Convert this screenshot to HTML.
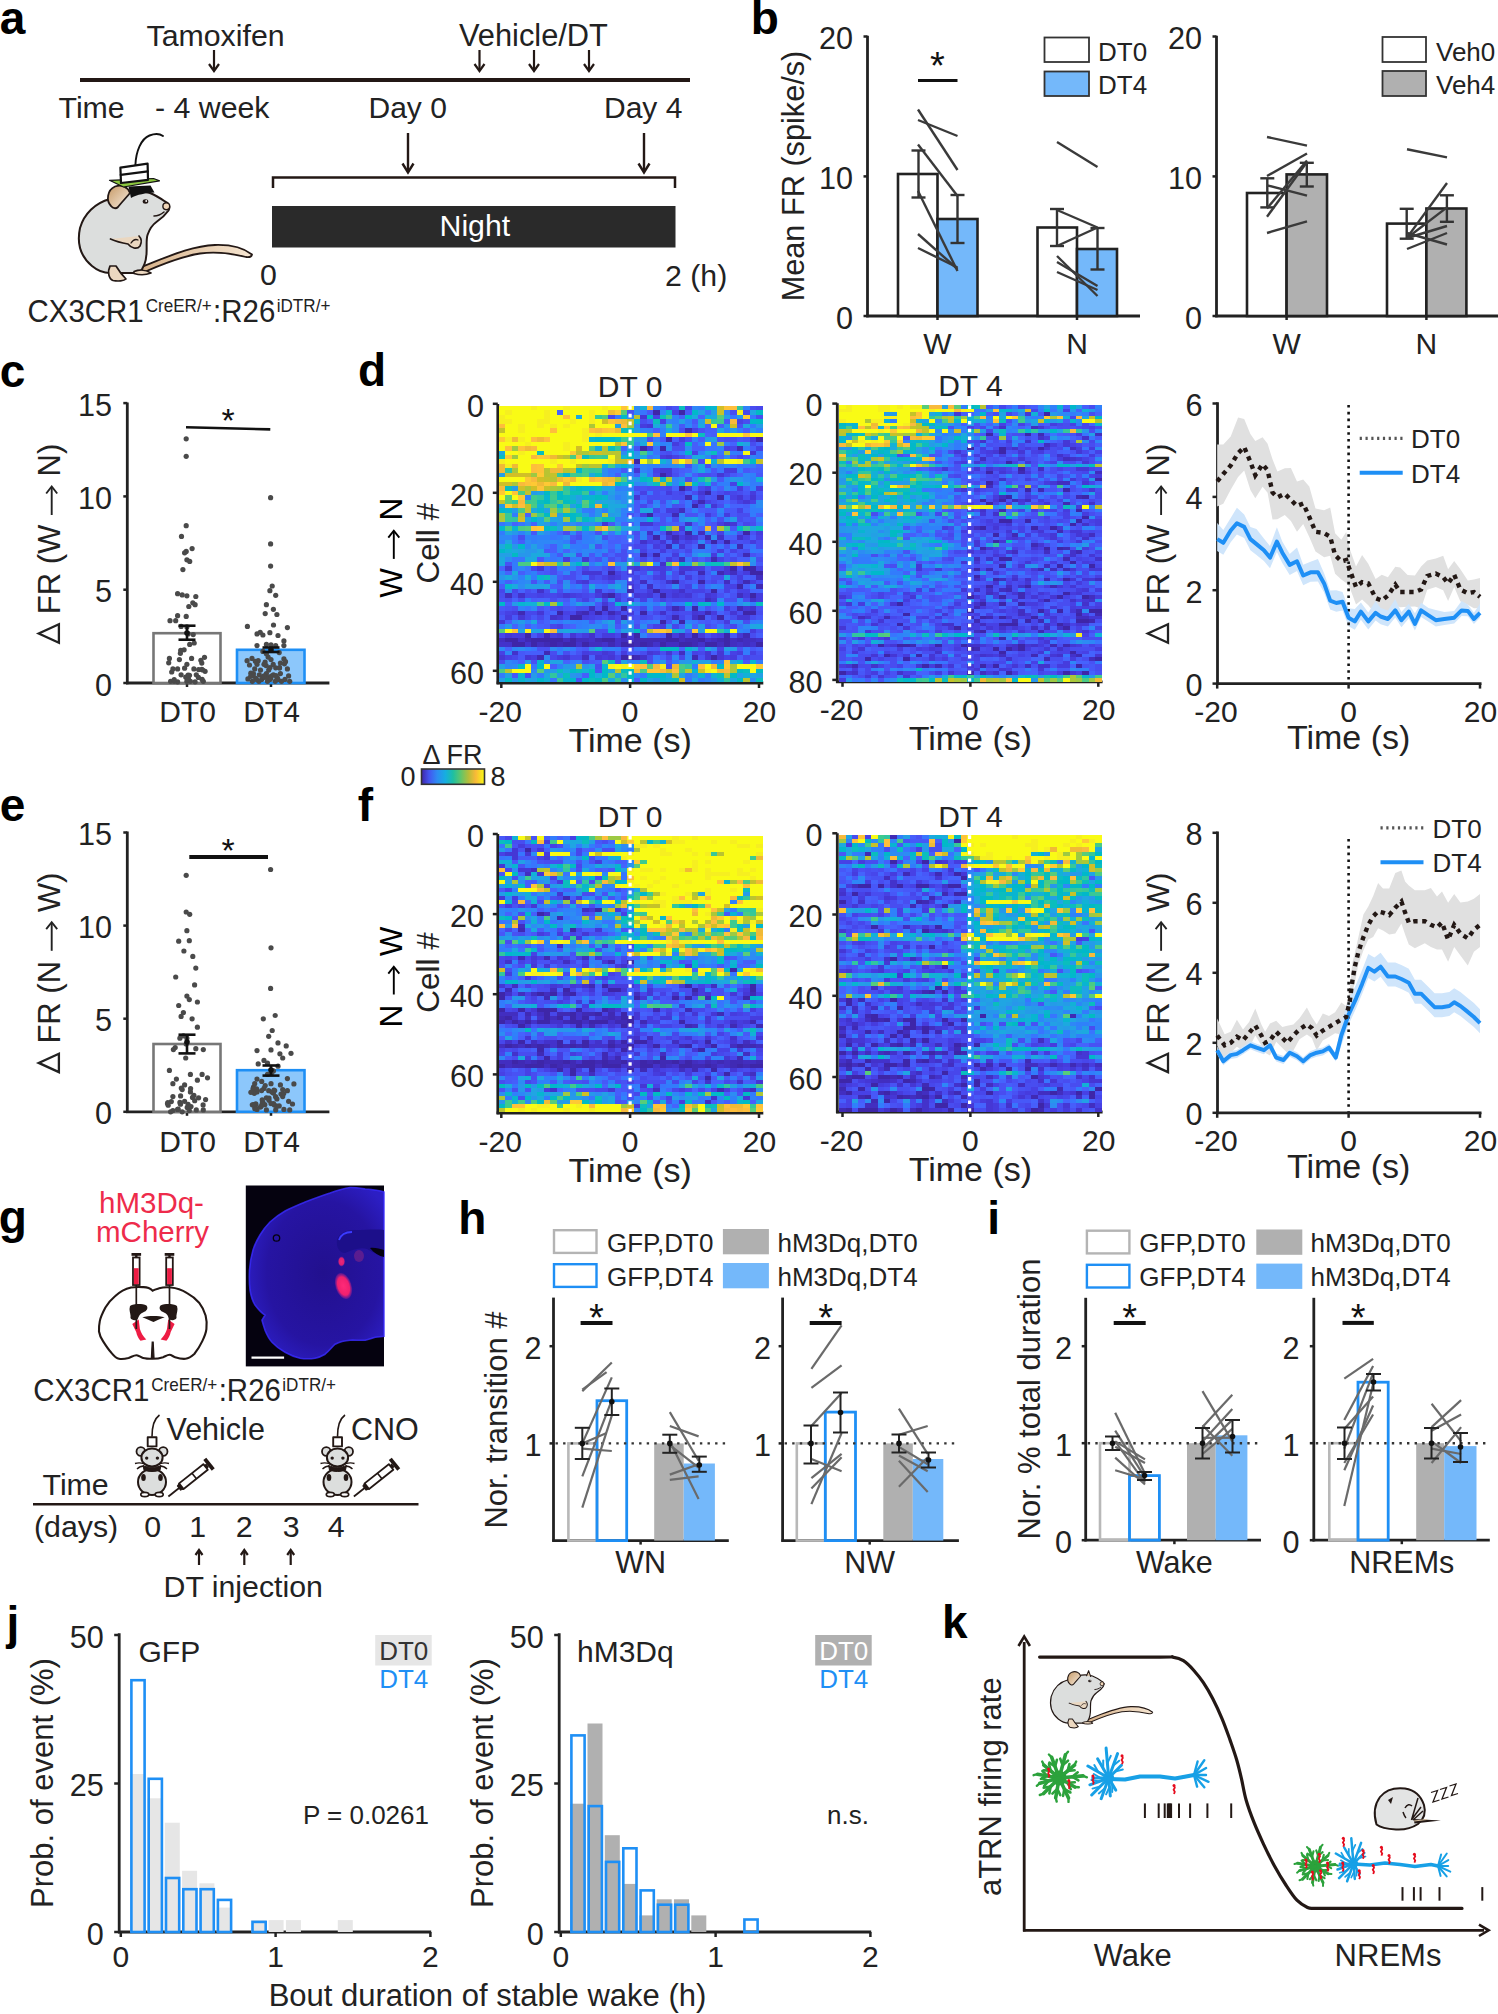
<!DOCTYPE html>
<html><head><meta charset="utf-8"><style>
html,body{margin:0;padding:0;background:#fff;}
svg{display:block;}
text{font-family:"Liberation Sans", sans-serif;}
</style></head><body>
<svg xmlns="http://www.w3.org/2000/svg" width="1498" height="2014" viewBox="0 0 1498 2014" font-family='"Liberation Sans", sans-serif' font-size="30" fill="#222">
<rect width="1498" height="2014" fill="#fff"/>
<text x="-0.2" y="34.3" font-weight="bold" fill="#000" font-size="46">a</text>
<text x="146.5" y="46" font-size="30.3">Tamoxifen</text>
<line x1="214" y1="50" x2="214" y2="69" stroke="#231815" stroke-width="2.2"/>
<path d="M209,64 L214,71 L219,64" fill="none" stroke="#231815" stroke-width="2.2" stroke-linejoin="miter"/>
<text x="459" y="46" font-size="30.8">Vehicle/DT</text>
<line x1="479.5" y1="50" x2="479.5" y2="69" stroke="#231815" stroke-width="2.2"/>
<path d="M474.5,64 L479.5,71 L484.5,64" fill="none" stroke="#231815" stroke-width="2.2" stroke-linejoin="miter"/>
<line x1="534" y1="50" x2="534" y2="69" stroke="#231815" stroke-width="2.2"/>
<path d="M529,64 L534,71 L539,64" fill="none" stroke="#231815" stroke-width="2.2" stroke-linejoin="miter"/>
<line x1="589" y1="50" x2="589" y2="69" stroke="#231815" stroke-width="2.2"/>
<path d="M584,64 L589,71 L594,64" fill="none" stroke="#231815" stroke-width="2.2" stroke-linejoin="miter"/>
<line x1="80" y1="80" x2="690" y2="80" stroke="#231815" stroke-width="4"/>
<text x="58.5" y="117.5" font-size="30.3">Time</text>
<text x="155" y="117.5" font-size="30.3">- 4 week</text>
<text x="368.5" y="117.5">Day 0</text>
<text x="604" y="117.5">Day 4</text>
<line x1="408" y1="133" x2="408" y2="170.5" stroke="#231815" stroke-width="2.4"/>
<path d="M402.5,163.5 L408,172.5 L413.5,163.5" fill="none" stroke="#231815" stroke-width="2.4" stroke-linejoin="miter"/>
<line x1="644" y1="133" x2="644" y2="170.5" stroke="#231815" stroke-width="2.4"/>
<path d="M638.5,163.5 L644,172.5 L649.5,163.5" fill="none" stroke="#231815" stroke-width="2.4" stroke-linejoin="miter"/>
<path d="M273,188 L273,177.5 L675,177.5 L675,188" fill="none" stroke="#231815" stroke-width="2.5"/>
<rect x="272" y="206" width="403.5" height="41.5" fill="#2a2a2a"/>
<text x="439.5" y="236" fill="#fff" font-size="30.3">Night</text>
<text x="268.5" y="285" text-anchor="middle" font-size="30.3">0</text>
<text x="665" y="286" font-size="30.3">2 (h)</text>
<text transform="translate(27.6,322) scale(0.95,1)" font-size="31">CX3CR1<tspan font-size="18" dx="2" dy="-10">CreER/+</tspan><tspan dx="1.5" dy="10">:R26</tspan><tspan font-size="18" dx="1.5" dy="-10">iDTR/+</tspan></text>
<text x="750.8" y="34.3" font-weight="bold" fill="#000" font-size="46">b</text>
<line x1="867.5" y1="35.8" x2="867.5" y2="317.2" stroke="#222" stroke-width="2.8"/>
<line x1="866.3" y1="316" x2="1140" y2="316" stroke="#222" stroke-width="2.8"/>
<line x1="863.5" y1="316" x2="867.5" y2="316" stroke="#222" stroke-width="2.5"/>
<text x="853" y="328.5" text-anchor="end" font-size="30.6">0</text>
<line x1="863.5" y1="176.4" x2="867.5" y2="176.4" stroke="#222" stroke-width="2.5"/>
<text x="853" y="188.9" text-anchor="end" font-size="30.6">10</text>
<line x1="863.5" y1="36.5" x2="867.5" y2="36.5" stroke="#222" stroke-width="2.5"/>
<text x="853" y="49" text-anchor="end" font-size="30.6">20</text>
<line x1="937.5" y1="316" x2="937.5" y2="320" stroke="#222" stroke-width="2.5"/>
<text x="937.5" y="354" text-anchor="middle">W</text>
<line x1="1077" y1="316" x2="1077" y2="320" stroke="#222" stroke-width="2.5"/>
<text x="1077" y="354" text-anchor="middle">N</text>
<text transform="translate(804,176) rotate(-90)" text-anchor="middle" font-size="30.7">Mean FR (spike/s)</text>
<rect x="898" y="174" width="39.5" height="142" fill="#fff" stroke="#222" stroke-width="2.6"/>
<rect x="937.5" y="219" width="40" height="97" fill="#74b8fa" stroke="#222" stroke-width="2.6"/>
<rect x="1037.5" y="227.5" width="39.5" height="88.5" fill="#fff" stroke="#222" stroke-width="2.6"/>
<rect x="1077" y="249" width="40" height="67" fill="#74b8fa" stroke="#222" stroke-width="2.6"/>
<line x1="918.5" y1="150.5" x2="918.5" y2="197.5" stroke="#333" stroke-width="2.4"/>
<line x1="911.5" y1="150.5" x2="925.5" y2="150.5" stroke="#333" stroke-width="2.4"/>
<line x1="911.5" y1="197.5" x2="925.5" y2="197.5" stroke="#333" stroke-width="2.4"/>
<line x1="957.5" y1="195" x2="957.5" y2="243" stroke="#333" stroke-width="2.4"/>
<line x1="950.5" y1="195" x2="964.5" y2="195" stroke="#333" stroke-width="2.4"/>
<line x1="950.5" y1="243" x2="964.5" y2="243" stroke="#333" stroke-width="2.4"/>
<line x1="1057" y1="209" x2="1057" y2="246" stroke="#333" stroke-width="2.4"/>
<line x1="1050" y1="209" x2="1064" y2="209" stroke="#333" stroke-width="2.4"/>
<line x1="1050" y1="246" x2="1064" y2="246" stroke="#333" stroke-width="2.4"/>
<line x1="1097.5" y1="228" x2="1097.5" y2="269.5" stroke="#333" stroke-width="2.4"/>
<line x1="1090.5" y1="228" x2="1104.5" y2="228" stroke="#333" stroke-width="2.4"/>
<line x1="1090.5" y1="269.5" x2="1104.5" y2="269.5" stroke="#333" stroke-width="2.4"/>
<line x1="918" y1="109.5" x2="957.5" y2="170" stroke="#3a3a3a" stroke-width="2.4"/>
<line x1="918" y1="120" x2="957.5" y2="136" stroke="#3a3a3a" stroke-width="2.4"/>
<line x1="918" y1="144.5" x2="957.5" y2="196" stroke="#3a3a3a" stroke-width="2.4"/>
<line x1="918" y1="191" x2="957.5" y2="271" stroke="#3a3a3a" stroke-width="2.4"/>
<line x1="918" y1="234" x2="957.5" y2="269" stroke="#3a3a3a" stroke-width="2.4"/>
<line x1="918" y1="248" x2="957.5" y2="267.5" stroke="#3a3a3a" stroke-width="2.4"/>
<line x1="1057" y1="142" x2="1097.5" y2="167" stroke="#3a3a3a" stroke-width="2.4"/>
<line x1="1057" y1="210" x2="1097.5" y2="227.5" stroke="#3a3a3a" stroke-width="2.4"/>
<line x1="1057" y1="246" x2="1097.5" y2="227.5" stroke="#3a3a3a" stroke-width="2.4"/>
<line x1="1057" y1="256" x2="1097.5" y2="296" stroke="#3a3a3a" stroke-width="2.4"/>
<line x1="1057" y1="272" x2="1097.5" y2="290" stroke="#3a3a3a" stroke-width="2.4"/>
<line x1="1057" y1="262" x2="1097.5" y2="286" stroke="#3a3a3a" stroke-width="2.4"/>
<line x1="918" y1="80.5" x2="957.5" y2="80.5" stroke="#111" stroke-width="3.2"/>
<text x="937.5" y="79" text-anchor="middle" fill="#111" font-size="38">*</text>
<rect x="1044.5" y="37.5" width="44.5" height="24.5" fill="#fff" stroke="#333" stroke-width="1.8"/>
<rect x="1044.5" y="71.5" width="44.5" height="24.5" fill="#74b8fa" stroke="#333" stroke-width="1.8"/>
<text x="1098" y="60.6" font-size="26">DT0</text>
<text x="1098" y="94.3" font-size="26">DT4</text>
<line x1="1216.5" y1="35.8" x2="1216.5" y2="317.2" stroke="#222" stroke-width="2.8"/>
<line x1="1215.3" y1="316" x2="1498" y2="316" stroke="#222" stroke-width="2.8"/>
<line x1="1212.5" y1="316" x2="1216.5" y2="316" stroke="#222" stroke-width="2.5"/>
<text x="1202" y="328.5" text-anchor="end" font-size="30.6">0</text>
<line x1="1212.5" y1="176.4" x2="1216.5" y2="176.4" stroke="#222" stroke-width="2.5"/>
<text x="1202" y="188.9" text-anchor="end" font-size="30.6">10</text>
<line x1="1212.5" y1="36.5" x2="1216.5" y2="36.5" stroke="#222" stroke-width="2.5"/>
<text x="1202" y="49" text-anchor="end" font-size="30.6">20</text>
<line x1="1286.6" y1="316" x2="1286.6" y2="320" stroke="#222" stroke-width="2.5"/>
<text x="1286.6" y="354" text-anchor="middle">W</text>
<line x1="1426.4" y1="316" x2="1426.4" y2="320" stroke="#222" stroke-width="2.5"/>
<text x="1426.4" y="354" text-anchor="middle">N</text>
<rect x="1247" y="193" width="39.6" height="123" fill="#fff" stroke="#222" stroke-width="2.6"/>
<rect x="1286.6" y="174.4" width="40.4" height="141.6" fill="#b0b0b0" stroke="#222" stroke-width="2.6"/>
<rect x="1387" y="223.6" width="39.4" height="92.4" fill="#fff" stroke="#222" stroke-width="2.6"/>
<rect x="1426.4" y="208.5" width="40" height="107.5" fill="#b0b0b0" stroke="#222" stroke-width="2.6"/>
<line x1="1267.3" y1="178.3" x2="1267.3" y2="207.4" stroke="#333" stroke-width="2.4"/>
<line x1="1260.3" y1="178.3" x2="1274.3" y2="178.3" stroke="#333" stroke-width="2.4"/>
<line x1="1260.3" y1="207.4" x2="1274.3" y2="207.4" stroke="#333" stroke-width="2.4"/>
<line x1="1306.8" y1="162.8" x2="1306.8" y2="186.5" stroke="#333" stroke-width="2.4"/>
<line x1="1299.8" y1="162.8" x2="1313.8" y2="162.8" stroke="#333" stroke-width="2.4"/>
<line x1="1299.8" y1="186.5" x2="1313.8" y2="186.5" stroke="#333" stroke-width="2.4"/>
<line x1="1406.7" y1="208.8" x2="1406.7" y2="238.7" stroke="#333" stroke-width="2.4"/>
<line x1="1399.7" y1="208.8" x2="1413.7" y2="208.8" stroke="#333" stroke-width="2.4"/>
<line x1="1399.7" y1="238.7" x2="1413.7" y2="238.7" stroke="#333" stroke-width="2.4"/>
<line x1="1446.9" y1="195.3" x2="1446.9" y2="221.8" stroke="#333" stroke-width="2.4"/>
<line x1="1439.9" y1="195.3" x2="1453.9" y2="195.3" stroke="#333" stroke-width="2.4"/>
<line x1="1439.9" y1="221.8" x2="1453.9" y2="221.8" stroke="#333" stroke-width="2.4"/>
<line x1="1267" y1="137" x2="1307" y2="145.6" stroke="#3a3a3a" stroke-width="2.4"/>
<line x1="1267" y1="176" x2="1307" y2="153.5" stroke="#3a3a3a" stroke-width="2.4"/>
<line x1="1267" y1="185.3" x2="1307" y2="195.7" stroke="#3a3a3a" stroke-width="2.4"/>
<line x1="1267" y1="208.5" x2="1307" y2="160.4" stroke="#3a3a3a" stroke-width="2.4"/>
<line x1="1267" y1="216.7" x2="1307" y2="162" stroke="#3a3a3a" stroke-width="2.4"/>
<line x1="1267" y1="233" x2="1307" y2="221.3" stroke="#3a3a3a" stroke-width="2.4"/>
<line x1="1407" y1="149.3" x2="1447" y2="157.4" stroke="#3a3a3a" stroke-width="2.4"/>
<line x1="1407" y1="237.6" x2="1447" y2="183" stroke="#3a3a3a" stroke-width="2.4"/>
<line x1="1407" y1="238" x2="1447" y2="207.4" stroke="#3a3a3a" stroke-width="2.4"/>
<line x1="1407" y1="238" x2="1447" y2="226" stroke="#3a3a3a" stroke-width="2.4"/>
<line x1="1407" y1="233" x2="1447" y2="244.5" stroke="#3a3a3a" stroke-width="2.4"/>
<line x1="1407" y1="249" x2="1447" y2="233" stroke="#3a3a3a" stroke-width="2.4"/>
<rect x="1382.5" y="37" width="43.5" height="25" fill="#fff" stroke="#333" stroke-width="1.8"/>
<rect x="1382.5" y="71" width="43.5" height="25" fill="#b0b0b0" stroke="#333" stroke-width="1.8"/>
<text x="1436" y="60.6" font-size="26">Veh0</text>
<text x="1436" y="94.3" font-size="26">Veh4</text>
<text x="-0.2" y="386.5" font-weight="bold" fill="#000" font-size="46">c</text>
<line x1="127.3" y1="402.5" x2="127.3" y2="684.2" stroke="#222" stroke-width="2.8"/>
<line x1="126.1" y1="683" x2="329.4" y2="683" stroke="#222" stroke-width="2.8"/>
<line x1="123.3" y1="683" x2="127.3" y2="683" stroke="#222" stroke-width="2.5"/>
<text x="112" y="695.5" text-anchor="end" font-size="30.6">0</text>
<line x1="123.3" y1="589.7" x2="127.3" y2="589.7" stroke="#222" stroke-width="2.5"/>
<text x="112" y="602.2" text-anchor="end" font-size="30.6">5</text>
<line x1="123.3" y1="496.4" x2="127.3" y2="496.4" stroke="#222" stroke-width="2.5"/>
<text x="112" y="508.9" text-anchor="end" font-size="30.6">10</text>
<line x1="123.3" y1="403.1" x2="127.3" y2="403.1" stroke="#222" stroke-width="2.5"/>
<text x="112" y="415.6" text-anchor="end" font-size="30.6">15</text>
<line x1="187" y1="683" x2="187" y2="687" stroke="#222" stroke-width="2.5"/>
<text x="187.5" y="721.5" text-anchor="middle">DT0</text>
<line x1="271" y1="683" x2="271" y2="687" stroke="#222" stroke-width="2.5"/>
<text x="271.5" y="721.5" text-anchor="middle">DT4</text>
<path d="M58.9,624.3 L38.7,633.5 L58.9,642.7 Z" fill="none" stroke="#222" stroke-width="2.3" stroke-linejoin="miter"/>
<text transform="translate(60,614.2) rotate(-90)" font-size="31">FR (W</text>
<text transform="translate(60,476.4) rotate(-90)" font-size="31">N)</text>
<line x1="51.7" y1="515" x2="51.7" y2="487.5" stroke="#222" stroke-width="1.9"/>
<path d="M46.2,493.5 L51.7,486.5 L57.2,493.5" fill="none" stroke="#222" stroke-width="1.9"/>
<rect x="153.5" y="633.2" width="67" height="49.8" fill="#fff" stroke="#777" stroke-width="2.6"/>
<rect x="237" y="649.8" width="67.5" height="33.2" fill="#8cc7fb" stroke="#1e8ff5" stroke-width="2.6"/>
<circle cx="186.2" cy="438.8" r="2.6" fill="#4a4a4a"/>
<circle cx="186.2" cy="456.3" r="2.6" fill="#4a4a4a"/>
<circle cx="186.2" cy="525.7" r="2.6" fill="#4a4a4a"/>
<circle cx="181.5" cy="536.4" r="2.6" fill="#4a4a4a"/>
<circle cx="192.1" cy="548.6" r="2.6" fill="#4a4a4a"/>
<circle cx="186.2" cy="551.4" r="2.6" fill="#4a4a4a"/>
<circle cx="184.6" cy="552.8" r="2.6" fill="#4a4a4a"/>
<circle cx="186.9" cy="559.8" r="2.6" fill="#4a4a4a"/>
<circle cx="189.7" cy="561.4" r="2.6" fill="#4a4a4a"/>
<circle cx="182.9" cy="569.6" r="2.6" fill="#4a4a4a"/>
<circle cx="177.6" cy="593.7" r="2.6" fill="#4a4a4a"/>
<circle cx="186.9" cy="595.8" r="2.6" fill="#4a4a4a"/>
<circle cx="195.8" cy="596.5" r="2.6" fill="#4a4a4a"/>
<circle cx="182.2" cy="594.9" r="2.6" fill="#4a4a4a"/>
<circle cx="192.8" cy="602.8" r="2.6" fill="#4a4a4a"/>
<circle cx="188.8" cy="606.5" r="2.6" fill="#4a4a4a"/>
<circle cx="195.1" cy="604.7" r="2.6" fill="#4a4a4a"/>
<circle cx="177.6" cy="615.7" r="2.6" fill="#4a4a4a"/>
<circle cx="186.2" cy="616.4" r="2.6" fill="#4a4a4a"/>
<circle cx="181.1" cy="626.4" r="2.6" fill="#4a4a4a"/>
<circle cx="186.9" cy="626.9" r="2.6" fill="#4a4a4a"/>
<circle cx="188.1" cy="633.9" r="2.6" fill="#4a4a4a"/>
<circle cx="193.2" cy="634.6" r="2.6" fill="#4a4a4a"/>
<circle cx="189.7" cy="644.4" r="2.6" fill="#4a4a4a"/>
<circle cx="180.4" cy="653.3" r="2.6" fill="#4a4a4a"/>
<circle cx="169.4" cy="658.4" r="2.6" fill="#4a4a4a"/>
<circle cx="179.4" cy="659.6" r="2.6" fill="#4a4a4a"/>
<circle cx="191.6" cy="658.4" r="2.6" fill="#4a4a4a"/>
<circle cx="200.9" cy="660.3" r="2.6" fill="#4a4a4a"/>
<circle cx="186.9" cy="664.3" r="2.6" fill="#4a4a4a"/>
<circle cx="172.9" cy="668.9" r="2.6" fill="#4a4a4a"/>
<circle cx="177.6" cy="668.9" r="2.6" fill="#4a4a4a"/>
<circle cx="184.6" cy="668.2" r="2.6" fill="#4a4a4a"/>
<circle cx="193.9" cy="668.9" r="2.6" fill="#4a4a4a"/>
<circle cx="198.6" cy="669.6" r="2.6" fill="#4a4a4a"/>
<circle cx="205.1" cy="671.3" r="2.6" fill="#4a4a4a"/>
<circle cx="171.7" cy="672" r="2.6" fill="#4a4a4a"/>
<circle cx="181.1" cy="674.8" r="2.6" fill="#4a4a4a"/>
<circle cx="188.1" cy="675.2" r="2.6" fill="#4a4a4a"/>
<circle cx="185.7" cy="677.1" r="2.6" fill="#4a4a4a"/>
<circle cx="196.3" cy="674.8" r="2.6" fill="#4a4a4a"/>
<circle cx="170.6" cy="681.3" r="2.6" fill="#4a4a4a"/>
<circle cx="186.9" cy="681.3" r="2.6" fill="#4a4a4a"/>
<circle cx="203.3" cy="681.3" r="2.6" fill="#4a4a4a"/>
<circle cx="177.6" cy="681.8" r="2.6" fill="#4a4a4a"/>
<circle cx="195.1" cy="681.8" r="2.6" fill="#4a4a4a"/>
<circle cx="202.1" cy="679.4" r="2.6" fill="#4a4a4a"/>
<circle cx="174.1" cy="681.3" r="2.6" fill="#4a4a4a"/>
<circle cx="190.4" cy="681.3" r="2.6" fill="#4a4a4a"/>
<circle cx="270.6" cy="497.7" r="2.6" fill="#4a4a4a"/>
<circle cx="270.6" cy="543.9" r="2.6" fill="#4a4a4a"/>
<circle cx="270.6" cy="566.1" r="2.6" fill="#4a4a4a"/>
<circle cx="272.2" cy="586" r="2.6" fill="#4a4a4a"/>
<circle cx="269.9" cy="590.7" r="2.6" fill="#4a4a4a"/>
<circle cx="275.7" cy="595.3" r="2.6" fill="#4a4a4a"/>
<circle cx="266.4" cy="604.7" r="2.6" fill="#4a4a4a"/>
<circle cx="273.4" cy="609.3" r="2.6" fill="#4a4a4a"/>
<circle cx="265.2" cy="613.6" r="2.6" fill="#4a4a4a"/>
<circle cx="276.9" cy="614.5" r="2.6" fill="#4a4a4a"/>
<circle cx="269.9" cy="632.7" r="2.6" fill="#4a4a4a"/>
<circle cx="257" cy="633.9" r="2.6" fill="#4a4a4a"/>
<circle cx="262.9" cy="635" r="2.6" fill="#4a4a4a"/>
<circle cx="278" cy="635.5" r="2.6" fill="#4a4a4a"/>
<circle cx="283.9" cy="640.9" r="2.6" fill="#4a4a4a"/>
<circle cx="266.4" cy="644.4" r="2.6" fill="#4a4a4a"/>
<circle cx="271" cy="644.9" r="2.6" fill="#4a4a4a"/>
<circle cx="257" cy="645.6" r="2.6" fill="#4a4a4a"/>
<circle cx="275.7" cy="645.6" r="2.6" fill="#4a4a4a"/>
<circle cx="283.9" cy="645.6" r="2.6" fill="#4a4a4a"/>
<circle cx="262.9" cy="651.4" r="2.6" fill="#4a4a4a"/>
<circle cx="279.2" cy="652.6" r="2.6" fill="#4a4a4a"/>
<circle cx="266.4" cy="653.7" r="2.6" fill="#4a4a4a"/>
<circle cx="258.2" cy="660.7" r="2.6" fill="#4a4a4a"/>
<circle cx="271" cy="659.6" r="2.6" fill="#4a4a4a"/>
<circle cx="283.9" cy="658.9" r="2.6" fill="#4a4a4a"/>
<circle cx="257" cy="664.3" r="2.6" fill="#4a4a4a"/>
<circle cx="264" cy="664.3" r="2.6" fill="#4a4a4a"/>
<circle cx="280.4" cy="663.1" r="2.6" fill="#4a4a4a"/>
<circle cx="254.7" cy="668.9" r="2.6" fill="#4a4a4a"/>
<circle cx="260.5" cy="670.1" r="2.6" fill="#4a4a4a"/>
<circle cx="268.7" cy="670.1" r="2.6" fill="#4a4a4a"/>
<circle cx="275.7" cy="667.8" r="2.6" fill="#4a4a4a"/>
<circle cx="287.4" cy="668.9" r="2.6" fill="#4a4a4a"/>
<circle cx="253.5" cy="673.6" r="2.6" fill="#4a4a4a"/>
<circle cx="259.3" cy="674.8" r="2.6" fill="#4a4a4a"/>
<circle cx="266.4" cy="673.6" r="2.6" fill="#4a4a4a"/>
<circle cx="273.4" cy="674.8" r="2.6" fill="#4a4a4a"/>
<circle cx="280.4" cy="673.6" r="2.6" fill="#4a4a4a"/>
<circle cx="288.6" cy="675.9" r="2.6" fill="#4a4a4a"/>
<circle cx="255.8" cy="678.3" r="2.6" fill="#4a4a4a"/>
<circle cx="261.7" cy="679.4" r="2.6" fill="#4a4a4a"/>
<circle cx="269.9" cy="679.4" r="2.6" fill="#4a4a4a"/>
<circle cx="278" cy="679.4" r="2.6" fill="#4a4a4a"/>
<circle cx="285" cy="679.4" r="2.6" fill="#4a4a4a"/>
<circle cx="252.3" cy="681.3" r="2.6" fill="#4a4a4a"/>
<circle cx="267.5" cy="681.3" r="2.6" fill="#4a4a4a"/>
<circle cx="289.7" cy="681.3" r="2.6" fill="#4a4a4a"/>
<circle cx="262.9" cy="677.1" r="2.6" fill="#4a4a4a"/>
<circle cx="281.5" cy="681.3" r="2.6" fill="#4a4a4a"/>
<circle cx="275.2" cy="681.3" r="2.6" fill="#4a4a4a"/>
<circle cx="258.9" cy="681.3" r="2.6" fill="#4a4a4a"/>
<circle cx="202.8" cy="670" r="2.6" fill="#4a4a4a"/>
<circle cx="174.2" cy="679.7" r="2.6" fill="#4a4a4a"/>
<circle cx="170" cy="620.7" r="2.6" fill="#4a4a4a"/>
<circle cx="187.5" cy="679.3" r="2.6" fill="#4a4a4a"/>
<circle cx="194.2" cy="643" r="2.6" fill="#4a4a4a"/>
<circle cx="180.7" cy="650.4" r="2.6" fill="#4a4a4a"/>
<circle cx="201.8" cy="669.4" r="2.6" fill="#4a4a4a"/>
<circle cx="186.7" cy="677.6" r="2.6" fill="#4a4a4a"/>
<circle cx="175.7" cy="620.7" r="2.6" fill="#4a4a4a"/>
<circle cx="188.5" cy="678.9" r="2.6" fill="#4a4a4a"/>
<circle cx="198.4" cy="677.4" r="2.6" fill="#4a4a4a"/>
<circle cx="204.5" cy="657.3" r="2.6" fill="#4a4a4a"/>
<circle cx="168.7" cy="662.8" r="2.6" fill="#4a4a4a"/>
<circle cx="189.5" cy="675.3" r="2.6" fill="#4a4a4a"/>
<circle cx="201.8" cy="663.1" r="2.6" fill="#4a4a4a"/>
<circle cx="184.1" cy="649.8" r="2.6" fill="#4a4a4a"/>
<circle cx="264.9" cy="677.3" r="2.6" fill="#4a4a4a"/>
<circle cx="279.5" cy="667.6" r="2.6" fill="#4a4a4a"/>
<circle cx="268.1" cy="657.1" r="2.6" fill="#4a4a4a"/>
<circle cx="287.4" cy="627.6" r="2.6" fill="#4a4a4a"/>
<circle cx="273.2" cy="664.4" r="2.6" fill="#4a4a4a"/>
<circle cx="266.8" cy="676.9" r="2.6" fill="#4a4a4a"/>
<circle cx="284.4" cy="663.8" r="2.6" fill="#4a4a4a"/>
<circle cx="265.1" cy="662" r="2.6" fill="#4a4a4a"/>
<circle cx="279.5" cy="668" r="2.6" fill="#4a4a4a"/>
<circle cx="247.9" cy="678.9" r="2.6" fill="#4a4a4a"/>
<circle cx="270" cy="667.6" r="2.6" fill="#4a4a4a"/>
<circle cx="271.3" cy="676" r="2.6" fill="#4a4a4a"/>
<circle cx="249.5" cy="665" r="2.6" fill="#4a4a4a"/>
<circle cx="277.2" cy="677.5" r="2.6" fill="#4a4a4a"/>
<circle cx="285.5" cy="661.7" r="2.6" fill="#4a4a4a"/>
<circle cx="260.2" cy="632.3" r="2.6" fill="#4a4a4a"/>
<circle cx="277.2" cy="678.5" r="2.6" fill="#4a4a4a"/>
<circle cx="250.8" cy="673.2" r="2.6" fill="#4a4a4a"/>
<circle cx="247.4" cy="626.4" r="2.6" fill="#4a4a4a"/>
<circle cx="255.4" cy="661.3" r="2.6" fill="#4a4a4a"/>
<circle cx="273.5" cy="625" r="2.6" fill="#4a4a4a"/>
<circle cx="264.1" cy="675.9" r="2.6" fill="#4a4a4a"/>
<circle cx="253.3" cy="675.8" r="2.6" fill="#4a4a4a"/>
<circle cx="256.5" cy="679.6" r="2.6" fill="#4a4a4a"/>
<circle cx="275.9" cy="675.6" r="2.6" fill="#4a4a4a"/>
<circle cx="250.7" cy="676.3" r="2.6" fill="#4a4a4a"/>
<circle cx="270.7" cy="678.2" r="2.6" fill="#4a4a4a"/>
<circle cx="266.1" cy="665.6" r="2.6" fill="#4a4a4a"/>
<circle cx="247.1" cy="660.7" r="2.6" fill="#4a4a4a"/>
<circle cx="252" cy="658.4" r="2.6" fill="#4a4a4a"/>
<line x1="187" y1="625.7" x2="187" y2="639.7" stroke="#111" stroke-width="2.6"/>
<line x1="178.5" y1="625.7" x2="195.5" y2="625.7" stroke="#111" stroke-width="2.6"/>
<line x1="178.5" y1="639.7" x2="195.5" y2="639.7" stroke="#111" stroke-width="2.6"/>
<line x1="271" y1="647.5" x2="271" y2="652" stroke="#111" stroke-width="2.6"/>
<line x1="262.5" y1="647.5" x2="279.5" y2="647.5" stroke="#111" stroke-width="2.6"/>
<line x1="262.5" y1="652" x2="279.5" y2="652" stroke="#111" stroke-width="2.6"/>
<circle cx="187" cy="633" r="2.8" fill="#111"/>
<circle cx="271" cy="649.8" r="2.8" fill="#111"/>
<line x1="186" y1="427.3" x2="270.3" y2="429.4" stroke="#111" stroke-width="2.6"/>
<text x="228" y="432.3" text-anchor="middle" fill="#111" font-size="34">*</text>
<text x="-0.2" y="820.7" font-weight="bold" fill="#000" font-size="46">e</text>
<line x1="127.3" y1="831.4" x2="127.3" y2="1113" stroke="#222" stroke-width="2.8"/>
<line x1="126.1" y1="1111.8" x2="329.4" y2="1111.8" stroke="#222" stroke-width="2.8"/>
<line x1="123.3" y1="1111.8" x2="127.3" y2="1111.8" stroke="#222" stroke-width="2.5"/>
<text x="112" y="1124.3" text-anchor="end" font-size="30.6">0</text>
<line x1="123.3" y1="1018.7" x2="127.3" y2="1018.7" stroke="#222" stroke-width="2.5"/>
<text x="112" y="1031.2" text-anchor="end" font-size="30.6">5</text>
<line x1="123.3" y1="925.6" x2="127.3" y2="925.6" stroke="#222" stroke-width="2.5"/>
<text x="112" y="938.1" text-anchor="end" font-size="30.6">10</text>
<line x1="123.3" y1="832.5" x2="127.3" y2="832.5" stroke="#222" stroke-width="2.5"/>
<text x="112" y="845" text-anchor="end" font-size="30.6">15</text>
<line x1="187" y1="1111.8" x2="187" y2="1115.8" stroke="#222" stroke-width="2.5"/>
<text x="187.5" y="1151.5" text-anchor="middle">DT0</text>
<line x1="271" y1="1111.8" x2="271" y2="1115.8" stroke="#222" stroke-width="2.5"/>
<text x="271.5" y="1151.5" text-anchor="middle">DT4</text>
<path d="M58.9,1053.7 L38.7,1062.9 L58.9,1072.1 Z" fill="none" stroke="#222" stroke-width="2.3" stroke-linejoin="miter"/>
<text transform="translate(60,1043.6) rotate(-90)" font-size="31">FR (N</text>
<text transform="translate(60,912.3) rotate(-90)" font-size="31">W)</text>
<line x1="51.7" y1="950.8" x2="51.7" y2="923.2" stroke="#222" stroke-width="1.9"/>
<path d="M46.2,929.2 L51.7,922.2 L57.2,929.2" fill="none" stroke="#222" stroke-width="1.9"/>
<rect x="153.5" y="1044" width="67" height="67.8" fill="#fff" stroke="#777" stroke-width="2.6"/>
<rect x="237" y="1070.2" width="67.5" height="41.6" fill="#8cc7fb" stroke="#1e8ff5" stroke-width="2.6"/>
<circle cx="186.2" cy="875.3" r="2.6" fill="#4a4a4a"/>
<circle cx="186.2" cy="912" r="2.6" fill="#4a4a4a"/>
<circle cx="189.7" cy="914.3" r="2.6" fill="#4a4a4a"/>
<circle cx="186.9" cy="930.7" r="2.6" fill="#4a4a4a"/>
<circle cx="178.7" cy="941.2" r="2.6" fill="#4a4a4a"/>
<circle cx="189.3" cy="940.7" r="2.6" fill="#4a4a4a"/>
<circle cx="183.9" cy="951" r="2.6" fill="#4a4a4a"/>
<circle cx="192.8" cy="956.4" r="2.6" fill="#4a4a4a"/>
<circle cx="195.8" cy="968.1" r="2.6" fill="#4a4a4a"/>
<circle cx="175.7" cy="977" r="2.6" fill="#4a4a4a"/>
<circle cx="194.6" cy="984.9" r="2.6" fill="#4a4a4a"/>
<circle cx="186.9" cy="996.1" r="2.6" fill="#4a4a4a"/>
<circle cx="189.3" cy="999.6" r="2.6" fill="#4a4a4a"/>
<circle cx="197.4" cy="1002" r="2.6" fill="#4a4a4a"/>
<circle cx="178.7" cy="1005.5" r="2.6" fill="#4a4a4a"/>
<circle cx="183.4" cy="1012.5" r="2.6" fill="#4a4a4a"/>
<circle cx="181.1" cy="1016.4" r="2.6" fill="#4a4a4a"/>
<circle cx="192.1" cy="1018.8" r="2.6" fill="#4a4a4a"/>
<circle cx="197.4" cy="1027.2" r="2.6" fill="#4a4a4a"/>
<circle cx="183.4" cy="1035.8" r="2.6" fill="#4a4a4a"/>
<circle cx="179.9" cy="1038.2" r="2.6" fill="#4a4a4a"/>
<circle cx="186.9" cy="1038.2" r="2.6" fill="#4a4a4a"/>
<circle cx="186.2" cy="1044" r="2.6" fill="#4a4a4a"/>
<circle cx="175.2" cy="1047.5" r="2.6" fill="#4a4a4a"/>
<circle cx="195.8" cy="1048.7" r="2.6" fill="#4a4a4a"/>
<circle cx="185.7" cy="1058" r="2.6" fill="#4a4a4a"/>
<circle cx="169.4" cy="1070.4" r="2.6" fill="#4a4a4a"/>
<circle cx="190.4" cy="1074.4" r="2.6" fill="#4a4a4a"/>
<circle cx="202.1" cy="1074.4" r="2.6" fill="#4a4a4a"/>
<circle cx="176.4" cy="1079.1" r="2.6" fill="#4a4a4a"/>
<circle cx="197.4" cy="1080.2" r="2.6" fill="#4a4a4a"/>
<circle cx="172.9" cy="1083.7" r="2.6" fill="#4a4a4a"/>
<circle cx="184.6" cy="1084.9" r="2.6" fill="#4a4a4a"/>
<circle cx="182.2" cy="1089.6" r="2.6" fill="#4a4a4a"/>
<circle cx="190.4" cy="1091.9" r="2.6" fill="#4a4a4a"/>
<circle cx="193.9" cy="1095.4" r="2.6" fill="#4a4a4a"/>
<circle cx="172.9" cy="1096.6" r="2.6" fill="#4a4a4a"/>
<circle cx="198.6" cy="1097.8" r="2.6" fill="#4a4a4a"/>
<circle cx="205.6" cy="1099.6" r="2.6" fill="#4a4a4a"/>
<circle cx="184.6" cy="1101.3" r="2.6" fill="#4a4a4a"/>
<circle cx="179.9" cy="1102.4" r="2.6" fill="#4a4a4a"/>
<circle cx="168.2" cy="1105.2" r="2.6" fill="#4a4a4a"/>
<circle cx="188.1" cy="1104.3" r="2.6" fill="#4a4a4a"/>
<circle cx="177.6" cy="1109.4" r="2.6" fill="#4a4a4a"/>
<circle cx="172.9" cy="1110.6" r="2.6" fill="#4a4a4a"/>
<circle cx="189.3" cy="1110.6" r="2.6" fill="#4a4a4a"/>
<circle cx="196.3" cy="1109.9" r="2.6" fill="#4a4a4a"/>
<circle cx="203.3" cy="1109.9" r="2.6" fill="#4a4a4a"/>
<circle cx="170.6" cy="1111.8" r="2.6" fill="#4a4a4a"/>
<circle cx="182.2" cy="1111.8" r="2.6" fill="#4a4a4a"/>
<circle cx="270.6" cy="869.5" r="2.6" fill="#4a4a4a"/>
<circle cx="271" cy="947.8" r="2.6" fill="#4a4a4a"/>
<circle cx="270.6" cy="988.4" r="2.6" fill="#4a4a4a"/>
<circle cx="275.2" cy="1015.5" r="2.6" fill="#4a4a4a"/>
<circle cx="263.3" cy="1018.8" r="2.6" fill="#4a4a4a"/>
<circle cx="272.2" cy="1030.5" r="2.6" fill="#4a4a4a"/>
<circle cx="268.7" cy="1036.3" r="2.6" fill="#4a4a4a"/>
<circle cx="278" cy="1042.9" r="2.6" fill="#4a4a4a"/>
<circle cx="286.2" cy="1045.9" r="2.6" fill="#4a4a4a"/>
<circle cx="257" cy="1050.6" r="2.6" fill="#4a4a4a"/>
<circle cx="271" cy="1049.9" r="2.6" fill="#4a4a4a"/>
<circle cx="279.9" cy="1053.8" r="2.6" fill="#4a4a4a"/>
<circle cx="282.7" cy="1058" r="2.6" fill="#4a4a4a"/>
<circle cx="264" cy="1060.4" r="2.6" fill="#4a4a4a"/>
<circle cx="258.2" cy="1063.9" r="2.6" fill="#4a4a4a"/>
<circle cx="267.5" cy="1063.2" r="2.6" fill="#4a4a4a"/>
<circle cx="278" cy="1066.2" r="2.6" fill="#4a4a4a"/>
<circle cx="273.4" cy="1070.9" r="2.6" fill="#4a4a4a"/>
<circle cx="267.5" cy="1074.4" r="2.6" fill="#4a4a4a"/>
<circle cx="287.4" cy="1078.6" r="2.6" fill="#4a4a4a"/>
<circle cx="257" cy="1079.1" r="2.6" fill="#4a4a4a"/>
<circle cx="261.7" cy="1081.4" r="2.6" fill="#4a4a4a"/>
<circle cx="271" cy="1083.7" r="2.6" fill="#4a4a4a"/>
<circle cx="280.4" cy="1084.9" r="2.6" fill="#4a4a4a"/>
<circle cx="253.5" cy="1087.2" r="2.6" fill="#4a4a4a"/>
<circle cx="264" cy="1088.4" r="2.6" fill="#4a4a4a"/>
<circle cx="287.4" cy="1090.7" r="2.6" fill="#4a4a4a"/>
<circle cx="257" cy="1091.9" r="2.6" fill="#4a4a4a"/>
<circle cx="273.4" cy="1093.1" r="2.6" fill="#4a4a4a"/>
<circle cx="282.7" cy="1096.6" r="2.6" fill="#4a4a4a"/>
<circle cx="266.4" cy="1097.8" r="2.6" fill="#4a4a4a"/>
<circle cx="288.6" cy="1101.3" r="2.6" fill="#4a4a4a"/>
<circle cx="252.3" cy="1104.8" r="2.6" fill="#4a4a4a"/>
<circle cx="260.5" cy="1107.1" r="2.6" fill="#4a4a4a"/>
<circle cx="271" cy="1103.6" r="2.6" fill="#4a4a4a"/>
<circle cx="279.2" cy="1105.9" r="2.6" fill="#4a4a4a"/>
<circle cx="257" cy="1109.4" r="2.6" fill="#4a4a4a"/>
<circle cx="266.4" cy="1109.9" r="2.6" fill="#4a4a4a"/>
<circle cx="275.7" cy="1109.9" r="2.6" fill="#4a4a4a"/>
<circle cx="283.9" cy="1109.4" r="2.6" fill="#4a4a4a"/>
<circle cx="289.7" cy="1109.9" r="2.6" fill="#4a4a4a"/>
<circle cx="262.9" cy="1102.4" r="2.6" fill="#4a4a4a"/>
<circle cx="276.9" cy="1098.9" r="2.6" fill="#4a4a4a"/>
<circle cx="268.7" cy="1090.7" r="2.6" fill="#4a4a4a"/>
<circle cx="282.7" cy="1089.6" r="2.6" fill="#4a4a4a"/>
<circle cx="254.7" cy="1083.7" r="2.6" fill="#4a4a4a"/>
<circle cx="180.5" cy="1104.2" r="2.6" fill="#4a4a4a"/>
<circle cx="181.3" cy="1088.1" r="2.6" fill="#4a4a4a"/>
<circle cx="187.2" cy="1107.4" r="2.6" fill="#4a4a4a"/>
<circle cx="203.1" cy="1104.9" r="2.6" fill="#4a4a4a"/>
<circle cx="194.7" cy="1100.7" r="2.6" fill="#4a4a4a"/>
<circle cx="192.5" cy="1097.4" r="2.6" fill="#4a4a4a"/>
<circle cx="173.4" cy="1049.6" r="2.6" fill="#4a4a4a"/>
<circle cx="167.8" cy="1102.7" r="2.6" fill="#4a4a4a"/>
<circle cx="180.6" cy="1095.9" r="2.6" fill="#4a4a4a"/>
<circle cx="171.3" cy="1101.6" r="2.6" fill="#4a4a4a"/>
<circle cx="190.6" cy="1088.5" r="2.6" fill="#4a4a4a"/>
<circle cx="203.3" cy="1049.6" r="2.6" fill="#4a4a4a"/>
<circle cx="191" cy="1106.6" r="2.6" fill="#4a4a4a"/>
<circle cx="178.2" cy="1109" r="2.6" fill="#4a4a4a"/>
<circle cx="207.5" cy="1077.8" r="2.6" fill="#4a4a4a"/>
<circle cx="167.5" cy="1103.5" r="2.6" fill="#4a4a4a"/>
<circle cx="254.9" cy="1108.7" r="2.6" fill="#4a4a4a"/>
<circle cx="281" cy="1094.1" r="2.6" fill="#4a4a4a"/>
<circle cx="291" cy="1053.3" r="2.6" fill="#4a4a4a"/>
<circle cx="276.8" cy="1106.2" r="2.6" fill="#4a4a4a"/>
<circle cx="274" cy="1090.1" r="2.6" fill="#4a4a4a"/>
<circle cx="255.8" cy="1104.8" r="2.6" fill="#4a4a4a"/>
<circle cx="261.6" cy="1090.6" r="2.6" fill="#4a4a4a"/>
<circle cx="269" cy="1098.1" r="2.6" fill="#4a4a4a"/>
<circle cx="269" cy="1100.3" r="2.6" fill="#4a4a4a"/>
<circle cx="292.5" cy="1104" r="2.6" fill="#4a4a4a"/>
<circle cx="253" cy="1088.9" r="2.6" fill="#4a4a4a"/>
<circle cx="283.7" cy="1093.5" r="2.6" fill="#4a4a4a"/>
<circle cx="265.2" cy="1085.5" r="2.6" fill="#4a4a4a"/>
<circle cx="254.3" cy="1093.3" r="2.6" fill="#4a4a4a"/>
<circle cx="293.9" cy="1083.9" r="2.6" fill="#4a4a4a"/>
<circle cx="250.9" cy="1092.3" r="2.6" fill="#4a4a4a"/>
<circle cx="275.6" cy="1096.7" r="2.6" fill="#4a4a4a"/>
<circle cx="272" cy="1092.1" r="2.6" fill="#4a4a4a"/>
<circle cx="262.2" cy="1099.9" r="2.6" fill="#4a4a4a"/>
<circle cx="271.3" cy="1073.3" r="2.6" fill="#4a4a4a"/>
<circle cx="274.7" cy="1090.6" r="2.6" fill="#4a4a4a"/>
<circle cx="255" cy="1107.5" r="2.6" fill="#4a4a4a"/>
<circle cx="255.8" cy="1103.8" r="2.6" fill="#4a4a4a"/>
<circle cx="274.4" cy="1105.1" r="2.6" fill="#4a4a4a"/>
<circle cx="256.6" cy="1088.9" r="2.6" fill="#4a4a4a"/>
<circle cx="273.5" cy="1103.5" r="2.6" fill="#4a4a4a"/>
<circle cx="264.8" cy="1104.7" r="2.6" fill="#4a4a4a"/>
<circle cx="262.2" cy="1103.6" r="2.6" fill="#4a4a4a"/>
<circle cx="261.3" cy="1106.1" r="2.6" fill="#4a4a4a"/>
<circle cx="253.6" cy="1104.6" r="2.6" fill="#4a4a4a"/>
<line x1="187" y1="1034.7" x2="187" y2="1053.4" stroke="#111" stroke-width="2.6"/>
<line x1="178.5" y1="1034.7" x2="195.5" y2="1034.7" stroke="#111" stroke-width="2.6"/>
<line x1="178.5" y1="1053.4" x2="195.5" y2="1053.4" stroke="#111" stroke-width="2.6"/>
<line x1="271" y1="1065.5" x2="271" y2="1075.6" stroke="#111" stroke-width="2.6"/>
<line x1="262.5" y1="1065.5" x2="279.5" y2="1065.5" stroke="#111" stroke-width="2.6"/>
<line x1="262.5" y1="1075.6" x2="279.5" y2="1075.6" stroke="#111" stroke-width="2.6"/>
<circle cx="187" cy="1042" r="2.8" fill="#111"/>
<circle cx="271" cy="1070" r="2.8" fill="#111"/>
<line x1="189.3" y1="857.1" x2="268" y2="857.1" stroke="#111" stroke-width="4"/>
<text x="228" y="862.1" text-anchor="middle" fill="#111" font-size="34">*</text>
<line x1="1217.5" y1="402.3" x2="1217.5" y2="684.8" stroke="#222" stroke-width="2.8"/>
<line x1="1216.3" y1="683.6" x2="1481.5" y2="683.6" stroke="#222" stroke-width="2.8"/>
<line x1="1212.5" y1="683.6" x2="1217.5" y2="683.6" stroke="#222" stroke-width="2.5"/>
<text x="1202.5" y="696.1" text-anchor="end" font-size="30.6">0</text>
<line x1="1212.5" y1="590.2" x2="1217.5" y2="590.2" stroke="#222" stroke-width="2.5"/>
<text x="1202.5" y="602.7" text-anchor="end" font-size="30.6">2</text>
<line x1="1212.5" y1="496.9" x2="1217.5" y2="496.9" stroke="#222" stroke-width="2.5"/>
<text x="1202.5" y="509.4" text-anchor="end" font-size="30.6">4</text>
<line x1="1212.5" y1="403.5" x2="1217.5" y2="403.5" stroke="#222" stroke-width="2.5"/>
<text x="1202.5" y="416" text-anchor="end" font-size="30.6">6</text>
<line x1="1217.2" y1="683.6" x2="1217.2" y2="688.6" stroke="#222" stroke-width="2.5"/>
<line x1="1348.6" y1="683.6" x2="1348.6" y2="688.6" stroke="#222" stroke-width="2.5"/>
<line x1="1480" y1="683.6" x2="1480" y2="688.6" stroke="#222" stroke-width="2.5"/>
<text x="1216" y="722.1" text-anchor="middle">-20</text>
<text x="1348.6" y="722.1" text-anchor="middle">0</text>
<text x="1480.5" y="722.1" text-anchor="middle">20</text>
<text x="1348.6" y="749.1" text-anchor="middle" font-size="34">Time (s)</text>
<path d="M1168,624.3 L1147.8,633.5 L1168,642.7 Z" fill="none" stroke="#222" stroke-width="2.3" stroke-linejoin="miter"/>
<text transform="translate(1169.1,614.2) rotate(-90)" font-size="31">FR (W</text>
<text transform="translate(1169.1,476.4) rotate(-90)" font-size="31">N)</text>
<line x1="1161.1" y1="515" x2="1161.1" y2="487.5" stroke="#222" stroke-width="1.9"/>
<path d="M1155.6,493.5 L1161.1,486.5 L1166.6,493.5" fill="none" stroke="#222" stroke-width="1.9"/>
<path d="M1217.2,444.4 L1223.3,444.5 L1230.7,436.4 L1238.1,417.6 L1244.2,418.9 L1250.4,434.1 L1255.3,440.9 L1262.6,437.3 L1267.6,443.8 L1272.5,459.3 L1277.4,471.5 L1284.8,468.3 L1290.9,467.9 L1297,481.5 L1303.2,479.4 L1309.3,486.4 L1315.5,508.5 L1324.1,510.3 L1330.2,507.4 L1335.1,533.2 L1341.3,539.8 L1346.2,531.9 L1349.8,548.9 L1356,566.6 L1362.1,555.1 L1368.3,563.7 L1375.6,579 L1381.8,574.8 L1387.9,577.3 L1395.3,566.8 L1400.2,567.5 L1407.6,575 L1414.9,575.5 L1421.1,566.5 L1427.2,560.4 L1435.8,558.5 L1443.2,555.7 L1448.1,569.2 L1454.2,561 L1460.4,569.2 L1467.8,580.4 L1473.9,579.6 L1480,577.9 L1480,607.9 L1473.9,608.3 L1467.8,604.8 L1460.4,601.5 L1454.2,587.1 L1448.1,601 L1443.2,590.2 L1435.8,586.9 L1427.2,589.8 L1421.1,608.6 L1414.9,606.4 L1407.6,606.8 L1400.2,607.2 L1395.3,605.1 L1387.9,611.5 L1381.8,616.8 L1375.6,614.6 L1368.3,605.3 L1362.1,599.4 L1356,604.6 L1349.8,587.8 L1346.2,583.1 L1341.3,579.6 L1335.1,573.8 L1330.2,555.7 L1324.1,557.3 L1315.5,551.5 L1309.3,537.1 L1303.2,523.9 L1297,531.7 L1290.9,520.9 L1284.8,515.1 L1277.4,519.2 L1272.5,519.5 L1267.6,492.7 L1262.6,486.8 L1255.3,498.2 L1250.4,490 L1244.2,470.6 L1238.1,477 L1230.7,489.7 L1223.3,503.7 L1217.2,506.4 Z" fill="#e0e0e0"/>
<path d="M1217.2,523.1 L1223.3,530 L1230.7,517.9 L1236.9,507.7 L1244.2,514.6 L1250.4,527 L1256.5,529.1 L1263.9,538.4 L1270,546 L1276.9,527.2 L1282.3,541.4 L1289.7,553.9 L1297,547.4 L1303.2,564.8 L1310.5,561.8 L1317.9,559 L1324.1,573.2 L1330.2,590.6 L1336.3,590.2 L1342.5,592.1 L1348.6,608.3 L1354.8,609.1 L1360.9,602.4 L1368.3,612.5 L1375.6,601.1 L1380.6,607.9 L1387.9,610.5 L1395.3,599.1 L1401.4,612.1 L1408.8,603.7 L1414.9,613.2 L1421.1,602.8 L1428.5,607.9 L1435.8,610 L1444.4,612 L1454.2,611.1 L1461.6,600.9 L1467.8,604.5 L1473.9,612.8 L1480,603.8 L1480,617.8 L1473.9,624.1 L1467.8,616.2 L1461.6,615.9 L1454.2,623.4 L1444.4,624.9 L1435.8,626.4 L1428.5,621.7 L1421.1,616.9 L1414.9,630.6 L1408.8,618.5 L1401.4,627.3 L1395.3,617.6 L1387.9,626.4 L1380.6,624.2 L1375.6,620.6 L1368.3,629.4 L1360.9,619.8 L1354.8,629.8 L1348.6,626.2 L1342.5,610.4 L1336.3,611.8 L1330.2,609.5 L1324.1,592.5 L1317.9,581.6 L1310.5,581.8 L1303.2,585.2 L1297,571.1 L1289.7,575 L1282.3,562.9 L1276.9,552 L1270,568.2 L1263.9,560.9 L1256.5,555 L1250.4,550.3 L1244.2,538.1 L1236.9,534.6 L1230.7,542.2 L1223.3,554.7 L1217.2,551.1 Z" fill="#cfe5fb"/>
<line x1="1348.6" y1="405" x2="1348.6" y2="682.6" stroke="#111" stroke-width="2.6" stroke-dasharray="2.6 4.2"/>
<path d="M1217.2,539.1 L1223.3,542.8 L1230.7,530.5 L1236.9,523.2 L1244.2,526.9 L1250.4,539.1 L1256.5,544.1 L1263.9,550.2 L1270,557.6 L1276.9,541.6 L1282.3,552.7 L1289.7,564.9 L1297,561.3 L1303.2,575.5 L1310.5,572.3 L1317.9,572.3 L1324.1,583.4 L1330.2,600.6 L1336.3,603 L1342.5,601.8 L1348.6,617.7 L1354.8,621.4 L1360.9,611.6 L1368.3,621.4 L1375.6,612.8 L1380.6,616.5 L1387.9,619 L1395.3,610.4 L1401.4,620.2 L1408.8,611.6 L1414.9,623.9 L1421.1,610.4 L1428.5,615.3 L1435.8,620.2 L1444.4,619 L1454.2,617.7 L1461.6,610.4 L1467.8,610.9 L1473.9,619 L1480,612.8" fill="none" stroke="#1e8ff5" stroke-width="4" stroke-linejoin="round"/>
<path d="M1217.2,481.4 L1223.3,474 L1230.7,465.5 L1238.1,453.2 L1244.2,447 L1250.4,461.8 L1255.3,475.3 L1262.6,464.2 L1267.6,470.4 L1272.5,492.5 L1277.4,497.4 L1284.8,493.7 L1290.9,499.8 L1297,506 L1303.2,503.5 L1309.3,517 L1315.5,531.8 L1324.1,533 L1330.2,536.7 L1335.1,555.1 L1341.3,561.3 L1346.2,560 L1349.8,569.8 L1356,587 L1362.1,582.1 L1368.3,583.4 L1375.6,598.1 L1381.8,600.6 L1387.9,595.6 L1395.3,584.6 L1400.2,592 L1407.6,592 L1414.9,592 L1421.1,589.5 L1427.2,576 L1435.8,573.5 L1443.2,577.2 L1448.1,583.4 L1454.2,574.8 L1460.4,589.5 L1467.8,593.2 L1473.9,592 L1480,596.9" fill="none" stroke="#231815" stroke-width="4.4" stroke-dasharray="4.4 4.6"/>
<line x1="1359.7" y1="438.4" x2="1402.7" y2="438.4" stroke="#555" stroke-width="3.4" stroke-dasharray="2.2 3.6"/>
<line x1="1359.7" y1="472.8" x2="1402.7" y2="472.8" stroke="#1e8ff5" stroke-width="4"/>
<text x="1411" y="448.4" font-size="26">DT0</text>
<text x="1411" y="482.8" font-size="26">DT4</text>
<line x1="1217.5" y1="831.6" x2="1217.5" y2="1114" stroke="#222" stroke-width="2.8"/>
<line x1="1216.3" y1="1112.8" x2="1481.5" y2="1112.8" stroke="#222" stroke-width="2.8"/>
<line x1="1212.5" y1="1112.8" x2="1217.5" y2="1112.8" stroke="#222" stroke-width="2.5"/>
<text x="1202.5" y="1125.3" text-anchor="end" font-size="30.6">0</text>
<line x1="1212.5" y1="1042.8" x2="1217.5" y2="1042.8" stroke="#222" stroke-width="2.5"/>
<text x="1202.5" y="1055.3" text-anchor="end" font-size="30.6">2</text>
<line x1="1212.5" y1="972.8" x2="1217.5" y2="972.8" stroke="#222" stroke-width="2.5"/>
<text x="1202.5" y="985.3" text-anchor="end" font-size="30.6">4</text>
<line x1="1212.5" y1="902.8" x2="1217.5" y2="902.8" stroke="#222" stroke-width="2.5"/>
<text x="1202.5" y="915.3" text-anchor="end" font-size="30.6">6</text>
<line x1="1212.5" y1="832.8" x2="1217.5" y2="832.8" stroke="#222" stroke-width="2.5"/>
<text x="1202.5" y="845.3" text-anchor="end" font-size="30.6">8</text>
<line x1="1217.2" y1="1112.8" x2="1217.2" y2="1117.8" stroke="#222" stroke-width="2.5"/>
<line x1="1348.6" y1="1112.8" x2="1348.6" y2="1117.8" stroke="#222" stroke-width="2.5"/>
<line x1="1480" y1="1112.8" x2="1480" y2="1117.8" stroke="#222" stroke-width="2.5"/>
<text x="1216" y="1151.3" text-anchor="middle">-20</text>
<text x="1348.6" y="1151.3" text-anchor="middle">0</text>
<text x="1480.5" y="1151.3" text-anchor="middle">20</text>
<text x="1348.6" y="1178.3" text-anchor="middle" font-size="34">Time (s)</text>
<path d="M1168,1053.7 L1147.8,1062.9 L1168,1072.1 Z" fill="none" stroke="#222" stroke-width="2.3" stroke-linejoin="miter"/>
<text transform="translate(1169.1,1043.6) rotate(-90)" font-size="31">FR (N</text>
<text transform="translate(1169.1,912.3) rotate(-90)" font-size="31">W)</text>
<line x1="1161.1" y1="950.8" x2="1161.1" y2="923.2" stroke="#222" stroke-width="1.9"/>
<path d="M1155.6,929.2 L1161.1,922.2 L1166.6,929.2" fill="none" stroke="#222" stroke-width="1.9"/>
<path d="M1217.2,1018.5 L1224.6,1034.3 L1230.7,1031.8 L1236.9,1019.7 L1243,1029.4 L1249.1,1022 L1255.3,1008.6 L1261.4,1024.5 L1265.1,1031.8 L1270,1023.4 L1276.2,1020.8 L1282.3,1026.9 L1287.2,1025.8 L1293.4,1024.5 L1299.5,1018.3 L1306.9,1007.4 L1311.8,1017.1 L1316.7,1024.5 L1322.8,1013.6 L1329,1015.9 L1335.1,1012.2 L1341.3,1002.5 L1346.2,1006 L1349.8,989.5 L1352.3,962.9 L1354.8,953.3 L1358.4,937.1 L1363.4,914.5 L1368.3,906.4 L1373.2,895.9 L1378.1,883.1 L1383,888.5 L1389.2,888.6 L1395.3,872.9 L1401.4,870.6 L1405.1,881.6 L1408.8,885.5 L1414.9,890.2 L1424.8,890.2 L1430.9,887.9 L1437,896.4 L1442,891.5 L1448.1,902.7 L1454.2,893.9 L1460.4,902.5 L1467.8,901.4 L1473.9,898.8 L1480,893.9 L1480,946.9 L1473.9,951.8 L1467.8,965.4 L1460.4,955.5 L1454.2,946.9 L1448.1,961.7 L1442,949.5 L1437,949.4 L1430.9,946.9 L1424.8,943.2 L1414.9,948.2 L1408.8,944.5 L1405.1,934.6 L1401.4,923.6 L1395.3,933.4 L1389.2,934.4 L1383,930.5 L1378.1,928.2 L1373.2,937 L1368.3,939.5 L1363.4,950.6 L1358.4,964.2 L1354.8,983.1 L1352.3,992.3 L1349.8,1011.4 L1346.2,1027 L1341.3,1034.5 L1335.1,1033.2 L1329,1036.9 L1322.8,1040.6 L1316.7,1050.5 L1311.8,1038.1 L1306.9,1034.4 L1299.5,1039.3 L1293.4,1050.5 L1287.2,1052.8 L1282.3,1047.9 L1276.2,1041.8 L1270,1055.4 L1265.1,1052.8 L1261.4,1045.5 L1255.3,1035.6 L1249.1,1048 L1243,1050.4 L1236.9,1046.7 L1230.7,1052.8 L1224.6,1060.3 L1217.2,1045.5 Z" fill="#e0e0e0"/>
<path d="M1217.2,1046.2 L1223.3,1057.3 L1230.7,1051.1 L1236.9,1049.9 L1243,1046.2 L1250.4,1041.3 L1256.5,1043.7 L1263.9,1046.2 L1270,1041.3 L1276.2,1053.6 L1283.5,1056 L1289.7,1048.7 L1297,1052.3 L1303.2,1057.3 L1310.5,1051.1 L1316.7,1048.7 L1322.8,1047.4 L1329,1043.7 L1335.8,1053.6 L1341.3,1021.5 L1348.6,1000.6 L1356,984.6 L1362.1,969.9 L1368.3,953.9 L1374.4,957.6 L1380.6,952.7 L1387.9,962.5 L1395.3,962.5 L1401.4,965 L1408.8,968.7 L1414.9,979.7 L1421.1,979.7 L1428.5,987.1 L1434.6,993.2 L1442,993.2 L1449.3,992 L1454.2,988.3 L1460.4,992 L1466.5,996.9 L1473.9,1003 L1480,1009.2 L1480,1033.2 L1473.9,1027 L1466.5,1020.9 L1460.4,1016 L1454.2,1012.3 L1449.3,1016 L1442,1017.2 L1434.6,1017.2 L1428.5,1011.1 L1421.1,1003.7 L1414.9,1003.7 L1408.8,992.7 L1401.4,989 L1395.3,986.5 L1387.9,986.5 L1380.6,976.7 L1374.4,981.6 L1368.3,977.9 L1362.1,993.9 L1356,1008.6 L1348.6,1024.6 L1341.3,1045.5 L1335.8,1061.6 L1329,1051.7 L1322.8,1055.4 L1316.7,1056.7 L1310.5,1059.1 L1303.2,1065.3 L1297,1060.3 L1289.7,1056.7 L1283.5,1064 L1276.2,1061.6 L1270,1049.3 L1263.9,1054.2 L1256.5,1051.7 L1250.4,1049.3 L1243,1054.2 L1236.9,1057.9 L1230.7,1059.1 L1223.3,1065.3 L1217.2,1054.2 Z" fill="#cfe5fb"/>
<line x1="1348.6" y1="839" x2="1348.6" y2="1111.8" stroke="#111" stroke-width="2.6" stroke-dasharray="2.6 4.2"/>
<path d="M1217.2,1050.2 L1223.3,1061.3 L1230.7,1055.1 L1236.9,1053.9 L1243,1050.2 L1250.4,1045.3 L1256.5,1047.7 L1263.9,1050.2 L1270,1045.3 L1276.2,1057.6 L1283.5,1060 L1289.7,1052.7 L1297,1056.3 L1303.2,1061.3 L1310.5,1055.1 L1316.7,1052.7 L1322.8,1051.4 L1329,1047.7 L1335.8,1057.6 L1341.3,1035.5 L1348.6,1014.6 L1356,998.6 L1362.1,983.9 L1368.3,967.9 L1374.4,971.6 L1380.6,966.7 L1387.9,976.5 L1395.3,976.5 L1401.4,979 L1408.8,982.7 L1414.9,993.7 L1421.1,993.7 L1428.5,1001.1 L1434.6,1007.2 L1442,1007.2 L1449.3,1006 L1454.2,1002.3 L1460.4,1006 L1466.5,1010.9 L1473.9,1017 L1480,1023.2" fill="none" stroke="#1e8ff5" stroke-width="4" stroke-linejoin="round"/>
<path d="M1217.2,1035.5 L1224.6,1045.3 L1230.7,1042.8 L1236.9,1036.7 L1243,1040.4 L1249.1,1033 L1255.3,1025.6 L1261.4,1035.5 L1265.1,1042.8 L1270,1040.4 L1276.2,1031.8 L1282.3,1037.9 L1287.2,1042.8 L1293.4,1035.5 L1299.5,1029.3 L1306.9,1024.4 L1311.8,1028.1 L1316.7,1035.5 L1322.8,1030.6 L1329,1026.9 L1335.1,1023.2 L1341.3,1019.5 L1346.2,1017 L1349.8,1001.1 L1352.3,981.4 L1354.8,966.7 L1358.4,951.9 L1363.4,937.2 L1368.3,924.9 L1373.2,916.3 L1378.1,911.4 L1383,912.6 L1389.2,915.1 L1395.3,907.7 L1401.4,901.6 L1405.1,912.6 L1408.8,922.5 L1414.9,921.2 L1424.8,921.2 L1430.9,924.9 L1437,927.4 L1442,922.5 L1448.1,939.7 L1454.2,924.9 L1460.4,933.5 L1467.8,938.4 L1473.9,929.8 L1480,924.9" fill="none" stroke="#231815" stroke-width="4.4" stroke-dasharray="4.4 4.6"/>
<line x1="1380.5" y1="827.9" x2="1423.5" y2="827.9" stroke="#555" stroke-width="3.4" stroke-dasharray="2.2 3.6"/>
<line x1="1380.5" y1="862.3" x2="1423.5" y2="862.3" stroke="#1e8ff5" stroke-width="4"/>
<text x="1432.5" y="837.9" font-size="26">DT0</text>
<text x="1432.5" y="872.3" font-size="26">DT4</text>
<defs><linearGradient id="parg" x1="0" x2="1" y1="0" y2="0"><stop offset="0" stop-color="#3e26a8"/><stop offset="0.12" stop-color="#4455f0"/><stop offset="0.25" stop-color="#2d8cf2"/><stop offset="0.38" stop-color="#16aee0"/><stop offset="0.5" stop-color="#1ebfa2"/><stop offset="0.62" stop-color="#5fc66c"/><stop offset="0.75" stop-color="#b8bd38"/><stop offset="0.86" stop-color="#f9b938"/><stop offset="1" stop-color="#f9fb14"/></linearGradient></defs>
<rect x="421.5" y="769" width="63" height="15.3" fill="url(#parg)" stroke="#333" stroke-width="1.6"/>
<text x="452.5" y="764" text-anchor="middle" font-size="27">Δ FR</text>
<text x="408" y="785.5" text-anchor="middle" font-size="27">0</text>
<text x="498" y="785.5" text-anchor="middle" font-size="27">8</text>
<!--HEATAXES-->
<text x="358" y="386.3" font-weight="bold" fill="#000" font-size="46">d</text>
<text x="357.8" y="820.8" font-weight="bold" fill="#000" font-size="46">f</text>
<line x1="497.8" y1="404" x2="497.8" y2="684.2" stroke="#222" stroke-width="2.8"/>
<line x1="496.6" y1="683" x2="763.3" y2="683" stroke="#222" stroke-width="2.8"/>
<line x1="492.8" y1="403.8" x2="497.8" y2="403.8" stroke="#222" stroke-width="2.5"/>
<text x="484" y="416.5" text-anchor="end" font-size="30.6">0</text>
<line x1="492.8" y1="492.8" x2="497.8" y2="492.8" stroke="#222" stroke-width="2.5"/>
<text x="484" y="505.5" text-anchor="end" font-size="30.6">20</text>
<line x1="492.8" y1="581.8" x2="497.8" y2="581.8" stroke="#222" stroke-width="2.5"/>
<text x="484" y="594.5" text-anchor="end" font-size="30.6">40</text>
<line x1="492.8" y1="670.8" x2="497.8" y2="670.8" stroke="#222" stroke-width="2.5"/>
<text x="484" y="683.5" text-anchor="end" font-size="30.6">60</text>
<line x1="501.3" y1="683" x2="501.3" y2="688" stroke="#222" stroke-width="2.5"/>
<line x1="630.1" y1="683" x2="630.1" y2="688" stroke="#222" stroke-width="2.5"/>
<line x1="759" y1="683" x2="759" y2="688" stroke="#222" stroke-width="2.5"/>
<text x="500.3" y="721.5" text-anchor="middle">-20</text>
<text x="630.1" y="721.5" text-anchor="middle">0</text>
<text x="759.5" y="721.5" text-anchor="middle">20</text>
<text x="630.1" y="751.5" text-anchor="middle" font-size="34">Time (s)</text>
<text x="630.1" y="396.8" text-anchor="middle">DT 0</text>
<line x1="837.3" y1="403.3" x2="837.3" y2="683" stroke="#222" stroke-width="2.8"/>
<line x1="836.1" y1="681.8" x2="1102.6" y2="681.8" stroke="#222" stroke-width="2.8"/>
<line x1="832.3" y1="403.6" x2="837.3" y2="403.6" stroke="#222" stroke-width="2.5"/>
<text x="822.5" y="416.3" text-anchor="end" font-size="30.6">0</text>
<line x1="832.3" y1="472.7" x2="837.3" y2="472.7" stroke="#222" stroke-width="2.5"/>
<text x="822.5" y="485.4" text-anchor="end" font-size="30.6">20</text>
<line x1="832.3" y1="541.8" x2="837.3" y2="541.8" stroke="#222" stroke-width="2.5"/>
<text x="822.5" y="554.5" text-anchor="end" font-size="30.6">40</text>
<line x1="832.3" y1="610.8" x2="837.3" y2="610.8" stroke="#222" stroke-width="2.5"/>
<text x="822.5" y="623.5" text-anchor="end" font-size="30.6">60</text>
<line x1="832.3" y1="679.9" x2="837.3" y2="679.9" stroke="#222" stroke-width="2.5"/>
<text x="822.5" y="692.6" text-anchor="end" font-size="30.6">80</text>
<line x1="842.5" y1="681.8" x2="842.5" y2="686.8" stroke="#222" stroke-width="2.5"/>
<line x1="970.4" y1="681.8" x2="970.4" y2="686.8" stroke="#222" stroke-width="2.5"/>
<line x1="1098.3" y1="681.8" x2="1098.3" y2="686.8" stroke="#222" stroke-width="2.5"/>
<text x="841.5" y="720.3" text-anchor="middle">-20</text>
<text x="970.4" y="720.3" text-anchor="middle">0</text>
<text x="1098.8" y="720.3" text-anchor="middle">20</text>
<text x="970.4" y="750.3" text-anchor="middle" font-size="34">Time (s)</text>
<text x="970.4" y="396" text-anchor="middle">DT 4</text>
<line x1="497.8" y1="834" x2="497.8" y2="1114.2" stroke="#222" stroke-width="2.8"/>
<line x1="496.6" y1="1113" x2="763.3" y2="1113" stroke="#222" stroke-width="2.8"/>
<line x1="492.8" y1="834" x2="497.8" y2="834" stroke="#222" stroke-width="2.5"/>
<text x="484" y="846.7" text-anchor="end" font-size="30.6">0</text>
<line x1="492.8" y1="914.1" x2="497.8" y2="914.1" stroke="#222" stroke-width="2.5"/>
<text x="484" y="926.8" text-anchor="end" font-size="30.6">20</text>
<line x1="492.8" y1="994.2" x2="497.8" y2="994.2" stroke="#222" stroke-width="2.5"/>
<text x="484" y="1006.9" text-anchor="end" font-size="30.6">40</text>
<line x1="492.8" y1="1074.4" x2="497.8" y2="1074.4" stroke="#222" stroke-width="2.5"/>
<text x="484" y="1087.1" text-anchor="end" font-size="30.6">60</text>
<line x1="501.3" y1="1113" x2="501.3" y2="1118" stroke="#222" stroke-width="2.5"/>
<line x1="630.1" y1="1113" x2="630.1" y2="1118" stroke="#222" stroke-width="2.5"/>
<line x1="759" y1="1113" x2="759" y2="1118" stroke="#222" stroke-width="2.5"/>
<text x="500.3" y="1151.5" text-anchor="middle">-20</text>
<text x="630.1" y="1151.5" text-anchor="middle">0</text>
<text x="759.5" y="1151.5" text-anchor="middle">20</text>
<text x="630.1" y="1181.5" text-anchor="middle" font-size="34">Time (s)</text>
<text x="630.1" y="826.8" text-anchor="middle">DT 0</text>
<line x1="837.3" y1="833.3" x2="837.3" y2="1113.2" stroke="#222" stroke-width="2.8"/>
<line x1="836.1" y1="1112" x2="1102.6" y2="1112" stroke="#222" stroke-width="2.8"/>
<line x1="832.3" y1="833.3" x2="837.3" y2="833.3" stroke="#222" stroke-width="2.5"/>
<text x="822.5" y="846" text-anchor="end" font-size="30.6">0</text>
<line x1="832.3" y1="914.5" x2="837.3" y2="914.5" stroke="#222" stroke-width="2.5"/>
<text x="822.5" y="927.2" text-anchor="end" font-size="30.6">20</text>
<line x1="832.3" y1="995.8" x2="837.3" y2="995.8" stroke="#222" stroke-width="2.5"/>
<text x="822.5" y="1008.5" text-anchor="end" font-size="30.6">40</text>
<line x1="832.3" y1="1077" x2="837.3" y2="1077" stroke="#222" stroke-width="2.5"/>
<text x="822.5" y="1089.7" text-anchor="end" font-size="30.6">60</text>
<line x1="842.5" y1="1112" x2="842.5" y2="1117" stroke="#222" stroke-width="2.5"/>
<line x1="970.4" y1="1112" x2="970.4" y2="1117" stroke="#222" stroke-width="2.5"/>
<line x1="1098.3" y1="1112" x2="1098.3" y2="1117" stroke="#222" stroke-width="2.5"/>
<text x="841.5" y="1150.5" text-anchor="middle">-20</text>
<text x="970.4" y="1150.5" text-anchor="middle">0</text>
<text x="1098.8" y="1150.5" text-anchor="middle">20</text>
<text x="970.4" y="1180.5" text-anchor="middle" font-size="34">Time (s)</text>
<text x="970.4" y="826.8" text-anchor="middle">DT 4</text>
<text transform="translate(439.2,543.2) rotate(-90)" text-anchor="middle" font-size="31.5">Cell #</text>
<text transform="translate(439.2,972.4) rotate(-90)" text-anchor="middle" font-size="31.5">Cell #</text>
<text transform="translate(402,597.8) rotate(-90)" fill="#000" font-size="31.5">W</text>
<text transform="translate(402,520.4) rotate(-90)" fill="#000" font-size="31.5">N</text>
<line x1="393.8" y1="558.9" x2="393.8" y2="531.7" stroke="#000" stroke-width="1.9"/>
<path d="M388.3,537.7 L393.8,530.7 L399.3,537.7" fill="none" stroke="#000" stroke-width="1.9"/>
<text transform="translate(402,1027.6) rotate(-90)" fill="#000" font-size="31.5">N</text>
<text transform="translate(402,956.3) rotate(-90)" fill="#000" font-size="31.5">W</text>
<line x1="393.8" y1="994.5" x2="393.8" y2="967.7" stroke="#000" stroke-width="1.9"/>
<path d="M388.3,973.7 L393.8,966.7 L399.3,973.7" fill="none" stroke="#000" stroke-width="1.9"/>
<text x="-1.3" y="1233.4" font-weight="bold" fill="#000" font-size="46">g</text>
<text x="99" y="1212.6" fill="#ee2b4b" font-size="29.5">hM3Dq-</text>
<text x="96" y="1242" fill="#ee2b4b" font-size="29.5">mCherry</text>
<text transform="translate(33.2,1401) scale(0.95,1)" font-size="31">CX3CR1<tspan font-size="18" dx="2" dy="-10">CreER/+</tspan><tspan dx="1.5" dy="10">:R26</tspan><tspan font-size="18" dx="1.5" dy="-10">iDTR/+</tspan></text>
<text x="166.5" y="1440.2" font-size="30.5">Vehicle</text>
<text x="351" y="1440.2" font-size="30.5">CNO</text>
<text x="42.5" y="1495.4" font-size="30.3">Time</text>
<line x1="33" y1="1504.3" x2="418.5" y2="1504.3" stroke="#231815" stroke-width="2.6"/>
<text x="34" y="1536.6" font-size="30.3">(days)</text>
<text x="152.7" y="1536.6" text-anchor="middle" font-size="30.3">0</text>
<text x="197.8" y="1536.6" text-anchor="middle" font-size="30.3">1</text>
<text x="244.2" y="1536.6" text-anchor="middle" font-size="30.3">2</text>
<text x="291.2" y="1536.6" text-anchor="middle" font-size="30.3">3</text>
<text x="336.3" y="1536.6" text-anchor="middle" font-size="30.3">4</text>
<line x1="199" y1="1565" x2="199" y2="1552" stroke="#231815" stroke-width="2.2"/>
<path d="M195.5,1555 L199,1550 L202.5,1555" fill="none" stroke="#231815" stroke-width="2.2"/>
<line x1="244.3" y1="1565" x2="244.3" y2="1552" stroke="#231815" stroke-width="2.2"/>
<path d="M240.8,1555 L244.3,1550 L247.8,1555" fill="none" stroke="#231815" stroke-width="2.2"/>
<line x1="290.7" y1="1565" x2="290.7" y2="1552" stroke="#231815" stroke-width="2.2"/>
<path d="M287.2,1555 L290.7,1550 L294.2,1555" fill="none" stroke="#231815" stroke-width="2.2"/>
<text x="163.5" y="1596.8" font-size="30.3">DT injection</text>
<text x="458.2" y="1233.6" font-weight="bold" fill="#000" font-size="46">h</text>
<text x="987.2" y="1233.6" font-weight="bold" fill="#000" font-size="46">i</text>
<rect x="554" y="1230.2" width="42.5" height="22.7" fill="none" stroke="#b4b4b4" stroke-width="2.4"/>
<rect x="554" y="1264.2" width="42.5" height="22.7" fill="none" stroke="#1e8ff5" stroke-width="2.4"/>
<rect x="722.9" y="1229" width="46" height="25.3" fill="#b0b0b0"/>
<rect x="722.9" y="1263" width="46" height="25.3" fill="#74b8fa"/>
<text x="607" y="1251.8" font-size="26">GFP,DT0</text>
<text x="607" y="1285.5" font-size="26">GFP,DT4</text>
<text x="777.5" y="1251.8" font-size="26">hM3Dq,DT0</text>
<text x="777.5" y="1285.5" font-size="26">hM3Dq,DT4</text>
<rect x="1086.9" y="1230.7" width="42.5" height="22.7" fill="none" stroke="#b4b4b4" stroke-width="2.4"/>
<rect x="1086.9" y="1264.8" width="42.5" height="22.7" fill="none" stroke="#1e8ff5" stroke-width="2.4"/>
<rect x="1256.3" y="1229.5" width="46" height="25.3" fill="#b0b0b0"/>
<rect x="1256.3" y="1263.6" width="46" height="25.3" fill="#74b8fa"/>
<text x="1139.3" y="1251.8" font-size="26">GFP,DT0</text>
<text x="1139.3" y="1285.5" font-size="26">GFP,DT4</text>
<text x="1310.5" y="1251.8" font-size="26">hM3Dq,DT0</text>
<text x="1310.5" y="1285.5" font-size="26">hM3Dq,DT4</text>
<line x1="553.5" y1="1297.6" x2="553.5" y2="1541.8" stroke="#222" stroke-width="2.8"/>
<line x1="552.3" y1="1540.6" x2="728.8" y2="1540.6" stroke="#222" stroke-width="2.8"/>
<line x1="549.5" y1="1443.4" x2="553.5" y2="1443.4" stroke="#222" stroke-width="2.5"/>
<text x="541.5" y="1455.9" text-anchor="end" font-size="30.6">1</text>
<line x1="549.5" y1="1346.2" x2="553.5" y2="1346.2" stroke="#222" stroke-width="2.5"/>
<text x="541.5" y="1358.7" text-anchor="end" font-size="30.6">2</text>
<line x1="640.6" y1="1540.6" x2="640.6" y2="1544.6" stroke="#222" stroke-width="2.5"/>
<text x="640.6" y="1573" text-anchor="middle" font-size="30.5">WN</text>
<rect x="568.4" y="1443.4" width="28.6" height="97.2" fill="none" stroke="#b8b8b8" stroke-width="2.6"/>
<rect x="654.2" y="1443.4" width="29.5" height="97.2" fill="#b0b0b0"/>
<rect x="683.7" y="1463.5" width="31.2" height="77.1" fill="#74b8fa"/>
<rect x="597" y="1400.7" width="29.7" height="139.9" fill="none" stroke="#1e8ff5" stroke-width="2.8"/>
<line x1="555.5" y1="1443.4" x2="728.8" y2="1443.4" stroke="#333" stroke-width="2.4" stroke-dasharray="2.4 5.2"/>
<line x1="582.3" y1="1391.3" x2="611.8" y2="1362.5" stroke="#6a6a6a" stroke-width="2.2"/>
<line x1="582.3" y1="1389.6" x2="606.6" y2="1372.2" stroke="#6a6a6a" stroke-width="2.2"/>
<line x1="582.3" y1="1443.4" x2="611.8" y2="1377.4" stroke="#6a6a6a" stroke-width="2.2"/>
<line x1="582.3" y1="1476.4" x2="612.5" y2="1398.3" stroke="#6a6a6a" stroke-width="2.2"/>
<line x1="582.3" y1="1507.6" x2="611.8" y2="1415.6" stroke="#6a6a6a" stroke-width="2.2"/>
<line x1="582.3" y1="1448.6" x2="611.8" y2="1451" stroke="#6a6a6a" stroke-width="2.2"/>
<line x1="582.3" y1="1443.4" x2="606.6" y2="1433" stroke="#6a6a6a" stroke-width="2.2"/>
<line x1="669.8" y1="1412.1" x2="698.6" y2="1460.7" stroke="#6a6a6a" stroke-width="2.2"/>
<line x1="669.8" y1="1426" x2="698.6" y2="1436.4" stroke="#6a6a6a" stroke-width="2.2"/>
<line x1="669.8" y1="1441.6" x2="698.6" y2="1498.9" stroke="#6a6a6a" stroke-width="2.2"/>
<line x1="669.8" y1="1474.6" x2="698.6" y2="1464.2" stroke="#6a6a6a" stroke-width="2.2"/>
<line x1="669.8" y1="1479.8" x2="698.6" y2="1476.4" stroke="#6a6a6a" stroke-width="2.2"/>
<line x1="669.8" y1="1445.1" x2="698.6" y2="1467.7" stroke="#6a6a6a" stroke-width="2.2"/>
<line x1="582.3" y1="1427.8" x2="582.3" y2="1459" stroke="#222" stroke-width="2"/>
<line x1="574.8" y1="1427.8" x2="589.8" y2="1427.8" stroke="#222" stroke-width="2"/>
<line x1="574.8" y1="1459" x2="589.8" y2="1459" stroke="#222" stroke-width="2"/>
<circle cx="582.3" cy="1443.4" r="2.8" fill="#111"/>
<line x1="611.8" y1="1388.5" x2="611.8" y2="1415" stroke="#222" stroke-width="2"/>
<line x1="604.3" y1="1388.5" x2="619.3" y2="1388.5" stroke="#222" stroke-width="2"/>
<line x1="604.3" y1="1415" x2="619.3" y2="1415" stroke="#222" stroke-width="2"/>
<circle cx="611.8" cy="1401.7" r="2.8" fill="#111"/>
<line x1="669.8" y1="1434.7" x2="669.8" y2="1452.8" stroke="#222" stroke-width="2"/>
<line x1="662.3" y1="1434.7" x2="677.3" y2="1434.7" stroke="#222" stroke-width="2"/>
<line x1="662.3" y1="1452.8" x2="677.3" y2="1452.8" stroke="#222" stroke-width="2"/>
<circle cx="669.8" cy="1443.4" r="2.8" fill="#111"/>
<line x1="699.3" y1="1456.6" x2="699.3" y2="1471.8" stroke="#222" stroke-width="2"/>
<line x1="691.8" y1="1456.6" x2="706.8" y2="1456.6" stroke="#222" stroke-width="2"/>
<line x1="691.8" y1="1471.8" x2="706.8" y2="1471.8" stroke="#222" stroke-width="2"/>
<circle cx="699.3" cy="1465" r="2.8" fill="#111"/>
<line x1="580.6" y1="1323" x2="612.5" y2="1323" stroke="#111" stroke-width="4"/>
<text x="596.5" y="1331" text-anchor="middle" fill="#111" font-size="38">*</text>
<line x1="782.6" y1="1297.6" x2="782.6" y2="1541.8" stroke="#222" stroke-width="2.8"/>
<line x1="781.4" y1="1540.6" x2="958.9" y2="1540.6" stroke="#222" stroke-width="2.8"/>
<line x1="778.6" y1="1443.4" x2="782.6" y2="1443.4" stroke="#222" stroke-width="2.5"/>
<text x="771" y="1455.9" text-anchor="end" font-size="30.6">1</text>
<line x1="778.6" y1="1346.2" x2="782.6" y2="1346.2" stroke="#222" stroke-width="2.5"/>
<text x="771" y="1358.7" text-anchor="end" font-size="30.6">2</text>
<line x1="869.7" y1="1540.6" x2="869.7" y2="1544.6" stroke="#222" stroke-width="2.5"/>
<text x="869.7" y="1573" text-anchor="middle" font-size="30.5">NW</text>
<rect x="796.8" y="1443.4" width="28.5" height="97.2" fill="none" stroke="#b8b8b8" stroke-width="2.6"/>
<rect x="883.3" y="1443.4" width="29.5" height="97.2" fill="#b0b0b0"/>
<rect x="912.8" y="1459" width="30.5" height="81.6" fill="#74b8fa"/>
<rect x="825.3" y="1412.1" width="30.2" height="128.5" fill="none" stroke="#1e8ff5" stroke-width="2.8"/>
<line x1="784.6" y1="1443.4" x2="958.9" y2="1443.4" stroke="#333" stroke-width="2.4" stroke-dasharray="2.4 5.2"/>
<line x1="811.4" y1="1368.8" x2="841.6" y2="1325.4" stroke="#6a6a6a" stroke-width="2.2"/>
<line x1="811.4" y1="1387.8" x2="841.6" y2="1365.3" stroke="#6a6a6a" stroke-width="2.2"/>
<line x1="811.4" y1="1426" x2="841.6" y2="1393.1" stroke="#6a6a6a" stroke-width="2.2"/>
<line x1="811.4" y1="1504.1" x2="841.6" y2="1433" stroke="#6a6a6a" stroke-width="2.2"/>
<line x1="811.4" y1="1478.1" x2="841.6" y2="1453.8" stroke="#6a6a6a" stroke-width="2.2"/>
<line x1="811.4" y1="1459" x2="841.6" y2="1471.2" stroke="#6a6a6a" stroke-width="2.2"/>
<line x1="811.4" y1="1488.5" x2="841.6" y2="1457.3" stroke="#6a6a6a" stroke-width="2.2"/>
<line x1="898.9" y1="1408.7" x2="927.7" y2="1453.8" stroke="#6a6a6a" stroke-width="2.2"/>
<line x1="898.9" y1="1434.7" x2="927.7" y2="1426" stroke="#6a6a6a" stroke-width="2.2"/>
<line x1="898.9" y1="1455.5" x2="927.7" y2="1471.2" stroke="#6a6a6a" stroke-width="2.2"/>
<line x1="898.9" y1="1486.8" x2="927.7" y2="1457.3" stroke="#6a6a6a" stroke-width="2.2"/>
<line x1="898.9" y1="1460.7" x2="927.7" y2="1492" stroke="#6a6a6a" stroke-width="2.2"/>
<line x1="898.9" y1="1446.9" x2="927.7" y2="1464.2" stroke="#6a6a6a" stroke-width="2.2"/>
<line x1="811" y1="1425.5" x2="811" y2="1463.5" stroke="#222" stroke-width="2"/>
<line x1="803.5" y1="1425.5" x2="818.5" y2="1425.5" stroke="#222" stroke-width="2"/>
<line x1="803.5" y1="1463.5" x2="818.5" y2="1463.5" stroke="#222" stroke-width="2"/>
<circle cx="811" cy="1443.4" r="2.8" fill="#111"/>
<line x1="840.5" y1="1392.5" x2="840.5" y2="1432.5" stroke="#222" stroke-width="2"/>
<line x1="833" y1="1392.5" x2="848" y2="1392.5" stroke="#222" stroke-width="2"/>
<line x1="833" y1="1432.5" x2="848" y2="1432.5" stroke="#222" stroke-width="2"/>
<circle cx="840.5" cy="1412.5" r="2.8" fill="#111"/>
<line x1="899" y1="1434.5" x2="899" y2="1452.5" stroke="#222" stroke-width="2"/>
<line x1="891.5" y1="1434.5" x2="906.5" y2="1434.5" stroke="#222" stroke-width="2"/>
<line x1="891.5" y1="1452.5" x2="906.5" y2="1452.5" stroke="#222" stroke-width="2"/>
<circle cx="899" cy="1443.4" r="2.8" fill="#111"/>
<line x1="928.5" y1="1452.5" x2="928.5" y2="1467.5" stroke="#222" stroke-width="2"/>
<line x1="921" y1="1452.5" x2="936" y2="1452.5" stroke="#222" stroke-width="2"/>
<line x1="921" y1="1467.5" x2="936" y2="1467.5" stroke="#222" stroke-width="2"/>
<circle cx="928.5" cy="1460" r="2.8" fill="#111"/>
<line x1="809.7" y1="1323" x2="841.6" y2="1323" stroke="#111" stroke-width="4"/>
<text x="825.7" y="1331" text-anchor="middle" fill="#111" font-size="38">*</text>
<text transform="translate(507,1420) rotate(-90)" text-anchor="middle" font-size="31">Nor. transition #</text>
<line x1="1085.7" y1="1297.8" x2="1085.7" y2="1541.4" stroke="#222" stroke-width="2.8"/>
<line x1="1084.5" y1="1540.2" x2="1261" y2="1540.2" stroke="#222" stroke-width="2.8"/>
<line x1="1081.7" y1="1540.2" x2="1085.7" y2="1540.2" stroke="#222" stroke-width="2.5"/>
<text x="1072" y="1552.7" text-anchor="end" font-size="30.6">0</text>
<line x1="1081.7" y1="1443.2" x2="1085.7" y2="1443.2" stroke="#222" stroke-width="2.5"/>
<text x="1072" y="1455.7" text-anchor="end" font-size="30.6">1</text>
<line x1="1081.7" y1="1346.2" x2="1085.7" y2="1346.2" stroke="#222" stroke-width="2.5"/>
<text x="1072" y="1358.7" text-anchor="end" font-size="30.6">2</text>
<line x1="1174.4" y1="1540.2" x2="1174.4" y2="1544.2" stroke="#222" stroke-width="2.5"/>
<text x="1174.4" y="1573" text-anchor="middle" font-size="30.5">Wake</text>
<rect x="1100" y="1443.2" width="29.5" height="97" fill="none" stroke="#b8b8b8" stroke-width="2.6"/>
<rect x="1187" y="1443.2" width="28.7" height="97" fill="#b0b0b0"/>
<rect x="1215.7" y="1435.3" width="31.7" height="104.9" fill="#74b8fa"/>
<rect x="1129.5" y="1475.6" width="29.9" height="64.6" fill="none" stroke="#1e8ff5" stroke-width="2.8"/>
<line x1="1087.7" y1="1443.2" x2="1261" y2="1443.2" stroke="#333" stroke-width="2.4" stroke-dasharray="2.4 5.2"/>
<line x1="1115.2" y1="1412.7" x2="1145" y2="1473.8" stroke="#6a6a6a" stroke-width="2.2"/>
<line x1="1115.2" y1="1430.7" x2="1145" y2="1477.4" stroke="#6a6a6a" stroke-width="2.2"/>
<line x1="1115.2" y1="1441.4" x2="1145" y2="1482.7" stroke="#6a6a6a" stroke-width="2.2"/>
<line x1="1115.2" y1="1446.8" x2="1145" y2="1463" stroke="#6a6a6a" stroke-width="2.2"/>
<line x1="1115.2" y1="1457.6" x2="1145" y2="1484.5" stroke="#6a6a6a" stroke-width="2.2"/>
<line x1="1115.2" y1="1470.2" x2="1145" y2="1479.2" stroke="#6a6a6a" stroke-width="2.2"/>
<line x1="1115.2" y1="1441.4" x2="1145" y2="1459.4" stroke="#6a6a6a" stroke-width="2.2"/>
<line x1="1202.5" y1="1391.1" x2="1232.3" y2="1441.4" stroke="#6a6a6a" stroke-width="2.2"/>
<line x1="1202.5" y1="1427.1" x2="1232.3" y2="1394.7" stroke="#6a6a6a" stroke-width="2.2"/>
<line x1="1202.5" y1="1441.4" x2="1232.3" y2="1409.1" stroke="#6a6a6a" stroke-width="2.2"/>
<line x1="1202.5" y1="1448.6" x2="1232.3" y2="1419.9" stroke="#6a6a6a" stroke-width="2.2"/>
<line x1="1202.5" y1="1454" x2="1232.3" y2="1428.9" stroke="#6a6a6a" stroke-width="2.2"/>
<line x1="1202.5" y1="1425.3" x2="1232.3" y2="1455.8" stroke="#6a6a6a" stroke-width="2.2"/>
<line x1="1202.5" y1="1437.8" x2="1232.3" y2="1437.8" stroke="#6a6a6a" stroke-width="2.2"/>
<line x1="1112.5" y1="1436.5" x2="1112.5" y2="1450" stroke="#222" stroke-width="2"/>
<line x1="1105" y1="1436.5" x2="1120" y2="1436.5" stroke="#222" stroke-width="2"/>
<line x1="1105" y1="1450" x2="1120" y2="1450" stroke="#222" stroke-width="2"/>
<circle cx="1112.5" cy="1443.2" r="2.8" fill="#111"/>
<line x1="1144.5" y1="1472" x2="1144.5" y2="1480" stroke="#222" stroke-width="2"/>
<line x1="1137" y1="1472" x2="1152" y2="1472" stroke="#222" stroke-width="2"/>
<line x1="1137" y1="1480" x2="1152" y2="1480" stroke="#222" stroke-width="2"/>
<circle cx="1144.5" cy="1475.5" r="2.8" fill="#111"/>
<line x1="1202.5" y1="1428" x2="1202.5" y2="1458.5" stroke="#222" stroke-width="2"/>
<line x1="1195" y1="1428" x2="1210" y2="1428" stroke="#222" stroke-width="2"/>
<line x1="1195" y1="1458.5" x2="1210" y2="1458.5" stroke="#222" stroke-width="2"/>
<circle cx="1202.5" cy="1443.2" r="2.8" fill="#111"/>
<line x1="1232.5" y1="1420" x2="1232.5" y2="1452.5" stroke="#222" stroke-width="2"/>
<line x1="1225" y1="1420" x2="1240" y2="1420" stroke="#222" stroke-width="2"/>
<line x1="1225" y1="1452.5" x2="1240" y2="1452.5" stroke="#222" stroke-width="2"/>
<circle cx="1232.5" cy="1436.5" r="2.8" fill="#111"/>
<line x1="1113.7" y1="1322.9" x2="1145.7" y2="1322.9" stroke="#111" stroke-width="4"/>
<text x="1129.7" y="1330.9" text-anchor="middle" fill="#111" font-size="38">*</text>
<line x1="1313.8" y1="1297.8" x2="1313.8" y2="1541.4" stroke="#222" stroke-width="2.8"/>
<line x1="1312.6" y1="1540.2" x2="1489.8" y2="1540.2" stroke="#222" stroke-width="2.8"/>
<line x1="1309.8" y1="1540.2" x2="1313.8" y2="1540.2" stroke="#222" stroke-width="2.5"/>
<text x="1299.5" y="1552.7" text-anchor="end" font-size="30.6">0</text>
<line x1="1309.8" y1="1443.2" x2="1313.8" y2="1443.2" stroke="#222" stroke-width="2.5"/>
<text x="1299.5" y="1455.7" text-anchor="end" font-size="30.6">1</text>
<line x1="1309.8" y1="1346.2" x2="1313.8" y2="1346.2" stroke="#222" stroke-width="2.5"/>
<text x="1299.5" y="1358.7" text-anchor="end" font-size="30.6">2</text>
<line x1="1401.8" y1="1540.2" x2="1401.8" y2="1544.2" stroke="#222" stroke-width="2.5"/>
<text x="1401.8" y="1573" text-anchor="middle" font-size="30.5">NREMs</text>
<rect x="1329.3" y="1443.2" width="28.7" height="97" fill="none" stroke="#b8b8b8" stroke-width="2.6"/>
<rect x="1416.2" y="1443.2" width="28" height="97" fill="#b0b0b0"/>
<rect x="1444.2" y="1446.1" width="32.3" height="94.1" fill="#74b8fa"/>
<rect x="1358" y="1382.2" width="30.2" height="158" fill="none" stroke="#1e8ff5" stroke-width="2.8"/>
<line x1="1315.8" y1="1443.2" x2="1489.8" y2="1443.2" stroke="#333" stroke-width="2.4" stroke-dasharray="2.4 5.2"/>
<line x1="1344.3" y1="1378.6" x2="1373.1" y2="1358.8" stroke="#6a6a6a" stroke-width="2.2"/>
<line x1="1344.3" y1="1419.9" x2="1373.1" y2="1366" stroke="#6a6a6a" stroke-width="2.2"/>
<line x1="1344.3" y1="1448.6" x2="1373.1" y2="1373.2" stroke="#6a6a6a" stroke-width="2.2"/>
<line x1="1344.3" y1="1470.2" x2="1373.1" y2="1405.5" stroke="#6a6a6a" stroke-width="2.2"/>
<line x1="1344.3" y1="1506.1" x2="1373.1" y2="1384" stroke="#6a6a6a" stroke-width="2.2"/>
<line x1="1344.3" y1="1463" x2="1373.1" y2="1414.5" stroke="#6a6a6a" stroke-width="2.2"/>
<line x1="1344.3" y1="1428.9" x2="1373.1" y2="1396.5" stroke="#6a6a6a" stroke-width="2.2"/>
<line x1="1431.6" y1="1403.7" x2="1461.1" y2="1441.4" stroke="#6a6a6a" stroke-width="2.2"/>
<line x1="1431.6" y1="1427.1" x2="1461.1" y2="1400.1" stroke="#6a6a6a" stroke-width="2.2"/>
<line x1="1431.6" y1="1430.7" x2="1461.1" y2="1414.5" stroke="#6a6a6a" stroke-width="2.2"/>
<line x1="1431.6" y1="1441.4" x2="1461.1" y2="1463" stroke="#6a6a6a" stroke-width="2.2"/>
<line x1="1431.6" y1="1463" x2="1461.1" y2="1427.1" stroke="#6a6a6a" stroke-width="2.2"/>
<line x1="1431.6" y1="1448.6" x2="1461.1" y2="1454" stroke="#6a6a6a" stroke-width="2.2"/>
<line x1="1344.5" y1="1427.5" x2="1344.5" y2="1459" stroke="#222" stroke-width="2"/>
<line x1="1337" y1="1427.5" x2="1352" y2="1427.5" stroke="#222" stroke-width="2"/>
<line x1="1337" y1="1459" x2="1352" y2="1459" stroke="#222" stroke-width="2"/>
<circle cx="1344.5" cy="1443.2" r="2.8" fill="#111"/>
<line x1="1373.5" y1="1374" x2="1373.5" y2="1390.5" stroke="#222" stroke-width="2"/>
<line x1="1366" y1="1374" x2="1381" y2="1374" stroke="#222" stroke-width="2"/>
<line x1="1366" y1="1390.5" x2="1381" y2="1390.5" stroke="#222" stroke-width="2"/>
<circle cx="1373.5" cy="1382" r="2.8" fill="#111"/>
<line x1="1431.5" y1="1428" x2="1431.5" y2="1458.5" stroke="#222" stroke-width="2"/>
<line x1="1424" y1="1428" x2="1439" y2="1428" stroke="#222" stroke-width="2"/>
<line x1="1424" y1="1458.5" x2="1439" y2="1458.5" stroke="#222" stroke-width="2"/>
<circle cx="1431.5" cy="1443.2" r="2.8" fill="#111"/>
<line x1="1460.5" y1="1433" x2="1460.5" y2="1462" stroke="#222" stroke-width="2"/>
<line x1="1453" y1="1433" x2="1468" y2="1433" stroke="#222" stroke-width="2"/>
<line x1="1453" y1="1462" x2="1468" y2="1462" stroke="#222" stroke-width="2"/>
<circle cx="1460.5" cy="1447" r="2.8" fill="#111"/>
<line x1="1342.5" y1="1322.9" x2="1373.8" y2="1322.9" stroke="#111" stroke-width="4"/>
<text x="1358.2" y="1330.9" text-anchor="middle" fill="#111" font-size="38">*</text>
<text transform="translate(1040,1399) rotate(-90)" text-anchor="middle" font-size="31">Nor. % total duration</text>
<text x="6.4" y="1638.8" font-weight="bold" fill="#000" font-size="46">j</text>
<line x1="119.2" y1="1633.3" x2="119.2" y2="1933.2" stroke="#222" stroke-width="2.8"/>
<line x1="118" y1="1932" x2="431.2" y2="1932" stroke="#222" stroke-width="2.8"/>
<line x1="114.2" y1="1932" x2="119.2" y2="1932" stroke="#222" stroke-width="2.5"/>
<text x="103.7" y="1944.5" text-anchor="end" font-size="30.6">0</text>
<line x1="114.2" y1="1783.5" x2="119.2" y2="1783.5" stroke="#222" stroke-width="2.5"/>
<text x="103.7" y="1796" text-anchor="end" font-size="30.6">25</text>
<line x1="114.2" y1="1635" x2="119.2" y2="1635" stroke="#222" stroke-width="2.5"/>
<text x="103.7" y="1647.5" text-anchor="end" font-size="30.6">50</text>
<line x1="120.8" y1="1932" x2="120.8" y2="1937" stroke="#222" stroke-width="2.5"/>
<text x="120.8" y="1966.5" text-anchor="middle">0</text>
<line x1="275.6" y1="1932" x2="275.6" y2="1937" stroke="#222" stroke-width="2.5"/>
<text x="275.6" y="1966.5" text-anchor="middle">1</text>
<line x1="430.4" y1="1932" x2="430.4" y2="1937" stroke="#222" stroke-width="2.5"/>
<text x="430.4" y="1966.5" text-anchor="middle">2</text>
<rect x="130.2" y="1774" width="15" height="158" fill="#e6e6e6"/>
<rect x="147.5" y="1798.3" width="15" height="133.7" fill="#e6e6e6"/>
<rect x="164.8" y="1822.7" width="15" height="109.3" fill="#e6e6e6"/>
<rect x="182.1" y="1870.8" width="15" height="61.2" fill="#e6e6e6"/>
<rect x="199.4" y="1883.3" width="15" height="48.7" fill="#e6e6e6"/>
<rect x="216.7" y="1907.6" width="15" height="24.4" fill="#e6e6e6"/>
<rect x="251.3" y="1920.1" width="15" height="11.9" fill="#e6e6e6"/>
<rect x="268.6" y="1920.1" width="15" height="11.9" fill="#e6e6e6"/>
<rect x="285.9" y="1920.1" width="15" height="11.9" fill="#e6e6e6"/>
<rect x="337.8" y="1920.1" width="15" height="11.9" fill="#e6e6e6"/>
<rect x="131.4" y="1680.2" width="13.2" height="251.8" fill="none" stroke="#1e8ff5" stroke-width="2.6"/>
<rect x="148.7" y="1778.8" width="13.2" height="153.2" fill="none" stroke="#1e8ff5" stroke-width="2.6"/>
<rect x="166" y="1878" width="13.2" height="54" fill="none" stroke="#1e8ff5" stroke-width="2.6"/>
<rect x="183.3" y="1889.2" width="13.2" height="42.8" fill="none" stroke="#1e8ff5" stroke-width="2.6"/>
<rect x="200.6" y="1889.2" width="13.2" height="42.8" fill="none" stroke="#1e8ff5" stroke-width="2.6"/>
<rect x="217.9" y="1899.9" width="13.2" height="32.1" fill="none" stroke="#1e8ff5" stroke-width="2.6"/>
<rect x="252.5" y="1921.9" width="13.2" height="10.1" fill="none" stroke="#1e8ff5" stroke-width="2.6"/>
<text x="138.5" y="1661.8">GFP</text>
<rect x="375.2" y="1635" width="56.5" height="30.5" fill="#e6e6e6"/>
<text x="403.7" y="1659.6" text-anchor="middle" fill="#333" font-size="26">DT0</text>
<text x="403.7" y="1687.9" text-anchor="middle" fill="#1e8ff5" font-size="26">DT4</text>
<text x="429" y="1824.3" text-anchor="end" font-size="26">P = 0.0261</text>
<line x1="559.2" y1="1633.3" x2="559.2" y2="1933.2" stroke="#222" stroke-width="2.8"/>
<line x1="558" y1="1932" x2="871.2" y2="1932" stroke="#222" stroke-width="2.8"/>
<line x1="554.2" y1="1932" x2="559.2" y2="1932" stroke="#222" stroke-width="2.5"/>
<text x="543.7" y="1944.5" text-anchor="end" font-size="30.6">0</text>
<line x1="554.2" y1="1783.5" x2="559.2" y2="1783.5" stroke="#222" stroke-width="2.5"/>
<text x="543.7" y="1796" text-anchor="end" font-size="30.6">25</text>
<line x1="554.2" y1="1635" x2="559.2" y2="1635" stroke="#222" stroke-width="2.5"/>
<text x="543.7" y="1647.5" text-anchor="end" font-size="30.6">50</text>
<line x1="560.8" y1="1932" x2="560.8" y2="1937" stroke="#222" stroke-width="2.5"/>
<text x="560.8" y="1966.5" text-anchor="middle">0</text>
<line x1="715.6" y1="1932" x2="715.6" y2="1937" stroke="#222" stroke-width="2.5"/>
<text x="715.6" y="1966.5" text-anchor="middle">1</text>
<line x1="870.4" y1="1932" x2="870.4" y2="1937" stroke="#222" stroke-width="2.5"/>
<text x="870.4" y="1966.5" text-anchor="middle">2</text>
<rect x="570.2" y="1803.7" width="15" height="128.3" fill="#b0b0b0"/>
<rect x="587.5" y="1723.5" width="15" height="208.5" fill="#b0b0b0"/>
<rect x="604.8" y="1835.2" width="15" height="96.8" fill="#b0b0b0"/>
<rect x="622.1" y="1883.9" width="15" height="48.1" fill="#b0b0b0"/>
<rect x="639.4" y="1915.4" width="15" height="16.6" fill="#b0b0b0"/>
<rect x="656.7" y="1899.3" width="15" height="32.7" fill="#b0b0b0"/>
<rect x="674" y="1899.3" width="15" height="32.7" fill="#b0b0b0"/>
<rect x="691.3" y="1915.4" width="15" height="16.6" fill="#b0b0b0"/>
<rect x="571.4" y="1735.4" width="13.2" height="196.6" fill="none" stroke="#1e8ff5" stroke-width="2.6"/>
<rect x="588.7" y="1806.1" width="13.2" height="125.9" fill="none" stroke="#1e8ff5" stroke-width="2.6"/>
<rect x="606" y="1861.9" width="13.2" height="70.1" fill="none" stroke="#1e8ff5" stroke-width="2.6"/>
<rect x="623.3" y="1848.3" width="13.2" height="83.7" fill="none" stroke="#1e8ff5" stroke-width="2.6"/>
<rect x="640.6" y="1890.4" width="13.2" height="41.6" fill="none" stroke="#1e8ff5" stroke-width="2.6"/>
<rect x="657.9" y="1904.7" width="13.2" height="27.3" fill="none" stroke="#1e8ff5" stroke-width="2.6"/>
<rect x="675.2" y="1904.7" width="13.2" height="27.3" fill="none" stroke="#1e8ff5" stroke-width="2.6"/>
<rect x="744.4" y="1919.5" width="13.2" height="12.5" fill="none" stroke="#1e8ff5" stroke-width="2.6"/>
<text x="577" y="1661.8">hM3Dq</text>
<rect x="815.2" y="1635" width="56.5" height="30.5" fill="#b0b0b0"/>
<text x="843.7" y="1659.6" text-anchor="middle" fill="#fff" font-size="26">DT0</text>
<text x="843.7" y="1687.9" text-anchor="middle" fill="#1e8ff5" font-size="26">DT4</text>
<text x="869" y="1824.3" text-anchor="end" font-size="26">n.s.</text>
<text transform="translate(53,1783) rotate(-90)" text-anchor="middle" font-size="31">Prob. of event (%)</text>
<text transform="translate(493,1783) rotate(-90)" text-anchor="middle" font-size="31">Prob. of event (%)</text>
<text x="487.5" y="2006.3" text-anchor="middle" font-size="31">Bout duration of stable wake (h)</text>
<text x="942" y="1637.8" font-weight="bold" fill="#000" font-size="46">k</text>
<line x1="1024.2" y1="1642" x2="1024.2" y2="1931.6" stroke="#231815" stroke-width="2.8"/>
<line x1="1023" y1="1930.3" x2="1484" y2="1930.3" stroke="#231815" stroke-width="2.8"/>
<path d="M1018.5,1646 L1024.2,1636.5 L1029.9,1646" fill="none" stroke="#231815" stroke-width="2.6"/>
<path d="M1479,1924.6 L1488.6,1930.3 L1479,1936" fill="none" stroke="#231815" stroke-width="2.6"/>
<path d="M1039.6,1657.1 L1160,1657.1 C1182.2,1657.1 1168.8,1656.5 1172.7,1657.1 C1176.6,1657.7 1179.8,1658.4 1183.4,1660.7 C1187.0,1663.0 1190.8,1667.0 1194.1,1670.7 C1197.4,1674.4 1200.3,1678.0 1203.4,1682.7 C1206.5,1687.4 1209.7,1692.7 1212.8,1698.7 C1215.9,1704.7 1219.2,1711.9 1222.1,1718.8 C1225.0,1725.7 1227.6,1733.2 1230.1,1740.1 C1232.5,1747.0 1234.9,1753.7 1236.8,1760.2 C1238.7,1766.7 1240.0,1772.3 1241.5,1778.9 C1243.0,1785.5 1244.0,1792.7 1246.1,1800 C1248.2,1807.3 1251.2,1815.4 1254.1,1822.7 C1257.0,1830.0 1260.2,1837.0 1263.5,1844.1 C1266.8,1851.2 1270.4,1858.5 1274.2,1865.4 C1278.0,1872.3 1282.4,1879.7 1286.2,1885.5 C1290.0,1891.3 1293.4,1896.5 1296.9,1900.2 C1300.5,1903.9 1304.6,1906.1 1307.5,1907.5 C1310.4,1908.9 1311.1,1908.2 1314.2,1908.4 C1317.3,1908.6 1301.4,1908.4 1326,1908.4 L1462,1908.4" fill="none" stroke="#231815" stroke-width="3.2" stroke-linecap="round"/>
<text transform="translate(1001,1786.7) rotate(-90)" text-anchor="middle" font-size="31">aTRN firing rate</text>
<text x="1132.7" y="1966.2" text-anchor="middle" font-size="31">Wake</text>
<text x="1388" y="1966.2" text-anchor="middle" font-size="31">NREMs</text>
<line x1="1144.9" y1="1803.4" x2="1144.9" y2="1818" stroke="#231815" stroke-width="2"/>
<line x1="1158.7" y1="1803.4" x2="1158.7" y2="1818" stroke="#231815" stroke-width="2"/>
<line x1="1164.7" y1="1803.4" x2="1164.7" y2="1818" stroke="#231815" stroke-width="2"/>
<line x1="1167.8" y1="1803.4" x2="1167.8" y2="1818" stroke="#231815" stroke-width="2"/>
<line x1="1169" y1="1803.4" x2="1169" y2="1818" stroke="#231815" stroke-width="2"/>
<line x1="1170" y1="1803.4" x2="1170" y2="1818" stroke="#231815" stroke-width="2"/>
<line x1="1171.1" y1="1803.4" x2="1171.1" y2="1818" stroke="#231815" stroke-width="2"/>
<line x1="1179" y1="1803.4" x2="1179" y2="1818" stroke="#231815" stroke-width="2"/>
<line x1="1190.1" y1="1803.4" x2="1190.1" y2="1818" stroke="#231815" stroke-width="2"/>
<line x1="1207.4" y1="1803.4" x2="1207.4" y2="1818" stroke="#231815" stroke-width="2"/>
<line x1="1231.2" y1="1803.4" x2="1231.2" y2="1818" stroke="#231815" stroke-width="2"/>
<line x1="1402.5" y1="1887.1" x2="1402.5" y2="1900.7" stroke="#231815" stroke-width="2"/>
<line x1="1413.9" y1="1887.1" x2="1413.9" y2="1900.7" stroke="#231815" stroke-width="2"/>
<line x1="1420.6" y1="1887.1" x2="1420.6" y2="1900.7" stroke="#231815" stroke-width="2"/>
<line x1="1439.5" y1="1887.1" x2="1439.5" y2="1900.7" stroke="#231815" stroke-width="2"/>
<line x1="1482.3" y1="1887.1" x2="1482.3" y2="1900.7" stroke="#231815" stroke-width="2"/>
<!--HEAT-->
<g transform="translate(498.90,406.00) scale(6.4293,4.4548)" shape-rendering="crispEdges">
<path fill="#3e26a8" d="M24 1h1v1h-1zM28 1h1v1h-1zM26 7h1v1h-1zM40 7h1v1h-1zM22 9h1v1h-1zM25 9h1v1h-1zM21 12h1v1h-1zM25 15h1v1h-1zM28 18h1v1h-1zM32 19h1v1h-1zM34 20h1v1h-1zM30 22h1v1h-1zM23 24h1v1h-1zM29 28h1v1h-1zM38 28h1v1h-1zM24 29h1v1h-1zM33 30h1v1h-1zM35 30h1v1h-1zM31 31h1v1h-1zM22 33h1v1h-1zM24 33h1v1h-1zM36 36h1v1h-1zM38 36h2v1h-2zM17 37h1v1h-1zM39 37h2v1h-2zM27 39h1v1h-1zM31 39h1v1h-1zM37 40h1v1h-1zM24 41h1v1h-1zM33 41h1v1h-1zM17 42h1v1h-1zM25 42h1v1h-1zM39 42h1v1h-1zM16 45h1v1h-1zM19 45h1v1h-1zM30 45h1v1h-1zM9 46h1v1h-1zM15 46h1v1h-1zM22 46h1v1h-1zM38 46h2v1h-2zM11 47h2v1h-2zM19 47h1v1h-1zM31 47h1v1h-1zM34 47h1v1h-1zM25 48h1v1h-1zM28 48h1v1h-1zM4 51h1v1h-1zM19 51h1v1h-1zM21 51h1v1h-1zM26 51h1v1h-1zM30 51h1v1h-1zM35 51h1v1h-1zM1 52h2v1h-2zM5 52h5v1h-5zM11 52h1v1h-1zM16 52h2v1h-2zM26 52h2v1h-2zM31 52h1v1h-1zM35 52h1v1h-1zM2 53h2v1h-2zM5 53h1v1h-1zM8 53h1v1h-1zM10 53h2v1h-2zM13 53h1v1h-1zM19 53h2v1h-2zM22 53h1v1h-1zM25 53h1v1h-1zM28 53h2v1h-2zM32 53h2v1h-2zM35 53h1v1h-1zM40 53h1v1h-1zM19 56h2v1h-2zM33 56h1v1h-1z"/>
<path fill="#402ab4" d="M29 5h1v1h-1zM37 9h1v1h-1zM29 20h1v1h-1zM31 21h1v1h-1zM27 24h1v1h-1zM26 28h1v1h-1zM27 29h1v1h-1zM32 29h1v1h-1zM26 31h1v1h-1zM37 31h1v1h-1zM38 33h1v1h-1zM33 34h1v1h-1zM31 37h1v1h-1zM34 37h1v1h-1zM38 39h1v1h-1zM40 40h1v1h-1zM20 41h1v1h-1zM27 45h1v1h-1zM37 45h1v1h-1zM3 46h1v1h-1zM13 46h1v1h-1zM17 46h1v1h-1zM32 46h1v1h-1zM27 47h1v1h-1zM7 51h1v1h-1zM38 51h1v1h-1zM4 52h1v1h-1zM15 52h1v1h-1zM21 52h5v1h-5zM29 52h2v1h-2zM34 52h1v1h-1zM37 52h1v1h-1zM7 53h1v1h-1zM9 53h1v1h-1zM17 53h1v1h-1zM21 53h1v1h-1zM23 53h1v1h-1zM30 53h1v1h-1zM7 55h1v1h-1zM6 56h1v1h-1zM21 56h1v1h-1zM30 56h1v1h-1z"/>
<path fill="#422ec0" d="M28 23h1v1h-1zM31 28h1v1h-1zM28 34h1v1h-1zM36 37h1v1h-1zM40 38h1v1h-1zM22 39h1v1h-1zM35 39h1v1h-1zM23 40h1v1h-1zM1 42h1v1h-1zM16 42h1v1h-1zM37 42h1v1h-1zM32 43h1v1h-1zM14 45h1v1h-1zM12 46h1v1h-1zM28 51h1v1h-1zM0 52h1v1h-1zM10 52h1v1h-1zM12 52h2v1h-2zM19 52h1v1h-1zM28 52h1v1h-1zM33 52h1v1h-1zM36 52h1v1h-1zM38 52h2v1h-2zM6 53h1v1h-1zM14 53h2v1h-2zM26 53h2v1h-2zM34 53h1v1h-1zM36 53h1v1h-1zM38 53h1v1h-1zM28 55h1v1h-1zM13 56h1v1h-1z"/>
<path fill="#4332cb" d="M29 26h1v1h-1zM35 26h1v1h-1zM23 28h1v1h-1zM29 29h1v1h-1zM34 29h1v1h-1zM37 29h1v1h-1zM22 30h1v1h-1zM27 30h1v1h-1zM25 35h1v1h-1zM28 37h1v1h-1zM26 39h1v1h-1zM6 41h1v1h-1zM28 41h1v1h-1zM3 42h1v1h-1zM39 43h1v1h-1zM39 45h1v1h-1zM25 46h1v1h-1zM8 47h1v1h-1zM30 47h1v1h-1zM14 51h1v1h-1zM3 52h1v1h-1zM14 52h1v1h-1zM18 52h1v1h-1zM20 52h1v1h-1zM32 52h1v1h-1zM40 52h1v1h-1zM0 53h2v1h-2zM4 53h1v1h-1zM12 53h1v1h-1zM16 53h1v1h-1zM18 53h1v1h-1zM24 53h1v1h-1zM31 53h1v1h-1zM37 53h1v1h-1zM39 53h1v1h-1zM2 55h1v1h-1zM22 56h1v1h-1z"/>
<path fill="#4537d5" d="M22 2h1v1h-1zM23 4h1v1h-1zM39 10h1v1h-1zM26 11h1v1h-1zM21 14h1v1h-1zM25 14h2v1h-2zM26 15h1v1h-1zM34 15h1v1h-1zM31 19h1v1h-1zM21 20h1v1h-1zM37 20h1v1h-1zM39 20h1v1h-1zM38 21h1v1h-1zM33 22h1v1h-1zM16 26h1v1h-1zM22 26h2v1h-2zM36 26h1v1h-1zM26 29h1v1h-1zM30 29h1v1h-1zM25 30h1v1h-1zM28 31h1v1h-1zM13 34h1v1h-1zM1 36h1v1h-1zM6 36h1v1h-1zM21 36h1v1h-1zM28 36h2v1h-2zM35 36h1v1h-1zM13 37h3v1h-3zM35 37h1v1h-1zM17 38h1v1h-1zM13 39h1v1h-1zM20 40h1v1h-1zM15 41h1v1h-1zM10 42h1v1h-1zM21 42h1v1h-1zM23 42h1v1h-1zM27 42h1v1h-1zM29 42h1v1h-1zM32 42h1v1h-1zM33 43h1v1h-1zM16 44h1v1h-1zM28 45h1v1h-1zM38 45h1v1h-1zM6 46h1v1h-1zM18 46h1v1h-1zM30 46h1v1h-1zM36 46h1v1h-1zM3 47h1v1h-1zM9 47h1v1h-1zM37 47h2v1h-2zM0 48h1v1h-1zM1 51h1v1h-1zM9 51h1v1h-1zM11 51h1v1h-1zM20 51h1v1h-1zM37 51h1v1h-1zM16 55h1v1h-1zM23 55h1v1h-1zM26 55h1v1h-1zM32 55h1v1h-1zM34 55h1v1h-1zM0 56h1v1h-1zM4 56h1v1h-1zM10 56h1v1h-1zM15 56h1v1h-1zM17 56h1v1h-1zM32 56h1v1h-1zM34 56h1v1h-1z"/>
<path fill="#463cde" d="M22 4h1v1h-1zM28 7h1v1h-1zM39 7h1v1h-1zM27 8h1v1h-1zM23 9h1v1h-1zM25 11h1v1h-1zM35 14h2v1h-2zM29 18h1v1h-1zM32 18h1v1h-1zM37 18h1v1h-1zM40 18h1v1h-1zM26 19h1v1h-1zM39 19h1v1h-1zM26 23h2v1h-2zM22 24h1v1h-1zM32 24h1v1h-1zM35 24h1v1h-1zM34 26h1v1h-1zM28 27h1v1h-1zM40 28h1v1h-1zM28 29h1v1h-1zM39 30h1v1h-1zM24 31h1v1h-1zM25 32h1v1h-1zM34 32h1v1h-1zM27 33h1v1h-1zM33 33h1v1h-1zM10 34h1v1h-1zM26 34h1v1h-1zM20 36h1v1h-1zM24 36h2v1h-2zM30 36h2v1h-2zM20 37h1v1h-1zM25 37h1v1h-1zM38 37h1v1h-1zM18 38h1v1h-1zM25 38h1v1h-1zM29 38h1v1h-1zM37 38h1v1h-1zM12 39h1v1h-1zM39 39h1v1h-1zM23 41h1v1h-1zM27 41h1v1h-1zM11 42h1v1h-1zM15 42h1v1h-1zM22 42h1v1h-1zM28 42h1v1h-1zM33 42h1v1h-1zM38 42h1v1h-1zM40 42h1v1h-1zM18 43h1v1h-1zM20 43h1v1h-1zM40 43h1v1h-1zM35 45h1v1h-1zM2 46h1v1h-1zM14 46h1v1h-1zM20 46h1v1h-1zM31 46h1v1h-1zM33 46h1v1h-1zM1 47h1v1h-1zM13 47h1v1h-1zM17 47h1v1h-1zM35 48h1v1h-1zM25 49h1v1h-1zM39 50h1v1h-1zM2 51h2v1h-2zM8 51h1v1h-1zM13 51h1v1h-1zM16 51h2v1h-2zM27 51h1v1h-1zM31 51h1v1h-1zM34 51h1v1h-1zM13 55h1v1h-1zM17 55h1v1h-1zM19 55h1v1h-1zM24 55h1v1h-1zM37 55h1v1h-1zM5 56h1v1h-1zM9 56h1v1h-1zM16 56h1v1h-1zM36 56h1v1h-1z"/>
<path fill="#4741e5" d="M27 1h1v1h-1zM24 2h1v1h-1zM25 3h1v1h-1zM37 3h1v1h-1zM30 5h1v1h-1zM35 9h1v1h-1zM40 9h1v1h-1zM30 10h1v1h-1zM27 11h1v1h-1zM24 14h1v1h-1zM36 17h1v1h-1zM22 19h1v1h-1zM35 19h1v1h-1zM31 20h1v1h-1zM36 20h1v1h-1zM30 21h1v1h-1zM32 21h1v1h-1zM37 21h1v1h-1zM39 21h1v1h-1zM37 23h1v1h-1zM27 28h1v1h-1zM34 28h1v1h-1zM38 29h1v1h-1zM40 29h1v1h-1zM23 30h1v1h-1zM29 30h1v1h-1zM22 32h1v1h-1zM36 32h1v1h-1zM34 34h1v1h-1zM17 36h1v1h-1zM23 36h1v1h-1zM40 36h1v1h-1zM18 37h1v1h-1zM14 38h1v1h-1zM16 38h1v1h-1zM24 38h1v1h-1zM20 39h1v1h-1zM37 39h1v1h-1zM29 40h1v1h-1zM35 40h2v1h-2zM25 41h2v1h-2zM30 41h2v1h-2zM35 41h1v1h-1zM37 41h2v1h-2zM6 42h1v1h-1zM9 42h1v1h-1zM12 42h1v1h-1zM18 42h1v1h-1zM26 42h1v1h-1zM13 43h1v1h-1zM22 43h1v1h-1zM25 43h1v1h-1zM26 45h1v1h-1zM1 46h1v1h-1zM10 46h1v1h-1zM16 46h1v1h-1zM14 47h1v1h-1zM9 49h1v1h-1zM24 49h1v1h-1zM6 51h1v1h-1zM29 51h1v1h-1zM33 51h1v1h-1zM34 54h1v1h-1zM0 55h1v1h-1zM14 55h2v1h-2zM30 55h1v1h-1zM36 55h1v1h-1zM39 55h1v1h-1zM1 56h1v1h-1zM35 56h1v1h-1z"/>
<path fill="#4747eb" d="M26 0h1v1h-1zM29 0h1v1h-1zM40 0h1v1h-1zM38 1h1v1h-1zM17 2h1v1h-1zM36 9h1v1h-1zM37 11h1v1h-1zM24 15h1v1h-1zM35 15h1v1h-1zM26 18h1v1h-1zM31 18h1v1h-1zM28 19h1v1h-1zM36 19h1v1h-1zM23 21h1v1h-1zM22 22h1v1h-1zM24 23h1v1h-1zM38 26h1v1h-1zM23 29h1v1h-1zM24 30h1v1h-1zM21 31h2v1h-2zM25 31h1v1h-1zM29 32h1v1h-1zM22 34h1v1h-1zM24 34h1v1h-1zM36 34h1v1h-1zM5 36h1v1h-1zM13 36h1v1h-1zM22 36h1v1h-1zM26 36h1v1h-1zM33 36h2v1h-2zM37 37h1v1h-1zM21 38h1v1h-1zM31 38h1v1h-1zM17 39h1v1h-1zM33 39h1v1h-1zM21 40h1v1h-1zM0 41h1v1h-1zM2 41h1v1h-1zM29 41h1v1h-1zM4 42h2v1h-2zM7 42h2v1h-2zM13 42h1v1h-1zM16 43h1v1h-1zM27 43h3v1h-3zM9 45h1v1h-1zM22 45h1v1h-1zM4 46h2v1h-2zM11 46h1v1h-1zM24 46h1v1h-1zM27 46h1v1h-1zM4 47h1v1h-1zM6 47h1v1h-1zM10 47h1v1h-1zM15 47h1v1h-1zM18 47h1v1h-1zM22 47h1v1h-1zM26 47h1v1h-1zM28 47h1v1h-1zM33 47h1v1h-1zM8 49h1v1h-1zM27 49h1v1h-1zM36 49h1v1h-1zM0 51h1v1h-1zM12 51h1v1h-1zM18 51h1v1h-1zM31 55h1v1h-1zM2 56h1v1h-1zM8 56h1v1h-1zM11 56h2v1h-2zM18 56h1v1h-1zM23 56h1v1h-1zM26 56h1v1h-1zM28 56h1v1h-1zM38 56h1v1h-1z"/>
<path fill="#484df0" d="M39 0h1v1h-1zM36 1h1v1h-1zM40 2h1v1h-1zM22 3h1v1h-1zM38 3h1v1h-1zM28 5h1v1h-1zM29 7h1v1h-1zM35 7h2v1h-2zM28 8h1v1h-1zM39 8h1v1h-1zM27 9h2v1h-2zM26 10h1v1h-1zM28 11h1v1h-1zM31 12h1v1h-1zM32 13h1v1h-1zM27 15h1v1h-1zM31 15h2v1h-2zM29 16h1v1h-1zM21 18h1v1h-1zM23 18h3v1h-3zM24 19h1v1h-1zM27 19h1v1h-1zM30 19h1v1h-1zM34 19h1v1h-1zM37 19h1v1h-1zM23 20h2v1h-2zM27 20h2v1h-2zM38 20h1v1h-1zM25 21h1v1h-1zM33 21h1v1h-1zM27 22h1v1h-1zM31 22h1v1h-1zM34 22h1v1h-1zM37 24h2v1h-2zM27 25h1v1h-1zM34 25h1v1h-1zM37 25h1v1h-1zM24 26h1v1h-1zM39 26h1v1h-1zM10 28h1v1h-1zM21 28h1v1h-1zM28 28h1v1h-1zM3 29h1v1h-1zM12 29h1v1h-1zM16 29h1v1h-1zM28 30h1v1h-1zM30 30h1v1h-1zM32 30h1v1h-1zM34 30h1v1h-1zM36 30h1v1h-1zM38 30h1v1h-1zM40 30h1v1h-1zM40 31h1v1h-1zM19 32h1v1h-1zM27 32h1v1h-1zM38 32h1v1h-1zM12 33h1v1h-1zM18 33h2v1h-2zM23 33h1v1h-1zM37 33h1v1h-1zM17 34h1v1h-1zM19 34h1v1h-1zM27 34h1v1h-1zM30 34h1v1h-1zM32 34h1v1h-1zM40 34h1v1h-1zM8 36h1v1h-1zM8 37h1v1h-1zM11 37h1v1h-1zM19 37h1v1h-1zM22 37h1v1h-1zM27 37h1v1h-1zM10 38h2v1h-2zM15 38h1v1h-1zM19 38h2v1h-2zM27 38h1v1h-1zM33 38h2v1h-2zM9 39h1v1h-1zM21 39h1v1h-1zM25 39h1v1h-1zM28 39h1v1h-1zM40 39h1v1h-1zM28 40h1v1h-1zM31 40h1v1h-1zM4 41h1v1h-1zM7 41h1v1h-1zM9 41h1v1h-1zM21 41h2v1h-2zM32 41h1v1h-1zM0 42h1v1h-1zM2 42h1v1h-1zM14 42h1v1h-1zM24 42h1v1h-1zM30 42h1v1h-1zM1 43h1v1h-1zM3 43h1v1h-1zM8 43h1v1h-1zM26 43h1v1h-1zM30 43h2v1h-2zM35 43h2v1h-2zM38 43h1v1h-1zM17 44h1v1h-1zM2 45h1v1h-1zM8 45h1v1h-1zM12 45h2v1h-2zM17 45h1v1h-1zM0 46h1v1h-1zM19 46h1v1h-1zM28 46h2v1h-2zM37 46h1v1h-1zM40 46h1v1h-1zM16 47h1v1h-1zM20 47h1v1h-1zM23 47h1v1h-1zM36 47h1v1h-1zM39 47h1v1h-1zM18 48h1v1h-1zM38 48h1v1h-1zM21 49h1v1h-1zM32 49h1v1h-1zM15 50h2v1h-2zM15 51h1v1h-1zM39 51h1v1h-1zM8 55h1v1h-1zM10 55h1v1h-1zM22 55h1v1h-1zM25 55h1v1h-1zM39 56h2v1h-2zM0 57h1v1h-1zM13 57h1v1h-1zM18 57h1v1h-1zM23 57h1v1h-1zM15 58h1v1h-1zM26 58h1v1h-1zM4 60h1v1h-1z"/>
<path fill="#4852f4" d="M27 0h1v1h-1zM20 1h1v1h-1zM37 4h1v1h-1zM31 5h1v1h-1zM23 7h1v1h-1zM34 7h1v1h-1zM38 7h1v1h-1zM21 9h1v1h-1zM25 10h1v1h-1zM33 11h1v1h-1zM29 13h1v1h-1zM27 14h1v1h-1zM33 15h1v1h-1zM22 18h1v1h-1zM25 20h2v1h-2zM33 20h1v1h-1zM40 20h1v1h-1zM36 21h1v1h-1zM28 22h1v1h-1zM20 24h1v1h-1zM25 24h2v1h-2zM29 24h2v1h-2zM33 24h1v1h-1zM25 25h1v1h-1zM39 25h1v1h-1zM25 26h1v1h-1zM33 26h1v1h-1zM15 28h1v1h-1zM25 28h1v1h-1zM37 28h1v1h-1zM39 28h1v1h-1zM21 29h1v1h-1zM31 29h1v1h-1zM11 30h1v1h-1zM21 30h1v1h-1zM37 30h1v1h-1zM15 31h1v1h-1zM20 31h1v1h-1zM29 31h1v1h-1zM35 31h1v1h-1zM37 32h1v1h-1zM16 33h1v1h-1zM35 33h1v1h-1zM39 33h1v1h-1zM15 34h1v1h-1zM35 34h1v1h-1zM1 35h1v1h-1zM16 36h1v1h-1zM37 36h1v1h-1zM24 37h1v1h-1zM36 38h1v1h-1zM5 39h1v1h-1zM16 39h1v1h-1zM32 39h1v1h-1zM25 40h1v1h-1zM13 41h1v1h-1zM19 42h1v1h-1zM34 42h1v1h-1zM36 42h1v1h-1zM0 43h1v1h-1zM12 43h1v1h-1zM24 43h1v1h-1zM1 45h1v1h-1zM6 45h1v1h-1zM10 45h1v1h-1zM15 45h1v1h-1zM32 45h1v1h-1zM36 45h1v1h-1zM40 45h1v1h-1zM26 46h1v1h-1zM35 46h1v1h-1zM21 47h1v1h-1zM25 47h1v1h-1zM26 48h1v1h-1zM23 49h1v1h-1zM35 49h1v1h-1zM40 50h1v1h-1zM32 51h1v1h-1zM6 54h2v1h-2zM19 54h2v1h-2zM37 54h1v1h-1zM12 55h1v1h-1zM40 55h1v1h-1zM31 56h1v1h-1zM5 57h1v1h-1zM15 59h1v1h-1zM12 61h1v1h-1z"/>
<path fill="#4758f8" d="M23 1h1v1h-1zM29 1h1v1h-1zM30 3h1v1h-1zM35 3h1v1h-1zM28 4h1v1h-1zM25 7h1v1h-1zM37 7h1v1h-1zM36 11h1v1h-1zM38 11h1v1h-1zM19 14h1v1h-1zM33 14h1v1h-1zM38 14h1v1h-1zM36 15h1v1h-1zM40 15h1v1h-1zM34 16h1v1h-1zM33 17h1v1h-1zM25 19h1v1h-1zM33 19h1v1h-1zM38 19h1v1h-1zM40 19h1v1h-1zM32 20h1v1h-1zM21 21h1v1h-1zM34 21h1v1h-1zM21 22h1v1h-1zM21 23h1v1h-1zM32 23h2v1h-2zM35 23h2v1h-2zM24 24h1v1h-1zM36 24h1v1h-1zM38 25h1v1h-1zM17 26h1v1h-1zM32 26h1v1h-1zM24 27h1v1h-1zM33 27h1v1h-1zM36 27h1v1h-1zM5 28h1v1h-1zM12 28h1v1h-1zM20 28h1v1h-1zM11 29h1v1h-1zM19 31h1v1h-1zM7 32h1v1h-1zM17 32h1v1h-1zM23 32h2v1h-2zM26 32h1v1h-1zM28 32h1v1h-1zM9 33h1v1h-1zM14 33h1v1h-1zM29 33h1v1h-1zM6 34h1v1h-1zM40 35h1v1h-1zM7 37h1v1h-1zM16 37h1v1h-1zM21 37h1v1h-1zM29 37h1v1h-1zM32 37h1v1h-1zM9 38h1v1h-1zM23 38h1v1h-1zM30 38h1v1h-1zM39 38h1v1h-1zM7 39h1v1h-1zM11 39h1v1h-1zM14 39h2v1h-2zM24 39h1v1h-1zM29 39h1v1h-1zM9 40h1v1h-1zM13 40h1v1h-1zM5 41h1v1h-1zM17 41h1v1h-1zM36 41h1v1h-1zM31 42h1v1h-1zM10 43h1v1h-1zM19 43h1v1h-1zM15 44h1v1h-1zM0 45h1v1h-1zM11 45h1v1h-1zM18 45h1v1h-1zM21 45h1v1h-1zM24 45h1v1h-1zM7 46h1v1h-1zM23 46h1v1h-1zM0 47h1v1h-1zM2 47h1v1h-1zM5 47h1v1h-1zM29 47h1v1h-1zM40 47h1v1h-1zM6 48h1v1h-1zM14 48h1v1h-1zM21 48h1v1h-1zM32 48h1v1h-1zM34 48h1v1h-1zM18 49h1v1h-1zM33 49h1v1h-1zM5 51h1v1h-1zM25 51h1v1h-1zM36 51h1v1h-1zM13 54h1v1h-1zM23 54h2v1h-2zM31 54h1v1h-1zM39 54h1v1h-1zM3 55h1v1h-1zM20 55h2v1h-2zM27 55h1v1h-1zM3 56h1v1h-1zM14 57h1v1h-1zM26 57h1v1h-1zM38 57h1v1h-1zM2 60h1v1h-1z"/>
<path fill="#465efb" d="M28 2h1v1h-1zM23 3h1v1h-1zM32 4h1v1h-1zM34 4h1v1h-1zM24 5h1v1h-1zM32 5h2v1h-2zM38 5h1v1h-1zM33 6h1v1h-1zM27 7h1v1h-1zM31 7h1v1h-1zM30 8h1v1h-1zM30 9h2v1h-2zM39 9h1v1h-1zM28 14h1v1h-1zM40 14h1v1h-1zM18 15h1v1h-1zM21 15h1v1h-1zM30 15h1v1h-1zM34 18h1v1h-1zM38 18h1v1h-1zM21 19h1v1h-1zM22 20h1v1h-1zM28 21h1v1h-1zM25 22h1v1h-1zM38 22h1v1h-1zM25 23h1v1h-1zM31 23h1v1h-1zM40 24h1v1h-1zM32 25h1v1h-1zM20 26h1v1h-1zM26 26h2v1h-2zM37 26h1v1h-1zM22 27h1v1h-1zM33 28h1v1h-1zM18 29h1v1h-1zM36 29h1v1h-1zM39 29h1v1h-1zM3 30h1v1h-1zM17 30h2v1h-2zM8 31h1v1h-1zM33 31h1v1h-1zM8 32h1v1h-1zM33 32h1v1h-1zM20 33h1v1h-1zM40 33h1v1h-1zM14 34h1v1h-1zM18 34h1v1h-1zM21 34h1v1h-1zM23 34h1v1h-1zM25 34h1v1h-1zM31 34h1v1h-1zM37 34h2v1h-2zM7 36h1v1h-1zM12 36h1v1h-1zM14 36h2v1h-2zM18 36h1v1h-1zM27 36h1v1h-1zM32 36h1v1h-1zM3 37h1v1h-1zM6 37h1v1h-1zM12 37h1v1h-1zM30 37h1v1h-1zM22 38h1v1h-1zM32 38h1v1h-1zM38 38h1v1h-1zM1 39h1v1h-1zM30 39h1v1h-1zM34 39h1v1h-1zM36 39h1v1h-1zM0 40h1v1h-1zM8 40h1v1h-1zM24 40h1v1h-1zM26 40h1v1h-1zM38 40h1v1h-1zM34 41h1v1h-1zM5 43h1v1h-1zM9 43h1v1h-1zM14 43h1v1h-1zM1 44h1v1h-1zM26 44h1v1h-1zM7 45h1v1h-1zM20 45h1v1h-1zM25 45h1v1h-1zM21 46h1v1h-1zM7 47h1v1h-1zM24 47h1v1h-1zM32 47h1v1h-1zM35 47h1v1h-1zM1 48h1v1h-1zM31 48h1v1h-1zM4 49h1v1h-1zM7 49h1v1h-1zM10 49h1v1h-1zM22 50h1v1h-1zM29 50h1v1h-1zM10 51h1v1h-1zM23 51h2v1h-2zM40 51h1v1h-1zM12 54h1v1h-1zM4 55h3v1h-3zM18 55h1v1h-1zM33 55h1v1h-1zM25 56h1v1h-1zM37 56h1v1h-1zM15 57h1v1h-1zM8 58h1v1h-1zM13 60h1v1h-1zM21 61h1v1h-1z"/>
<path fill="#4563fd" d="M25 0h1v1h-1zM9 1h1v1h-1zM31 2h1v1h-1zM30 4h1v1h-1zM32 6h1v1h-1zM36 8h1v1h-1zM40 8h1v1h-1zM19 9h1v1h-1zM27 10h1v1h-1zM29 11h1v1h-1zM34 11h1v1h-1zM21 13h1v1h-1zM40 13h1v1h-1zM29 14h1v1h-1zM39 14h1v1h-1zM28 15h1v1h-1zM37 15h1v1h-1zM27 18h1v1h-1zM29 19h1v1h-1zM35 21h1v1h-1zM23 22h1v1h-1zM36 22h2v1h-2zM29 23h1v1h-1zM38 23h1v1h-1zM4 24h1v1h-1zM21 24h1v1h-1zM2 26h1v1h-1zM5 26h1v1h-1zM19 26h1v1h-1zM28 26h1v1h-1zM30 26h1v1h-1zM23 27h1v1h-1zM31 27h1v1h-1zM9 28h1v1h-1zM17 29h1v1h-1zM19 29h1v1h-1zM25 29h1v1h-1zM35 29h1v1h-1zM19 30h2v1h-2zM26 30h1v1h-1zM17 31h1v1h-1zM23 31h1v1h-1zM30 31h1v1h-1zM38 31h1v1h-1zM10 32h1v1h-1zM35 32h1v1h-1zM17 33h1v1h-1zM21 33h1v1h-1zM25 33h2v1h-2zM36 33h1v1h-1zM0 36h1v1h-1zM1 37h1v1h-1zM9 37h1v1h-1zM12 38h1v1h-1zM26 38h1v1h-1zM28 38h1v1h-1zM23 39h1v1h-1zM22 40h1v1h-1zM3 41h1v1h-1zM11 41h2v1h-2zM16 41h1v1h-1zM39 41h2v1h-2zM20 42h1v1h-1zM35 42h1v1h-1zM2 43h1v1h-1zM6 43h2v1h-2zM21 43h1v1h-1zM10 44h1v1h-1zM33 45h1v1h-1zM8 46h1v1h-1zM34 46h1v1h-1zM7 48h1v1h-1zM33 48h1v1h-1zM2 49h1v1h-1zM6 49h1v1h-1zM11 49h1v1h-1zM28 49h1v1h-1zM30 49h1v1h-1zM1 54h1v1h-1zM28 54h1v1h-1zM40 54h1v1h-1zM11 55h1v1h-1zM14 56h1v1h-1zM3 57h1v1h-1zM10 57h1v1h-1z"/>
<path fill="#3875fe" d="M22 1h1v1h-1zM32 1h1v1h-1zM36 2h1v1h-1zM39 2h1v1h-1zM33 8h1v1h-1zM24 9h1v1h-1zM32 9h2v1h-2zM24 10h1v1h-1zM34 10h1v1h-1zM37 10h1v1h-1zM40 10h1v1h-1zM23 11h1v1h-1zM40 11h1v1h-1zM37 13h1v1h-1zM17 14h2v1h-2zM34 14h1v1h-1zM23 15h1v1h-1zM30 18h1v1h-1zM33 18h1v1h-1zM36 18h1v1h-1zM23 19h1v1h-1zM35 20h1v1h-1zM22 21h1v1h-1zM29 21h1v1h-1zM29 22h1v1h-1zM14 23h1v1h-1zM31 24h1v1h-1zM26 25h1v1h-1zM0 26h1v1h-1zM3 26h1v1h-1zM40 26h1v1h-1zM30 27h1v1h-1zM14 28h1v1h-1zM17 28h1v1h-1zM2 29h1v1h-1zM8 29h1v1h-1zM2 30h1v1h-1zM12 30h1v1h-1zM7 31h1v1h-1zM13 31h1v1h-1zM16 31h1v1h-1zM34 31h1v1h-1zM39 31h1v1h-1zM18 32h1v1h-1zM20 32h1v1h-1zM32 32h1v1h-1zM40 32h1v1h-1zM8 33h1v1h-1zM28 33h1v1h-1zM2 34h2v1h-2zM8 34h1v1h-1zM29 34h1v1h-1zM4 36h1v1h-1zM10 36h1v1h-1zM4 37h1v1h-1zM13 38h1v1h-1zM2 39h1v1h-1zM11 40h1v1h-1zM16 40h1v1h-1zM32 40h1v1h-1zM10 41h1v1h-1zM23 43h1v1h-1zM27 44h1v1h-1zM30 44h1v1h-1zM35 44h2v1h-2zM4 45h1v1h-1zM29 45h1v1h-1zM31 45h1v1h-1zM9 48h1v1h-1zM22 48h1v1h-1zM30 48h1v1h-1zM5 49h1v1h-1zM16 49h1v1h-1zM37 49h1v1h-1zM18 50h1v1h-1zM5 54h1v1h-1zM21 54h1v1h-1zM24 56h1v1h-1zM5 58h1v1h-1zM8 61h1v1h-1zM29 61h1v1h-1z"/>
<path fill="#327cfc" d="M18 2h1v1h-1zM39 4h1v1h-1zM23 5h1v1h-1zM37 5h1v1h-1zM24 7h1v1h-1zM31 8h1v1h-1zM35 8h1v1h-1zM38 9h1v1h-1zM28 10h1v1h-1zM36 10h1v1h-1zM34 13h1v1h-1zM38 13h2v1h-2zM23 14h1v1h-1zM17 15h1v1h-1zM39 16h1v1h-1zM34 17h1v1h-1zM39 17h2v1h-2zM18 18h1v1h-1zM16 19h1v1h-1zM30 20h1v1h-1zM26 21h1v1h-1zM26 22h1v1h-1zM13 23h1v1h-1zM39 23h2v1h-2zM2 24h1v1h-1zM14 24h1v1h-1zM19 24h1v1h-1zM34 24h1v1h-1zM39 24h1v1h-1zM19 25h1v1h-1zM24 25h1v1h-1zM33 25h1v1h-1zM12 26h1v1h-1zM15 26h1v1h-1zM0 28h1v1h-1zM8 28h1v1h-1zM19 28h1v1h-1zM24 28h1v1h-1zM5 29h1v1h-1zM9 29h1v1h-1zM13 29h1v1h-1zM10 30h1v1h-1zM16 30h1v1h-1zM11 31h2v1h-2zM27 31h1v1h-1zM36 31h1v1h-1zM12 32h1v1h-1zM15 32h1v1h-1zM30 32h2v1h-2zM39 32h1v1h-1zM11 34h1v1h-1zM16 34h1v1h-1zM2 35h1v1h-1zM14 35h1v1h-1zM16 35h1v1h-1zM2 36h1v1h-1zM9 36h1v1h-1zM5 38h1v1h-1zM0 39h1v1h-1zM15 40h1v1h-1zM30 40h1v1h-1zM4 43h1v1h-1zM24 44h1v1h-1zM28 44h1v1h-1zM33 44h1v1h-1zM34 45h1v1h-1zM12 48h1v1h-1zM15 48h1v1h-1zM39 48h1v1h-1zM0 49h1v1h-1zM12 49h1v1h-1zM19 49h1v1h-1zM34 49h1v1h-1zM38 50h1v1h-1zM9 54h1v1h-1zM11 54h1v1h-1zM16 54h1v1h-1zM18 54h1v1h-1zM38 54h1v1h-1zM9 55h1v1h-1zM35 55h1v1h-1zM38 55h1v1h-1zM2 57h1v1h-1zM7 57h1v1h-1zM11 57h1v1h-1zM27 57h1v1h-1zM33 57h1v1h-1zM40 57h1v1h-1zM30 58h1v1h-1zM0 60h1v1h-1zM6 60h1v1h-1zM22 60h1v1h-1zM29 60h1v1h-1zM32 60h1v1h-1zM31 61h1v1h-1z"/>
<path fill="#2f81fa" d="M24 0h1v1h-1zM31 0h1v1h-1zM38 0h1v1h-1zM35 1h1v1h-1zM27 2h1v1h-1zM27 3h1v1h-1zM29 3h1v1h-1zM22 5h1v1h-1zM25 5h1v1h-1zM35 5h1v1h-1zM40 5h1v1h-1zM25 6h1v1h-1zM30 7h1v1h-1zM21 8h1v1h-1zM25 8h1v1h-1zM34 9h1v1h-1zM31 10h1v1h-1zM23 13h2v1h-2zM20 14h1v1h-1zM32 14h1v1h-1zM37 14h1v1h-1zM20 15h1v1h-1zM39 15h1v1h-1zM31 17h1v1h-1zM35 17h1v1h-1zM19 18h2v1h-2zM39 18h1v1h-1zM14 19h1v1h-1zM4 20h1v1h-1zM18 20h1v1h-1zM24 21h1v1h-1zM35 22h1v1h-1zM39 22h1v1h-1zM16 23h1v1h-1zM19 23h2v1h-2zM30 23h1v1h-1zM18 25h1v1h-1zM21 25h1v1h-1zM35 25h1v1h-1zM8 26h1v1h-1zM21 26h1v1h-1zM3 28h1v1h-1zM13 28h1v1h-1zM30 28h1v1h-1zM32 28h1v1h-1zM36 28h1v1h-1zM4 29h1v1h-1zM6 29h2v1h-2zM14 29h1v1h-1zM0 30h1v1h-1zM5 30h1v1h-1zM13 30h2v1h-2zM18 31h1v1h-1zM32 31h1v1h-1zM15 33h1v1h-1zM7 34h1v1h-1zM9 34h1v1h-1zM12 34h1v1h-1zM5 37h1v1h-1zM33 37h1v1h-1zM3 38h1v1h-1zM6 39h1v1h-1zM12 40h1v1h-1zM34 40h1v1h-1zM39 40h1v1h-1zM11 43h1v1h-1zM11 44h1v1h-1zM22 44h1v1h-1zM39 44h1v1h-1zM3 45h1v1h-1zM23 45h1v1h-1zM4 48h1v1h-1zM8 48h1v1h-1zM11 48h1v1h-1zM13 48h1v1h-1zM20 48h1v1h-1zM23 48h1v1h-1zM29 48h1v1h-1zM40 48h1v1h-1zM13 49h1v1h-1zM22 51h1v1h-1zM4 54h1v1h-1zM17 54h1v1h-1zM22 54h1v1h-1zM29 55h1v1h-1zM12 57h1v1h-1zM24 57h1v1h-1zM34 57h1v1h-1zM9 58h1v1h-1z"/>
<path fill="#2e87f7" d="M30 0h1v1h-1zM25 1h1v1h-1zM20 2h1v1h-1zM26 3h1v1h-1zM29 4h1v1h-1zM26 8h1v1h-1zM24 11h1v1h-1zM32 11h1v1h-1zM39 11h1v1h-1zM22 13h1v1h-1zM25 13h2v1h-2zM36 13h1v1h-1zM22 14h1v1h-1zM38 15h1v1h-1zM27 16h1v1h-1zM30 16h1v1h-1zM35 16h1v1h-1zM38 16h1v1h-1zM21 17h1v1h-1zM27 17h1v1h-1zM20 22h1v1h-1zM34 23h1v1h-1zM28 24h1v1h-1zM22 25h1v1h-1zM31 25h1v1h-1zM40 25h1v1h-1zM10 26h1v1h-1zM31 26h1v1h-1zM22 28h1v1h-1zM35 28h1v1h-1zM0 29h2v1h-2zM22 29h1v1h-1zM6 30h2v1h-2zM9 30h1v1h-1zM4 31h1v1h-1zM6 31h1v1h-1zM9 31h1v1h-1zM9 32h1v1h-1zM11 32h1v1h-1zM13 32h2v1h-2zM16 32h1v1h-1zM13 33h1v1h-1zM20 34h1v1h-1zM24 35h1v1h-1zM3 36h1v1h-1zM11 36h1v1h-1zM0 37h1v1h-1zM10 37h1v1h-1zM26 37h1v1h-1zM3 39h1v1h-1zM18 39h2v1h-2zM19 40h1v1h-1zM33 40h1v1h-1zM14 41h1v1h-1zM18 41h1v1h-1zM34 43h1v1h-1zM37 43h1v1h-1zM23 44h1v1h-1zM5 45h1v1h-1zM10 48h1v1h-1zM24 48h1v1h-1zM27 48h1v1h-1zM3 49h1v1h-1zM37 50h1v1h-1zM0 54h1v1h-1zM2 54h1v1h-1zM1 55h1v1h-1zM27 56h1v1h-1zM29 56h1v1h-1zM1 57h1v1h-1zM20 57h2v1h-2zM1 58h1v1h-1zM5 59h1v1h-1zM21 60h1v1h-1zM32 61h1v1h-1z"/>
<path fill="#2d8cf3" d="M21 0h1v1h-1zM21 1h1v1h-1zM21 4h1v1h-1zM25 4h1v1h-1zM27 4h1v1h-1zM27 5h1v1h-1zM26 9h1v1h-1zM29 9h1v1h-1zM19 10h1v1h-1zM21 10h1v1h-1zM35 11h1v1h-1zM27 13h1v1h-1zM30 13h1v1h-1zM33 13h1v1h-1zM35 13h1v1h-1zM16 14h1v1h-1zM30 14h1v1h-1zM16 15h1v1h-1zM29 15h1v1h-1zM22 17h1v1h-1zM35 18h1v1h-1zM18 19h2v1h-2zM19 20h1v1h-1zM19 21h1v1h-1zM40 21h1v1h-1zM24 22h1v1h-1zM40 22h1v1h-1zM28 25h1v1h-1zM1 26h1v1h-1zM4 26h1v1h-1zM11 26h1v1h-1zM13 26h2v1h-2zM18 26h1v1h-1zM7 28h1v1h-1zM11 28h1v1h-1zM10 29h1v1h-1zM20 29h1v1h-1zM33 29h1v1h-1zM4 30h1v1h-1zM8 30h1v1h-1zM15 30h1v1h-1zM31 30h1v1h-1zM21 32h1v1h-1zM30 33h1v1h-1zM34 33h1v1h-1zM1 34h1v1h-1zM39 35h1v1h-1zM19 36h1v1h-1zM23 37h1v1h-1zM8 38h1v1h-1zM4 39h1v1h-1zM8 39h1v1h-1zM10 39h1v1h-1zM3 40h1v1h-1zM27 40h1v1h-1zM1 41h1v1h-1zM8 41h1v1h-1zM19 41h1v1h-1zM15 43h1v1h-1zM17 43h1v1h-1zM13 44h2v1h-2zM37 44h1v1h-1zM2 48h1v1h-1zM36 48h2v1h-2zM14 49h2v1h-2zM22 49h1v1h-1zM26 49h1v1h-1zM38 49h1v1h-1zM3 54h1v1h-1zM8 54h1v1h-1zM10 54h1v1h-1zM14 54h1v1h-1zM33 54h1v1h-1zM7 56h1v1h-1zM2 58h1v1h-1zM12 60h1v1h-1zM30 60h1v1h-1zM19 61h1v1h-1zM39 61h1v1h-1z"/>
<path fill="#2797eb" d="M35 4h1v1h-1zM39 5h1v1h-1zM21 7h1v1h-1zM20 9h1v1h-1zM21 11h1v1h-1zM26 12h1v1h-1zM28 16h1v1h-1zM37 16h1v1h-1zM38 17h1v1h-1zM17 20h1v1h-1zM32 22h1v1h-1zM15 23h1v1h-1zM15 24h1v1h-1zM20 25h1v1h-1zM2 28h1v1h-1zM15 29h1v1h-1zM2 31h1v1h-1zM4 32h2v1h-2zM3 33h2v1h-2zM39 34h1v1h-1zM15 35h1v1h-1zM0 38h1v1h-1zM2 38h1v1h-1zM10 40h1v1h-1zM17 40h1v1h-1zM19 44h1v1h-1zM21 44h1v1h-1zM16 48h1v1h-1zM1 49h1v1h-1zM20 49h1v1h-1zM13 50h1v1h-1zM25 57h1v1h-1zM28 57h1v1h-1zM11 58h1v1h-1zM13 58h1v1h-1zM7 59h1v1h-1zM11 60h1v1h-1zM2 61h1v1h-1zM24 61h1v1h-1zM33 61h1v1h-1z"/>
<path fill="#259be8" d="M37 2h1v1h-1zM40 4h1v1h-1zM21 5h1v1h-1zM36 5h1v1h-1zM32 7h1v1h-1zM24 8h1v1h-1zM28 13h1v1h-1zM21 16h1v1h-1zM33 16h1v1h-1zM36 16h1v1h-1zM2 18h1v1h-1zM5 19h1v1h-1zM18 21h1v1h-1zM0 22h1v1h-1zM2 23h1v1h-1zM18 23h1v1h-1zM9 24h1v1h-1zM17 24h1v1h-1zM36 25h1v1h-1zM7 26h1v1h-1zM9 26h1v1h-1zM4 28h1v1h-1zM18 35h2v1h-2zM2 44h1v1h-1zM3 48h1v1h-1zM19 48h1v1h-1zM17 49h1v1h-1zM31 49h1v1h-1zM12 50h1v1h-1zM28 50h1v1h-1zM36 54h1v1h-1zM4 57h1v1h-1zM29 57h1v1h-1zM10 58h1v1h-1zM8 59h1v1h-1zM5 60h1v1h-1z"/>
<path fill="#23a0e5" d="M31 1h1v1h-1zM33 1h1v1h-1zM35 2h1v1h-1zM28 3h1v1h-1zM31 3h1v1h-1zM18 4h1v1h-1zM22 7h1v1h-1zM33 7h1v1h-1zM38 8h1v1h-1zM23 10h1v1h-1zM0 15h1v1h-1zM20 16h1v1h-1zM17 19h1v1h-1zM12 20h1v1h-1zM20 20h1v1h-1zM27 21h1v1h-1zM11 22h1v1h-1zM7 23h1v1h-1zM13 24h1v1h-1zM18 24h1v1h-1zM4 25h1v1h-1zM9 25h1v1h-1zM29 25h1v1h-1zM21 27h1v1h-1zM6 28h1v1h-1zM5 31h1v1h-1zM14 31h1v1h-1zM3 32h1v1h-1zM0 33h2v1h-2zM10 33h2v1h-2zM32 33h1v1h-1zM4 40h3v1h-3zM12 44h1v1h-1zM38 44h1v1h-1zM9 50h1v1h-1zM19 50h2v1h-2zM31 50h1v1h-1zM35 54h1v1h-1zM31 57h2v1h-2zM0 58h1v1h-1zM1 60h1v1h-1zM9 60h1v1h-1zM37 60h1v1h-1zM40 60h1v1h-1zM0 61h1v1h-1zM5 61h1v1h-1z"/>
<path fill="#20a5e3" d="M39 1h1v1h-1zM38 4h1v1h-1zM34 5h1v1h-1zM18 13h1v1h-1zM16 18h2v1h-2zM6 19h1v1h-1zM15 19h1v1h-1zM12 21h1v1h-1zM15 21h1v1h-1zM17 21h1v1h-1zM12 23h1v1h-1zM23 23h1v1h-1zM8 25h1v1h-1zM6 26h1v1h-1zM9 27h1v1h-1zM19 27h1v1h-1zM1 28h1v1h-1zM1 30h1v1h-1zM6 32h1v1h-1zM7 33h1v1h-1zM31 33h1v1h-1zM7 40h1v1h-1zM25 44h1v1h-1zM17 48h1v1h-1zM29 49h1v1h-1zM39 49h1v1h-1zM3 50h1v1h-1zM5 50h2v1h-2zM11 50h1v1h-1zM30 54h1v1h-1zM8 57h2v1h-2zM19 57h1v1h-1zM14 58h1v1h-1zM26 60h1v1h-1zM28 60h1v1h-1zM39 60h1v1h-1zM23 61h1v1h-1zM30 61h1v1h-1zM36 61h1v1h-1z"/>
<path fill="#1ca9df" d="M12 2h1v1h-1zM30 2h1v1h-1zM33 2h1v1h-1zM24 4h1v1h-1zM31 4h1v1h-1zM26 5h1v1h-1zM22 8h1v1h-1zM0 10h1v1h-1zM32 10h1v1h-1zM22 11h1v1h-1zM30 11h2v1h-2zM20 13h1v1h-1zM31 13h1v1h-1zM31 14h1v1h-1zM14 15h1v1h-1zM19 15h1v1h-1zM22 15h1v1h-1zM23 17h1v1h-1zM20 19h1v1h-1zM16 21h1v1h-1zM20 21h1v1h-1zM17 22h3v1h-3zM5 23h1v1h-1zM17 23h1v1h-1zM22 23h1v1h-1zM6 25h1v1h-1zM30 25h1v1h-1zM20 27h1v1h-1zM29 27h1v1h-1zM39 27h1v1h-1zM16 28h1v1h-1zM18 28h1v1h-1zM0 31h1v1h-1zM10 31h1v1h-1zM2 32h1v1h-1zM5 33h2v1h-2zM0 34h1v1h-1zM4 34h2v1h-2zM0 35h1v1h-1zM11 35h1v1h-1zM21 35h1v1h-1zM29 35h1v1h-1zM2 37h1v1h-1zM1 38h1v1h-1zM4 38h1v1h-1zM35 38h1v1h-1zM2 40h1v1h-1zM14 40h1v1h-1zM18 40h1v1h-1zM5 48h1v1h-1zM40 49h1v1h-1zM10 50h1v1h-1zM32 54h1v1h-1zM36 57h1v1h-1zM10 59h1v1h-1zM17 59h1v1h-1zM7 60h1v1h-1zM15 60h1v1h-1zM18 60h1v1h-1zM4 61h1v1h-1zM17 61h1v1h-1z"/>
<path fill="#12b1d6" d="M22 0h1v1h-1zM32 2h1v1h-1zM37 8h1v1h-1zM15 9h1v1h-1zM19 11h1v1h-1zM25 12h1v1h-1zM33 12h1v1h-1zM16 13h1v1h-1zM40 16h1v1h-1zM19 17h1v1h-1zM11 18h1v1h-1zM11 20h1v1h-1zM6 22h1v1h-1zM14 25h1v1h-1zM1 32h1v1h-1zM4 44h2v1h-2zM27 50h1v1h-1zM35 50h1v1h-1zM15 54h1v1h-1zM30 57h1v1h-1zM13 59h1v1h-1zM33 60h1v1h-1zM38 60h1v1h-1zM7 61h1v1h-1zM26 61h1v1h-1zM34 61h1v1h-1z"/>
<path fill="#08b5d0" d="M33 0h1v1h-1zM26 1h1v1h-1zM21 3h1v1h-1zM14 7h1v1h-1zM19 13h1v1h-1zM10 15h1v1h-1zM25 16h1v1h-1zM28 17h1v1h-1zM32 17h1v1h-1zM13 18h2v1h-2zM7 20h1v1h-1zM13 20h2v1h-2zM16 20h1v1h-1zM9 22h1v1h-1zM14 22h1v1h-1zM1 23h1v1h-1zM6 23h1v1h-1zM23 25h1v1h-1zM2 27h1v1h-1zM32 35h1v1h-1zM6 38h1v1h-1zM1 40h1v1h-1zM3 44h1v1h-1zM9 44h1v1h-1zM18 44h1v1h-1zM20 44h1v1h-1zM32 44h1v1h-1zM17 50h1v1h-1zM29 54h1v1h-1zM6 57h1v1h-1zM37 57h1v1h-1zM39 57h1v1h-1zM16 58h1v1h-1zM30 59h1v1h-1zM3 60h1v1h-1zM31 60h1v1h-1zM3 61h1v1h-1zM10 61h1v1h-1zM20 61h1v1h-1zM25 61h1v1h-1z"/>
<path fill="#01b8ca" d="M32 0h1v1h-1zM30 1h1v1h-1zM23 2h1v1h-1zM29 2h1v1h-1zM39 3h1v1h-1zM15 7h1v1h-1zM17 7h1v1h-1zM20 10h1v1h-1zM29 10h1v1h-1zM12 14h1v1h-1zM30 17h1v1h-1zM37 17h1v1h-1zM12 22h1v1h-1zM0 23h1v1h-1zM10 24h2v1h-2zM5 25h1v1h-1zM11 25h1v1h-1zM0 27h1v1h-1zM7 27h1v1h-1zM13 27h1v1h-1zM25 27h1v1h-1zM37 27h1v1h-1zM3 31h1v1h-1zM0 32h1v1h-1zM12 35h1v1h-1zM28 35h1v1h-1zM0 44h1v1h-1zM7 44h1v1h-1zM29 44h1v1h-1zM34 44h1v1h-1zM27 54h1v1h-1zM3 58h1v1h-1zM6 58h1v1h-1zM34 58h1v1h-1zM11 59h1v1h-1zM14 60h1v1h-1zM16 60h1v1h-1zM24 60h2v1h-2zM6 61h1v1h-1zM11 61h1v1h-1zM13 61h1v1h-1zM22 61h1v1h-1z"/>
<path fill="#02bac3" d="M40 1h1v1h-1zM19 2h1v1h-1zM40 3h1v1h-1zM16 7h1v1h-1zM29 8h1v1h-1zM20 11h1v1h-1zM39 12h1v1h-1zM22 16h1v1h-1zM18 17h1v1h-1zM20 17h1v1h-1zM12 18h1v1h-1zM7 19h1v1h-1zM9 19h1v1h-1zM9 20h1v1h-1zM15 20h1v1h-1zM7 21h1v1h-1zM10 21h1v1h-1zM16 22h1v1h-1zM7 24h1v1h-1zM13 25h1v1h-1zM2 33h1v1h-1zM31 44h1v1h-1zM21 50h1v1h-1zM25 54h2v1h-2zM14 59h1v1h-1zM16 59h1v1h-1zM20 59h1v1h-1zM37 59h1v1h-1zM40 59h1v1h-1zM20 60h1v1h-1zM23 60h1v1h-1zM36 60h1v1h-1zM1 61h1v1h-1zM15 61h1v1h-1zM37 61h1v1h-1z"/>
<path fill="#0bbdbd" d="M28 0h1v1h-1zM25 2h1v1h-1zM24 3h1v1h-1zM19 5h2v1h-2zM31 6h1v1h-1zM18 7h1v1h-1zM17 9h1v1h-1zM6 10h1v1h-1zM33 10h1v1h-1zM0 11h1v1h-1zM13 11h1v1h-1zM15 15h1v1h-1zM23 16h1v1h-1zM31 16h1v1h-1zM24 17h1v1h-1zM26 17h1v1h-1zM1 18h1v1h-1zM15 18h1v1h-1zM11 19h2v1h-2zM10 20h1v1h-1zM6 21h1v1h-1zM11 21h1v1h-1zM14 21h1v1h-1zM12 24h1v1h-1zM16 25h2v1h-2zM8 27h1v1h-1zM40 27h1v1h-1zM1 31h1v1h-1zM33 35h2v1h-2zM7 38h1v1h-1zM40 44h1v1h-1zM17 57h1v1h-1zM22 57h1v1h-1zM9 59h1v1h-1zM12 59h1v1h-1zM19 59h1v1h-1zM38 59h1v1h-1zM10 60h1v1h-1zM34 60h1v1h-1zM14 61h1v1h-1zM27 61h1v1h-1zM40 61h1v1h-1z"/>
<path fill="#31c69f" d="M37 0h1v1h-1zM33 3h1v1h-1zM20 7h1v1h-1zM18 9h1v1h-1zM1 14h1v1h-1zM14 14h1v1h-1zM10 18h1v1h-1zM6 20h1v1h-1zM2 21h1v1h-1zM8 21h1v1h-1zM2 25h1v1h-1zM15 25h1v1h-1zM9 35h1v1h-1zM34 50h1v1h-1zM29 58h1v1h-1zM8 60h1v1h-1zM19 60h1v1h-1zM35 61h1v1h-1z"/>
<path fill="#37c897" d="M15 2h1v1h-1zM26 4h1v1h-1zM20 8h1v1h-1zM14 11h1v1h-1zM16 11h1v1h-1zM15 14h1v1h-1zM9 15h1v1h-1zM12 15h1v1h-1zM8 19h1v1h-1zM10 19h1v1h-1zM13 19h1v1h-1zM4 21h1v1h-1zM9 23h1v1h-1zM1 24h1v1h-1zM1 25h1v1h-1zM18 27h1v1h-1zM35 27h1v1h-1zM38 27h1v1h-1zM13 35h1v1h-1zM31 35h1v1h-1zM9 61h1v1h-1zM18 61h1v1h-1z"/>
<path fill="#3fca8e" d="M26 2h1v1h-1zM34 3h1v1h-1zM19 7h1v1h-1zM15 11h1v1h-1zM38 12h1v1h-1zM17 13h1v1h-1zM13 14h1v1h-1zM11 15h1v1h-1zM32 16h1v1h-1zM5 20h1v1h-1zM8 20h1v1h-1zM5 21h1v1h-1zM11 23h1v1h-1zM6 24h1v1h-1zM12 25h1v1h-1zM14 27h1v1h-1zM35 35h1v1h-1zM28 59h1v1h-1z"/>
<path fill="#4acb84" d="M23 6h1v1h-1zM22 10h1v1h-1zM11 11h1v1h-1zM13 15h1v1h-1zM19 16h1v1h-1zM3 19h1v1h-1zM5 22h1v1h-1zM7 22h1v1h-1zM10 22h1v1h-1zM13 22h1v1h-1zM3 23h1v1h-1zM1 27h1v1h-1zM3 27h1v1h-1zM12 27h1v1h-1zM26 27h1v1h-1zM3 35h2v1h-2zM26 35h1v1h-1zM6 44h1v1h-1zM28 58h1v1h-1zM0 59h1v1h-1zM22 59h1v1h-1zM16 61h1v1h-1z"/>
<path fill="#57cc7a" d="M19 1h1v1h-1zM16 2h1v1h-1zM34 2h1v1h-1zM14 9h1v1h-1zM30 12h1v1h-1zM1 20h1v1h-1zM1 21h1v1h-1zM9 21h1v1h-1zM13 21h1v1h-1zM8 22h1v1h-1zM7 25h1v1h-1zM4 27h1v1h-1zM17 27h1v1h-1zM20 35h1v1h-1zM0 50h1v1h-1zM14 50h1v1h-1zM16 57h1v1h-1zM23 58h1v1h-1zM6 59h1v1h-1zM17 60h1v1h-1z"/>
<path fill="#9dc943" d="M20 4h1v1h-1zM34 8h1v1h-1zM2 9h1v1h-1zM2 11h1v1h-1zM23 12h1v1h-1zM13 13h1v1h-1zM5 15h1v1h-1zM9 18h1v1h-1zM8 23h1v1h-1zM5 24h1v1h-1zM10 25h1v1h-1zM11 27h1v1h-1zM10 35h1v1h-1zM30 35h1v1h-1z"/>
<path fill="#abc739" d="M14 4h1v1h-1zM13 10h1v1h-1zM35 10h1v1h-1zM2 14h1v1h-1zM18 16h1v1h-1zM26 16h1v1h-1zM2 17h1v1h-1zM4 18h1v1h-1zM8 18h1v1h-1zM10 23h1v1h-1zM0 24h1v1h-1zM0 25h1v1h-1zM10 27h1v1h-1zM22 35h1v1h-1zM8 44h1v1h-1zM12 58h1v1h-1zM36 58h1v1h-1zM36 59h1v1h-1zM27 60h1v1h-1z"/>
<path fill="#b9c431" d="M21 2h1v1h-1zM16 9h1v1h-1zM12 10h1v1h-1zM16 10h3v1h-3zM10 11h1v1h-1zM18 11h1v1h-1zM34 12h1v1h-1zM14 13h2v1h-2zM7 14h1v1h-1zM10 14h1v1h-1zM7 15h1v1h-1zM8 16h1v1h-1zM3 24h1v1h-1zM16 24h1v1h-1zM34 27h1v1h-1zM1 59h1v1h-1zM18 59h1v1h-1zM29 59h1v1h-1zM35 60h1v1h-1zM38 61h1v1h-1z"/>
<path fill="#c5c22a" d="M34 1h1v1h-1zM20 3h1v1h-1zM0 5h1v1h-1zM18 8h1v1h-1zM18 12h2v1h-2zM40 12h1v1h-1zM12 13h1v1h-1zM8 15h1v1h-1zM7 16h1v1h-1zM24 16h1v1h-1zM25 17h1v1h-1zM29 17h1v1h-1zM7 18h1v1h-1zM4 19h1v1h-1zM0 21h1v1h-1zM4 22h1v1h-1zM4 23h1v1h-1zM15 27h1v1h-1zM8 35h1v1h-1zM36 35h1v1h-1zM38 35h1v1h-1zM23 50h1v1h-1z"/>
<path fill="#d1bf27" d="M34 0h1v1h-1zM16 3h1v1h-1zM32 3h1v1h-1zM36 4h1v1h-1zM12 9h1v1h-1zM14 10h2v1h-2zM9 11h1v1h-1zM11 14h1v1h-1zM1 15h4v1h-4zM6 16h1v1h-1zM0 17h2v1h-2zM3 18h1v1h-1zM5 18h1v1h-1zM2 22h1v1h-1zM8 24h1v1h-1zM3 25h1v1h-1zM27 27h1v1h-1zM7 35h1v1h-1zM26 59h1v1h-1zM31 59h1v1h-1zM28 61h1v1h-1z"/>
<path fill="#f0ba36" d="M17 1h1v1h-1zM19 3h1v1h-1zM18 5h1v1h-1zM2 7h1v1h-1zM6 7h1v1h-1zM4 9h1v1h-1zM8 11h1v1h-1zM20 12h1v1h-1zM27 12h1v1h-1zM29 12h1v1h-1zM0 13h1v1h-1zM2 13h1v1h-1zM0 14h1v1h-1zM8 14h2v1h-2zM9 16h1v1h-1zM11 16h1v1h-1zM17 16h1v1h-1zM6 17h1v1h-1zM10 17h1v1h-1zM16 17h1v1h-1zM15 22h1v1h-1zM32 27h1v1h-1zM6 35h1v1h-1zM26 50h1v1h-1zM27 58h1v1h-1zM33 58h1v1h-1zM21 59h1v1h-1zM34 59h1v1h-1z"/>
<path fill="#f8ba3d" d="M23 0h1v1h-1zM18 3h1v1h-1zM36 3h1v1h-1zM15 5h1v1h-1zM5 9h1v1h-1zM5 11h1v1h-1zM5 16h1v1h-1zM14 16h1v1h-1zM16 16h1v1h-1zM3 17h1v1h-1zM8 17h1v1h-1zM0 18h1v1h-1zM3 21h1v1h-1zM8 50h1v1h-1zM24 58h1v1h-1zM25 59h1v1h-1zM35 59h1v1h-1z"/>
<path fill="#febe3c" d="M36 0h1v1h-1zM10 2h1v1h-1zM0 4h1v1h-1zM19 4h1v1h-1zM8 5h1v1h-1zM14 5h1v1h-1zM24 6h1v1h-1zM29 6h1v1h-1zM5 7h1v1h-1zM1 9h1v1h-1zM12 11h1v1h-1zM5 13h1v1h-1zM5 14h1v1h-1zM3 22h1v1h-1zM24 50h1v1h-1zM22 58h1v1h-1zM31 58h1v1h-1zM27 59h1v1h-1z"/>
<path fill="#fec338" d="M19 0h1v1h-1zM35 0h1v1h-1zM17 3h1v1h-1zM16 5h1v1h-1zM38 6h1v1h-1zM7 7h1v1h-1zM19 8h1v1h-1zM3 9h1v1h-1zM7 11h1v1h-1zM6 13h1v1h-1zM6 14h1v1h-1zM15 16h1v1h-1zM4 17h1v1h-1zM17 17h1v1h-1zM6 18h1v1h-1zM2 19h1v1h-1zM5 27h1v1h-1zM16 27h1v1h-1zM17 35h1v1h-1zM27 35h1v1h-1zM37 35h1v1h-1zM2 50h1v1h-1zM35 57h1v1h-1zM23 59h2v1h-2z"/>
<path fill="#fec934" d="M18 1h1v1h-1zM38 2h1v1h-1zM17 5h1v1h-1zM0 7h1v1h-1zM23 8h1v1h-1zM11 10h1v1h-1zM1 11h1v1h-1zM6 11h1v1h-1zM9 13h1v1h-1zM6 15h1v1h-1zM4 16h1v1h-1zM10 16h1v1h-1zM5 17h1v1h-1zM7 17h1v1h-1zM0 19h1v1h-1zM3 20h1v1h-1zM1 22h1v1h-1zM6 27h1v1h-1zM25 50h1v1h-1zM30 50h1v1h-1zM21 58h1v1h-1zM35 58h1v1h-1zM40 58h1v1h-1z"/>
<path fill="#f6ef20" d="M5 0h1v1h-1zM10 0h1v1h-1zM16 0h1v1h-1zM20 0h1v1h-1zM1 1h1v1h-1zM7 1h1v1h-1zM14 1h1v1h-1zM37 1h1v1h-1zM0 2h1v1h-1zM7 2h1v1h-1zM14 2h1v1h-1zM0 3h2v1h-2zM6 3h2v1h-2zM11 3h1v1h-1zM14 3h1v1h-1zM3 4h1v1h-1zM6 4h1v1h-1zM8 4h1v1h-1zM10 4h1v1h-1zM3 5h1v1h-1zM13 5h1v1h-1zM13 6h1v1h-1zM15 6h1v1h-1zM1 7h1v1h-1zM3 7h1v1h-1zM13 7h1v1h-1zM4 8h1v1h-1zM10 8h1v1h-1zM10 9h1v1h-1zM3 10h1v1h-1zM0 12h1v1h-1zM8 12h1v1h-1zM11 12h1v1h-1zM17 12h1v1h-1zM37 12h1v1h-1zM1 13h1v1h-1zM12 16h1v1h-1zM4 50h1v1h-1zM17 58h1v1h-1zM19 58h1v1h-1zM25 58h1v1h-1zM32 59h1v1h-1z"/>
<path fill="#f9fb15" d="M0 0h5v1h-5zM6 0h4v1h-4zM11 0h5v1h-5zM17 0h2v1h-2zM0 1h1v1h-1zM2 1h5v1h-5zM8 1h1v1h-1zM10 1h4v1h-4zM15 1h2v1h-2zM1 2h6v1h-6zM8 2h2v1h-2zM11 2h1v1h-1zM13 2h1v1h-1zM2 3h4v1h-4zM8 3h3v1h-3zM12 3h2v1h-2zM15 3h1v1h-1zM1 4h2v1h-2zM4 4h2v1h-2zM7 4h1v1h-1zM9 4h1v1h-1zM11 4h3v1h-3zM15 4h3v1h-3zM33 4h1v1h-1zM1 5h2v1h-2zM4 5h4v1h-4zM9 5h4v1h-4zM0 6h13v1h-13zM14 6h1v1h-1zM16 6h7v1h-7zM26 6h3v1h-3zM30 6h1v1h-1zM34 6h4v1h-4zM39 6h2v1h-2zM4 7h1v1h-1zM8 7h5v1h-5zM0 8h4v1h-4zM5 8h5v1h-5zM11 8h7v1h-7zM32 8h1v1h-1zM0 9h1v1h-1zM6 9h4v1h-4zM11 9h1v1h-1zM13 9h1v1h-1zM1 10h2v1h-2zM4 10h2v1h-2zM7 10h4v1h-4zM38 10h1v1h-1zM3 11h2v1h-2zM17 11h1v1h-1zM1 12h7v1h-7zM9 12h2v1h-2zM12 12h5v1h-5zM22 12h1v1h-1zM24 12h1v1h-1zM28 12h1v1h-1zM32 12h1v1h-1zM35 12h2v1h-2zM3 13h2v1h-2zM7 13h2v1h-2zM10 13h2v1h-2zM3 14h2v1h-2zM0 16h4v1h-4zM13 16h1v1h-1zM9 17h1v1h-1zM11 17h5v1h-5zM1 19h1v1h-1zM0 20h1v1h-1zM2 20h1v1h-1zM5 35h1v1h-1zM23 35h1v1h-1zM1 50h1v1h-1zM7 50h1v1h-1zM32 50h2v1h-2zM36 50h1v1h-1zM4 58h1v1h-1zM7 58h1v1h-1zM18 58h1v1h-1zM20 58h1v1h-1zM32 58h1v1h-1zM37 58h3v1h-3zM2 59h3v1h-3zM33 59h1v1h-1zM39 59h1v1h-1z"/>
</g>
<g transform="translate(839.20,405.30) scale(6.4000,3.4538)" shape-rendering="crispEdges">
<path fill="#3e26a8" d="M32 2h1v1h-1zM23 8h1v1h-1zM29 8h1v1h-1zM20 12h1v1h-1zM25 12h1v1h-1zM31 12h1v1h-1zM25 13h1v1h-1zM26 16h1v1h-1zM28 18h1v1h-1zM23 19h1v1h-1zM40 21h1v1h-1zM23 22h1v1h-1zM29 24h1v1h-1zM35 24h1v1h-1zM26 26h1v1h-1zM38 26h1v1h-1zM22 27h1v1h-1zM25 27h1v1h-1zM23 28h1v1h-1zM37 30h1v1h-1zM38 32h1v1h-1zM25 33h2v1h-2zM29 33h1v1h-1zM37 33h1v1h-1zM36 34h1v1h-1zM22 35h1v1h-1zM30 35h1v1h-1zM33 35h1v1h-1zM24 37h1v1h-1zM24 39h1v1h-1zM22 41h1v1h-1zM32 41h1v1h-1zM34 41h1v1h-1zM25 44h2v1h-2zM36 45h1v1h-1zM25 46h1v1h-1zM34 46h1v1h-1zM39 46h1v1h-1zM21 47h1v1h-1zM21 49h1v1h-1zM24 50h1v1h-1zM35 50h1v1h-1zM23 52h1v1h-1zM29 52h1v1h-1zM35 54h1v1h-1zM20 55h1v1h-1zM25 55h1v1h-1zM34 55h1v1h-1zM38 55h1v1h-1zM32 56h1v1h-1zM9 57h1v1h-1zM22 57h1v1h-1zM25 57h1v1h-1zM28 57h1v1h-1zM20 59h1v1h-1zM31 59h1v1h-1zM34 59h1v1h-1zM39 59h2v1h-2zM10 60h1v1h-1zM37 60h1v1h-1zM22 61h1v1h-1zM25 61h1v1h-1zM30 61h1v1h-1zM29 62h1v1h-1zM37 62h2v1h-2zM9 63h1v1h-1zM25 63h3v1h-3zM34 63h1v1h-1zM18 64h1v1h-1zM35 64h1v1h-1zM22 65h1v1h-1zM25 67h1v1h-1zM6 69h1v1h-1zM9 69h2v1h-2zM15 69h1v1h-1zM19 69h1v1h-1zM28 69h1v1h-1zM20 70h1v1h-1zM24 70h1v1h-1zM26 70h1v1h-1zM28 70h1v1h-1zM25 71h1v1h-1zM36 71h1v1h-1zM7 72h1v1h-1zM12 72h1v1h-1zM4 73h1v1h-1zM10 73h1v1h-1zM40 73h1v1h-1zM13 75h1v1h-1zM22 75h1v1h-1zM24 75h1v1h-1zM37 75h1v1h-1zM0 77h1v1h-1zM26 77h1v1h-1zM35 77h1v1h-1zM38 77h1v1h-1z"/>
<path fill="#402ab4" d="M31 8h1v1h-1zM28 19h1v1h-1zM31 24h1v1h-1zM37 26h1v1h-1zM27 27h1v1h-1zM35 28h1v1h-1zM25 30h1v1h-1zM34 36h1v1h-1zM27 37h1v1h-1zM30 40h1v1h-1zM35 41h1v1h-1zM37 42h1v1h-1zM35 44h1v1h-1zM23 47h1v1h-1zM31 47h1v1h-1zM35 47h1v1h-1zM32 50h1v1h-1zM33 52h1v1h-1zM26 53h1v1h-1zM28 54h1v1h-1zM28 55h1v1h-1zM21 58h1v1h-1zM37 59h1v1h-1zM40 60h1v1h-1zM7 61h1v1h-1zM20 61h1v1h-1zM23 61h1v1h-1zM21 62h1v1h-1zM27 62h1v1h-1zM31 62h1v1h-1zM39 62h1v1h-1zM31 65h1v1h-1zM11 69h1v1h-1zM33 69h1v1h-1zM35 69h1v1h-1zM21 70h1v1h-1zM30 72h1v1h-1zM37 72h1v1h-1zM32 73h1v1h-1zM2 75h1v1h-1zM15 75h1v1h-1zM20 77h1v1h-1z"/>
<path fill="#422ec0" d="M30 6h1v1h-1zM40 8h1v1h-1zM32 11h1v1h-1zM36 12h1v1h-1zM22 15h1v1h-1zM35 15h1v1h-1zM31 18h1v1h-1zM40 19h1v1h-1zM34 22h2v1h-2zM23 23h1v1h-1zM25 26h1v1h-1zM29 27h1v1h-1zM21 35h1v1h-1zM39 37h1v1h-1zM27 42h1v1h-1zM32 42h1v1h-1zM21 44h1v1h-1zM32 46h1v1h-1zM33 47h1v1h-1zM21 50h1v1h-1zM25 50h1v1h-1zM40 50h1v1h-1zM26 52h1v1h-1zM21 53h1v1h-1zM25 53h1v1h-1zM23 54h1v1h-1zM39 55h1v1h-1zM28 59h1v1h-1zM28 60h1v1h-1zM3 61h1v1h-1zM37 61h2v1h-2zM22 63h1v1h-1zM30 64h1v1h-1zM32 64h1v1h-1zM21 65h1v1h-1zM25 72h1v1h-1zM39 73h1v1h-1zM29 75h1v1h-1zM22 77h1v1h-1z"/>
<path fill="#4332cb" d="M25 6h1v1h-1zM31 9h1v1h-1zM38 9h1v1h-1zM22 10h1v1h-1zM29 10h1v1h-1zM27 12h1v1h-1zM34 14h1v1h-1zM36 15h1v1h-1zM25 21h1v1h-1zM39 28h1v1h-1zM22 30h1v1h-1zM24 31h1v1h-1zM38 34h1v1h-1zM38 38h1v1h-1zM36 42h1v1h-1zM36 43h1v1h-1zM23 44h1v1h-1zM40 44h1v1h-1zM27 50h1v1h-1zM29 50h1v1h-1zM28 52h1v1h-1zM23 53h1v1h-1zM36 56h1v1h-1zM39 56h1v1h-1zM21 57h1v1h-1zM38 57h1v1h-1zM16 63h2v1h-2zM32 63h1v1h-1zM35 63h1v1h-1zM25 64h1v1h-1zM34 64h1v1h-1zM20 67h1v1h-1zM20 69h2v1h-2zM27 69h1v1h-1zM30 69h1v1h-1zM27 70h1v1h-1zM34 70h1v1h-1zM15 71h1v1h-1zM22 72h1v1h-1zM34 72h1v1h-1zM36 72h1v1h-1zM26 73h1v1h-1zM5 75h1v1h-1zM31 75h2v1h-2zM2 77h1v1h-1zM9 77h1v1h-1zM24 77h1v1h-1z"/>
<path fill="#4537d5" d="M18 2h1v1h-1zM29 2h1v1h-1zM31 6h1v1h-1zM35 10h1v1h-1zM35 11h1v1h-1zM32 12h1v1h-1zM18 13h1v1h-1zM24 13h1v1h-1zM28 13h1v1h-1zM37 13h1v1h-1zM28 15h1v1h-1zM37 15h1v1h-1zM21 16h1v1h-1zM29 16h1v1h-1zM38 16h1v1h-1zM16 18h1v1h-1zM21 18h1v1h-1zM23 18h1v1h-1zM37 18h2v1h-2zM25 19h1v1h-1zM36 21h1v1h-1zM33 22h1v1h-1zM38 22h1v1h-1zM19 24h1v1h-1zM39 24h1v1h-1zM24 27h1v1h-1zM28 27h1v1h-1zM32 28h1v1h-1zM22 31h1v1h-1zM26 34h1v1h-1zM24 35h1v1h-1zM34 35h1v1h-1zM26 36h1v1h-1zM31 36h1v1h-1zM36 36h2v1h-2zM33 37h1v1h-1zM37 37h1v1h-1zM27 38h1v1h-1zM33 38h1v1h-1zM21 39h1v1h-1zM25 39h1v1h-1zM37 39h1v1h-1zM21 40h1v1h-1zM31 40h1v1h-1zM23 41h1v1h-1zM30 41h1v1h-1zM20 42h1v1h-1zM26 42h1v1h-1zM24 43h1v1h-1zM39 43h1v1h-1zM19 45h1v1h-1zM21 45h1v1h-1zM29 45h1v1h-1zM12 46h1v1h-1zM28 46h1v1h-1zM12 47h1v1h-1zM15 47h1v1h-1zM30 47h1v1h-1zM36 47h1v1h-1zM39 47h2v1h-2zM24 48h1v1h-1zM27 49h1v1h-1zM36 50h1v1h-1zM38 50h2v1h-2zM24 51h1v1h-1zM29 51h1v1h-1zM34 52h1v1h-1zM36 52h1v1h-1zM19 53h1v1h-1zM38 53h1v1h-1zM24 54h1v1h-1zM27 54h1v1h-1zM31 54h1v1h-1zM37 54h1v1h-1zM0 55h1v1h-1zM11 55h1v1h-1zM21 55h1v1h-1zM30 55h1v1h-1zM33 55h1v1h-1zM22 56h1v1h-1zM27 56h1v1h-1zM31 56h1v1h-1zM38 56h1v1h-1zM1 57h1v1h-1zM8 57h1v1h-1zM33 58h1v1h-1zM36 59h1v1h-1zM16 60h1v1h-1zM29 60h1v1h-1zM32 60h1v1h-1zM4 61h1v1h-1zM15 61h1v1h-1zM26 61h1v1h-1zM33 61h1v1h-1zM39 61h2v1h-2zM6 62h1v1h-1zM5 63h1v1h-1zM20 63h1v1h-1zM37 63h2v1h-2zM0 64h1v1h-1zM10 64h1v1h-1zM17 64h1v1h-1zM23 64h1v1h-1zM27 64h1v1h-1zM4 65h1v1h-1zM28 65h1v1h-1zM38 65h1v1h-1zM3 67h1v1h-1zM7 67h1v1h-1zM31 67h1v1h-1zM32 68h1v1h-1zM8 69h1v1h-1zM22 69h1v1h-1zM26 69h1v1h-1zM29 69h1v1h-1zM36 69h1v1h-1zM3 70h1v1h-1zM14 70h1v1h-1zM32 70h1v1h-1zM2 71h1v1h-1zM31 71h1v1h-1zM5 72h1v1h-1zM8 72h1v1h-1zM14 72h1v1h-1zM23 72h1v1h-1zM33 72h1v1h-1zM40 72h1v1h-1zM14 73h1v1h-1zM1 75h1v1h-1zM12 75h1v1h-1zM17 75h1v1h-1zM20 75h1v1h-1zM27 75h1v1h-1zM21 76h1v1h-1zM25 76h1v1h-1zM31 76h1v1h-1zM1 77h1v1h-1zM17 77h1v1h-1zM36 77h1v1h-1zM4 78h1v1h-1zM6 78h1v1h-1zM10 78h1v1h-1z"/>
<path fill="#463cde" d="M33 5h1v1h-1zM37 8h1v1h-1zM32 9h1v1h-1zM26 10h1v1h-1zM33 11h1v1h-1zM22 12h1v1h-1zM26 12h1v1h-1zM29 12h1v1h-1zM37 12h1v1h-1zM39 12h1v1h-1zM23 13h1v1h-1zM31 13h1v1h-1zM19 14h1v1h-1zM21 14h1v1h-1zM39 14h1v1h-1zM34 15h1v1h-1zM19 16h1v1h-1zM25 18h1v1h-1zM29 19h1v1h-1zM40 20h1v1h-1zM29 21h1v1h-1zM32 22h1v1h-1zM21 24h1v1h-1zM26 24h2v1h-2zM24 26h1v1h-1zM29 26h1v1h-1zM31 27h1v1h-1zM26 28h1v1h-1zM28 28h1v1h-1zM37 29h1v1h-1zM20 30h1v1h-1zM30 30h1v1h-1zM35 30h1v1h-1zM38 31h1v1h-1zM23 33h1v1h-1zM40 33h1v1h-1zM24 34h1v1h-1zM40 34h1v1h-1zM16 35h1v1h-1zM20 35h1v1h-1zM19 36h1v1h-1zM29 37h1v1h-1zM38 37h1v1h-1zM26 38h1v1h-1zM34 39h1v1h-1zM38 41h1v1h-1zM22 42h1v1h-1zM33 45h1v1h-1zM38 45h1v1h-1zM37 51h1v1h-1zM32 52h1v1h-1zM12 53h1v1h-1zM37 53h1v1h-1zM40 53h1v1h-1zM10 54h1v1h-1zM20 54h1v1h-1zM36 54h1v1h-1zM24 55h1v1h-1zM40 55h1v1h-1zM10 56h1v1h-1zM3 57h1v1h-1zM18 57h1v1h-1zM29 57h2v1h-2zM17 58h1v1h-1zM22 58h1v1h-1zM36 58h1v1h-1zM38 58h1v1h-1zM40 58h1v1h-1zM5 59h1v1h-1zM25 59h1v1h-1zM32 59h1v1h-1zM21 60h1v1h-1zM38 60h1v1h-1zM13 61h1v1h-1zM29 61h1v1h-1zM33 62h1v1h-1zM21 63h1v1h-1zM20 64h2v1h-2zM15 65h1v1h-1zM25 65h1v1h-1zM33 67h1v1h-1zM4 69h1v1h-1zM7 69h1v1h-1zM31 69h1v1h-1zM37 69h1v1h-1zM9 70h1v1h-1zM12 70h1v1h-1zM15 70h1v1h-1zM18 70h1v1h-1zM29 70h1v1h-1zM40 70h1v1h-1zM10 72h1v1h-1zM21 72h1v1h-1zM24 72h1v1h-1zM16 73h1v1h-1zM36 73h1v1h-1zM35 74h1v1h-1zM0 75h1v1h-1zM14 75h1v1h-1zM34 75h2v1h-2zM2 76h1v1h-1zM26 76h1v1h-1zM5 77h1v1h-1zM15 77h1v1h-1zM23 77h1v1h-1zM27 77h1v1h-1zM34 77h1v1h-1zM0 79h1v1h-1z"/>
<path fill="#4741e5" d="M35 1h1v1h-1zM25 5h1v1h-1zM28 5h1v1h-1zM36 5h1v1h-1zM20 6h1v1h-1zM39 6h1v1h-1zM36 11h1v1h-1zM22 13h1v1h-1zM30 13h1v1h-1zM40 13h1v1h-1zM23 14h1v1h-1zM25 14h1v1h-1zM35 14h1v1h-1zM38 15h1v1h-1zM18 16h1v1h-1zM27 16h1v1h-1zM33 16h1v1h-1zM24 18h1v1h-1zM34 18h1v1h-1zM20 19h1v1h-1zM26 19h1v1h-1zM34 20h1v1h-1zM39 20h1v1h-1zM38 21h1v1h-1zM24 22h1v1h-1zM18 24h1v1h-1zM29 25h1v1h-1zM34 27h1v1h-1zM20 28h1v1h-1zM24 28h1v1h-1zM28 30h1v1h-1zM33 30h1v1h-1zM35 31h1v1h-1zM20 32h1v1h-1zM32 32h1v1h-1zM35 32h1v1h-1zM39 33h1v1h-1zM23 34h1v1h-1zM25 34h1v1h-1zM28 35h1v1h-1zM28 36h1v1h-1zM30 36h1v1h-1zM26 37h1v1h-1zM31 37h2v1h-2zM28 38h1v1h-1zM24 41h1v1h-1zM27 41h1v1h-1zM31 41h1v1h-1zM24 42h1v1h-1zM40 42h1v1h-1zM25 43h1v1h-1zM35 43h1v1h-1zM30 44h1v1h-1zM37 44h1v1h-1zM24 45h1v1h-1zM39 45h1v1h-1zM37 49h1v1h-1zM40 49h1v1h-1zM22 50h1v1h-1zM26 51h1v1h-1zM14 53h1v1h-1zM6 54h1v1h-1zM29 54h1v1h-1zM32 54h1v1h-1zM6 55h1v1h-1zM35 55h1v1h-1zM37 56h1v1h-1zM36 57h1v1h-1zM40 57h1v1h-1zM27 58h1v1h-1zM37 58h1v1h-1zM39 58h1v1h-1zM15 59h1v1h-1zM27 59h1v1h-1zM23 60h1v1h-1zM12 61h1v1h-1zM28 61h1v1h-1zM32 61h1v1h-1zM15 63h1v1h-1zM23 63h2v1h-2zM33 63h1v1h-1zM36 63h1v1h-1zM24 64h1v1h-1zM26 64h1v1h-1zM28 64h1v1h-1zM37 64h1v1h-1zM40 64h1v1h-1zM37 65h1v1h-1zM38 66h1v1h-1zM0 67h1v1h-1zM6 67h1v1h-1zM21 67h1v1h-1zM27 67h1v1h-1zM31 68h1v1h-1zM2 69h1v1h-1zM14 69h1v1h-1zM18 69h1v1h-1zM23 69h1v1h-1zM39 69h1v1h-1zM0 70h1v1h-1zM13 70h1v1h-1zM35 70h1v1h-1zM7 71h1v1h-1zM34 71h2v1h-2zM38 71h1v1h-1zM18 72h1v1h-1zM28 72h1v1h-1zM6 73h1v1h-1zM19 73h1v1h-1zM21 73h1v1h-1zM30 74h1v1h-1zM6 75h1v1h-1zM9 75h1v1h-1zM23 75h1v1h-1zM20 76h1v1h-1zM7 77h1v1h-1zM10 77h2v1h-2zM37 77h1v1h-1z"/>
<path fill="#4747eb" d="M25 0h1v1h-1zM28 0h1v1h-1zM30 1h1v1h-1zM26 2h1v1h-1zM36 3h1v1h-1zM34 5h1v1h-1zM38 5h1v1h-1zM22 6h1v1h-1zM38 6h1v1h-1zM23 7h1v1h-1zM24 9h1v1h-1zM21 10h1v1h-1zM39 10h1v1h-1zM26 11h1v1h-1zM28 11h1v1h-1zM37 11h1v1h-1zM24 12h1v1h-1zM28 12h1v1h-1zM30 12h1v1h-1zM34 12h1v1h-1zM38 13h1v1h-1zM28 14h1v1h-1zM26 15h1v1h-1zM22 16h1v1h-1zM24 16h1v1h-1zM26 18h1v1h-1zM29 18h1v1h-1zM39 18h1v1h-1zM31 19h1v1h-1zM38 19h1v1h-1zM18 20h1v1h-1zM24 20h1v1h-1zM31 20h1v1h-1zM34 21h1v1h-1zM21 22h1v1h-1zM39 22h1v1h-1zM28 23h1v1h-1zM22 24h1v1h-1zM40 25h1v1h-1zM30 26h1v1h-1zM33 26h1v1h-1zM35 26h1v1h-1zM40 26h1v1h-1zM39 27h1v1h-1zM31 28h1v1h-1zM21 30h1v1h-1zM32 30h1v1h-1zM15 31h1v1h-1zM40 32h1v1h-1zM22 33h1v1h-1zM32 33h1v1h-1zM34 33h1v1h-1zM39 34h1v1h-1zM17 35h1v1h-1zM23 35h1v1h-1zM26 35h1v1h-1zM31 35h2v1h-2zM23 36h2v1h-2zM39 36h1v1h-1zM17 37h1v1h-1zM20 37h1v1h-1zM36 37h1v1h-1zM32 38h1v1h-1zM36 38h1v1h-1zM18 42h1v1h-1zM21 42h1v1h-1zM30 42h1v1h-1zM17 44h1v1h-1zM38 44h1v1h-1zM40 46h1v1h-1zM20 47h1v1h-1zM22 47h1v1h-1zM26 47h1v1h-1zM28 47h1v1h-1zM30 48h1v1h-1zM38 48h1v1h-1zM22 49h1v1h-1zM26 50h1v1h-1zM34 50h1v1h-1zM28 51h1v1h-1zM35 51h1v1h-1zM22 52h1v1h-1zM35 52h1v1h-1zM29 53h1v1h-1zM11 54h1v1h-1zM26 54h1v1h-1zM1 55h1v1h-1zM10 55h1v1h-1zM22 55h1v1h-1zM29 55h1v1h-1zM31 55h1v1h-1zM0 57h1v1h-1zM20 57h1v1h-1zM24 57h1v1h-1zM31 57h1v1h-1zM23 58h1v1h-1zM30 58h1v1h-1zM24 59h1v1h-1zM26 59h1v1h-1zM2 60h1v1h-1zM4 60h1v1h-1zM20 60h1v1h-1zM26 60h2v1h-2zM8 61h1v1h-1zM24 61h1v1h-1zM35 61h1v1h-1zM14 62h1v1h-1zM30 62h1v1h-1zM35 62h1v1h-1zM30 63h1v1h-1zM15 64h1v1h-1zM24 65h1v1h-1zM29 65h1v1h-1zM32 65h2v1h-2zM2 67h1v1h-1zM18 67h1v1h-1zM32 67h1v1h-1zM28 68h1v1h-1zM2 70h1v1h-1zM19 70h1v1h-1zM23 70h1v1h-1zM31 70h1v1h-1zM20 71h1v1h-1zM22 71h2v1h-2zM28 71h1v1h-1zM30 71h1v1h-1zM33 71h1v1h-1zM37 71h1v1h-1zM16 72h1v1h-1zM15 73h1v1h-1zM20 73h1v1h-1zM21 74h1v1h-1zM24 74h2v1h-2zM3 75h2v1h-2zM21 75h1v1h-1zM26 75h1v1h-1zM4 76h1v1h-1zM4 77h1v1h-1zM31 77h1v1h-1z"/>
<path fill="#484df0" d="M39 0h1v1h-1zM24 2h1v1h-1zM39 2h1v1h-1zM26 4h1v1h-1zM35 5h1v1h-1zM24 6h1v1h-1zM32 6h1v1h-1zM34 6h2v1h-2zM37 6h1v1h-1zM40 6h1v1h-1zM39 7h1v1h-1zM27 8h2v1h-2zM23 9h1v1h-1zM29 9h1v1h-1zM20 10h1v1h-1zM24 10h1v1h-1zM21 11h1v1h-1zM23 11h1v1h-1zM34 11h1v1h-1zM39 11h1v1h-1zM33 12h1v1h-1zM17 13h1v1h-1zM19 13h1v1h-1zM27 13h1v1h-1zM33 13h1v1h-1zM9 14h1v1h-1zM18 14h1v1h-1zM30 14h1v1h-1zM33 14h1v1h-1zM19 15h1v1h-1zM24 15h1v1h-1zM27 15h1v1h-1zM29 15h1v1h-1zM39 15h1v1h-1zM25 16h1v1h-1zM30 16h1v1h-1zM32 16h1v1h-1zM35 16h2v1h-2zM39 16h1v1h-1zM15 18h1v1h-1zM20 18h1v1h-1zM33 18h1v1h-1zM35 18h2v1h-2zM40 18h1v1h-1zM21 19h2v1h-2zM27 19h1v1h-1zM33 19h1v1h-1zM36 19h2v1h-2zM17 20h1v1h-1zM23 20h1v1h-1zM37 20h1v1h-1zM22 21h3v1h-3zM30 21h1v1h-1zM37 21h1v1h-1zM20 22h1v1h-1zM26 22h1v1h-1zM30 23h1v1h-1zM36 23h1v1h-1zM23 24h2v1h-2zM36 24h1v1h-1zM38 24h1v1h-1zM40 24h1v1h-1zM21 25h1v1h-1zM24 25h1v1h-1zM35 25h1v1h-1zM21 27h1v1h-1zM23 27h1v1h-1zM32 27h1v1h-1zM19 28h1v1h-1zM21 28h1v1h-1zM30 28h1v1h-1zM36 28h1v1h-1zM24 30h1v1h-1zM5 31h1v1h-1zM12 31h1v1h-1zM34 31h1v1h-1zM39 31h1v1h-1zM18 32h1v1h-1zM21 32h1v1h-1zM24 32h2v1h-2zM29 32h3v1h-3zM36 32h1v1h-1zM17 33h1v1h-1zM19 33h1v1h-1zM24 33h1v1h-1zM27 33h2v1h-2zM31 33h1v1h-1zM35 33h1v1h-1zM38 33h1v1h-1zM22 34h1v1h-1zM28 34h1v1h-1zM32 34h1v1h-1zM37 34h1v1h-1zM25 35h1v1h-1zM27 35h1v1h-1zM37 35h1v1h-1zM20 36h3v1h-3zM35 36h1v1h-1zM38 36h1v1h-1zM40 36h1v1h-1zM19 37h1v1h-1zM22 37h1v1h-1zM16 38h2v1h-2zM19 38h1v1h-1zM21 38h1v1h-1zM23 38h1v1h-1zM34 38h1v1h-1zM19 39h1v1h-1zM23 39h1v1h-1zM30 39h1v1h-1zM36 39h1v1h-1zM40 39h1v1h-1zM19 40h1v1h-1zM32 40h1v1h-1zM20 41h1v1h-1zM25 41h1v1h-1zM28 41h1v1h-1zM36 41h1v1h-1zM39 41h1v1h-1zM19 42h1v1h-1zM29 42h1v1h-1zM31 42h1v1h-1zM34 42h1v1h-1zM5 43h1v1h-1zM27 43h1v1h-1zM32 43h2v1h-2zM37 43h1v1h-1zM40 43h1v1h-1zM16 44h1v1h-1zM29 44h1v1h-1zM31 44h1v1h-1zM39 44h1v1h-1zM25 45h1v1h-1zM28 45h1v1h-1zM30 45h1v1h-1zM35 45h1v1h-1zM40 45h1v1h-1zM8 46h1v1h-1zM21 46h1v1h-1zM23 46h1v1h-1zM37 46h1v1h-1zM18 47h1v1h-1zM27 47h1v1h-1zM29 47h1v1h-1zM37 47h2v1h-2zM19 48h1v1h-1zM25 48h1v1h-1zM36 48h1v1h-1zM12 49h1v1h-1zM19 49h1v1h-1zM30 49h1v1h-1zM32 49h1v1h-1zM35 49h1v1h-1zM38 49h1v1h-1zM28 50h1v1h-1zM30 50h1v1h-1zM1 51h1v1h-1zM19 51h1v1h-1zM23 51h1v1h-1zM27 51h1v1h-1zM38 51h1v1h-1zM18 52h1v1h-1zM21 52h1v1h-1zM24 52h1v1h-1zM27 52h1v1h-1zM30 52h2v1h-2zM38 52h2v1h-2zM8 53h1v1h-1zM22 53h1v1h-1zM27 53h1v1h-1zM30 53h1v1h-1zM34 53h3v1h-3zM0 54h2v1h-2zM7 54h2v1h-2zM18 54h1v1h-1zM22 54h1v1h-1zM38 54h2v1h-2zM5 55h1v1h-1zM14 55h1v1h-1zM26 55h2v1h-2zM32 55h1v1h-1zM36 55h1v1h-1zM14 56h1v1h-1zM18 56h2v1h-2zM21 56h1v1h-1zM33 56h1v1h-1zM35 56h1v1h-1zM10 57h1v1h-1zM23 57h1v1h-1zM34 57h2v1h-2zM18 58h1v1h-1zM20 58h1v1h-1zM24 58h1v1h-1zM26 58h1v1h-1zM31 58h1v1h-1zM34 58h1v1h-1zM9 59h1v1h-1zM17 59h1v1h-1zM30 59h1v1h-1zM5 60h1v1h-1zM7 60h1v1h-1zM30 60h1v1h-1zM33 60h2v1h-2zM36 60h1v1h-1zM2 61h1v1h-1zM6 61h1v1h-1zM9 61h1v1h-1zM21 61h1v1h-1zM27 61h1v1h-1zM36 61h1v1h-1zM0 62h2v1h-2zM3 62h1v1h-1zM10 62h1v1h-1zM12 62h1v1h-1zM26 62h1v1h-1zM40 62h1v1h-1zM0 63h1v1h-1zM3 63h1v1h-1zM6 63h2v1h-2zM12 63h1v1h-1zM19 63h1v1h-1zM8 64h1v1h-1zM16 64h1v1h-1zM22 64h1v1h-1zM29 64h1v1h-1zM31 64h1v1h-1zM5 65h2v1h-2zM9 65h1v1h-1zM12 65h2v1h-2zM18 65h1v1h-1zM26 65h1v1h-1zM30 65h1v1h-1zM35 65h1v1h-1zM39 65h1v1h-1zM21 66h1v1h-1zM5 67h1v1h-1zM24 67h1v1h-1zM29 67h2v1h-2zM38 67h3v1h-3zM0 69h1v1h-1zM3 69h1v1h-1zM5 69h1v1h-1zM16 69h2v1h-2zM24 69h1v1h-1zM32 69h1v1h-1zM34 69h1v1h-1zM40 69h1v1h-1zM11 70h1v1h-1zM17 70h1v1h-1zM22 70h1v1h-1zM25 70h1v1h-1zM30 70h1v1h-1zM36 70h4v1h-4zM0 71h1v1h-1zM8 71h2v1h-2zM11 71h1v1h-1zM13 71h2v1h-2zM19 71h1v1h-1zM21 71h1v1h-1zM24 71h1v1h-1zM29 71h1v1h-1zM0 72h1v1h-1zM3 72h2v1h-2zM9 72h1v1h-1zM20 72h1v1h-1zM27 72h1v1h-1zM29 72h1v1h-1zM0 73h1v1h-1zM2 73h2v1h-2zM5 73h1v1h-1zM7 73h2v1h-2zM11 73h1v1h-1zM13 73h1v1h-1zM25 73h1v1h-1zM27 73h1v1h-1zM33 73h2v1h-2zM38 73h1v1h-1zM8 74h1v1h-1zM22 74h1v1h-1zM27 74h1v1h-1zM8 75h1v1h-1zM16 75h1v1h-1zM19 75h1v1h-1zM28 75h1v1h-1zM40 75h1v1h-1zM40 76h1v1h-1zM14 77h1v1h-1zM18 77h2v1h-2zM32 77h2v1h-2zM3 78h1v1h-1zM7 78h1v1h-1z"/>
<path fill="#4852f4" d="M21 5h1v1h-1zM17 6h1v1h-1zM21 6h1v1h-1zM36 6h1v1h-1zM36 8h1v1h-1zM10 9h1v1h-1zM26 9h1v1h-1zM36 10h1v1h-1zM24 11h2v1h-2zM26 13h1v1h-1zM32 13h1v1h-1zM36 13h1v1h-1zM14 14h1v1h-1zM23 15h1v1h-1zM30 15h1v1h-1zM15 16h1v1h-1zM23 16h1v1h-1zM18 17h1v1h-1zM30 17h1v1h-1zM14 18h1v1h-1zM18 18h1v1h-1zM24 19h1v1h-1zM29 20h1v1h-1zM35 20h1v1h-1zM26 21h2v1h-2zM32 21h1v1h-1zM31 22h1v1h-1zM32 24h2v1h-2zM18 26h1v1h-1zM20 27h1v1h-1zM26 27h1v1h-1zM36 27h1v1h-1zM40 27h1v1h-1zM38 28h1v1h-1zM34 29h1v1h-1zM17 30h1v1h-1zM27 30h1v1h-1zM18 31h1v1h-1zM30 31h1v1h-1zM22 32h1v1h-1zM14 33h1v1h-1zM33 33h1v1h-1zM20 34h1v1h-1zM10 35h1v1h-1zM17 36h1v1h-1zM25 36h1v1h-1zM15 37h1v1h-1zM40 37h1v1h-1zM10 38h1v1h-1zM25 38h1v1h-1zM29 38h1v1h-1zM28 39h1v1h-1zM27 40h2v1h-2zM39 40h1v1h-1zM10 42h1v1h-1zM23 42h1v1h-1zM38 42h1v1h-1zM20 43h2v1h-2zM23 43h1v1h-1zM11 44h1v1h-1zM24 44h1v1h-1zM28 44h1v1h-1zM34 44h1v1h-1zM36 44h1v1h-1zM12 45h1v1h-1zM14 45h1v1h-1zM37 45h1v1h-1zM0 46h1v1h-1zM7 46h1v1h-1zM22 46h1v1h-1zM27 46h1v1h-1zM13 47h2v1h-2zM34 47h1v1h-1zM12 48h1v1h-1zM29 48h1v1h-1zM32 48h1v1h-1zM16 49h1v1h-1zM18 49h1v1h-1zM33 49h1v1h-1zM0 50h1v1h-1zM9 51h1v1h-1zM15 52h1v1h-1zM37 52h1v1h-1zM1 53h1v1h-1zM24 53h1v1h-1zM5 54h1v1h-1zM12 54h1v1h-1zM19 54h1v1h-1zM30 54h1v1h-1zM34 54h1v1h-1zM7 55h1v1h-1zM15 55h1v1h-1zM12 56h1v1h-1zM15 56h1v1h-1zM25 56h1v1h-1zM29 56h1v1h-1zM11 58h2v1h-2zM16 58h1v1h-1zM19 58h1v1h-1zM14 59h1v1h-1zM3 60h1v1h-1zM14 60h1v1h-1zM19 60h1v1h-1zM17 61h1v1h-1zM31 61h1v1h-1zM34 61h1v1h-1zM5 62h1v1h-1zM8 62h2v1h-2zM15 62h1v1h-1zM22 62h1v1h-1zM24 62h2v1h-2zM34 62h1v1h-1zM11 63h1v1h-1zM28 63h1v1h-1zM2 64h1v1h-1zM6 64h1v1h-1zM19 64h1v1h-1zM36 64h1v1h-1zM0 65h3v1h-3zM8 65h1v1h-1zM20 65h1v1h-1zM22 66h1v1h-1zM10 67h1v1h-1zM15 67h1v1h-1zM17 67h1v1h-1zM19 67h1v1h-1zM7 68h2v1h-2zM16 68h1v1h-1zM18 68h1v1h-1zM21 68h1v1h-1zM13 69h1v1h-1zM25 69h1v1h-1zM38 69h1v1h-1zM7 70h1v1h-1zM16 70h1v1h-1zM33 70h1v1h-1zM3 71h1v1h-1zM5 71h1v1h-1zM18 71h1v1h-1zM15 72h1v1h-1zM26 72h1v1h-1zM32 72h1v1h-1zM12 73h1v1h-1zM18 73h1v1h-1zM28 73h2v1h-2zM3 74h1v1h-1zM17 74h2v1h-2zM23 74h1v1h-1zM34 74h1v1h-1zM39 74h1v1h-1zM7 75h1v1h-1zM30 75h1v1h-1zM33 75h1v1h-1zM38 75h1v1h-1zM7 76h1v1h-1zM17 76h1v1h-1zM23 76h1v1h-1zM8 77h1v1h-1zM40 77h1v1h-1zM8 78h1v1h-1zM12 78h1v1h-1zM6 79h1v1h-1z"/>
<path fill="#4758f8" d="M23 0h1v1h-1zM29 0h1v1h-1zM31 2h1v1h-1zM35 4h1v1h-1zM31 5h1v1h-1zM33 6h1v1h-1zM22 8h1v1h-1zM26 8h1v1h-1zM30 8h1v1h-1zM32 8h1v1h-1zM35 8h1v1h-1zM30 9h1v1h-1zM37 9h1v1h-1zM40 9h1v1h-1zM34 10h1v1h-1zM29 11h3v1h-3zM38 11h1v1h-1zM10 14h1v1h-1zM15 14h1v1h-1zM22 14h1v1h-1zM40 14h1v1h-1zM21 15h1v1h-1zM25 15h1v1h-1zM33 15h1v1h-1zM17 18h1v1h-1zM22 18h1v1h-1zM30 19h1v1h-1zM32 19h1v1h-1zM27 20h1v1h-1zM19 21h2v1h-2zM24 23h1v1h-1zM33 23h1v1h-1zM37 24h1v1h-1zM20 26h1v1h-1zM23 26h1v1h-1zM28 26h1v1h-1zM36 26h1v1h-1zM18 27h1v1h-1zM33 27h1v1h-1zM38 27h1v1h-1zM18 28h1v1h-1zM33 28h2v1h-2zM40 28h1v1h-1zM16 30h1v1h-1zM18 30h1v1h-1zM23 30h1v1h-1zM31 30h1v1h-1zM38 30h1v1h-1zM23 31h1v1h-1zM40 31h1v1h-1zM23 32h1v1h-1zM28 32h1v1h-1zM37 32h1v1h-1zM21 33h1v1h-1zM18 34h1v1h-1zM21 34h1v1h-1zM33 34h1v1h-1zM19 35h1v1h-1zM29 35h1v1h-1zM36 35h1v1h-1zM12 36h1v1h-1zM15 36h1v1h-1zM32 36h1v1h-1zM16 37h1v1h-1zM20 38h1v1h-1zM30 38h1v1h-1zM39 38h1v1h-1zM35 39h1v1h-1zM33 41h1v1h-1zM17 42h1v1h-1zM25 42h1v1h-1zM33 42h1v1h-1zM39 42h1v1h-1zM18 43h2v1h-2zM22 43h1v1h-1zM30 43h1v1h-1zM38 43h1v1h-1zM22 44h1v1h-1zM27 44h1v1h-1zM16 45h2v1h-2zM32 45h1v1h-1zM34 45h1v1h-1zM24 46h1v1h-1zM33 46h1v1h-1zM0 47h1v1h-1zM24 47h1v1h-1zM13 48h1v1h-1zM20 48h1v1h-1zM31 48h1v1h-1zM26 49h1v1h-1zM36 49h1v1h-1zM39 49h1v1h-1zM33 50h1v1h-1zM7 51h1v1h-1zM21 51h2v1h-2zM36 51h1v1h-1zM5 52h1v1h-1zM13 52h1v1h-1zM16 52h1v1h-1zM20 52h1v1h-1zM25 52h1v1h-1zM2 53h2v1h-2zM9 53h1v1h-1zM20 53h1v1h-1zM32 53h1v1h-1zM17 54h1v1h-1zM21 54h1v1h-1zM33 54h1v1h-1zM40 54h1v1h-1zM4 55h1v1h-1zM13 55h1v1h-1zM16 55h1v1h-1zM19 55h1v1h-1zM0 56h1v1h-1zM28 56h1v1h-1zM30 56h1v1h-1zM19 57h1v1h-1zM6 58h5v1h-5zM13 58h2v1h-2zM29 58h1v1h-1zM10 59h2v1h-2zM1 60h1v1h-1zM17 60h1v1h-1zM35 60h1v1h-1zM39 60h1v1h-1zM5 61h1v1h-1zM16 61h1v1h-1zM7 62h1v1h-1zM19 62h1v1h-1zM23 62h1v1h-1zM1 63h2v1h-2zM8 63h1v1h-1zM29 63h1v1h-1zM1 64h1v1h-1zM7 64h1v1h-1zM11 64h1v1h-1zM16 65h1v1h-1zM40 65h1v1h-1zM4 67h1v1h-1zM34 67h1v1h-1zM1 68h1v1h-1zM4 68h1v1h-1zM34 68h2v1h-2zM5 70h2v1h-2zM8 70h1v1h-1zM10 70h1v1h-1zM4 71h1v1h-1zM27 71h1v1h-1zM40 71h1v1h-1zM6 72h1v1h-1zM1 73h1v1h-1zM17 73h1v1h-1zM37 73h1v1h-1zM19 74h1v1h-1zM28 74h1v1h-1zM33 74h1v1h-1zM39 75h1v1h-1zM0 76h1v1h-1zM18 76h1v1h-1zM24 76h1v1h-1zM34 76h2v1h-2zM39 76h1v1h-1zM3 77h1v1h-1zM21 77h1v1h-1zM2 78h1v1h-1z"/>
<path fill="#465efb" d="M26 0h1v1h-1zM30 0h1v1h-1zM38 0h1v1h-1zM19 2h1v1h-1zM23 2h1v1h-1zM27 2h1v1h-1zM19 5h1v1h-1zM26 5h1v1h-1zM29 5h1v1h-1zM32 5h1v1h-1zM28 6h1v1h-1zM21 8h1v1h-1zM34 8h1v1h-1zM25 10h1v1h-1zM40 11h1v1h-1zM21 12h1v1h-1zM15 13h1v1h-1zM21 13h1v1h-1zM34 13h1v1h-1zM39 13h1v1h-1zM20 14h1v1h-1zM26 14h1v1h-1zM29 14h1v1h-1zM31 15h1v1h-1zM40 16h1v1h-1zM12 18h1v1h-1zM27 18h1v1h-1zM30 18h1v1h-1zM18 19h2v1h-2zM34 19h1v1h-1zM19 20h1v1h-1zM22 20h1v1h-1zM28 20h1v1h-1zM28 21h1v1h-1zM19 22h1v1h-1zM22 22h1v1h-1zM29 22h1v1h-1zM37 22h1v1h-1zM20 24h1v1h-1zM28 24h1v1h-1zM34 24h1v1h-1zM19 25h1v1h-1zM28 25h1v1h-1zM37 25h1v1h-1zM32 26h1v1h-1zM30 27h1v1h-1zM37 27h1v1h-1zM22 28h1v1h-1zM34 30h1v1h-1zM39 30h1v1h-1zM29 31h1v1h-1zM16 32h1v1h-1zM33 32h2v1h-2zM18 33h1v1h-1zM30 34h1v1h-1zM35 34h1v1h-1zM12 35h1v1h-1zM40 35h1v1h-1zM29 36h1v1h-1zM33 36h1v1h-1zM10 37h2v1h-2zM21 37h1v1h-1zM25 37h1v1h-1zM31 38h1v1h-1zM37 38h1v1h-1zM17 39h1v1h-1zM22 40h1v1h-1zM25 40h1v1h-1zM33 40h1v1h-1zM40 40h1v1h-1zM29 41h1v1h-1zM28 42h1v1h-1zM7 43h1v1h-1zM9 43h1v1h-1zM11 43h1v1h-1zM17 43h1v1h-1zM31 43h1v1h-1zM13 45h1v1h-1zM22 45h1v1h-1zM31 45h1v1h-1zM35 46h1v1h-1zM17 47h1v1h-1zM25 47h1v1h-1zM10 48h1v1h-1zM21 48h1v1h-1zM23 48h1v1h-1zM40 48h1v1h-1zM23 49h1v1h-1zM1 50h1v1h-1zM19 50h1v1h-1zM15 51h1v1h-1zM4 53h1v1h-1zM15 53h1v1h-1zM31 53h1v1h-1zM33 53h1v1h-1zM39 53h1v1h-1zM4 54h1v1h-1zM13 54h1v1h-1zM16 54h1v1h-1zM17 55h1v1h-1zM37 55h1v1h-1zM11 56h1v1h-1zM34 56h1v1h-1zM5 57h1v1h-1zM7 57h1v1h-1zM11 57h1v1h-1zM15 57h1v1h-1zM26 57h1v1h-1zM32 57h2v1h-2zM39 57h1v1h-1zM1 58h2v1h-2zM4 58h1v1h-1zM35 58h1v1h-1zM0 59h1v1h-1zM4 59h1v1h-1zM6 59h1v1h-1zM22 59h1v1h-1zM35 59h1v1h-1zM6 60h1v1h-1zM8 60h2v1h-2zM12 60h2v1h-2zM25 60h1v1h-1zM14 61h1v1h-1zM18 61h1v1h-1zM20 62h1v1h-1zM28 62h1v1h-1zM4 63h1v1h-1zM10 63h1v1h-1zM14 63h1v1h-1zM31 63h1v1h-1zM39 63h1v1h-1zM9 64h1v1h-1zM33 64h1v1h-1zM17 65h1v1h-1zM19 65h1v1h-1zM23 65h1v1h-1zM27 65h1v1h-1zM36 65h1v1h-1zM39 66h1v1h-1zM1 67h1v1h-1zM12 67h1v1h-1zM16 67h1v1h-1zM23 67h1v1h-1zM28 67h1v1h-1zM35 67h3v1h-3zM9 68h1v1h-1zM26 68h1v1h-1zM1 69h1v1h-1zM1 71h1v1h-1zM10 71h1v1h-1zM26 71h1v1h-1zM19 72h1v1h-1zM23 73h1v1h-1zM32 74h1v1h-1zM11 75h1v1h-1zM25 75h1v1h-1zM1 76h1v1h-1zM3 76h1v1h-1zM19 76h1v1h-1zM27 76h2v1h-2zM28 77h1v1h-1zM5 78h1v1h-1zM11 78h1v1h-1zM4 79h1v1h-1z"/>
<path fill="#4563fd" d="M35 0h1v1h-1zM37 1h1v1h-1zM20 2h1v1h-1zM40 2h1v1h-1zM23 5h1v1h-1zM39 5h1v1h-1zM24 8h1v1h-1zM28 9h1v1h-1zM36 9h1v1h-1zM23 10h1v1h-1zM30 10h1v1h-1zM33 10h1v1h-1zM23 12h1v1h-1zM29 13h1v1h-1zM35 13h1v1h-1zM24 14h1v1h-1zM31 14h1v1h-1zM36 14h1v1h-1zM38 14h1v1h-1zM17 15h2v1h-2zM17 16h1v1h-1zM20 16h1v1h-1zM28 16h1v1h-1zM31 16h1v1h-1zM37 16h1v1h-1zM13 18h1v1h-1zM32 18h1v1h-1zM15 19h1v1h-1zM25 20h1v1h-1zM33 20h1v1h-1zM21 21h1v1h-1zM27 22h2v1h-2zM30 22h1v1h-1zM40 22h1v1h-1zM30 24h1v1h-1zM22 25h1v1h-1zM31 25h1v1h-1zM36 25h1v1h-1zM19 26h1v1h-1zM21 26h1v1h-1zM34 26h1v1h-1zM39 26h1v1h-1zM19 27h1v1h-1zM25 28h1v1h-1zM29 28h1v1h-1zM19 30h1v1h-1zM26 30h1v1h-1zM19 31h1v1h-1zM20 33h1v1h-1zM30 33h1v1h-1zM27 34h1v1h-1zM29 34h1v1h-1zM31 34h1v1h-1zM13 37h1v1h-1zM23 37h1v1h-1zM30 37h1v1h-1zM35 37h1v1h-1zM24 38h1v1h-1zM35 38h1v1h-1zM40 38h1v1h-1zM18 39h1v1h-1zM20 39h1v1h-1zM22 39h1v1h-1zM31 39h1v1h-1zM33 39h1v1h-1zM26 40h1v1h-1zM29 40h1v1h-1zM35 40h1v1h-1zM28 43h2v1h-2zM9 44h2v1h-2zM33 44h1v1h-1zM15 45h1v1h-1zM27 45h1v1h-1zM19 46h2v1h-2zM31 46h1v1h-1zM9 47h1v1h-1zM16 47h1v1h-1zM19 47h1v1h-1zM27 48h1v1h-1zM33 48h1v1h-1zM4 49h1v1h-1zM20 49h1v1h-1zM24 49h1v1h-1zM28 49h2v1h-2zM13 50h1v1h-1zM18 50h1v1h-1zM20 50h1v1h-1zM31 50h1v1h-1zM37 50h1v1h-1zM20 51h1v1h-1zM40 51h1v1h-1zM3 52h1v1h-1zM19 52h1v1h-1zM40 52h1v1h-1zM0 53h1v1h-1zM10 53h1v1h-1zM14 54h1v1h-1zM25 54h1v1h-1zM8 55h2v1h-2zM8 56h1v1h-1zM12 57h1v1h-1zM14 57h1v1h-1zM17 57h1v1h-1zM27 57h1v1h-1zM25 58h1v1h-1zM28 58h1v1h-1zM32 58h1v1h-1zM1 59h1v1h-1zM8 59h1v1h-1zM13 59h1v1h-1zM16 59h1v1h-1zM21 59h1v1h-1zM23 59h1v1h-1zM29 59h1v1h-1zM11 60h1v1h-1zM22 60h1v1h-1zM24 60h1v1h-1zM10 61h1v1h-1zM19 61h1v1h-1zM13 62h1v1h-1zM17 62h2v1h-2zM36 62h1v1h-1zM18 63h1v1h-1zM40 63h1v1h-1zM12 64h1v1h-1zM38 64h1v1h-1zM11 65h1v1h-1zM14 65h1v1h-1zM11 67h1v1h-1zM20 68h1v1h-1zM23 68h1v1h-1zM25 68h1v1h-1zM29 68h2v1h-2zM12 69h1v1h-1zM1 70h1v1h-1zM4 70h1v1h-1zM12 71h1v1h-1zM17 71h1v1h-1zM39 71h1v1h-1zM13 72h1v1h-1zM31 72h1v1h-1zM38 72h2v1h-2zM9 73h1v1h-1zM22 73h1v1h-1zM24 73h1v1h-1zM30 73h2v1h-2zM35 73h1v1h-1zM10 74h1v1h-1zM13 74h1v1h-1zM37 74h2v1h-2zM10 75h1v1h-1zM18 75h1v1h-1zM36 75h1v1h-1zM30 76h1v1h-1zM32 76h1v1h-1zM6 77h1v1h-1zM12 77h2v1h-2zM16 77h1v1h-1zM25 77h1v1h-1zM29 77h2v1h-2zM39 77h1v1h-1zM0 78h1v1h-1z"/>
<path fill="#3875fe" d="M21 1h2v1h-2zM33 1h1v1h-1zM40 1h1v1h-1zM16 2h1v1h-1zM29 6h1v1h-1zM33 8h1v1h-1zM38 8h1v1h-1zM15 9h1v1h-1zM39 9h1v1h-1zM35 12h1v1h-1zM38 12h1v1h-1zM37 14h1v1h-1zM14 16h1v1h-1zM16 16h1v1h-1zM17 17h1v1h-1zM23 17h1v1h-1zM11 18h1v1h-1zM19 18h1v1h-1zM17 19h1v1h-1zM35 19h1v1h-1zM21 20h1v1h-1zM32 20h1v1h-1zM36 20h1v1h-1zM31 21h1v1h-1zM18 22h1v1h-1zM37 23h1v1h-1zM13 24h1v1h-1zM15 24h1v1h-1zM25 24h1v1h-1zM17 25h1v1h-1zM23 25h1v1h-1zM3 26h1v1h-1zM15 26h1v1h-1zM31 26h1v1h-1zM16 28h1v1h-1zM37 28h1v1h-1zM36 30h1v1h-1zM13 31h1v1h-1zM33 31h1v1h-1zM5 32h1v1h-1zM16 33h1v1h-1zM11 35h1v1h-1zM16 36h1v1h-1zM18 36h1v1h-1zM0 37h1v1h-1zM12 37h1v1h-1zM7 38h1v1h-1zM15 38h1v1h-1zM27 39h1v1h-1zM29 39h1v1h-1zM15 40h1v1h-1zM34 40h1v1h-1zM2 41h1v1h-1zM21 41h1v1h-1zM35 42h1v1h-1zM6 43h1v1h-1zM26 43h1v1h-1zM2 44h1v1h-1zM15 44h1v1h-1zM18 44h1v1h-1zM2 45h1v1h-1zM8 45h1v1h-1zM18 45h1v1h-1zM20 45h1v1h-1zM38 46h1v1h-1zM11 47h1v1h-1zM14 48h1v1h-1zM26 48h1v1h-1zM28 48h1v1h-1zM35 48h1v1h-1zM39 48h1v1h-1zM11 49h1v1h-1zM25 49h1v1h-1zM34 49h1v1h-1zM5 50h1v1h-1zM9 50h1v1h-1zM17 50h1v1h-1zM16 51h1v1h-1zM30 51h1v1h-1zM10 52h1v1h-1zM17 52h1v1h-1zM17 53h2v1h-2zM2 54h2v1h-2zM13 56h1v1h-1zM16 56h1v1h-1zM13 57h1v1h-1zM3 58h1v1h-1zM15 58h1v1h-1zM19 59h1v1h-1zM33 59h1v1h-1zM15 60h1v1h-1zM14 64h1v1h-1zM8 66h1v1h-1zM13 67h1v1h-1zM19 68h1v1h-1zM33 68h1v1h-1zM40 68h1v1h-1zM35 72h1v1h-1zM7 74h1v1h-1zM15 74h2v1h-2zM15 76h1v1h-1zM1 78h1v1h-1zM2 79h1v1h-1z"/>
<path fill="#327cfc" d="M19 0h1v1h-1zM24 0h1v1h-1zM27 0h1v1h-1zM31 1h1v1h-1zM36 2h1v1h-1zM30 3h1v1h-1zM8 4h1v1h-1zM22 5h1v1h-1zM27 6h1v1h-1zM19 7h1v1h-1zM16 8h1v1h-1zM27 10h1v1h-1zM32 10h1v1h-1zM18 11h1v1h-1zM15 12h1v1h-1zM18 12h1v1h-1zM16 13h1v1h-1zM20 15h1v1h-1zM32 15h1v1h-1zM1 19h1v1h-1zM14 19h1v1h-1zM14 20h1v1h-1zM20 20h1v1h-1zM38 20h1v1h-1zM33 21h1v1h-1zM16 22h1v1h-1zM36 22h1v1h-1zM35 23h1v1h-1zM14 24h1v1h-1zM26 25h1v1h-1zM32 25h2v1h-2zM38 25h1v1h-1zM16 26h1v1h-1zM13 28h1v1h-1zM40 30h1v1h-1zM6 31h1v1h-1zM21 31h1v1h-1zM26 31h1v1h-1zM32 31h1v1h-1zM37 31h1v1h-1zM8 32h1v1h-1zM6 33h1v1h-1zM0 34h1v1h-1zM2 34h1v1h-1zM27 36h1v1h-1zM1 37h1v1h-1zM28 37h1v1h-1zM1 38h1v1h-1zM38 39h1v1h-1zM20 40h1v1h-1zM16 42h1v1h-1zM0 43h1v1h-1zM12 43h1v1h-1zM3 44h2v1h-2zM3 45h2v1h-2zM10 46h1v1h-1zM14 46h1v1h-1zM8 48h2v1h-2zM17 49h1v1h-1zM31 49h1v1h-1zM6 50h2v1h-2zM11 50h1v1h-1zM2 51h1v1h-1zM14 51h1v1h-1zM18 51h1v1h-1zM25 51h1v1h-1zM6 53h1v1h-1zM13 53h1v1h-1zM16 53h1v1h-1zM28 53h1v1h-1zM9 54h1v1h-1zM2 56h1v1h-1zM4 56h1v1h-1zM7 56h1v1h-1zM23 56h1v1h-1zM2 57h1v1h-1zM37 57h1v1h-1zM2 59h1v1h-1zM12 59h1v1h-1zM31 60h1v1h-1zM16 62h1v1h-1zM1 66h1v1h-1zM30 66h1v1h-1zM9 67h1v1h-1zM14 67h1v1h-1zM11 68h1v1h-1zM22 68h1v1h-1zM16 71h1v1h-1zM0 74h1v1h-1zM12 74h1v1h-1zM26 74h1v1h-1zM29 74h1v1h-1zM40 74h1v1h-1zM9 76h1v1h-1zM13 76h1v1h-1zM16 76h1v1h-1zM22 76h1v1h-1zM29 76h1v1h-1zM13 78h1v1h-1zM3 79h1v1h-1z"/>
<path fill="#2f81fa" d="M33 0h1v1h-1zM40 0h1v1h-1zM21 2h1v1h-1zM38 2h1v1h-1zM23 3h1v1h-1zM31 3h1v1h-1zM27 4h1v1h-1zM18 5h1v1h-1zM37 5h1v1h-1zM19 6h1v1h-1zM26 7h1v1h-1zM18 8h1v1h-1zM34 9h1v1h-1zM15 10h1v1h-1zM18 10h1v1h-1zM28 10h1v1h-1zM15 15h1v1h-1zM1 16h1v1h-1zM30 20h1v1h-1zM18 21h1v1h-1zM35 21h1v1h-1zM25 22h1v1h-1zM16 24h2v1h-2zM15 25h2v1h-2zM18 25h1v1h-1zM20 25h1v1h-1zM30 25h1v1h-1zM14 27h1v1h-1zM17 28h1v1h-1zM27 28h1v1h-1zM39 29h1v1h-1zM28 31h1v1h-1zM36 31h1v1h-1zM19 32h1v1h-1zM4 33h1v1h-1zM5 34h1v1h-1zM13 34h1v1h-1zM13 35h3v1h-3zM38 35h2v1h-2zM11 36h1v1h-1zM14 37h1v1h-1zM18 37h1v1h-1zM34 37h1v1h-1zM39 39h1v1h-1zM14 40h1v1h-1zM18 40h1v1h-1zM37 40h1v1h-1zM18 41h1v1h-1zM7 42h1v1h-1zM9 42h1v1h-1zM3 43h2v1h-2zM8 44h1v1h-1zM12 44h1v1h-1zM14 44h1v1h-1zM19 44h1v1h-1zM0 45h1v1h-1zM5 45h1v1h-1zM10 45h1v1h-1zM23 45h1v1h-1zM16 46h1v1h-1zM8 47h1v1h-1zM10 47h1v1h-1zM16 48h1v1h-1zM18 48h1v1h-1zM37 48h1v1h-1zM8 50h1v1h-1zM12 50h1v1h-1zM0 51h1v1h-1zM8 51h1v1h-1zM10 51h1v1h-1zM17 51h1v1h-1zM5 53h1v1h-1zM7 53h1v1h-1zM23 55h1v1h-1zM3 56h1v1h-1zM9 56h1v1h-1zM17 56h1v1h-1zM16 57h1v1h-1zM5 58h1v1h-1zM3 59h1v1h-1zM18 59h1v1h-1zM4 62h1v1h-1zM32 62h1v1h-1zM5 64h1v1h-1zM13 64h1v1h-1zM9 66h1v1h-1zM14 66h1v1h-1zM22 67h1v1h-1zM3 68h1v1h-1zM36 68h1v1h-1zM6 71h1v1h-1zM11 72h1v1h-1zM9 74h1v1h-1zM5 76h1v1h-1zM33 76h1v1h-1zM37 76h2v1h-2zM9 78h1v1h-1zM15 78h1v1h-1zM25 78h1v1h-1zM7 79h1v1h-1z"/>
<path fill="#2e87f7" d="M31 0h1v1h-1zM35 2h1v1h-1zM37 2h1v1h-1zM29 3h1v1h-1zM23 4h1v1h-1zM24 5h1v1h-1zM18 6h1v1h-1zM23 6h1v1h-1zM26 6h1v1h-1zM15 7h1v1h-1zM27 7h1v1h-1zM40 7h1v1h-1zM17 8h1v1h-1zM20 8h1v1h-1zM35 9h1v1h-1zM10 10h1v1h-1zM40 10h1v1h-1zM19 11h1v1h-1zM22 11h1v1h-1zM27 11h1v1h-1zM20 13h1v1h-1zM16 14h1v1h-1zM27 14h1v1h-1zM40 15h1v1h-1zM33 17h1v1h-1zM26 20h1v1h-1zM7 21h1v1h-1zM25 23h1v1h-1zM2 24h1v1h-1zM27 26h1v1h-1zM17 27h1v1h-1zM35 27h1v1h-1zM14 28h1v1h-1zM17 31h1v1h-1zM15 32h1v1h-1zM27 32h1v1h-1zM10 34h1v1h-1zM12 34h1v1h-1zM15 34h2v1h-2zM34 34h1v1h-1zM18 35h1v1h-1zM35 35h1v1h-1zM6 38h1v1h-1zM18 38h1v1h-1zM22 38h1v1h-1zM3 39h1v1h-1zM16 39h1v1h-1zM32 39h1v1h-1zM36 40h1v1h-1zM19 41h1v1h-1zM8 42h1v1h-1zM10 43h1v1h-1zM16 43h1v1h-1zM7 44h1v1h-1zM20 44h1v1h-1zM32 44h1v1h-1zM26 45h1v1h-1zM1 46h1v1h-1zM13 46h1v1h-1zM18 46h1v1h-1zM26 46h1v1h-1zM36 46h1v1h-1zM15 48h1v1h-1zM3 49h1v1h-1zM6 49h1v1h-1zM9 49h1v1h-1zM23 50h1v1h-1zM13 51h1v1h-1zM32 51h1v1h-1zM2 52h1v1h-1zM11 52h2v1h-2zM14 52h1v1h-1zM11 53h1v1h-1zM15 54h1v1h-1zM2 55h1v1h-1zM12 55h1v1h-1zM24 56h1v1h-1zM0 58h1v1h-1zM0 60h1v1h-1zM18 60h1v1h-1zM1 61h1v1h-1zM11 61h1v1h-1zM2 62h1v1h-1zM3 64h2v1h-2zM39 64h1v1h-1zM3 65h1v1h-1zM34 65h1v1h-1zM10 66h1v1h-1zM12 66h1v1h-1zM25 66h2v1h-2zM26 67h1v1h-1zM13 68h1v1h-1zM24 68h1v1h-1zM27 68h1v1h-1zM39 68h1v1h-1zM32 71h1v1h-1zM1 72h2v1h-2zM4 74h1v1h-1zM6 74h1v1h-1zM20 74h1v1h-1zM36 74h1v1h-1zM8 76h1v1h-1zM11 76h1v1h-1zM14 76h1v1h-1zM24 78h1v1h-1zM5 79h1v1h-1z"/>
<path fill="#2d8cf3" d="M17 2h1v1h-1zM28 2h1v1h-1zM34 2h1v1h-1zM15 4h1v1h-1zM37 4h1v1h-1zM27 5h1v1h-1zM17 7h1v1h-1zM16 9h1v1h-1zM21 9h1v1h-1zM38 10h1v1h-1zM17 11h1v1h-1zM20 11h1v1h-1zM13 12h1v1h-1zM16 12h2v1h-2zM19 12h1v1h-1zM40 12h1v1h-1zM13 13h1v1h-1zM32 14h1v1h-1zM16 15h1v1h-1zM34 16h1v1h-1zM16 17h1v1h-1zM21 17h1v1h-1zM10 19h1v1h-1zM16 19h1v1h-1zM39 19h1v1h-1zM16 21h2v1h-2zM21 23h1v1h-1zM27 25h1v1h-1zM22 26h1v1h-1zM24 29h1v1h-1zM33 29h1v1h-1zM15 30h1v1h-1zM29 30h1v1h-1zM39 32h1v1h-1zM15 33h1v1h-1zM36 33h1v1h-1zM14 34h1v1h-1zM19 34h1v1h-1zM6 36h1v1h-1zM13 36h1v1h-1zM1 39h1v1h-1zM13 40h1v1h-1zM17 41h1v1h-1zM40 41h1v1h-1zM3 42h1v1h-1zM11 42h1v1h-1zM34 43h1v1h-1zM5 44h2v1h-2zM7 45h1v1h-1zM17 46h1v1h-1zM29 46h1v1h-1zM32 47h1v1h-1zM5 49h1v1h-1zM7 49h2v1h-2zM14 49h2v1h-2zM34 51h1v1h-1zM39 51h1v1h-1zM6 52h1v1h-1zM9 52h1v1h-1zM3 55h1v1h-1zM18 55h1v1h-1zM20 56h1v1h-1zM26 56h1v1h-1zM40 56h1v1h-1zM4 57h1v1h-1zM6 57h1v1h-1zM7 59h1v1h-1zM38 59h1v1h-1zM0 61h1v1h-1zM11 62h1v1h-1zM13 63h1v1h-1zM7 65h1v1h-1zM10 65h1v1h-1zM23 66h1v1h-1zM34 66h1v1h-1zM8 67h1v1h-1zM0 68h1v1h-1zM10 68h1v1h-1zM15 68h1v1h-1zM38 68h1v1h-1zM17 72h1v1h-1zM2 74h1v1h-1zM11 74h1v1h-1zM14 74h1v1h-1zM6 76h1v1h-1zM10 76h1v1h-1zM36 76h1v1h-1zM27 78h1v1h-1zM8 79h1v1h-1z"/>
<path fill="#2797eb" d="M27 1h1v1h-1zM33 4h1v1h-1zM38 7h1v1h-1zM17 9h1v1h-1zM1 12h1v1h-1zM17 14h1v1h-1zM12 16h2v1h-2zM24 17h1v1h-1zM0 18h1v1h-1zM6 19h1v1h-1zM8 19h1v1h-1zM11 19h1v1h-1zM0 21h1v1h-1zM39 21h1v1h-1zM8 22h1v1h-1zM2 23h1v1h-1zM31 23h2v1h-2zM4 26h1v1h-1zM11 26h1v1h-1zM17 26h1v1h-1zM0 27h1v1h-1zM16 27h1v1h-1zM15 28h1v1h-1zM9 30h1v1h-1zM12 30h1v1h-1zM1 31h1v1h-1zM14 31h1v1h-1zM3 32h1v1h-1zM11 32h1v1h-1zM17 32h1v1h-1zM7 33h1v1h-1zM13 33h1v1h-1zM0 35h1v1h-1zM2 35h1v1h-1zM0 36h1v1h-1zM8 38h1v1h-1zM0 39h1v1h-1zM2 39h1v1h-1zM0 40h1v1h-1zM5 40h1v1h-1zM26 41h1v1h-1zM1 42h1v1h-1zM4 42h1v1h-1zM1 43h1v1h-1zM8 43h1v1h-1zM1 44h1v1h-1zM9 45h1v1h-1zM30 46h1v1h-1zM3 47h1v1h-1zM13 49h1v1h-1zM2 50h1v1h-1zM33 51h1v1h-1zM1 52h1v1h-1zM28 66h1v1h-1zM12 68h1v1h-1zM17 68h1v1h-1zM37 68h1v1h-1zM31 78h1v1h-1zM1 79h1v1h-1zM30 79h1v1h-1z"/>
<path fill="#259be8" d="M34 1h1v1h-1zM36 1h1v1h-1zM39 1h1v1h-1zM7 2h2v1h-2zM33 2h1v1h-1zM29 4h1v1h-1zM17 5h1v1h-1zM20 5h1v1h-1zM30 5h1v1h-1zM14 6h1v1h-1zM31 7h2v1h-2zM15 8h1v1h-1zM1 9h1v1h-1zM33 9h1v1h-1zM16 10h1v1h-1zM14 11h1v1h-1zM0 12h1v1h-1zM3 13h1v1h-1zM2 14h1v1h-1zM6 14h1v1h-1zM5 16h1v1h-1zM10 16h1v1h-1zM32 17h1v1h-1zM38 17h1v1h-1zM2 18h1v1h-1zM9 18h2v1h-2zM0 19h1v1h-1zM0 22h1v1h-1zM6 22h1v1h-1zM9 22h2v1h-2zM1 23h1v1h-1zM14 25h1v1h-1zM1 26h1v1h-1zM9 26h1v1h-1zM15 27h1v1h-1zM7 28h1v1h-1zM12 28h1v1h-1zM13 30h1v1h-1zM14 32h1v1h-1zM8 33h1v1h-1zM8 34h1v1h-1zM17 34h1v1h-1zM1 35h1v1h-1zM7 35h1v1h-1zM1 36h1v1h-1zM7 36h1v1h-1zM14 36h1v1h-1zM12 38h1v1h-1zM14 38h1v1h-1zM11 39h1v1h-1zM4 40h1v1h-1zM38 40h1v1h-1zM1 41h1v1h-1zM6 41h1v1h-1zM9 41h1v1h-1zM37 41h1v1h-1zM6 42h1v1h-1zM13 43h1v1h-1zM11 45h1v1h-1zM1 47h1v1h-1zM7 48h1v1h-1zM17 48h1v1h-1zM22 48h1v1h-1zM34 48h1v1h-1zM0 49h1v1h-1zM3 50h2v1h-2zM16 50h1v1h-1zM4 51h1v1h-1zM0 66h1v1h-1zM36 66h1v1h-1zM6 68h1v1h-1zM21 78h1v1h-1zM23 78h1v1h-1zM26 78h1v1h-1zM39 78h1v1h-1z"/>
<path fill="#23a0e5" d="M16 0h1v1h-1zM37 0h1v1h-1zM23 1h1v1h-1zM13 4h1v1h-1zM22 7h1v1h-1zM24 7h1v1h-1zM39 8h1v1h-1zM27 9h1v1h-1zM14 10h1v1h-1zM12 12h1v1h-1zM12 13h1v1h-1zM7 16h1v1h-1zM20 17h1v1h-1zM29 17h1v1h-1zM36 17h1v1h-1zM2 19h1v1h-1zM13 19h1v1h-1zM15 22h1v1h-1zM40 23h1v1h-1zM11 24h1v1h-1zM39 25h1v1h-1zM3 27h1v1h-1zM13 27h1v1h-1zM9 28h1v1h-1zM36 29h1v1h-1zM7 30h1v1h-1zM0 32h1v1h-1zM7 32h1v1h-1zM13 32h1v1h-1zM5 33h1v1h-1zM12 33h1v1h-1zM6 34h1v1h-1zM11 34h1v1h-1zM2 36h1v1h-1zM5 37h1v1h-1zM7 37h1v1h-1zM17 40h1v1h-1zM23 40h1v1h-1zM7 41h2v1h-2zM5 42h1v1h-1zM13 42h2v1h-2zM1 45h1v1h-1zM9 46h1v1h-1zM15 46h1v1h-1zM7 47h1v1h-1zM2 49h1v1h-1zM14 50h1v1h-1zM5 51h1v1h-1zM12 51h1v1h-1zM5 56h1v1h-1zM20 66h1v1h-1zM2 68h1v1h-1zM14 68h1v1h-1zM14 78h1v1h-1z"/>
<path fill="#20a5e3" d="M32 0h1v1h-1zM14 2h1v1h-1zM25 2h1v1h-1zM38 3h1v1h-1zM30 4h1v1h-1zM15 5h2v1h-2zM34 7h1v1h-1zM14 8h1v1h-1zM8 15h1v1h-1zM11 15h1v1h-1zM9 16h1v1h-1zM25 17h1v1h-1zM1 18h1v1h-1zM8 18h1v1h-1zM9 19h1v1h-1zM7 20h1v1h-1zM16 20h1v1h-1zM14 22h1v1h-1zM17 22h1v1h-1zM0 24h1v1h-1zM6 26h1v1h-1zM12 26h1v1h-1zM6 27h1v1h-1zM12 27h1v1h-1zM11 29h1v1h-1zM15 29h1v1h-1zM25 29h1v1h-1zM20 31h1v1h-1zM5 35h2v1h-2zM9 35h1v1h-1zM5 36h1v1h-1zM5 38h1v1h-1zM11 38h1v1h-1zM4 39h1v1h-1zM10 39h1v1h-1zM13 39h1v1h-1zM10 40h1v1h-1zM12 40h1v1h-1zM4 41h1v1h-1zM13 41h1v1h-1zM0 42h1v1h-1zM12 42h1v1h-1zM15 42h1v1h-1zM14 43h1v1h-1zM0 44h1v1h-1zM13 44h1v1h-1zM2 46h1v1h-1zM6 46h1v1h-1zM4 47h1v1h-1zM11 48h1v1h-1zM15 50h1v1h-1zM3 51h1v1h-1zM6 51h1v1h-1zM4 52h1v1h-1zM17 66h1v1h-1zM29 66h1v1h-1zM31 66h1v1h-1zM5 74h1v1h-1z"/>
<path fill="#1ca9df" d="M28 1h1v1h-1zM25 3h1v1h-1zM21 4h1v1h-1zM34 4h1v1h-1zM19 8h1v1h-1zM5 9h1v1h-1zM20 9h1v1h-1zM15 11h1v1h-1zM8 12h1v1h-1zM14 13h1v1h-1zM15 17h1v1h-1zM19 17h1v1h-1zM0 20h1v1h-1zM10 21h1v1h-1zM6 23h1v1h-1zM1 24h1v1h-1zM34 25h1v1h-1zM7 26h1v1h-1zM14 26h1v1h-1zM4 27h1v1h-1zM9 27h1v1h-1zM0 28h1v1h-1zM6 28h1v1h-1zM10 28h2v1h-2zM27 29h2v1h-2zM2 30h1v1h-1zM8 31h1v1h-1zM9 32h1v1h-1zM9 33h1v1h-1zM3 35h2v1h-2zM8 35h1v1h-1zM4 36h1v1h-1zM10 36h1v1h-1zM2 37h3v1h-3zM6 37h1v1h-1zM9 37h1v1h-1zM13 38h1v1h-1zM5 39h1v1h-1zM8 39h1v1h-1zM12 39h1v1h-1zM12 41h1v1h-1zM2 42h1v1h-1zM15 43h1v1h-1zM6 45h1v1h-1zM11 46h1v1h-1zM2 47h1v1h-1zM5 47h2v1h-2zM0 48h1v1h-1zM2 48h1v1h-1zM10 50h1v1h-1zM11 51h1v1h-1zM31 51h1v1h-1zM7 52h2v1h-2zM1 56h1v1h-1zM6 56h1v1h-1zM33 66h1v1h-1zM1 74h1v1h-1zM31 74h1v1h-1zM16 78h1v1h-1zM34 78h1v1h-1z"/>
<path fill="#12b1d6" d="M38 1h1v1h-1zM15 2h1v1h-1zM30 2h1v1h-1zM20 3h1v1h-1zM35 3h1v1h-1zM7 4h1v1h-1zM12 4h1v1h-1zM20 4h1v1h-1zM22 4h1v1h-1zM1 5h1v1h-1zM6 6h1v1h-1zM12 8h1v1h-1zM19 9h1v1h-1zM13 10h1v1h-1zM8 11h1v1h-1zM4 12h1v1h-1zM5 13h1v1h-1zM1 14h1v1h-1zM4 14h1v1h-1zM13 14h1v1h-1zM4 15h1v1h-1zM3 16h1v1h-1zM8 16h1v1h-1zM26 17h1v1h-1zM31 17h1v1h-1zM4 18h1v1h-1zM5 19h1v1h-1zM5 20h1v1h-1zM13 20h1v1h-1zM13 22h1v1h-1zM20 23h1v1h-1zM39 23h1v1h-1zM7 24h1v1h-1zM1 25h1v1h-1zM10 27h1v1h-1zM1 28h2v1h-2zM5 28h1v1h-1zM13 29h1v1h-1zM11 30h1v1h-1zM6 32h1v1h-1zM0 33h1v1h-1zM10 33h2v1h-2zM7 34h1v1h-1zM9 39h1v1h-1zM5 41h1v1h-1zM10 41h1v1h-1zM3 46h2v1h-2zM4 48h1v1h-1zM11 66h1v1h-1zM35 66h1v1h-1zM40 66h1v1h-1zM5 68h1v1h-1zM28 78h1v1h-1z"/>
<path fill="#08b5d0" d="M34 0h1v1h-1zM25 1h2v1h-2zM18 4h1v1h-1zM32 4h1v1h-1zM36 4h1v1h-1zM2 5h1v1h-1zM40 5h1v1h-1zM2 6h1v1h-1zM20 7h1v1h-1zM29 7h1v1h-1zM1 8h1v1h-1zM25 8h1v1h-1zM0 9h1v1h-1zM11 10h2v1h-2zM17 10h1v1h-1zM19 10h1v1h-1zM2 13h1v1h-1zM7 13h1v1h-1zM10 13h2v1h-2zM12 15h1v1h-1zM22 17h1v1h-1zM37 17h1v1h-1zM1 22h1v1h-1zM4 22h1v1h-1zM7 23h1v1h-1zM13 23h2v1h-2zM17 23h1v1h-1zM5 24h1v1h-1zM12 24h1v1h-1zM5 25h1v1h-1zM25 25h1v1h-1zM4 28h1v1h-1zM8 28h1v1h-1zM0 30h1v1h-1zM4 30h1v1h-1zM10 30h1v1h-1zM3 31h1v1h-1zM10 32h1v1h-1zM1 33h2v1h-2zM3 36h1v1h-1zM4 38h1v1h-1zM1 40h1v1h-1zM6 40h3v1h-3zM16 40h1v1h-1zM3 41h1v1h-1zM11 41h1v1h-1zM14 41h1v1h-1zM5 46h1v1h-1zM18 78h2v1h-2zM38 78h1v1h-1zM20 79h1v1h-1z"/>
<path fill="#01b8ca" d="M36 0h1v1h-1zM32 1h1v1h-1zM22 2h1v1h-1zM33 7h1v1h-1zM2 8h1v1h-1zM0 10h1v1h-1zM11 11h1v1h-1zM16 11h1v1h-1zM2 12h1v1h-1zM14 12h1v1h-1zM5 14h1v1h-1zM8 14h1v1h-1zM10 15h1v1h-1zM9 17h1v1h-1zM35 17h1v1h-1zM6 18h1v1h-1zM12 19h1v1h-1zM1 20h1v1h-1zM10 20h1v1h-1zM3 22h1v1h-1zM3 23h1v1h-1zM11 23h1v1h-1zM26 23h1v1h-1zM38 23h1v1h-1zM3 24h1v1h-1zM8 24h1v1h-1zM3 25h1v1h-1zM10 25h1v1h-1zM0 26h1v1h-1zM2 26h1v1h-1zM13 26h1v1h-1zM7 27h1v1h-1zM11 27h1v1h-1zM6 30h1v1h-1zM8 30h1v1h-1zM4 32h1v1h-1zM26 32h1v1h-1zM6 39h1v1h-1zM15 39h1v1h-1zM2 40h1v1h-1zM5 48h2v1h-2zM0 52h1v1h-1zM4 66h1v1h-1zM18 66h2v1h-2zM22 78h1v1h-1zM29 78h1v1h-1zM10 79h2v1h-2zM27 79h1v1h-1z"/>
<path fill="#02bac3" d="M20 0h1v1h-1zM40 3h1v1h-1zM0 5h1v1h-1zM13 5h2v1h-2zM18 9h1v1h-1zM31 10h1v1h-1zM7 12h1v1h-1zM11 12h1v1h-1zM6 13h1v1h-1zM7 14h1v1h-1zM9 15h1v1h-1zM11 16h1v1h-1zM34 17h1v1h-1zM39 17h1v1h-1zM3 18h1v1h-1zM7 19h1v1h-1zM2 20h1v1h-1zM9 20h1v1h-1zM11 20h1v1h-1zM5 21h1v1h-1zM8 21h2v1h-2zM12 22h1v1h-1zM15 23h1v1h-1zM6 25h1v1h-1zM5 26h1v1h-1zM8 26h1v1h-1zM5 29h1v1h-1zM9 29h1v1h-1zM0 31h1v1h-1zM1 32h1v1h-1zM1 34h1v1h-1zM9 34h1v1h-1zM8 36h2v1h-2zM8 37h1v1h-1zM7 39h1v1h-1zM14 39h1v1h-1zM16 41h1v1h-1zM2 43h1v1h-1zM1 49h1v1h-1zM10 49h1v1h-1zM5 66h1v1h-1zM16 66h1v1h-1zM32 66h1v1h-1zM12 76h1v1h-1zM33 78h1v1h-1zM14 79h1v1h-1z"/>
<path fill="#0bbdbd" d="M21 0h1v1h-1zM25 4h1v1h-1zM0 6h1v1h-1zM15 6h2v1h-2zM25 7h1v1h-1zM3 8h1v1h-1zM13 11h1v1h-1zM6 12h1v1h-1zM1 13h1v1h-1zM3 14h1v1h-1zM3 15h1v1h-1zM0 16h1v1h-1zM1 17h1v1h-1zM27 17h1v1h-1zM5 18h1v1h-1zM15 20h1v1h-1zM2 21h1v1h-1zM6 21h1v1h-1zM7 22h1v1h-1zM5 23h1v1h-1zM12 23h1v1h-1zM6 24h1v1h-1zM9 24h2v1h-2zM11 25h3v1h-3zM10 26h1v1h-1zM8 27h1v1h-1zM29 29h1v1h-1zM35 29h1v1h-1zM1 30h1v1h-1zM3 30h1v1h-1zM5 30h1v1h-1zM14 30h1v1h-1zM2 32h1v1h-1zM12 32h1v1h-1zM3 34h2v1h-2zM0 38h1v1h-1zM2 38h2v1h-2zM26 39h1v1h-1zM3 40h1v1h-1zM11 40h1v1h-1zM13 66h1v1h-1zM24 66h1v1h-1zM27 66h1v1h-1zM30 78h1v1h-1zM32 78h1v1h-1zM9 79h1v1h-1zM16 79h1v1h-1z"/>
<path fill="#31c69f" d="M14 3h1v1h-1zM18 3h1v1h-1zM30 7h1v1h-1zM37 7h1v1h-1zM7 8h1v1h-1zM8 10h1v1h-1zM6 16h1v1h-1zM8 17h1v1h-1zM14 17h1v1h-1zM3 19h1v1h-1zM6 20h1v1h-1zM14 21h1v1h-1zM18 23h1v1h-1zM3 33h1v1h-1zM9 40h1v1h-1zM24 40h1v1h-1zM2 66h2v1h-2z"/>
<path fill="#37c897" d="M28 3h1v1h-1zM28 7h1v1h-1zM35 7h1v1h-1zM4 9h1v1h-1zM22 9h1v1h-1zM3 12h1v1h-1zM9 12h1v1h-1zM1 15h1v1h-1zM7 15h1v1h-1zM0 17h1v1h-1zM5 17h1v1h-1zM4 19h1v1h-1zM12 20h1v1h-1zM3 21h1v1h-1zM2 22h1v1h-1zM11 22h1v1h-1zM0 23h1v1h-1zM2 25h1v1h-1zM10 31h2v1h-2zM16 31h1v1h-1zM3 48h1v1h-1zM15 66h1v1h-1zM20 78h1v1h-1zM12 79h1v1h-1z"/>
<path fill="#3fca8e" d="M28 4h1v1h-1zM8 6h1v1h-1zM13 8h1v1h-1zM12 11h1v1h-1zM0 13h1v1h-1zM12 14h1v1h-1zM7 18h1v1h-1zM12 21h2v1h-2zM5 22h1v1h-1zM34 23h1v1h-1zM4 24h1v1h-1zM9 25h1v1h-1zM1 27h1v1h-1zM4 31h1v1h-1zM7 31h1v1h-1zM25 31h1v1h-1zM31 31h1v1h-1zM15 41h1v1h-1zM17 78h1v1h-1zM35 78h1v1h-1zM40 78h1v1h-1zM13 79h1v1h-1zM21 79h1v1h-1z"/>
<path fill="#4acb84" d="M21 3h1v1h-1zM16 4h1v1h-1zM1 6h1v1h-1zM6 8h1v1h-1zM7 9h2v1h-2zM5 12h1v1h-1zM2 17h1v1h-1zM6 17h1v1h-1zM8 20h1v1h-1zM5 27h1v1h-1zM3 28h1v1h-1zM9 38h1v1h-1zM6 66h1v1h-1zM38 79h1v1h-1z"/>
<path fill="#57cc7a" d="M13 0h1v1h-1zM18 0h1v1h-1zM15 3h1v1h-1zM2 9h1v1h-1zM10 12h1v1h-1zM8 13h1v1h-1zM2 15h1v1h-1zM10 17h1v1h-1zM1 21h1v1h-1zM4 21h1v1h-1zM15 21h1v1h-1zM27 23h1v1h-1zM0 25h1v1h-1zM4 25h1v1h-1zM1 29h1v1h-1zM17 29h1v1h-1zM27 31h1v1h-1zM0 41h1v1h-1zM1 48h1v1h-1zM7 66h1v1h-1zM37 78h1v1h-1zM32 79h1v1h-1zM34 79h1v1h-1z"/>
<path fill="#9dc943" d="M19 3h1v1h-1zM5 8h1v1h-1zM10 8h1v1h-1zM25 9h1v1h-1zM9 13h1v1h-1zM0 15h1v1h-1zM2 16h1v1h-1zM13 17h1v1h-1zM28 17h1v1h-1zM2 27h1v1h-1zM19 79h1v1h-1zM25 79h1v1h-1zM33 79h1v1h-1zM37 79h1v1h-1zM39 79h1v1h-1z"/>
<path fill="#abc739" d="M16 3h1v1h-1zM33 3h1v1h-1zM4 4h1v1h-1zM1 7h1v1h-1zM21 7h1v1h-1zM37 10h1v1h-1zM5 15h1v1h-1zM4 16h1v1h-1zM3 17h1v1h-1zM4 20h1v1h-1zM19 23h1v1h-1zM3 29h1v1h-1zM19 29h1v1h-1zM31 29h1v1h-1zM36 78h1v1h-1zM18 79h1v1h-1zM23 79h1v1h-1zM36 79h1v1h-1z"/>
<path fill="#b9c431" d="M22 0h1v1h-1zM17 4h1v1h-1zM40 4h1v1h-1zM12 5h1v1h-1zM4 6h1v1h-1zM12 6h2v1h-2zM0 8h1v1h-1zM9 8h1v1h-1zM11 8h1v1h-1zM4 17h1v1h-1zM7 17h1v1h-1zM40 17h1v1h-1zM11 21h1v1h-1zM29 23h1v1h-1zM7 25h1v1h-1zM12 29h1v1h-1zM15 79h1v1h-1zM24 79h1v1h-1z"/>
<path fill="#c5c22a" d="M11 2h1v1h-1zM39 3h1v1h-1zM31 4h1v1h-1zM11 6h1v1h-1zM0 7h1v1h-1zM13 7h1v1h-1zM8 8h1v1h-1zM1 11h1v1h-1zM10 23h1v1h-1zM16 29h1v1h-1zM40 29h1v1h-1zM17 79h1v1h-1zM31 79h1v1h-1z"/>
<path fill="#d1bf27" d="M29 1h1v1h-1zM17 3h1v1h-1zM11 4h1v1h-1zM18 7h1v1h-1zM4 8h1v1h-1zM2 10h1v1h-1zM9 11h1v1h-1zM6 15h1v1h-1zM3 20h1v1h-1zM8 25h1v1h-1z"/>
<path fill="#f0ba36" d="M5 5h1v1h-1zM12 7h1v1h-1zM12 9h1v1h-1zM4 11h1v1h-1zM7 11h1v1h-1zM12 17h1v1h-1zM0 29h1v1h-1zM22 79h1v1h-1zM40 79h1v1h-1z"/>
<path fill="#f8ba3d" d="M14 0h2v1h-2zM17 0h1v1h-1zM18 1h1v1h-1zM22 3h1v1h-1zM37 3h1v1h-1zM11 5h1v1h-1zM5 6h1v1h-1zM7 6h1v1h-1zM10 6h1v1h-1zM36 7h1v1h-1zM11 9h1v1h-1zM0 11h1v1h-1zM14 15h1v1h-1zM9 23h1v1h-1zM4 29h1v1h-1zM6 29h1v1h-1zM8 29h1v1h-1z"/>
<path fill="#febe3c" d="M11 3h1v1h-1zM24 4h1v1h-1zM3 6h1v1h-1zM9 6h1v1h-1zM11 14h1v1h-1zM26 29h1v1h-1zM9 31h1v1h-1z"/>
<path fill="#fec338" d="M24 1h1v1h-1zM12 2h1v1h-1zM34 3h1v1h-1zM5 11h1v1h-1zM10 11h1v1h-1zM18 29h1v1h-1zM2 31h1v1h-1zM26 79h1v1h-1z"/>
<path fill="#fec934" d="M12 3h1v1h-1zM27 3h1v1h-1zM32 3h1v1h-1zM8 7h1v1h-1zM13 9h2v1h-2zM7 10h1v1h-1zM9 10h1v1h-1zM6 11h1v1h-1zM4 13h1v1h-1zM0 14h1v1h-1zM13 15h1v1h-1zM22 23h1v1h-1zM10 29h1v1h-1zM14 29h1v1h-1zM30 29h1v1h-1z"/>
<path fill="#f6ef20" d="M1 0h1v1h-1zM6 0h2v1h-2zM9 0h1v1h-1zM11 0h2v1h-2zM0 1h2v1h-2zM6 1h2v1h-2zM14 1h1v1h-1zM19 1h1v1h-1zM7 3h2v1h-2zM0 4h1v1h-1zM5 4h2v1h-2zM10 5h1v1h-1zM6 7h1v1h-1zM1 10h1v1h-1zM3 10h1v1h-1zM5 10h1v1h-1zM20 29h1v1h-1zM22 29h2v1h-2zM37 66h1v1h-1z"/>
<path fill="#f9fb15" d="M0 0h1v1h-1zM2 0h4v1h-4zM8 0h1v1h-1zM10 0h1v1h-1zM2 1h4v1h-4zM8 1h6v1h-6zM15 1h3v1h-3zM20 1h1v1h-1zM0 2h7v1h-7zM9 2h2v1h-2zM13 2h1v1h-1zM0 3h7v1h-7zM9 3h2v1h-2zM13 3h1v1h-1zM24 3h1v1h-1zM26 3h1v1h-1zM1 4h3v1h-3zM9 4h2v1h-2zM14 4h1v1h-1zM19 4h1v1h-1zM38 4h2v1h-2zM3 5h2v1h-2zM6 5h4v1h-4zM2 7h4v1h-4zM7 7h1v1h-1zM9 7h3v1h-3zM14 7h1v1h-1zM16 7h1v1h-1zM3 9h1v1h-1zM6 9h1v1h-1zM9 9h1v1h-1zM4 10h1v1h-1zM6 10h1v1h-1zM2 11h2v1h-2zM11 17h1v1h-1zM4 23h1v1h-1zM8 23h1v1h-1zM16 23h1v1h-1zM2 29h1v1h-1zM7 29h1v1h-1zM21 29h1v1h-1zM32 29h1v1h-1zM38 29h1v1h-1zM28 79h2v1h-2zM35 79h1v1h-1z"/>
</g>
<g transform="translate(498.90,836.00) scale(6.4293,4.0058)" shape-rendering="crispEdges">
<path fill="#3e26a8" d="M4 3h1v1h-1zM15 18h1v1h-1zM6 19h1v1h-1zM11 23h1v1h-1zM20 31h1v1h-1zM36 33h1v1h-1zM16 37h1v1h-1zM29 37h1v1h-1zM39 37h1v1h-1zM10 38h1v1h-1zM17 38h2v1h-2zM30 38h1v1h-1zM39 38h1v1h-1zM0 39h1v1h-1zM6 39h1v1h-1zM8 39h1v1h-1zM11 39h1v1h-1zM0 40h1v1h-1zM21 40h1v1h-1zM27 40h1v1h-1zM29 40h1v1h-1zM38 40h1v1h-1zM0 43h1v1h-1zM3 43h1v1h-1zM6 43h3v1h-3zM12 43h1v1h-1zM16 43h1v1h-1zM7 44h1v1h-1zM11 44h1v1h-1zM15 44h1v1h-1zM19 44h1v1h-1zM1 45h1v1h-1zM7 45h1v1h-1zM9 45h1v1h-1zM11 45h1v1h-1zM13 45h1v1h-1zM19 45h2v1h-2zM0 46h1v1h-1zM2 46h1v1h-1zM4 46h1v1h-1zM6 46h2v1h-2zM11 46h2v1h-2zM14 46h3v1h-3zM20 46h1v1h-1zM28 46h1v1h-1zM3 47h1v1h-1zM12 47h1v1h-1zM19 47h1v1h-1zM3 51h1v1h-1zM9 51h1v1h-1zM13 51h1v1h-1zM19 51h1v1h-1zM21 51h2v1h-2zM32 51h1v1h-1zM1 52h1v1h-1zM4 52h1v1h-1zM6 52h1v1h-1zM9 52h1v1h-1zM11 52h1v1h-1zM13 52h1v1h-1zM17 52h1v1h-1zM20 52h1v1h-1zM24 52h1v1h-1zM29 52h1v1h-1zM33 52h1v1h-1zM37 52h1v1h-1zM6 53h1v1h-1zM19 53h1v1h-1zM31 53h1v1h-1zM7 55h1v1h-1zM25 55h1v1h-1zM2 56h1v1h-1zM6 56h1v1h-1zM10 56h1v1h-1zM13 56h2v1h-2zM16 56h1v1h-1zM19 56h1v1h-1zM22 56h1v1h-1zM24 56h1v1h-1zM27 56h1v1h-1zM29 56h1v1h-1zM0 57h1v1h-1zM4 57h3v1h-3zM8 57h1v1h-1zM12 57h3v1h-3zM16 57h3v1h-3zM22 57h2v1h-2zM28 57h2v1h-2zM32 57h1v1h-1zM37 57h1v1h-1zM39 57h2v1h-2zM9 58h1v1h-1zM11 58h1v1h-1zM14 58h1v1h-1zM20 58h1v1h-1zM33 58h1v1h-1zM11 59h1v1h-1zM35 59h1v1h-1zM32 60h1v1h-1z"/>
<path fill="#402ab4" d="M10 15h1v1h-1zM9 20h1v1h-1zM3 23h1v1h-1zM3 30h1v1h-1zM7 30h1v1h-1zM17 31h1v1h-1zM14 37h1v1h-1zM1 38h1v1h-1zM10 39h1v1h-1zM39 39h1v1h-1zM7 40h1v1h-1zM32 40h1v1h-1zM24 43h1v1h-1zM29 43h1v1h-1zM4 44h1v1h-1zM9 44h2v1h-2zM13 44h2v1h-2zM17 44h1v1h-1zM34 44h1v1h-1zM0 45h1v1h-1zM17 45h1v1h-1zM10 46h1v1h-1zM18 46h2v1h-2zM22 46h1v1h-1zM39 46h1v1h-1zM14 47h1v1h-1zM29 47h1v1h-1zM36 47h1v1h-1zM40 47h1v1h-1zM17 51h1v1h-1zM2 52h1v1h-1zM5 52h1v1h-1zM7 52h1v1h-1zM10 52h1v1h-1zM12 52h1v1h-1zM28 52h1v1h-1zM38 52h2v1h-2zM6 54h1v1h-1zM16 54h1v1h-1zM16 55h1v1h-1zM18 55h1v1h-1zM37 55h1v1h-1zM3 56h1v1h-1zM5 56h1v1h-1zM7 56h3v1h-3zM11 56h1v1h-1zM15 56h1v1h-1zM17 56h2v1h-2zM23 56h1v1h-1zM25 56h2v1h-2zM32 56h1v1h-1zM34 56h1v1h-1zM36 56h2v1h-2zM40 56h1v1h-1zM2 57h2v1h-2zM9 57h1v1h-1zM11 57h1v1h-1zM25 57h1v1h-1zM30 57h2v1h-2zM33 57h1v1h-1zM36 57h1v1h-1zM38 57h1v1h-1zM22 58h1v1h-1zM30 58h1v1h-1zM34 63h1v1h-1z"/>
<path fill="#422ec0" d="M5 8h1v1h-1zM4 9h1v1h-1zM13 18h1v1h-1zM3 22h1v1h-1zM9 27h1v1h-1zM13 30h1v1h-1zM10 31h1v1h-1zM2 37h1v1h-1zM33 37h1v1h-1zM8 38h1v1h-1zM3 39h1v1h-1zM5 39h1v1h-1zM7 39h1v1h-1zM21 39h1v1h-1zM30 39h1v1h-1zM17 43h1v1h-1zM0 44h3v1h-3zM6 44h1v1h-1zM4 45h1v1h-1zM8 45h1v1h-1zM16 45h1v1h-1zM18 45h1v1h-1zM3 46h1v1h-1zM13 46h1v1h-1zM30 47h1v1h-1zM23 50h1v1h-1zM5 51h1v1h-1zM11 51h1v1h-1zM27 51h1v1h-1zM38 51h1v1h-1zM0 52h1v1h-1zM3 52h1v1h-1zM18 52h2v1h-2zM36 52h1v1h-1zM40 52h1v1h-1zM25 54h1v1h-1zM38 54h1v1h-1zM0 56h2v1h-2zM4 56h1v1h-1zM21 56h1v1h-1zM28 56h1v1h-1zM30 56h1v1h-1zM33 56h1v1h-1zM35 56h1v1h-1zM38 56h2v1h-2zM1 57h1v1h-1zM7 57h1v1h-1zM10 57h1v1h-1zM15 57h1v1h-1zM20 57h2v1h-2zM26 57h1v1h-1zM35 57h1v1h-1zM28 58h1v1h-1zM14 59h1v1h-1zM39 59h1v1h-1zM24 63h1v1h-1zM39 63h1v1h-1zM32 66h1v1h-1z"/>
<path fill="#4332cb" d="M7 19h1v1h-1zM1 31h1v1h-1zM19 32h1v1h-1zM13 37h1v1h-1zM1 39h1v1h-1zM12 44h1v1h-1zM2 45h1v1h-1zM6 45h1v1h-1zM12 45h1v1h-1zM15 45h1v1h-1zM1 46h1v1h-1zM5 46h1v1h-1zM8 46h2v1h-2zM17 46h1v1h-1zM36 46h1v1h-1zM21 50h1v1h-1zM36 50h1v1h-1zM1 51h1v1h-1zM7 51h2v1h-2zM15 51h1v1h-1zM8 52h1v1h-1zM14 52h3v1h-3zM2 54h1v1h-1zM12 56h1v1h-1zM20 56h1v1h-1zM31 56h1v1h-1zM19 57h1v1h-1zM24 57h1v1h-1zM27 57h1v1h-1zM34 57h1v1h-1zM32 61h1v1h-1zM37 61h1v1h-1zM8 63h1v1h-1zM33 65h1v1h-1z"/>
<path fill="#4537d5" d="M2 3h1v1h-1zM6 3h1v1h-1zM1 4h2v1h-2zM4 4h1v1h-1zM2 5h1v1h-1zM7 5h1v1h-1zM0 7h1v1h-1zM3 8h2v1h-2zM6 9h1v1h-1zM9 14h1v1h-1zM0 15h1v1h-1zM5 17h1v1h-1zM14 18h1v1h-1zM18 18h1v1h-1zM15 23h1v1h-1zM13 24h1v1h-1zM12 25h1v1h-1zM16 27h1v1h-1zM5 30h1v1h-1zM9 30h1v1h-1zM15 30h1v1h-1zM16 31h1v1h-1zM5 32h1v1h-1zM7 32h1v1h-1zM4 35h1v1h-1zM0 37h1v1h-1zM8 37h1v1h-1zM11 37h1v1h-1zM20 37h1v1h-1zM28 37h1v1h-1zM14 38h1v1h-1zM19 38h1v1h-1zM23 38h1v1h-1zM16 39h1v1h-1zM23 39h1v1h-1zM27 39h1v1h-1zM32 39h1v1h-1zM36 39h1v1h-1zM38 39h1v1h-1zM22 40h1v1h-1zM12 41h1v1h-1zM14 41h1v1h-1zM5 43h1v1h-1zM18 43h1v1h-1zM21 44h1v1h-1zM30 44h1v1h-1zM33 44h1v1h-1zM21 45h1v1h-1zM25 45h2v1h-2zM32 45h1v1h-1zM32 46h1v1h-1zM38 46h1v1h-1zM4 47h1v1h-1zM9 47h1v1h-1zM17 47h1v1h-1zM20 47h1v1h-1zM34 47h1v1h-1zM4 50h1v1h-1zM20 50h1v1h-1zM29 50h1v1h-1zM32 50h1v1h-1zM40 50h1v1h-1zM18 51h1v1h-1zM23 51h1v1h-1zM30 51h1v1h-1zM36 51h1v1h-1zM23 52h1v1h-1zM32 52h1v1h-1zM17 53h1v1h-1zM20 53h1v1h-1zM30 53h1v1h-1zM37 53h1v1h-1zM18 54h1v1h-1zM21 54h1v1h-1zM17 55h1v1h-1zM35 55h1v1h-1zM8 58h1v1h-1zM18 58h1v1h-1zM24 58h1v1h-1zM36 58h1v1h-1zM25 59h1v1h-1zM38 59h1v1h-1zM40 61h1v1h-1zM22 62h1v1h-1zM17 63h1v1h-1zM38 63h1v1h-1zM38 65h1v1h-1zM21 67h1v1h-1z"/>
<path fill="#463cde" d="M7 1h1v1h-1zM3 2h1v1h-1zM7 4h1v1h-1zM15 6h1v1h-1zM9 11h1v1h-1zM2 15h1v1h-1zM12 15h1v1h-1zM1 17h1v1h-1zM6 24h1v1h-1zM9 24h1v1h-1zM5 31h1v1h-1zM13 32h1v1h-1zM18 32h1v1h-1zM29 32h1v1h-1zM1 34h1v1h-1zM16 35h1v1h-1zM9 37h1v1h-1zM12 37h1v1h-1zM17 37h3v1h-3zM31 38h1v1h-1zM38 38h1v1h-1zM17 39h1v1h-1zM31 39h1v1h-1zM10 40h1v1h-1zM9 41h1v1h-1zM13 42h1v1h-1zM28 42h1v1h-1zM39 43h1v1h-1zM5 44h1v1h-1zM26 44h1v1h-1zM28 44h1v1h-1zM36 44h1v1h-1zM23 45h1v1h-1zM39 45h2v1h-2zM23 46h2v1h-2zM37 46h1v1h-1zM13 47h1v1h-1zM15 47h1v1h-1zM22 47h1v1h-1zM37 47h1v1h-1zM21 49h1v1h-1zM6 51h1v1h-1zM14 51h1v1h-1zM39 51h1v1h-1zM9 54h1v1h-1zM11 54h1v1h-1zM33 54h1v1h-1zM4 55h1v1h-1zM9 55h1v1h-1zM12 58h1v1h-1zM17 58h1v1h-1zM29 58h1v1h-1zM24 59h1v1h-1zM29 59h1v1h-1zM7 63h1v1h-1zM28 63h1v1h-1zM35 63h1v1h-1zM28 66h1v1h-1z"/>
<path fill="#4741e5" d="M11 0h1v1h-1zM8 2h1v1h-1zM0 4h1v1h-1zM6 5h1v1h-1zM8 10h1v1h-1zM7 12h1v1h-1zM1 13h1v1h-1zM3 17h1v1h-1zM19 19h1v1h-1zM11 24h1v1h-1zM10 25h1v1h-1zM5 29h1v1h-1zM1 30h1v1h-1zM6 30h1v1h-1zM10 30h1v1h-1zM12 30h1v1h-1zM3 31h1v1h-1zM8 31h1v1h-1zM13 31h1v1h-1zM19 31h1v1h-1zM25 32h1v1h-1zM17 34h1v1h-1zM4 37h1v1h-1zM31 37h1v1h-1zM11 38h1v1h-1zM4 39h1v1h-1zM14 39h1v1h-1zM25 39h1v1h-1zM40 39h1v1h-1zM5 40h1v1h-1zM24 40h1v1h-1zM2 43h1v1h-1zM4 43h1v1h-1zM26 43h1v1h-1zM16 44h1v1h-1zM37 44h1v1h-1zM28 45h1v1h-1zM35 46h1v1h-1zM8 47h1v1h-1zM11 47h1v1h-1zM18 47h1v1h-1zM25 47h2v1h-2zM21 48h1v1h-1zM34 49h1v1h-1zM26 50h1v1h-1zM28 50h1v1h-1zM2 51h1v1h-1zM21 52h1v1h-1zM26 52h2v1h-2zM0 53h1v1h-1zM23 53h1v1h-1zM34 53h2v1h-2zM40 53h1v1h-1zM19 54h1v1h-1zM14 55h1v1h-1zM32 55h1v1h-1zM4 58h1v1h-1zM7 58h1v1h-1zM10 58h1v1h-1zM25 58h1v1h-1zM27 58h1v1h-1zM39 58h1v1h-1zM0 59h1v1h-1zM4 59h1v1h-1zM10 59h1v1h-1zM32 59h1v1h-1zM39 60h1v1h-1zM20 61h1v1h-1zM30 61h1v1h-1zM24 62h1v1h-1zM33 63h1v1h-1zM26 65h1v1h-1z"/>
<path fill="#4747eb" d="M1 0h1v1h-1zM12 3h1v1h-1zM12 4h1v1h-1zM12 7h1v1h-1zM1 8h1v1h-1zM9 15h1v1h-1zM2 16h1v1h-1zM11 16h1v1h-1zM1 23h1v1h-1zM12 23h1v1h-1zM7 24h1v1h-1zM20 27h1v1h-1zM0 30h1v1h-1zM4 30h1v1h-1zM19 30h1v1h-1zM0 31h1v1h-1zM9 31h1v1h-1zM11 31h1v1h-1zM15 35h1v1h-1zM7 37h1v1h-1zM21 37h1v1h-1zM23 37h1v1h-1zM38 37h1v1h-1zM13 38h1v1h-1zM16 38h1v1h-1zM37 38h1v1h-1zM9 39h1v1h-1zM18 39h2v1h-2zM22 39h1v1h-1zM18 40h1v1h-1zM37 40h1v1h-1zM5 41h1v1h-1zM10 41h1v1h-1zM1 43h1v1h-1zM13 43h1v1h-1zM30 43h2v1h-2zM8 44h1v1h-1zM18 44h1v1h-1zM24 44h1v1h-1zM38 44h1v1h-1zM10 45h1v1h-1zM2 47h1v1h-1zM6 47h2v1h-2zM32 47h1v1h-1zM38 47h1v1h-1zM22 49h1v1h-1zM27 49h1v1h-1zM40 49h1v1h-1zM13 50h1v1h-1zM17 50h1v1h-1zM0 51h1v1h-1zM20 51h1v1h-1zM28 51h2v1h-2zM31 51h1v1h-1zM35 51h1v1h-1zM31 52h1v1h-1zM2 53h1v1h-1zM26 53h1v1h-1zM0 54h1v1h-1zM12 54h1v1h-1zM17 54h1v1h-1zM34 54h1v1h-1zM40 54h1v1h-1zM6 55h1v1h-1zM36 55h1v1h-1zM0 58h1v1h-1zM15 58h1v1h-1zM26 58h1v1h-1zM31 58h1v1h-1zM37 58h1v1h-1zM12 59h2v1h-2zM34 59h1v1h-1zM22 60h1v1h-1zM4 61h1v1h-1zM27 61h1v1h-1zM35 61h1v1h-1zM15 63h2v1h-2zM23 63h1v1h-1zM27 63h1v1h-1zM29 63h1v1h-1zM31 63h1v1h-1zM21 64h1v1h-1z"/>
<path fill="#484df0" d="M2 1h2v1h-2zM16 1h1v1h-1zM4 2h1v1h-1zM6 2h1v1h-1zM9 2h1v1h-1zM5 3h1v1h-1zM16 3h2v1h-2zM14 5h1v1h-1zM7 6h3v1h-3zM12 8h1v1h-1zM2 10h1v1h-1zM15 10h1v1h-1zM14 11h1v1h-1zM18 13h1v1h-1zM13 14h2v1h-2zM8 15h1v1h-1zM6 16h1v1h-1zM14 17h1v1h-1zM3 19h1v1h-1zM13 19h1v1h-1zM9 23h1v1h-1zM3 24h1v1h-1zM12 24h1v1h-1zM14 24h3v1h-3zM1 26h1v1h-1zM15 28h1v1h-1zM2 30h1v1h-1zM16 30h2v1h-2zM4 31h1v1h-1zM0 32h1v1h-1zM3 32h1v1h-1zM9 32h2v1h-2zM20 32h1v1h-1zM1 33h1v1h-1zM10 34h1v1h-1zM18 34h1v1h-1zM9 35h1v1h-1zM17 35h1v1h-1zM19 35h1v1h-1zM1 37h1v1h-1zM6 37h1v1h-1zM10 37h1v1h-1zM32 37h1v1h-1zM6 38h2v1h-2zM21 38h1v1h-1zM24 38h2v1h-2zM28 38h2v1h-2zM34 38h1v1h-1zM2 39h1v1h-1zM12 39h1v1h-1zM29 39h1v1h-1zM34 39h1v1h-1zM4 40h1v1h-1zM28 40h1v1h-1zM30 40h1v1h-1zM4 41h1v1h-1zM7 41h2v1h-2zM32 42h1v1h-1zM14 43h1v1h-1zM21 43h1v1h-1zM25 43h1v1h-1zM3 44h1v1h-1zM40 44h1v1h-1zM3 45h1v1h-1zM14 45h1v1h-1zM24 45h1v1h-1zM29 45h2v1h-2zM35 45h4v1h-4zM29 46h1v1h-1zM33 46h2v1h-2zM1 47h1v1h-1zM16 47h1v1h-1zM24 47h1v1h-1zM27 47h2v1h-2zM33 47h1v1h-1zM35 47h1v1h-1zM20 48h1v1h-1zM19 49h1v1h-1zM7 50h2v1h-2zM16 50h1v1h-1zM25 50h1v1h-1zM27 50h1v1h-1zM33 50h1v1h-1zM12 51h1v1h-1zM16 51h1v1h-1zM24 51h1v1h-1zM34 51h1v1h-1zM37 51h1v1h-1zM22 52h1v1h-1zM25 52h1v1h-1zM1 53h1v1h-1zM14 53h1v1h-1zM18 53h1v1h-1zM3 54h3v1h-3zM15 54h1v1h-1zM23 54h1v1h-1zM35 54h1v1h-1zM2 55h1v1h-1zM8 55h1v1h-1zM23 55h1v1h-1zM29 55h1v1h-1zM6 58h1v1h-1zM19 58h1v1h-1zM23 58h1v1h-1zM38 58h1v1h-1zM40 58h1v1h-1zM1 59h1v1h-1zM5 59h1v1h-1zM15 59h1v1h-1zM18 59h1v1h-1zM23 59h1v1h-1zM27 59h1v1h-1zM5 60h1v1h-1zM26 60h1v1h-1zM31 60h1v1h-1zM0 61h1v1h-1zM13 61h1v1h-1zM18 61h1v1h-1zM22 61h4v1h-4zM2 63h1v1h-1zM12 63h3v1h-3zM22 63h1v1h-1zM37 63h1v1h-1zM3 65h1v1h-1zM23 65h1v1h-1zM26 66h1v1h-1z"/>
<path fill="#4852f4" d="M5 0h1v1h-1zM2 2h1v1h-1zM5 2h1v1h-1zM3 3h1v1h-1zM6 6h1v1h-1zM12 6h1v1h-1zM14 6h1v1h-1zM3 7h1v1h-1zM16 14h1v1h-1zM15 15h1v1h-1zM17 15h1v1h-1zM0 17h1v1h-1zM2 17h1v1h-1zM4 17h1v1h-1zM9 17h1v1h-1zM14 19h1v1h-1zM3 21h1v1h-1zM19 23h1v1h-1zM2 24h1v1h-1zM18 28h1v1h-1zM11 29h1v1h-1zM23 30h1v1h-1zM35 30h1v1h-1zM6 31h2v1h-2zM28 31h1v1h-1zM5 35h1v1h-1zM18 35h1v1h-1zM14 36h1v1h-1zM16 36h1v1h-1zM5 37h1v1h-1zM35 37h1v1h-1zM26 38h1v1h-1zM33 38h1v1h-1zM40 38h1v1h-1zM13 39h1v1h-1zM33 39h1v1h-1zM1 40h1v1h-1zM26 40h1v1h-1zM36 40h1v1h-1zM6 41h1v1h-1zM36 41h1v1h-1zM39 41h1v1h-1zM6 42h1v1h-1zM9 43h1v1h-1zM11 43h1v1h-1zM23 43h1v1h-1zM27 43h1v1h-1zM37 43h1v1h-1zM40 43h1v1h-1zM32 44h1v1h-1zM27 46h1v1h-1zM30 46h1v1h-1zM5 47h1v1h-1zM10 47h1v1h-1zM39 47h1v1h-1zM17 48h1v1h-1zM6 49h1v1h-1zM24 49h1v1h-1zM35 49h1v1h-1zM10 50h3v1h-3zM19 50h1v1h-1zM24 50h1v1h-1zM30 50h1v1h-1zM35 50h1v1h-1zM4 51h1v1h-1zM9 53h2v1h-2zM16 53h1v1h-1zM24 53h1v1h-1zM7 54h1v1h-1zM13 55h1v1h-1zM15 55h1v1h-1zM20 55h1v1h-1zM40 55h1v1h-1zM1 58h1v1h-1zM3 58h1v1h-1zM21 58h1v1h-1zM34 58h1v1h-1zM2 59h2v1h-2zM8 59h1v1h-1zM16 59h1v1h-1zM19 59h1v1h-1zM21 59h1v1h-1zM36 59h1v1h-1zM17 60h1v1h-1zM23 60h2v1h-2zM29 60h1v1h-1zM37 60h1v1h-1zM5 61h1v1h-1zM11 61h2v1h-2zM19 61h1v1h-1zM21 61h1v1h-1zM36 61h1v1h-1zM0 63h1v1h-1zM4 63h1v1h-1zM20 63h1v1h-1zM20 64h1v1h-1zM37 64h1v1h-1zM20 65h1v1h-1zM18 66h1v1h-1z"/>
<path fill="#4758f8" d="M0 0h1v1h-1zM15 1h1v1h-1zM3 5h3v1h-3zM2 6h1v1h-1zM17 8h1v1h-1zM0 9h1v1h-1zM5 11h1v1h-1zM0 13h1v1h-1zM19 15h1v1h-1zM19 18h1v1h-1zM35 19h1v1h-1zM2 20h1v1h-1zM20 23h1v1h-1zM0 24h1v1h-1zM5 24h1v1h-1zM10 24h1v1h-1zM4 27h1v1h-1zM14 27h1v1h-1zM6 28h1v1h-1zM9 28h1v1h-1zM8 30h1v1h-1zM11 30h1v1h-1zM36 30h1v1h-1zM29 31h1v1h-1zM11 32h2v1h-2zM34 32h1v1h-1zM12 35h1v1h-1zM14 35h1v1h-1zM18 36h2v1h-2zM30 37h1v1h-1zM40 37h1v1h-1zM37 39h1v1h-1zM17 40h1v1h-1zM25 40h1v1h-1zM3 41h1v1h-1zM25 41h3v1h-3zM19 43h2v1h-2zM22 43h1v1h-1zM32 43h1v1h-1zM20 44h1v1h-1zM29 44h1v1h-1zM35 44h1v1h-1zM39 44h1v1h-1zM22 45h1v1h-1zM33 45h1v1h-1zM21 46h1v1h-1zM31 46h1v1h-1zM40 46h1v1h-1zM19 48h1v1h-1zM37 48h1v1h-1zM4 49h1v1h-1zM20 49h1v1h-1zM32 49h1v1h-1zM38 49h1v1h-1zM6 50h1v1h-1zM22 50h1v1h-1zM31 50h1v1h-1zM37 50h1v1h-1zM25 51h1v1h-1zM3 53h2v1h-2zM7 53h1v1h-1zM27 53h1v1h-1zM20 54h1v1h-1zM24 54h1v1h-1zM26 54h1v1h-1zM29 54h1v1h-1zM36 54h1v1h-1zM1 55h1v1h-1zM19 55h1v1h-1zM32 58h1v1h-1zM20 59h1v1h-1zM22 59h1v1h-1zM30 59h2v1h-2zM1 60h2v1h-2zM18 60h1v1h-1zM33 60h1v1h-1zM35 60h1v1h-1zM1 61h1v1h-1zM8 61h1v1h-1zM10 61h1v1h-1zM16 61h1v1h-1zM39 61h1v1h-1zM19 62h1v1h-1zM19 63h1v1h-1zM23 64h1v1h-1zM18 65h1v1h-1zM19 66h1v1h-1zM24 66h1v1h-1zM33 66h1v1h-1z"/>
<path fill="#465efb" d="M7 0h1v1h-1zM7 3h1v1h-1zM14 3h1v1h-1zM18 6h2v1h-2zM15 8h1v1h-1zM4 11h1v1h-1zM8 11h1v1h-1zM12 11h1v1h-1zM4 12h1v1h-1zM19 13h1v1h-1zM11 15h1v1h-1zM6 18h1v1h-1zM8 18h1v1h-1zM5 19h1v1h-1zM6 23h1v1h-1zM13 23h2v1h-2zM6 27h1v1h-1zM18 27h1v1h-1zM20 28h1v1h-1zM18 30h1v1h-1zM38 31h2v1h-2zM2 32h1v1h-1zM3 35h1v1h-1zM20 36h1v1h-1zM15 37h1v1h-1zM27 37h1v1h-1zM37 37h1v1h-1zM0 38h1v1h-1zM2 38h1v1h-1zM12 38h1v1h-1zM15 39h1v1h-1zM26 39h1v1h-1zM35 39h1v1h-1zM6 40h1v1h-1zM9 40h1v1h-1zM12 40h1v1h-1zM14 40h1v1h-1zM21 41h1v1h-1zM1 42h1v1h-1zM15 43h1v1h-1zM33 43h1v1h-1zM35 43h1v1h-1zM23 44h1v1h-1zM25 44h1v1h-1zM26 46h1v1h-1zM14 49h1v1h-1zM23 49h1v1h-1zM0 50h1v1h-1zM3 50h1v1h-1zM9 50h1v1h-1zM26 51h1v1h-1zM33 51h1v1h-1zM35 52h1v1h-1zM21 53h1v1h-1zM10 54h1v1h-1zM13 54h1v1h-1zM27 54h1v1h-1zM30 54h1v1h-1zM28 55h1v1h-1zM13 58h1v1h-1zM16 58h1v1h-1zM35 58h1v1h-1zM6 59h2v1h-2zM26 59h1v1h-1zM28 59h1v1h-1zM11 60h1v1h-1zM2 61h1v1h-1zM31 61h1v1h-1zM38 61h1v1h-1zM18 63h1v1h-1zM32 63h1v1h-1zM36 63h1v1h-1zM18 64h1v1h-1zM35 64h1v1h-1zM25 65h1v1h-1zM35 66h1v1h-1zM39 66h1v1h-1z"/>
<path fill="#4563fd" d="M9 0h1v1h-1zM17 1h1v1h-1zM15 2h1v1h-1zM13 3h1v1h-1zM9 5h1v1h-1zM19 7h1v1h-1zM16 8h1v1h-1zM3 9h1v1h-1zM8 13h1v1h-1zM10 13h2v1h-2zM19 14h1v1h-1zM6 15h1v1h-1zM4 16h1v1h-1zM10 17h1v1h-1zM12 17h1v1h-1zM1 19h1v1h-1zM14 20h1v1h-1zM0 23h1v1h-1zM2 23h1v1h-1zM4 23h1v1h-1zM4 24h1v1h-1zM17 24h1v1h-1zM1 27h1v1h-1zM3 27h1v1h-1zM20 30h2v1h-2zM12 31h1v1h-1zM18 31h1v1h-1zM6 32h1v1h-1zM8 32h1v1h-1zM17 32h1v1h-1zM37 32h2v1h-2zM30 33h1v1h-1zM1 35h1v1h-1zM6 35h1v1h-1zM3 37h1v1h-1zM26 37h1v1h-1zM5 38h1v1h-1zM9 38h1v1h-1zM15 38h1v1h-1zM20 38h1v1h-1zM27 38h1v1h-1zM20 39h1v1h-1zM24 39h1v1h-1zM11 40h1v1h-1zM15 40h1v1h-1zM35 40h1v1h-1zM11 41h1v1h-1zM21 42h1v1h-1zM10 43h1v1h-1zM28 43h1v1h-1zM22 44h1v1h-1zM27 44h1v1h-1zM31 44h1v1h-1zM5 45h1v1h-1zM25 46h1v1h-1zM0 47h1v1h-1zM21 47h1v1h-1zM18 48h1v1h-1zM34 48h1v1h-1zM1 49h1v1h-1zM3 49h1v1h-1zM9 49h1v1h-1zM34 50h1v1h-1zM38 50h1v1h-1zM10 51h1v1h-1zM40 51h1v1h-1zM30 52h1v1h-1zM34 52h1v1h-1zM5 53h1v1h-1zM13 53h1v1h-1zM15 53h1v1h-1zM22 53h1v1h-1zM29 53h1v1h-1zM38 53h1v1h-1zM8 54h1v1h-1zM39 54h1v1h-1zM10 55h1v1h-1zM22 55h1v1h-1zM2 58h1v1h-1zM17 59h1v1h-1zM37 59h1v1h-1zM21 60h1v1h-1zM25 60h1v1h-1zM28 60h1v1h-1zM33 61h2v1h-2zM16 62h1v1h-1zM9 63h1v1h-1zM26 63h1v1h-1zM30 63h1v1h-1zM27 67h1v1h-1z"/>
<path fill="#3875fe" d="M10 0h1v1h-1zM4 1h1v1h-1zM0 2h1v1h-1zM1 3h1v1h-1zM3 4h1v1h-1zM11 4h1v1h-1zM0 5h1v1h-1zM15 5h2v1h-2zM5 6h1v1h-1zM17 6h1v1h-1zM5 7h1v1h-1zM10 9h1v1h-1zM19 9h1v1h-1zM19 10h1v1h-1zM17 13h1v1h-1zM5 14h1v1h-1zM18 15h1v1h-1zM7 18h1v1h-1zM9 18h1v1h-1zM6 20h1v1h-1zM10 20h1v1h-1zM0 21h1v1h-1zM4 21h1v1h-1zM8 21h1v1h-1zM11 21h2v1h-2zM16 21h2v1h-2zM8 23h1v1h-1zM16 23h1v1h-1zM15 25h1v1h-1zM25 25h1v1h-1zM2 27h1v1h-1zM5 27h1v1h-1zM3 28h1v1h-1zM7 28h1v1h-1zM16 29h2v1h-2zM14 30h1v1h-1zM30 30h1v1h-1zM35 31h1v1h-1zM37 31h1v1h-1zM15 32h1v1h-1zM31 32h1v1h-1zM33 32h1v1h-1zM36 34h1v1h-1zM2 35h1v1h-1zM10 35h1v1h-1zM13 35h1v1h-1zM12 36h1v1h-1zM36 37h1v1h-1zM17 41h2v1h-2zM23 41h1v1h-1zM34 41h1v1h-1zM37 41h1v1h-1zM40 41h1v1h-1zM7 42h1v1h-1zM12 42h1v1h-1zM34 42h1v1h-1zM37 42h1v1h-1zM36 43h1v1h-1zM23 47h1v1h-1zM1 48h1v1h-1zM5 48h1v1h-1zM27 48h1v1h-1zM36 48h1v1h-1zM10 49h2v1h-2zM28 49h1v1h-1zM5 50h1v1h-1zM32 53h1v1h-1zM14 54h1v1h-1zM22 54h1v1h-1zM21 55h1v1h-1zM38 55h1v1h-1zM33 59h1v1h-1zM16 60h1v1h-1zM19 60h1v1h-1zM15 61h1v1h-1zM2 62h1v1h-1zM25 62h1v1h-1zM19 64h1v1h-1zM28 64h1v1h-1zM14 65h1v1h-1zM31 65h1v1h-1zM40 65h1v1h-1zM30 66h1v1h-1zM34 66h1v1h-1z"/>
<path fill="#327cfc" d="M8 0h1v1h-1zM7 2h1v1h-1zM14 2h1v1h-1zM17 2h1v1h-1zM10 3h1v1h-1zM20 3h1v1h-1zM13 4h1v1h-1zM1 5h1v1h-1zM11 6h1v1h-1zM13 6h1v1h-1zM4 7h1v1h-1zM7 7h1v1h-1zM11 8h1v1h-1zM14 8h1v1h-1zM9 13h1v1h-1zM3 15h1v1h-1zM13 17h1v1h-1zM15 17h1v1h-1zM2 18h1v1h-1zM12 18h1v1h-1zM36 18h1v1h-1zM12 19h1v1h-1zM37 19h1v1h-1zM1 21h1v1h-1zM6 21h1v1h-1zM17 22h1v1h-1zM35 23h1v1h-1zM8 24h1v1h-1zM8 25h1v1h-1zM11 27h1v1h-1zM19 27h1v1h-1zM0 28h1v1h-1zM8 28h1v1h-1zM19 28h1v1h-1zM19 29h1v1h-1zM26 30h1v1h-1zM37 30h1v1h-1zM15 31h1v1h-1zM23 31h1v1h-1zM23 32h1v1h-1zM35 32h1v1h-1zM2 33h1v1h-1zM7 35h1v1h-1zM21 35h1v1h-1zM24 37h2v1h-2zM28 39h1v1h-1zM20 40h1v1h-1zM0 41h1v1h-1zM2 41h1v1h-1zM13 41h1v1h-1zM15 41h1v1h-1zM28 41h1v1h-1zM38 41h1v1h-1zM0 42h1v1h-1zM31 45h1v1h-1zM31 47h1v1h-1zM0 48h1v1h-1zM12 48h1v1h-1zM15 48h1v1h-1zM23 48h1v1h-1zM25 48h1v1h-1zM15 49h1v1h-1zM29 49h1v1h-1zM2 50h1v1h-1zM12 53h1v1h-1zM32 54h1v1h-1zM5 55h1v1h-1zM30 55h2v1h-2zM5 58h1v1h-1zM40 59h1v1h-1zM7 60h1v1h-1zM13 60h1v1h-1zM27 60h1v1h-1zM36 60h1v1h-1zM17 61h1v1h-1zM20 62h2v1h-2zM26 62h2v1h-2zM33 62h1v1h-1zM10 63h1v1h-1zM25 63h1v1h-1zM39 64h1v1h-1zM1 65h1v1h-1zM7 65h1v1h-1zM21 65h2v1h-2zM32 65h1v1h-1zM27 66h1v1h-1zM31 66h1v1h-1zM36 66h1v1h-1z"/>
<path fill="#2f81fa" d="M12 2h1v1h-1zM8 5h1v1h-1zM10 5h1v1h-1zM16 6h1v1h-1zM13 7h1v1h-1zM8 8h1v1h-1zM12 10h1v1h-1zM16 12h1v1h-1zM2 13h1v1h-1zM16 13h1v1h-1zM20 13h1v1h-1zM7 14h1v1h-1zM10 14h1v1h-1zM13 15h1v1h-1zM36 16h1v1h-1zM6 17h1v1h-1zM8 17h1v1h-1zM17 17h1v1h-1zM1 18h1v1h-1zM10 18h1v1h-1zM7 22h1v1h-1zM17 23h1v1h-1zM18 24h1v1h-1zM13 25h1v1h-1zM7 26h1v1h-1zM0 27h1v1h-1zM7 27h2v1h-2zM23 27h1v1h-1zM1 28h1v1h-1zM22 28h1v1h-1zM27 29h1v1h-1zM25 30h1v1h-1zM29 30h1v1h-1zM2 31h1v1h-1zM14 31h1v1h-1zM32 32h1v1h-1zM39 32h1v1h-1zM2 34h1v1h-1zM0 35h1v1h-1zM35 38h1v1h-1zM20 41h1v1h-1zM29 41h1v1h-1zM31 41h1v1h-1zM29 42h1v1h-1zM27 45h1v1h-1zM22 48h1v1h-1zM26 48h1v1h-1zM2 49h1v1h-1zM12 49h1v1h-1zM30 49h1v1h-1zM14 50h1v1h-1zM28 53h1v1h-1zM33 53h1v1h-1zM36 53h1v1h-1zM39 53h1v1h-1zM1 54h1v1h-1zM31 54h1v1h-1zM33 55h2v1h-2zM9 59h1v1h-1zM8 60h1v1h-1zM15 60h1v1h-1zM38 60h1v1h-1zM6 61h2v1h-2zM26 61h1v1h-1zM28 61h1v1h-1zM37 62h1v1h-1zM1 63h1v1h-1zM21 63h1v1h-1zM2 64h1v1h-1zM19 65h1v1h-1zM36 65h1v1h-1zM39 65h1v1h-1zM21 66h1v1h-1zM26 67h1v1h-1z"/>
<path fill="#2e87f7" d="M10 2h1v1h-1zM16 2h1v1h-1zM11 3h1v1h-1zM19 3h1v1h-1zM12 5h1v1h-1zM4 6h1v1h-1zM10 6h1v1h-1zM20 6h1v1h-1zM6 7h1v1h-1zM14 7h1v1h-1zM16 9h1v1h-1zM10 10h1v1h-1zM17 12h1v1h-1zM15 13h1v1h-1zM8 14h1v1h-1zM18 14h1v1h-1zM1 15h1v1h-1zM7 15h1v1h-1zM0 18h1v1h-1zM4 18h2v1h-2zM11 18h1v1h-1zM0 19h1v1h-1zM2 19h1v1h-1zM10 19h1v1h-1zM11 20h1v1h-1zM9 21h1v1h-1zM9 22h1v1h-1zM12 22h1v1h-1zM15 22h1v1h-1zM7 23h1v1h-1zM21 24h1v1h-1zM29 24h1v1h-1zM24 25h1v1h-1zM11 28h1v1h-1zM40 30h1v1h-1zM24 31h1v1h-1zM33 31h1v1h-1zM1 32h1v1h-1zM24 32h1v1h-1zM0 36h1v1h-1zM8 36h1v1h-1zM4 38h1v1h-1zM13 40h1v1h-1zM30 41h1v1h-1zM35 41h1v1h-1zM36 42h1v1h-1zM34 43h1v1h-1zM34 45h1v1h-1zM2 48h1v1h-1zM16 48h1v1h-1zM32 48h2v1h-2zM26 49h1v1h-1zM33 49h1v1h-1zM36 49h1v1h-1zM15 50h1v1h-1zM18 50h1v1h-1zM39 50h1v1h-1zM11 53h1v1h-1zM25 53h1v1h-1zM28 54h1v1h-1zM0 55h1v1h-1zM24 55h1v1h-1zM26 55h1v1h-1zM0 60h1v1h-1zM10 60h1v1h-1zM20 60h1v1h-1zM14 61h1v1h-1zM31 62h1v1h-1zM11 63h1v1h-1zM3 64h1v1h-1zM25 64h1v1h-1zM27 64h1v1h-1zM30 64h1v1h-1zM24 65h1v1h-1zM34 65h1v1h-1zM4 66h1v1h-1zM21 68h1v1h-1z"/>
<path fill="#2d8cf3" d="M19 2h1v1h-1zM9 3h1v1h-1zM15 3h1v1h-1zM5 4h1v1h-1zM2 8h1v1h-1zM3 11h1v1h-1zM6 11h1v1h-1zM11 14h1v1h-1zM15 14h1v1h-1zM14 15h1v1h-1zM7 17h1v1h-1zM16 17h1v1h-1zM20 18h1v1h-1zM11 19h1v1h-1zM4 20h1v1h-1zM8 20h1v1h-1zM12 20h1v1h-1zM10 21h1v1h-1zM5 22h1v1h-1zM1 24h1v1h-1zM2 25h1v1h-1zM6 25h1v1h-1zM10 27h1v1h-1zM12 27h1v1h-1zM17 27h1v1h-1zM16 28h1v1h-1zM6 29h1v1h-1zM10 29h1v1h-1zM37 29h1v1h-1zM39 29h1v1h-1zM31 30h1v1h-1zM33 30h1v1h-1zM38 30h2v1h-2zM21 31h1v1h-1zM27 31h1v1h-1zM31 31h1v1h-1zM14 32h1v1h-1zM16 32h1v1h-1zM21 32h2v1h-2zM10 33h1v1h-1zM12 33h1v1h-1zM8 35h1v1h-1zM20 35h1v1h-1zM22 37h1v1h-1zM34 37h1v1h-1zM3 38h1v1h-1zM22 38h1v1h-1zM32 38h1v1h-1zM16 40h1v1h-1zM23 40h1v1h-1zM1 41h1v1h-1zM32 41h1v1h-1zM8 42h1v1h-1zM27 42h1v1h-1zM38 43h1v1h-1zM3 48h1v1h-1zM40 48h1v1h-1zM0 49h1v1h-1zM5 49h1v1h-1zM13 49h1v1h-1zM16 49h1v1h-1zM8 53h1v1h-1zM37 54h1v1h-1zM27 55h1v1h-1zM3 61h1v1h-1zM9 61h1v1h-1zM29 61h1v1h-1zM40 63h1v1h-1zM0 64h1v1h-1zM15 64h1v1h-1zM17 64h1v1h-1zM36 64h1v1h-1zM13 65h1v1h-1zM28 65h1v1h-1zM26 68h1v1h-1z"/>
<path fill="#2797eb" d="M20 2h1v1h-1zM8 3h1v1h-1zM16 7h1v1h-1zM20 7h1v1h-1zM9 8h1v1h-1zM11 12h1v1h-1zM6 14h1v1h-1zM3 18h1v1h-1zM8 19h1v1h-1zM16 19h1v1h-1zM18 19h1v1h-1zM15 21h1v1h-1zM4 25h1v1h-1zM9 25h1v1h-1zM16 25h1v1h-1zM11 26h1v1h-1zM31 27h1v1h-1zM39 28h1v1h-1zM8 29h1v1h-1zM32 30h1v1h-1zM32 31h1v1h-1zM27 32h1v1h-1zM4 33h1v1h-1zM26 35h1v1h-1zM35 35h1v1h-1zM38 35h1v1h-1zM10 36h1v1h-1zM2 40h2v1h-2zM16 41h1v1h-1zM22 41h1v1h-1zM24 41h1v1h-1zM35 42h1v1h-1zM9 48h2v1h-2zM31 48h1v1h-1zM18 49h1v1h-1zM31 49h1v1h-1zM40 60h1v1h-1zM3 62h1v1h-1zM5 62h1v1h-1zM14 62h1v1h-1zM3 63h1v1h-1zM4 64h1v1h-1zM11 64h1v1h-1zM14 64h1v1h-1zM5 65h1v1h-1zM16 65h1v1h-1zM29 65h1v1h-1zM0 66h1v1h-1zM20 66h1v1h-1z"/>
<path fill="#259be8" d="M0 3h1v1h-1zM7 11h1v1h-1zM0 12h1v1h-1zM2 12h1v1h-1zM8 12h1v1h-1zM0 14h1v1h-1zM12 14h1v1h-1zM38 14h1v1h-1zM9 16h1v1h-1zM29 17h1v1h-1zM15 19h1v1h-1zM17 20h1v1h-1zM1 22h1v1h-1zM6 22h1v1h-1zM13 22h1v1h-1zM21 23h1v1h-1zM23 24h1v1h-1zM0 25h1v1h-1zM7 25h1v1h-1zM14 25h1v1h-1zM23 25h1v1h-1zM13 27h1v1h-1zM40 27h1v1h-1zM17 28h1v1h-1zM9 29h1v1h-1zM31 29h1v1h-1zM24 30h1v1h-1zM24 35h1v1h-1zM36 35h1v1h-1zM3 36h1v1h-1zM8 40h1v1h-1zM30 42h1v1h-1zM7 48h1v1h-1zM11 48h1v1h-1zM14 48h1v1h-1zM35 48h1v1h-1zM7 49h1v1h-1zM25 49h1v1h-1zM11 55h1v1h-1zM6 63h1v1h-1zM11 65h2v1h-2zM27 65h1v1h-1zM30 65h1v1h-1zM9 66h2v1h-2zM16 66h1v1h-1zM27 68h1v1h-1z"/>
<path fill="#23a0e5" d="M14 1h1v1h-1zM18 3h1v1h-1zM11 5h1v1h-1zM3 6h1v1h-1zM1 7h1v1h-1zM17 7h1v1h-1zM19 8h1v1h-1zM1 10h1v1h-1zM3 10h1v1h-1zM7 10h1v1h-1zM13 10h1v1h-1zM1 11h1v1h-1zM9 12h1v1h-1zM3 14h1v1h-1zM20 14h1v1h-1zM16 15h1v1h-1zM35 18h1v1h-1zM16 20h1v1h-1zM14 21h1v1h-1zM18 21h1v1h-1zM14 22h1v1h-1zM38 22h1v1h-1zM1 25h1v1h-1zM3 25h1v1h-1zM14 26h1v1h-1zM15 27h1v1h-1zM30 27h1v1h-1zM10 28h1v1h-1zM13 28h1v1h-1zM7 29h1v1h-1zM22 31h1v1h-1zM4 36h1v1h-1zM6 36h1v1h-1zM9 36h1v1h-1zM15 36h1v1h-1zM23 36h1v1h-1zM33 36h1v1h-1zM37 36h1v1h-1zM2 42h2v1h-2zM28 48h2v1h-2zM38 48h1v1h-1zM8 49h1v1h-1zM37 49h1v1h-1zM17 62h1v1h-1zM28 62h1v1h-1zM36 62h1v1h-1zM38 62h1v1h-1zM7 64h1v1h-1zM9 64h1v1h-1zM16 64h1v1h-1zM14 66h1v1h-1zM23 67h1v1h-1z"/>
<path fill="#20a5e3" d="M10 1h1v1h-1zM11 2h1v1h-1zM13 2h1v1h-1zM12 9h1v1h-1zM5 10h2v1h-2zM9 10h1v1h-1zM12 13h1v1h-1zM31 14h1v1h-1zM9 19h1v1h-1zM5 20h1v1h-1zM16 22h1v1h-1zM10 23h1v1h-1zM18 23h1v1h-1zM40 31h1v1h-1zM7 33h1v1h-1zM31 35h1v1h-1zM7 36h1v1h-1zM40 36h1v1h-1zM4 42h1v1h-1zM15 42h1v1h-1zM31 42h1v1h-1zM8 48h1v1h-1zM1 50h1v1h-1zM12 55h1v1h-1zM3 60h1v1h-1zM14 60h1v1h-1zM34 60h1v1h-1zM30 62h1v1h-1zM5 63h1v1h-1zM5 64h1v1h-1zM8 64h1v1h-1zM17 65h1v1h-1zM17 66h1v1h-1zM33 68h1v1h-1z"/>
<path fill="#1ca9df" d="M11 1h2v1h-2zM18 2h1v1h-1zM17 5h1v1h-1zM15 7h1v1h-1zM13 8h1v1h-1zM11 10h1v1h-1zM21 13h1v1h-1zM2 14h1v1h-1zM17 14h1v1h-1zM4 15h2v1h-2zM11 17h1v1h-1zM4 22h1v1h-1zM10 22h1v1h-1zM19 22h1v1h-1zM5 23h1v1h-1zM31 23h1v1h-1zM33 23h1v1h-1zM17 25h1v1h-1zM2 28h1v1h-1zM12 28h1v1h-1zM32 29h1v1h-1zM36 29h1v1h-1zM22 30h1v1h-1zM4 32h1v1h-1zM26 32h1v1h-1zM3 33h1v1h-1zM37 33h1v1h-1zM11 35h1v1h-1zM17 36h1v1h-1zM34 36h2v1h-2zM19 40h1v1h-1zM19 41h1v1h-1zM33 41h1v1h-1zM19 42h2v1h-2zM40 42h1v1h-1zM6 48h1v1h-1zM13 48h1v1h-1zM17 49h1v1h-1zM3 55h1v1h-1zM6 60h1v1h-1zM9 60h1v1h-1zM30 60h1v1h-1zM1 62h1v1h-1zM13 62h1v1h-1zM6 65h1v1h-1zM37 65h1v1h-1zM25 66h1v1h-1zM40 66h1v1h-1z"/>
<path fill="#12b1d6" d="M2 0h1v1h-1zM25 1h1v1h-1zM18 5h1v1h-1zM0 6h2v1h-2zM8 7h1v1h-1zM5 9h1v1h-1zM4 14h1v1h-1zM5 16h1v1h-1zM5 21h1v1h-1zM28 24h1v1h-1zM20 25h1v1h-1zM39 27h1v1h-1zM40 29h1v1h-1zM36 31h1v1h-1zM6 33h1v1h-1zM25 33h1v1h-1zM29 36h2v1h-2zM36 38h1v1h-1zM5 42h1v1h-1zM9 42h1v1h-1zM30 48h1v1h-1zM39 49h1v1h-1zM39 55h1v1h-1zM4 60h1v1h-1zM10 62h1v1h-1zM23 62h1v1h-1zM32 62h1v1h-1zM39 62h1v1h-1zM2 66h1v1h-1z"/>
<path fill="#08b5d0" d="M2 7h1v1h-1zM18 7h1v1h-1zM19 11h1v1h-1zM35 11h1v1h-1zM1 12h1v1h-1zM13 12h1v1h-1zM1 14h1v1h-1zM1 16h1v1h-1zM8 16h1v1h-1zM15 16h1v1h-1zM17 19h1v1h-1zM20 19h1v1h-1zM36 19h1v1h-1zM25 20h1v1h-1zM13 21h1v1h-1zM19 24h2v1h-2zM18 25h1v1h-1zM21 25h1v1h-1zM3 26h1v1h-1zM22 27h1v1h-1zM5 28h1v1h-1zM21 28h1v1h-1zM38 28h1v1h-1zM2 29h2v1h-2zM18 29h1v1h-1zM35 29h1v1h-1zM25 31h2v1h-2zM36 32h1v1h-1zM20 33h1v1h-1zM32 34h1v1h-1zM22 35h1v1h-1zM33 35h1v1h-1zM31 36h1v1h-1zM40 40h1v1h-1zM14 42h1v1h-1zM24 48h1v1h-1zM9 62h1v1h-1zM34 62h1v1h-1zM1 64h1v1h-1zM6 64h1v1h-1zM29 64h1v1h-1zM2 65h1v1h-1zM23 66h1v1h-1zM37 66h1v1h-1z"/>
<path fill="#01b8ca" d="M12 0h1v1h-1zM1 1h1v1h-1zM23 1h1v1h-1zM14 10h1v1h-1zM22 14h1v1h-1zM18 16h1v1h-1zM4 19h1v1h-1zM1 20h1v1h-1zM7 21h1v1h-1zM20 22h1v1h-1zM40 22h1v1h-1zM35 28h1v1h-1zM1 29h1v1h-1zM4 29h1v1h-1zM28 30h1v1h-1zM30 31h1v1h-1zM34 31h1v1h-1zM22 33h1v1h-1zM25 35h1v1h-1zM32 35h1v1h-1zM37 35h1v1h-1zM39 35h1v1h-1zM1 36h2v1h-2zM5 36h1v1h-1zM21 36h1v1h-1zM39 40h1v1h-1zM16 42h1v1h-1zM39 42h1v1h-1zM8 62h1v1h-1zM15 62h1v1h-1zM18 62h1v1h-1zM33 64h1v1h-1zM4 65h1v1h-1zM29 66h1v1h-1z"/>
<path fill="#02bac3" d="M13 0h1v1h-1zM5 1h1v1h-1zM13 5h1v1h-1zM9 7h1v1h-1zM11 7h1v1h-1zM18 8h1v1h-1zM2 9h1v1h-1zM0 10h1v1h-1zM18 11h1v1h-1zM20 17h1v1h-1zM30 17h1v1h-1zM20 20h1v1h-1zM8 22h1v1h-1zM22 23h1v1h-1zM34 23h1v1h-1zM22 24h1v1h-1zM21 27h1v1h-1zM14 28h1v1h-1zM36 28h1v1h-1zM34 30h1v1h-1zM28 32h1v1h-1zM30 32h1v1h-1zM40 32h1v1h-1zM35 33h1v1h-1zM29 35h1v1h-1zM24 36h1v1h-1zM32 36h1v1h-1zM39 36h1v1h-1zM33 40h1v1h-1zM10 42h1v1h-1zM17 42h2v1h-2zM22 42h1v1h-1zM4 48h1v1h-1zM0 62h1v1h-1zM4 62h1v1h-1zM6 62h1v1h-1zM22 64h1v1h-1zM24 64h1v1h-1zM26 64h1v1h-1zM31 64h1v1h-1zM34 64h1v1h-1zM38 64h1v1h-1zM8 65h1v1h-1zM10 65h1v1h-1zM35 65h1v1h-1zM6 66h1v1h-1zM13 66h1v1h-1zM15 66h1v1h-1zM38 66h1v1h-1zM0 67h1v1h-1zM28 67h1v1h-1zM22 68h1v1h-1z"/>
<path fill="#0bbdbd" d="M0 1h1v1h-1zM13 1h1v1h-1zM16 10h1v1h-1zM10 11h1v1h-1zM3 12h1v1h-1zM10 12h1v1h-1zM13 13h1v1h-1zM38 13h1v1h-1zM20 15h1v1h-1zM37 15h1v1h-1zM28 17h1v1h-1zM0 20h1v1h-1zM19 20h1v1h-1zM19 21h1v1h-1zM11 22h1v1h-1zM37 22h1v1h-1zM37 23h1v1h-1zM24 24h1v1h-1zM5 25h1v1h-1zM39 25h1v1h-1zM32 27h1v1h-1zM37 27h1v1h-1zM27 28h1v1h-1zM37 28h1v1h-1zM27 30h1v1h-1zM16 34h1v1h-1zM28 35h1v1h-1zM25 36h1v1h-1zM38 36h1v1h-1zM33 42h1v1h-1zM39 48h1v1h-1zM12 62h1v1h-1zM15 65h1v1h-1zM22 67h1v1h-1zM32 67h2v1h-2zM28 68h1v1h-1z"/>
<path fill="#31c69f" d="M10 8h1v1h-1zM13 11h1v1h-1zM14 12h1v1h-1zM38 15h1v1h-1zM27 17h1v1h-1zM37 18h1v1h-1zM39 18h1v1h-1zM20 21h1v1h-1zM30 25h1v1h-1zM16 26h1v1h-1zM29 27h1v1h-1zM34 27h1v1h-1zM0 29h1v1h-1zM15 29h1v1h-1zM0 34h1v1h-1zM30 34h1v1h-1zM34 35h1v1h-1zM35 62h1v1h-1zM23 68h1v1h-1z"/>
<path fill="#37c897" d="M33 4h1v1h-1zM12 12h1v1h-1zM21 14h1v1h-1zM31 17h1v1h-1zM38 18h1v1h-1zM22 19h1v1h-1zM39 19h1v1h-1zM22 22h1v1h-1zM11 25h1v1h-1zM32 25h1v1h-1zM38 27h1v1h-1zM4 28h1v1h-1zM23 33h1v1h-1zM14 34h1v1h-1zM30 35h1v1h-1zM11 42h1v1h-1zM25 42h1v1h-1zM39 67h1v1h-1z"/>
<path fill="#3fca8e" d="M8 1h1v1h-1zM24 1h1v1h-1zM1 2h1v1h-1zM39 5h1v1h-1zM22 6h1v1h-1zM10 7h1v1h-1zM4 10h1v1h-1zM23 14h1v1h-1zM21 15h1v1h-1zM14 16h1v1h-1zM21 17h1v1h-1zM34 19h1v1h-1zM36 21h1v1h-1zM36 22h1v1h-1zM31 24h1v1h-1zM33 24h1v1h-1zM19 25h1v1h-1zM22 25h1v1h-1zM28 25h1v1h-1zM24 27h2v1h-2zM36 27h1v1h-1zM23 28h1v1h-1zM13 29h1v1h-1zM9 33h1v1h-1zM24 42h1v1h-1zM26 42h1v1h-1zM38 42h1v1h-1zM12 60h1v1h-1zM11 62h1v1h-1zM1 66h1v1h-1zM3 66h1v1h-1zM1 67h1v1h-1zM9 67h1v1h-1z"/>
<path fill="#4acb84" d="M14 0h1v1h-1zM15 11h1v1h-1zM38 11h1v1h-1zM21 19h1v1h-1zM38 19h1v1h-1zM7 20h1v1h-1zM26 21h1v1h-1zM39 24h1v1h-1zM0 26h1v1h-1zM17 26h1v1h-1zM33 27h1v1h-1zM12 29h1v1h-1zM33 29h1v1h-1zM19 33h1v1h-1zM3 34h1v1h-1zM19 34h1v1h-1zM11 36h1v1h-1zM36 36h1v1h-1zM31 40h1v1h-1zM7 62h1v1h-1zM29 62h1v1h-1zM40 62h1v1h-1zM12 64h1v1h-1zM9 65h1v1h-1zM5 66h1v1h-1zM32 68h1v1h-1z"/>
<path fill="#57cc7a" d="M21 7h1v1h-1zM16 18h1v1h-1zM34 24h1v1h-1zM29 25h1v1h-1zM35 25h2v1h-2zM2 26h1v1h-1zM15 26h1v1h-1zM38 29h1v1h-1zM16 33h1v1h-1zM33 33h1v1h-1zM33 34h1v1h-1zM23 35h1v1h-1zM27 35h1v1h-1zM40 35h1v1h-1zM23 42h1v1h-1zM8 66h1v1h-1zM22 66h1v1h-1zM30 68h1v1h-1zM39 68h1v1h-1z"/>
<path fill="#9dc943" d="M17 0h2v1h-2zM9 9h1v1h-1zM23 15h1v1h-1zM10 16h1v1h-1zM18 17h1v1h-1zM39 20h1v1h-1zM34 21h1v1h-1zM27 23h1v1h-1zM26 24h1v1h-1zM30 24h1v1h-1zM36 24h1v1h-1zM4 26h1v1h-1zM25 29h1v1h-1zM26 33h1v1h-1zM10 64h1v1h-1zM32 64h1v1h-1zM19 67h1v1h-1z"/>
<path fill="#abc739" d="M15 0h1v1h-1zM21 3h1v1h-1zM6 8h1v1h-1zM17 10h1v1h-1zM2 11h1v1h-1zM17 11h1v1h-1zM36 11h1v1h-1zM6 12h1v1h-1zM30 14h1v1h-1zM22 17h1v1h-1zM33 19h1v1h-1zM40 19h1v1h-1zM3 20h1v1h-1zM13 20h1v1h-1zM21 21h1v1h-1zM30 21h1v1h-1zM38 21h1v1h-1zM31 22h1v1h-1zM29 23h1v1h-1zM38 24h1v1h-1zM27 25h1v1h-1zM31 25h1v1h-1zM37 25h1v1h-1zM13 34h1v1h-1zM35 34h1v1h-1zM40 64h1v1h-1zM0 65h1v1h-1z"/>
<path fill="#b9c431" d="M22 1h1v1h-1zM34 4h1v1h-1zM15 12h1v1h-1zM22 13h1v1h-1zM24 14h1v1h-1zM39 15h1v1h-1zM19 16h1v1h-1zM18 20h1v1h-1zM2 21h1v1h-1zM32 21h1v1h-1zM18 22h1v1h-1zM28 22h1v1h-1zM12 26h1v1h-1zM30 28h1v1h-1zM40 28h1v1h-1zM14 29h1v1h-1zM28 29h1v1h-1zM30 29h1v1h-1zM18 33h1v1h-1zM28 36h1v1h-1zM30 67h1v1h-1zM0 68h1v1h-1z"/>
<path fill="#c5c22a" d="M4 0h1v1h-1zM7 8h1v1h-1zM39 11h1v1h-1zM7 13h1v1h-1zM30 15h1v1h-1zM7 16h1v1h-1zM23 17h2v1h-2zM34 18h1v1h-1zM23 20h1v1h-1zM38 20h1v1h-1zM30 23h1v1h-1zM38 23h1v1h-1zM25 24h1v1h-1zM32 24h1v1h-1zM34 25h1v1h-1zM35 27h1v1h-1zM34 28h1v1h-1zM21 29h1v1h-1zM27 36h1v1h-1zM20 67h1v1h-1zM34 67h1v1h-1z"/>
<path fill="#d1bf27" d="M19 1h1v1h-1zM26 1h1v1h-1zM15 4h1v1h-1zM18 10h1v1h-1zM40 15h1v1h-1zM12 16h1v1h-1zM35 17h1v1h-1zM17 18h1v1h-1zM15 20h1v1h-1zM24 21h1v1h-1zM28 21h1v1h-1zM40 21h1v1h-1zM33 22h1v1h-1zM26 23h1v1h-1zM28 27h1v1h-1zM25 28h1v1h-1zM34 29h1v1h-1zM0 33h1v1h-1zM15 33h1v1h-1zM13 36h1v1h-1zM22 36h1v1h-1zM13 64h1v1h-1zM34 68h1v1h-1z"/>
<path fill="#f0ba36" d="M40 5h1v1h-1zM29 8h1v1h-1zM8 9h1v1h-1zM40 11h1v1h-1zM19 17h1v1h-1zM30 19h1v1h-1zM22 20h1v1h-1zM33 20h1v1h-1zM26 22h1v1h-1zM40 23h1v1h-1zM40 24h1v1h-1zM33 25h1v1h-1zM27 27h1v1h-1zM40 33h1v1h-1zM7 66h1v1h-1zM36 67h2v1h-2z"/>
<path fill="#f8ba3d" d="M19 0h1v1h-1zM20 10h1v1h-1zM16 11h1v1h-1zM37 11h1v1h-1zM6 13h1v1h-1zM36 15h1v1h-1zM3 16h1v1h-1zM32 17h1v1h-1zM28 23h1v1h-1zM26 25h1v1h-1zM38 25h1v1h-1zM29 28h1v1h-1zM32 28h1v1h-1zM29 29h1v1h-1zM12 34h1v1h-1zM14 67h1v1h-1zM29 67h1v1h-1zM19 68h1v1h-1zM24 68h1v1h-1zM35 68h1v1h-1zM37 68h1v1h-1z"/>
<path fill="#febe3c" d="M16 0h1v1h-1zM6 1h1v1h-1zM0 8h1v1h-1zM28 15h1v1h-1zM37 16h1v1h-1zM30 18h1v1h-1zM33 21h1v1h-1zM0 22h1v1h-1zM2 22h1v1h-1zM23 23h3v1h-3zM40 25h1v1h-1zM13 26h1v1h-1zM34 26h1v1h-1zM26 27h1v1h-1zM24 28h1v1h-1zM8 33h1v1h-1zM21 33h1v1h-1zM34 33h1v1h-1zM35 67h1v1h-1zM36 68h1v1h-1zM38 68h1v1h-1z"/>
<path fill="#fec338" d="M34 11h1v1h-1zM5 12h1v1h-1zM38 12h1v1h-1zM22 15h1v1h-1zM32 15h1v1h-1zM33 18h1v1h-1zM26 20h1v1h-1zM36 20h1v1h-1zM32 22h1v1h-1zM35 22h1v1h-1zM35 24h1v1h-1zM37 24h1v1h-1zM27 26h1v1h-1zM2 67h2v1h-2zM24 67h2v1h-2zM40 67h1v1h-1z"/>
<path fill="#fec934" d="M20 1h1v1h-1zM21 6h1v1h-1zM7 9h1v1h-1zM34 20h1v1h-1zM27 21h1v1h-1zM34 22h1v1h-1zM27 24h1v1h-1zM6 26h1v1h-1zM33 28h1v1h-1zM20 29h1v1h-1zM14 33h1v1h-1zM38 34h1v1h-1zM26 36h1v1h-1zM11 66h2v1h-2zM38 67h1v1h-1zM20 68h1v1h-1zM25 68h1v1h-1zM29 68h1v1h-1zM40 68h1v1h-1z"/>
<path fill="#f6ef20" d="M27 0h1v1h-1zM30 0h1v1h-1zM27 1h2v1h-2zM33 1h1v1h-1zM36 1h1v1h-1zM21 2h2v1h-2zM24 2h1v1h-1zM37 2h2v1h-2zM40 2h1v1h-1zM25 3h1v1h-1zM29 3h1v1h-1zM6 4h1v1h-1zM20 4h1v1h-1zM25 4h2v1h-2zM30 4h1v1h-1zM32 4h1v1h-1zM40 4h1v1h-1zM19 5h1v1h-1zM30 6h1v1h-1zM32 6h1v1h-1zM38 6h1v1h-1zM30 7h1v1h-1zM20 8h1v1h-1zM22 8h2v1h-2zM25 8h1v1h-1zM28 8h1v1h-1zM30 8h1v1h-1zM32 8h1v1h-1zM37 8h1v1h-1zM39 8h1v1h-1zM15 9h1v1h-1zM32 9h4v1h-4zM37 9h2v1h-2zM22 10h1v1h-1zM25 10h1v1h-1zM32 10h1v1h-1zM39 10h1v1h-1zM20 11h1v1h-1zM24 11h1v1h-1zM29 11h1v1h-1zM21 12h1v1h-1zM23 12h1v1h-1zM27 12h1v1h-1zM32 13h1v1h-1zM36 13h1v1h-1zM25 14h1v1h-1zM29 14h1v1h-1zM32 14h1v1h-1zM27 15h1v1h-1zM31 15h1v1h-1zM21 16h1v1h-1zM24 16h2v1h-2zM27 16h3v1h-3zM25 17h1v1h-1zM40 18h1v1h-1zM32 19h1v1h-1zM37 21h1v1h-1zM39 21h1v1h-1zM21 22h1v1h-1zM25 22h1v1h-1zM32 23h1v1h-1zM36 23h1v1h-1zM8 26h1v1h-1zM10 26h1v1h-1zM26 26h1v1h-1zM28 26h2v1h-2zM28 28h1v1h-1zM31 28h1v1h-1zM26 29h1v1h-1zM11 33h1v1h-1zM29 33h1v1h-1zM39 33h1v1h-1zM5 34h2v1h-2zM9 34h1v1h-1zM11 34h1v1h-1zM25 34h1v1h-1zM31 34h1v1h-1zM6 67h2v1h-2zM12 67h1v1h-1zM3 68h1v1h-1zM5 68h1v1h-1zM10 68h1v1h-1zM14 68h1v1h-1z"/>
<path fill="#f9fb15" d="M3 0h1v1h-1zM6 0h1v1h-1zM20 0h7v1h-7zM28 0h2v1h-2zM31 0h10v1h-10zM9 1h1v1h-1zM18 1h1v1h-1zM21 1h1v1h-1zM29 1h4v1h-4zM34 1h2v1h-2zM37 1h4v1h-4zM23 2h1v1h-1zM25 2h12v1h-12zM39 2h1v1h-1zM22 3h3v1h-3zM26 3h3v1h-3zM30 3h11v1h-11zM8 4h3v1h-3zM14 4h1v1h-1zM16 4h4v1h-4zM21 4h4v1h-4zM27 4h3v1h-3zM31 4h1v1h-1zM35 4h5v1h-5zM20 5h19v1h-19zM23 6h7v1h-7zM31 6h1v1h-1zM33 6h5v1h-5zM39 6h2v1h-2zM22 7h8v1h-8zM31 7h10v1h-10zM21 8h1v1h-1zM24 8h1v1h-1zM26 8h2v1h-2zM31 8h1v1h-1zM33 8h4v1h-4zM38 8h1v1h-1zM40 8h1v1h-1zM1 9h1v1h-1zM11 9h1v1h-1zM13 9h2v1h-2zM17 9h2v1h-2zM20 9h12v1h-12zM36 9h1v1h-1zM39 9h2v1h-2zM21 10h1v1h-1zM23 10h2v1h-2zM26 10h6v1h-6zM33 10h6v1h-6zM40 10h1v1h-1zM0 11h1v1h-1zM11 11h1v1h-1zM21 11h3v1h-3zM25 11h4v1h-4zM30 11h4v1h-4zM18 12h3v1h-3zM22 12h1v1h-1zM24 12h3v1h-3zM28 12h10v1h-10zM39 12h2v1h-2zM3 13h3v1h-3zM14 13h1v1h-1zM23 13h9v1h-9zM33 13h3v1h-3zM37 13h1v1h-1zM39 13h2v1h-2zM26 14h3v1h-3zM33 14h5v1h-5zM39 14h2v1h-2zM24 15h3v1h-3zM29 15h1v1h-1zM33 15h3v1h-3zM0 16h1v1h-1zM13 16h1v1h-1zM16 16h2v1h-2zM20 16h1v1h-1zM22 16h2v1h-2zM26 16h1v1h-1zM30 16h6v1h-6zM38 16h3v1h-3zM26 17h1v1h-1zM33 17h2v1h-2zM36 17h5v1h-5zM21 18h9v1h-9zM31 18h2v1h-2zM23 19h7v1h-7zM31 19h1v1h-1zM21 20h1v1h-1zM24 20h1v1h-1zM27 20h6v1h-6zM35 20h1v1h-1zM37 20h1v1h-1zM40 20h1v1h-1zM22 21h2v1h-2zM25 21h1v1h-1zM29 21h1v1h-1zM31 21h1v1h-1zM35 21h1v1h-1zM23 22h2v1h-2zM27 22h1v1h-1zM29 22h2v1h-2zM39 22h1v1h-1zM39 23h1v1h-1zM5 26h1v1h-1zM9 26h1v1h-1zM18 26h8v1h-8zM30 26h4v1h-4zM35 26h6v1h-6zM26 28h1v1h-1zM22 29h3v1h-3zM5 33h1v1h-1zM13 33h1v1h-1zM17 33h1v1h-1zM24 33h1v1h-1zM27 33h2v1h-2zM31 33h2v1h-2zM38 33h1v1h-1zM4 34h1v1h-1zM7 34h2v1h-2zM15 34h1v1h-1zM20 34h5v1h-5zM26 34h4v1h-4zM34 34h1v1h-1zM37 34h1v1h-1zM39 34h2v1h-2zM34 40h1v1h-1zM4 67h2v1h-2zM8 67h1v1h-1zM10 67h2v1h-2zM13 67h1v1h-1zM15 67h4v1h-4zM31 67h1v1h-1zM1 68h2v1h-2zM4 68h1v1h-1zM6 68h4v1h-4zM11 68h3v1h-3zM15 68h4v1h-4zM31 68h1v1h-1z"/>
</g>
<g transform="translate(839.20,835.30) scale(6.4000,4.0632)" shape-rendering="crispEdges">
<path fill="#3e26a8" d="M18 1h1v1h-1zM8 6h1v1h-1zM13 6h1v1h-1zM18 9h1v1h-1zM19 10h1v1h-1zM3 12h2v1h-2zM6 12h1v1h-1zM9 12h1v1h-1zM12 12h2v1h-2zM17 12h2v1h-2zM2 14h1v1h-1zM18 14h2v1h-2zM0 16h1v1h-1zM12 16h1v1h-1zM16 17h1v1h-1zM5 22h1v1h-1zM15 22h1v1h-1zM13 23h1v1h-1zM14 27h1v1h-1zM8 30h1v1h-1zM16 32h1v1h-1zM15 37h1v1h-1zM14 38h1v1h-1zM16 38h1v1h-1zM1 40h1v1h-1zM8 40h1v1h-1zM1 41h1v1h-1zM9 42h1v1h-1zM5 44h1v1h-1zM22 44h1v1h-1zM5 45h1v1h-1zM7 45h1v1h-1zM10 45h2v1h-2zM16 45h1v1h-1zM19 45h1v1h-1zM11 46h1v1h-1zM17 46h1v1h-1zM10 47h2v1h-2zM13 47h1v1h-1zM4 48h1v1h-1zM9 48h1v1h-1zM13 48h1v1h-1zM0 49h1v1h-1zM8 49h1v1h-1zM10 49h1v1h-1zM11 50h1v1h-1zM13 50h1v1h-1zM1 51h1v1h-1zM5 51h1v1h-1zM9 51h1v1h-1zM18 51h1v1h-1zM21 51h1v1h-1zM0 53h1v1h-1zM2 53h1v1h-1zM10 53h1v1h-1zM14 53h1v1h-1zM18 53h1v1h-1zM4 55h1v1h-1zM10 55h1v1h-1zM13 55h1v1h-1zM1 56h1v1h-1zM3 56h1v1h-1zM7 56h2v1h-2zM10 56h1v1h-1zM21 56h1v1h-1zM4 57h1v1h-1zM26 57h1v1h-1zM29 57h1v1h-1zM16 58h1v1h-1zM2 59h2v1h-2zM6 59h2v1h-2zM9 59h1v1h-1zM30 59h1v1h-1zM0 60h2v1h-2zM10 60h1v1h-1zM21 60h1v1h-1zM5 61h1v1h-1zM19 61h1v1h-1zM21 61h1v1h-1zM3 62h1v1h-1zM13 62h2v1h-2zM40 62h1v1h-1zM1 63h1v1h-1zM7 63h1v1h-1zM23 63h1v1h-1zM33 63h1v1h-1zM37 63h1v1h-1zM39 63h1v1h-1zM4 64h1v1h-1zM9 64h1v1h-1zM13 64h1v1h-1zM15 64h1v1h-1zM39 64h1v1h-1zM7 65h1v1h-1zM15 66h2v1h-2zM19 66h1v1h-1zM31 66h1v1h-1zM1 67h1v1h-1zM3 67h3v1h-3zM8 67h1v1h-1zM12 67h1v1h-1zM17 67h1v1h-1zM20 67h1v1h-1zM30 67h1v1h-1z"/>
<path fill="#402ab4" d="M8 0h1v1h-1zM4 4h1v1h-1zM10 9h1v1h-1zM15 9h1v1h-1zM16 14h1v1h-1zM14 15h1v1h-1zM13 16h1v1h-1zM11 17h1v1h-1zM13 38h1v1h-1zM3 40h1v1h-1zM4 44h1v1h-1zM36 44h1v1h-1zM6 45h1v1h-1zM0 47h1v1h-1zM2 47h1v1h-1zM15 48h1v1h-1zM8 51h1v1h-1zM11 51h1v1h-1zM18 52h1v1h-1zM7 53h1v1h-1zM16 53h1v1h-1zM19 53h1v1h-1zM1 55h1v1h-1zM12 55h1v1h-1zM29 55h1v1h-1zM0 56h1v1h-1zM23 56h1v1h-1zM25 56h1v1h-1zM33 56h1v1h-1zM36 56h1v1h-1zM1 57h1v1h-1zM7 57h1v1h-1zM22 57h1v1h-1zM1 59h1v1h-1zM8 59h1v1h-1zM14 59h1v1h-1zM19 59h1v1h-1zM11 60h1v1h-1zM13 61h1v1h-1zM0 62h1v1h-1zM34 62h1v1h-1zM6 63h1v1h-1zM12 63h1v1h-1zM18 63h1v1h-1zM3 64h1v1h-1zM10 64h1v1h-1zM12 64h1v1h-1zM19 64h1v1h-1zM30 64h1v1h-1zM5 65h1v1h-1zM0 67h1v1h-1zM31 67h1v1h-1z"/>
<path fill="#422ec0" d="M7 10h1v1h-1zM2 12h1v1h-1zM18 16h1v1h-1zM10 22h1v1h-1zM11 30h1v1h-1zM5 37h1v1h-1zM12 41h1v1h-1zM2 42h1v1h-1zM5 42h1v1h-1zM4 45h1v1h-1zM2 46h1v1h-1zM14 47h1v1h-1zM6 48h1v1h-1zM10 48h1v1h-1zM1 50h1v1h-1zM7 50h1v1h-1zM31 50h1v1h-1zM15 51h1v1h-1zM19 51h1v1h-1zM4 53h1v1h-1zM6 53h1v1h-1zM13 53h1v1h-1zM15 53h1v1h-1zM2 56h1v1h-1zM17 56h1v1h-1zM29 56h2v1h-2zM38 56h1v1h-1zM40 56h1v1h-1zM12 58h1v1h-1zM11 59h1v1h-1zM23 59h1v1h-1zM6 60h2v1h-2zM23 61h1v1h-1zM28 61h1v1h-1zM0 63h1v1h-1zM13 63h1v1h-1zM31 63h2v1h-2zM34 63h1v1h-1zM11 64h1v1h-1zM37 64h1v1h-1zM16 65h1v1h-1zM4 66h2v1h-2zM39 66h1v1h-1zM9 67h1v1h-1zM11 67h1v1h-1z"/>
<path fill="#4332cb" d="M15 6h1v1h-1zM8 11h1v1h-1zM8 12h1v1h-1zM16 12h1v1h-1zM0 14h1v1h-1zM3 16h1v1h-1zM16 23h1v1h-1zM7 30h1v1h-1zM16 40h1v1h-1zM4 41h1v1h-1zM0 42h1v1h-1zM2 43h1v1h-1zM1 45h1v1h-1zM12 47h1v1h-1zM0 48h1v1h-1zM3 51h1v1h-1zM8 53h1v1h-1zM11 53h1v1h-1zM37 53h1v1h-1zM0 55h1v1h-1zM5 55h3v1h-3zM15 55h1v1h-1zM17 55h1v1h-1zM9 56h1v1h-1zM14 57h1v1h-1zM19 57h1v1h-1zM31 57h1v1h-1zM38 57h1v1h-1zM15 59h1v1h-1zM37 59h1v1h-1zM39 59h1v1h-1zM5 60h1v1h-1zM8 60h1v1h-1zM31 60h1v1h-1zM0 61h1v1h-1zM9 61h1v1h-1zM18 61h1v1h-1zM8 63h1v1h-1zM15 63h1v1h-1zM17 63h1v1h-1zM7 64h1v1h-1zM13 65h1v1h-1zM31 65h1v1h-1zM13 66h1v1h-1zM26 66h1v1h-1zM7 67h1v1h-1zM13 67h1v1h-1zM37 67h1v1h-1zM40 67h1v1h-1z"/>
<path fill="#4537d5" d="M16 6h1v1h-1zM17 8h1v1h-1zM19 9h1v1h-1zM15 10h1v1h-1zM0 13h1v1h-1zM4 14h1v1h-1zM7 15h1v1h-1zM14 16h1v1h-1zM2 17h1v1h-1zM13 22h1v1h-1zM0 23h1v1h-1zM6 23h1v1h-1zM14 23h2v1h-2zM10 27h1v1h-1zM0 28h1v1h-1zM3 29h1v1h-1zM7 31h1v1h-1zM6 32h1v1h-1zM13 32h1v1h-1zM1 33h1v1h-1zM6 33h1v1h-1zM9 34h1v1h-1zM7 35h1v1h-1zM10 35h1v1h-1zM9 37h1v1h-1zM18 37h1v1h-1zM12 38h1v1h-1zM0 40h1v1h-1zM14 41h1v1h-1zM17 41h1v1h-1zM16 42h2v1h-2zM21 42h1v1h-1zM14 43h1v1h-1zM9 45h1v1h-1zM1 46h1v1h-1zM16 46h1v1h-1zM15 47h1v1h-1zM18 47h2v1h-2zM19 48h1v1h-1zM2 50h2v1h-2zM2 52h1v1h-1zM17 52h1v1h-1zM30 53h1v1h-1zM38 53h1v1h-1zM2 54h1v1h-1zM14 54h1v1h-1zM37 54h2v1h-2zM14 55h1v1h-1zM23 55h1v1h-1zM5 56h1v1h-1zM16 56h1v1h-1zM32 56h1v1h-1zM34 56h1v1h-1zM37 56h1v1h-1zM6 57h1v1h-1zM23 57h1v1h-1zM36 57h1v1h-1zM40 57h1v1h-1zM11 58h1v1h-1zM0 59h1v1h-1zM31 59h1v1h-1zM4 60h1v1h-1zM12 60h1v1h-1zM19 60h1v1h-1zM33 60h1v1h-1zM39 60h2v1h-2zM11 61h1v1h-1zM36 63h1v1h-1zM8 64h1v1h-1zM14 64h1v1h-1zM28 64h1v1h-1zM23 65h1v1h-1zM20 66h1v1h-1zM23 66h1v1h-1zM32 66h1v1h-1zM35 66h1v1h-1zM14 67h2v1h-2zM23 67h1v1h-1zM27 67h1v1h-1z"/>
<path fill="#463cde" d="M1 2h1v1h-1zM3 6h1v1h-1zM18 6h1v1h-1zM2 9h1v1h-1zM8 9h1v1h-1zM4 11h1v1h-1zM12 11h1v1h-1zM1 12h1v1h-1zM14 12h1v1h-1zM16 13h1v1h-1zM3 15h1v1h-1zM8 15h1v1h-1zM13 18h1v1h-1zM18 25h1v1h-1zM37 25h1v1h-1zM3 26h1v1h-1zM16 26h1v1h-1zM7 27h1v1h-1zM12 27h1v1h-1zM4 28h1v1h-1zM4 30h1v1h-1zM12 30h1v1h-1zM15 32h1v1h-1zM0 33h1v1h-1zM5 33h1v1h-1zM14 33h1v1h-1zM17 33h1v1h-1zM19 34h1v1h-1zM13 35h1v1h-1zM8 38h2v1h-2zM11 38h1v1h-1zM18 38h2v1h-2zM19 40h1v1h-1zM13 41h1v1h-1zM15 41h1v1h-1zM13 42h2v1h-2zM11 44h1v1h-1zM0 45h1v1h-1zM3 46h1v1h-1zM5 46h1v1h-1zM13 46h1v1h-1zM16 47h1v1h-1zM3 49h1v1h-1zM9 50h1v1h-1zM17 50h1v1h-1zM6 51h1v1h-1zM10 51h1v1h-1zM17 51h1v1h-1zM33 51h1v1h-1zM1 53h1v1h-1zM3 53h1v1h-1zM24 53h1v1h-1zM32 53h1v1h-1zM31 56h1v1h-1zM35 56h1v1h-1zM39 56h1v1h-1zM34 57h1v1h-1zM2 58h1v1h-1zM26 59h1v1h-1zM32 59h1v1h-1zM3 60h1v1h-1zM1 61h1v1h-1zM6 61h1v1h-1zM32 61h1v1h-1zM17 62h1v1h-1zM22 62h1v1h-1zM9 63h1v1h-1zM29 63h1v1h-1zM35 63h1v1h-1zM17 65h1v1h-1zM22 65h1v1h-1zM26 65h1v1h-1zM12 66h1v1h-1zM24 66h1v1h-1zM6 67h1v1h-1zM16 67h1v1h-1zM24 67h1v1h-1zM29 67h1v1h-1zM33 67h1v1h-1zM35 67h1v1h-1z"/>
<path fill="#4741e5" d="M4 0h1v1h-1zM12 3h1v1h-1zM0 6h2v1h-2zM12 6h1v1h-1zM19 6h1v1h-1zM2 8h1v1h-1zM11 8h1v1h-1zM13 8h1v1h-1zM11 9h1v1h-1zM14 9h1v1h-1zM17 9h1v1h-1zM11 12h1v1h-1zM3 14h1v1h-1zM7 14h1v1h-1zM13 14h1v1h-1zM15 15h1v1h-1zM7 16h1v1h-1zM0 17h1v1h-1zM5 17h1v1h-1zM13 17h1v1h-1zM15 17h1v1h-1zM9 18h1v1h-1zM2 19h1v1h-1zM6 19h1v1h-1zM9 19h1v1h-1zM1 21h1v1h-1zM11 23h1v1h-1zM17 23h1v1h-1zM38 25h1v1h-1zM2 26h1v1h-1zM8 26h1v1h-1zM17 28h1v1h-1zM0 30h1v1h-1zM21 30h1v1h-1zM10 33h1v1h-1zM13 33h1v1h-1zM12 35h1v1h-1zM7 37h2v1h-2zM6 38h1v1h-1zM6 40h1v1h-1zM9 40h1v1h-1zM13 40h1v1h-1zM9 41h1v1h-1zM11 41h1v1h-1zM4 42h1v1h-1zM7 42h1v1h-1zM19 42h1v1h-1zM4 43h1v1h-1zM6 44h1v1h-1zM15 44h1v1h-1zM3 45h1v1h-1zM0 46h1v1h-1zM3 48h1v1h-1zM5 48h1v1h-1zM4 50h1v1h-1zM12 50h1v1h-1zM18 50h1v1h-1zM21 50h2v1h-2zM0 51h1v1h-1zM7 51h1v1h-1zM13 51h2v1h-2zM30 51h1v1h-1zM4 52h1v1h-1zM23 53h1v1h-1zM0 54h1v1h-1zM18 55h1v1h-1zM33 55h1v1h-1zM6 56h1v1h-1zM22 56h1v1h-1zM10 57h1v1h-1zM16 57h1v1h-1zM21 57h1v1h-1zM35 57h1v1h-1zM14 58h1v1h-1zM31 58h1v1h-1zM5 59h1v1h-1zM24 59h1v1h-1zM9 60h1v1h-1zM14 60h2v1h-2zM38 60h1v1h-1zM2 61h1v1h-1zM4 61h1v1h-1zM7 61h1v1h-1zM24 61h1v1h-1zM30 62h1v1h-1zM2 63h3v1h-3zM28 63h1v1h-1zM30 63h1v1h-1zM38 63h1v1h-1zM34 64h1v1h-1zM1 65h1v1h-1zM1 66h1v1h-1zM40 66h1v1h-1zM26 67h1v1h-1z"/>
<path fill="#4747eb" d="M9 6h1v1h-1zM8 7h1v1h-1zM5 9h1v1h-1zM10 12h1v1h-1zM15 12h1v1h-1zM12 13h1v1h-1zM19 13h1v1h-1zM11 14h1v1h-1zM17 14h1v1h-1zM0 15h2v1h-2zM12 15h1v1h-1zM1 16h1v1h-1zM17 16h1v1h-1zM1 17h1v1h-1zM11 19h1v1h-1zM0 20h1v1h-1zM3 21h1v1h-1zM2 22h1v1h-1zM4 22h1v1h-1zM11 22h1v1h-1zM1 23h1v1h-1zM9 26h2v1h-2zM8 27h1v1h-1zM5 28h1v1h-1zM8 28h2v1h-2zM10 30h1v1h-1zM15 33h1v1h-1zM2 40h1v1h-1zM10 40h1v1h-1zM12 40h1v1h-1zM18 40h1v1h-1zM2 41h1v1h-1zM12 42h1v1h-1zM18 43h1v1h-1zM7 44h1v1h-1zM15 45h1v1h-1zM17 45h2v1h-2zM8 47h1v1h-1zM2 48h1v1h-1zM8 48h1v1h-1zM9 49h1v1h-1zM0 50h1v1h-1zM14 50h1v1h-1zM37 50h1v1h-1zM31 51h1v1h-1zM36 51h1v1h-1zM5 53h1v1h-1zM21 53h1v1h-1zM9 54h1v1h-1zM38 55h1v1h-1zM12 56h2v1h-2zM0 57h1v1h-1zM15 57h1v1h-1zM18 57h1v1h-1zM24 57h1v1h-1zM37 57h1v1h-1zM6 58h1v1h-1zM17 58h2v1h-2zM10 59h1v1h-1zM17 59h1v1h-1zM21 59h1v1h-1zM38 59h1v1h-1zM17 60h1v1h-1zM26 60h1v1h-1zM29 60h1v1h-1zM12 61h1v1h-1zM14 61h1v1h-1zM31 61h1v1h-1zM33 61h2v1h-2zM19 62h1v1h-1zM10 63h1v1h-1zM14 63h1v1h-1zM21 63h2v1h-2zM24 63h1v1h-1zM0 64h2v1h-2zM17 64h1v1h-1zM27 64h1v1h-1zM29 64h1v1h-1zM31 64h1v1h-1zM35 64h1v1h-1zM40 64h1v1h-1zM8 65h1v1h-1zM11 65h1v1h-1zM14 65h1v1h-1zM32 65h1v1h-1zM0 66h1v1h-1zM11 66h1v1h-1zM18 66h1v1h-1zM29 66h1v1h-1zM38 66h1v1h-1zM32 67h1v1h-1z"/>
<path fill="#484df0" d="M2 0h1v1h-1zM15 2h1v1h-1zM7 3h1v1h-1zM14 3h2v1h-2zM4 6h2v1h-2zM4 8h1v1h-1zM6 8h1v1h-1zM9 8h2v1h-2zM4 9h1v1h-1zM7 9h1v1h-1zM8 10h1v1h-1zM6 11h1v1h-1zM9 11h1v1h-1zM13 11h1v1h-1zM7 12h1v1h-1zM2 13h3v1h-3zM17 13h1v1h-1zM1 14h1v1h-1zM5 14h2v1h-2zM6 15h1v1h-1zM11 15h1v1h-1zM8 16h1v1h-1zM10 16h1v1h-1zM3 17h2v1h-2zM6 17h1v1h-1zM8 17h2v1h-2zM6 18h1v1h-1zM3 19h2v1h-2zM14 19h1v1h-1zM16 19h1v1h-1zM10 20h1v1h-1zM19 21h1v1h-1zM6 22h1v1h-1zM12 22h1v1h-1zM14 22h1v1h-1zM18 22h1v1h-1zM8 23h1v1h-1zM19 23h1v1h-1zM1 24h1v1h-1zM0 26h1v1h-1zM4 26h1v1h-1zM3 27h1v1h-1zM16 27h1v1h-1zM1 28h1v1h-1zM7 28h1v1h-1zM14 28h3v1h-3zM0 29h1v1h-1zM9 29h1v1h-1zM2 30h2v1h-2zM15 30h3v1h-3zM19 31h1v1h-1zM1 32h1v1h-1zM14 32h1v1h-1zM2 33h1v1h-1zM4 33h1v1h-1zM7 33h1v1h-1zM9 33h1v1h-1zM16 33h1v1h-1zM21 33h1v1h-1zM24 33h1v1h-1zM2 35h1v1h-1zM4 35h1v1h-1zM11 35h1v1h-1zM16 35h1v1h-1zM3 37h1v1h-1zM17 37h1v1h-1zM3 38h3v1h-3zM10 38h1v1h-1zM15 38h1v1h-1zM10 39h1v1h-1zM7 40h1v1h-1zM14 40h1v1h-1zM5 41h1v1h-1zM10 41h1v1h-1zM16 41h1v1h-1zM18 41h1v1h-1zM10 42h1v1h-1zM40 42h1v1h-1zM0 43h1v1h-1zM10 43h1v1h-1zM15 43h1v1h-1zM19 43h1v1h-1zM3 44h1v1h-1zM9 44h1v1h-1zM2 45h1v1h-1zM4 46h1v1h-1zM6 46h1v1h-1zM8 46h1v1h-1zM10 46h1v1h-1zM19 46h1v1h-1zM22 46h1v1h-1zM25 46h1v1h-1zM28 46h1v1h-1zM1 47h1v1h-1zM3 47h1v1h-1zM7 47h1v1h-1zM9 47h1v1h-1zM17 47h1v1h-1zM39 47h1v1h-1zM7 48h1v1h-1zM12 48h1v1h-1zM17 48h1v1h-1zM1 49h1v1h-1zM7 49h1v1h-1zM15 49h1v1h-1zM18 49h3v1h-3zM5 50h1v1h-1zM15 50h2v1h-2zM19 50h1v1h-1zM23 50h1v1h-1zM28 50h1v1h-1zM32 50h1v1h-1zM2 51h1v1h-1zM16 51h1v1h-1zM27 51h1v1h-1zM32 51h1v1h-1zM35 51h1v1h-1zM14 52h1v1h-1zM9 53h1v1h-1zM17 53h1v1h-1zM8 54h1v1h-1zM16 54h2v1h-2zM2 55h2v1h-2zM8 55h2v1h-2zM36 55h2v1h-2zM39 55h1v1h-1zM14 56h1v1h-1zM19 56h1v1h-1zM24 56h1v1h-1zM28 56h1v1h-1zM9 57h1v1h-1zM11 57h1v1h-1zM13 58h1v1h-1zM15 58h1v1h-1zM29 58h1v1h-1zM4 59h1v1h-1zM12 59h1v1h-1zM22 59h1v1h-1zM34 59h1v1h-1zM2 60h1v1h-1zM13 60h1v1h-1zM16 60h1v1h-1zM22 60h2v1h-2zM30 60h1v1h-1zM35 60h1v1h-1zM37 60h1v1h-1zM3 61h1v1h-1zM15 61h1v1h-1zM29 61h2v1h-2zM36 61h2v1h-2zM39 61h1v1h-1zM1 62h1v1h-1zM4 62h1v1h-1zM6 62h1v1h-1zM9 62h2v1h-2zM16 62h1v1h-1zM29 62h1v1h-1zM11 63h1v1h-1zM16 63h1v1h-1zM19 63h1v1h-1zM25 63h1v1h-1zM2 64h1v1h-1zM20 64h1v1h-1zM24 64h1v1h-1zM32 64h2v1h-2zM18 65h1v1h-1zM20 65h2v1h-2zM24 65h1v1h-1zM40 65h1v1h-1zM9 66h1v1h-1zM14 66h1v1h-1zM17 66h1v1h-1zM28 66h1v1h-1zM34 66h1v1h-1zM37 66h1v1h-1zM2 67h1v1h-1zM21 67h2v1h-2zM25 67h1v1h-1zM34 67h1v1h-1z"/>
<path fill="#4852f4" d="M12 0h1v1h-1zM10 1h1v1h-1zM17 6h1v1h-1zM13 7h1v1h-1zM3 8h1v1h-1zM5 8h1v1h-1zM21 8h1v1h-1zM16 9h1v1h-1zM5 10h2v1h-2zM0 11h1v1h-1zM10 11h1v1h-1zM15 13h1v1h-1zM9 15h2v1h-2zM14 17h1v1h-1zM0 19h1v1h-1zM5 19h1v1h-1zM1 20h1v1h-1zM14 20h1v1h-1zM0 21h1v1h-1zM2 21h1v1h-1zM18 21h1v1h-1zM3 22h1v1h-1zM2 23h1v1h-1zM5 26h1v1h-1zM13 27h1v1h-1zM12 28h1v1h-1zM1 30h1v1h-1zM9 30h1v1h-1zM3 31h1v1h-1zM2 32h1v1h-1zM11 32h1v1h-1zM12 33h1v1h-1zM34 33h1v1h-1zM37 33h1v1h-1zM8 35h2v1h-2zM17 38h1v1h-1zM18 39h1v1h-1zM31 41h1v1h-1zM3 43h1v1h-1zM8 43h1v1h-1zM12 43h1v1h-1zM13 45h1v1h-1zM30 46h1v1h-1zM5 47h1v1h-1zM14 48h1v1h-1zM13 49h1v1h-1zM20 50h1v1h-1zM30 50h1v1h-1zM35 50h1v1h-1zM39 51h2v1h-2zM26 53h1v1h-1zM39 53h1v1h-1zM10 54h1v1h-1zM20 55h1v1h-1zM25 55h2v1h-2zM34 55h1v1h-1zM18 56h1v1h-1zM5 57h1v1h-1zM13 57h1v1h-1zM17 57h1v1h-1zM20 57h1v1h-1zM28 57h1v1h-1zM33 57h1v1h-1zM3 58h1v1h-1zM20 59h1v1h-1zM33 59h1v1h-1zM27 60h1v1h-1zM34 60h1v1h-1zM8 61h1v1h-1zM10 61h1v1h-1zM25 61h1v1h-1zM7 62h1v1h-1zM15 62h1v1h-1zM25 62h1v1h-1zM28 62h1v1h-1zM27 63h1v1h-1zM40 63h1v1h-1zM22 64h1v1h-1zM8 66h1v1h-1zM19 67h1v1h-1zM36 67h1v1h-1zM38 67h1v1h-1z"/>
<path fill="#4758f8" d="M11 1h3v1h-3zM9 2h1v1h-1zM0 4h1v1h-1zM17 7h1v1h-1zM0 8h1v1h-1zM12 8h1v1h-1zM16 8h1v1h-1zM1 9h1v1h-1zM9 9h1v1h-1zM13 9h1v1h-1zM0 10h1v1h-1zM2 10h1v1h-1zM4 10h1v1h-1zM10 10h2v1h-2zM14 10h1v1h-1zM16 10h1v1h-1zM39 10h1v1h-1zM7 11h1v1h-1zM17 11h2v1h-2zM5 12h1v1h-1zM5 13h1v1h-1zM10 13h2v1h-2zM8 14h1v1h-1zM18 15h1v1h-1zM5 16h1v1h-1zM10 17h1v1h-1zM7 19h1v1h-1zM18 19h2v1h-2zM4 21h1v1h-1zM1 22h1v1h-1zM9 22h1v1h-1zM4 23h2v1h-2zM9 23h1v1h-1zM39 23h1v1h-1zM17 26h1v1h-1zM19 26h1v1h-1zM37 26h1v1h-1zM4 27h1v1h-1zM17 27h1v1h-1zM10 28h1v1h-1zM18 28h1v1h-1zM5 29h1v1h-1zM33 29h1v1h-1zM5 30h1v1h-1zM18 30h1v1h-1zM0 32h1v1h-1zM5 32h1v1h-1zM12 32h1v1h-1zM3 33h1v1h-1zM8 33h1v1h-1zM3 35h1v1h-1zM4 37h1v1h-1zM10 37h1v1h-1zM13 37h1v1h-1zM40 37h1v1h-1zM7 38h1v1h-1zM33 38h1v1h-1zM16 39h1v1h-1zM5 40h1v1h-1zM6 41h1v1h-1zM11 42h1v1h-1zM7 43h1v1h-1zM11 43h1v1h-1zM1 44h1v1h-1zM8 45h1v1h-1zM4 47h1v1h-1zM6 47h1v1h-1zM1 48h1v1h-1zM17 49h1v1h-1zM8 50h1v1h-1zM10 50h1v1h-1zM36 50h1v1h-1zM29 51h1v1h-1zM40 53h1v1h-1zM11 55h1v1h-1zM16 55h1v1h-1zM30 55h2v1h-2zM4 56h1v1h-1zM11 56h1v1h-1zM15 56h1v1h-1zM26 56h2v1h-2zM2 57h2v1h-2zM25 57h1v1h-1zM39 57h1v1h-1zM8 58h1v1h-1zM16 59h1v1h-1zM18 59h1v1h-1zM28 59h1v1h-1zM36 60h1v1h-1zM17 61h1v1h-1zM27 61h1v1h-1zM2 62h1v1h-1zM11 62h1v1h-1zM21 62h1v1h-1zM36 62h1v1h-1zM5 63h1v1h-1zM5 64h1v1h-1zM21 64h1v1h-1zM23 64h1v1h-1zM27 65h3v1h-3zM25 66h1v1h-1zM39 67h1v1h-1z"/>
<path fill="#465efb" d="M11 0h1v1h-1zM15 1h1v1h-1zM11 3h1v1h-1zM14 4h1v1h-1zM12 5h1v1h-1zM7 6h1v1h-1zM18 7h1v1h-1zM19 8h1v1h-1zM12 10h2v1h-2zM1 11h1v1h-1zM8 13h2v1h-2zM18 13h1v1h-1zM2 15h1v1h-1zM5 15h1v1h-1zM2 16h1v1h-1zM4 16h1v1h-1zM9 16h1v1h-1zM16 16h1v1h-1zM12 17h1v1h-1zM2 20h1v1h-1zM18 20h1v1h-1zM8 21h1v1h-1zM3 23h1v1h-1zM1 26h1v1h-1zM7 26h1v1h-1zM12 26h1v1h-1zM14 26h1v1h-1zM0 27h1v1h-1zM2 27h1v1h-1zM5 27h1v1h-1zM15 27h1v1h-1zM18 27h1v1h-1zM2 29h1v1h-1zM6 30h1v1h-1zM14 30h1v1h-1zM9 32h1v1h-1zM19 33h1v1h-1zM38 33h1v1h-1zM0 35h1v1h-1zM14 35h1v1h-1zM6 37h1v1h-1zM19 37h1v1h-1zM18 42h1v1h-1zM39 42h1v1h-1zM6 43h1v1h-1zM14 45h1v1h-1zM12 46h1v1h-1zM11 49h2v1h-2zM21 49h1v1h-1zM26 49h1v1h-1zM40 50h1v1h-1zM4 51h1v1h-1zM20 51h1v1h-1zM12 52h1v1h-1zM22 53h1v1h-1zM31 53h1v1h-1zM35 53h1v1h-1zM1 54h1v1h-1zM34 54h1v1h-1zM36 54h1v1h-1zM21 55h1v1h-1zM32 55h1v1h-1zM20 56h1v1h-1zM8 57h1v1h-1zM0 58h1v1h-1zM5 58h1v1h-1zM22 58h1v1h-1zM37 58h1v1h-1zM18 60h1v1h-1zM28 60h1v1h-1zM26 61h1v1h-1zM35 61h1v1h-1zM18 62h1v1h-1zM27 62h1v1h-1zM31 62h1v1h-1zM35 62h1v1h-1zM20 63h1v1h-1zM26 63h1v1h-1zM18 64h1v1h-1zM36 64h1v1h-1zM38 64h1v1h-1zM0 65h1v1h-1zM3 65h1v1h-1zM9 65h1v1h-1zM19 65h1v1h-1zM39 65h1v1h-1zM30 66h1v1h-1zM36 66h1v1h-1zM18 67h1v1h-1zM28 67h1v1h-1z"/>
<path fill="#4563fd" d="M18 3h1v1h-1zM10 5h1v1h-1zM2 6h1v1h-1zM1 8h1v1h-1zM7 8h1v1h-1zM0 9h1v1h-1zM3 9h1v1h-1zM6 9h1v1h-1zM12 9h1v1h-1zM17 10h2v1h-2zM5 11h1v1h-1zM11 11h1v1h-1zM14 11h2v1h-2zM19 12h1v1h-1zM1 13h1v1h-1zM6 13h1v1h-1zM10 14h1v1h-1zM12 14h1v1h-1zM14 14h1v1h-1zM4 15h1v1h-1zM16 15h2v1h-2zM19 15h1v1h-1zM7 17h1v1h-1zM15 18h1v1h-1zM10 19h1v1h-1zM12 19h1v1h-1zM15 19h1v1h-1zM17 19h1v1h-1zM16 20h1v1h-1zM19 20h1v1h-1zM0 22h1v1h-1zM7 22h2v1h-2zM19 22h1v1h-1zM18 23h1v1h-1zM15 25h1v1h-1zM11 26h1v1h-1zM13 26h1v1h-1zM18 26h1v1h-1zM11 27h1v1h-1zM3 28h1v1h-1zM6 28h1v1h-1zM1 29h1v1h-1zM7 29h1v1h-1zM4 32h1v1h-1zM8 32h1v1h-1zM1 35h1v1h-1zM0 37h1v1h-1zM2 37h1v1h-1zM12 37h1v1h-1zM0 38h1v1h-1zM2 38h1v1h-1zM4 40h1v1h-1zM15 40h1v1h-1zM21 40h1v1h-1zM0 41h1v1h-1zM19 41h1v1h-1zM1 42h1v1h-1zM3 42h1v1h-1zM15 42h1v1h-1zM5 43h1v1h-1zM8 44h1v1h-1zM12 45h1v1h-1zM7 46h1v1h-1zM14 46h1v1h-1zM18 46h1v1h-1zM23 46h1v1h-1zM11 48h1v1h-1zM5 49h1v1h-1zM14 49h1v1h-1zM16 49h1v1h-1zM6 50h1v1h-1zM37 51h2v1h-2zM0 52h1v1h-1zM5 52h1v1h-1zM16 52h1v1h-1zM12 53h1v1h-1zM29 53h1v1h-1zM33 53h1v1h-1zM36 53h1v1h-1zM12 54h1v1h-1zM28 55h1v1h-1zM32 57h1v1h-1zM7 58h1v1h-1zM13 59h1v1h-1zM29 59h1v1h-1zM35 59h2v1h-2zM40 59h1v1h-1zM25 60h1v1h-1zM20 61h1v1h-1zM22 61h1v1h-1zM40 61h1v1h-1zM23 62h1v1h-1zM38 62h1v1h-1zM16 64h1v1h-1zM25 64h2v1h-2zM30 65h1v1h-1zM35 65h1v1h-1zM3 66h1v1h-1zM7 66h1v1h-1zM21 66h2v1h-2zM10 67h1v1h-1z"/>
<path fill="#3875fe" d="M13 0h1v1h-1zM6 2h1v1h-1zM10 3h1v1h-1zM17 4h1v1h-1zM16 5h1v1h-1zM4 7h1v1h-1zM8 8h1v1h-1zM15 8h1v1h-1zM18 8h1v1h-1zM20 8h1v1h-1zM22 8h1v1h-1zM1 10h1v1h-1zM0 12h1v1h-1zM14 13h1v1h-1zM9 14h1v1h-1zM6 16h1v1h-1zM15 16h1v1h-1zM11 18h2v1h-2zM9 21h1v1h-1zM16 21h1v1h-1zM38 21h1v1h-1zM17 22h1v1h-1zM15 26h1v1h-1zM25 26h2v1h-2zM33 26h1v1h-1zM4 29h1v1h-1zM6 29h1v1h-1zM12 29h1v1h-1zM19 30h1v1h-1zM17 32h3v1h-3zM27 33h1v1h-1zM39 33h1v1h-1zM12 34h1v1h-1zM32 35h1v1h-1zM1 37h1v1h-1zM33 37h1v1h-1zM32 38h1v1h-1zM0 39h1v1h-1zM11 40h1v1h-1zM29 40h1v1h-1zM3 41h1v1h-1zM40 41h1v1h-1zM8 42h1v1h-1zM9 43h1v1h-1zM13 43h1v1h-1zM10 44h1v1h-1zM13 44h1v1h-1zM17 44h1v1h-1zM33 44h1v1h-1zM39 45h1v1h-1zM20 46h1v1h-1zM31 47h1v1h-1zM33 47h1v1h-1zM31 48h1v1h-1zM39 48h1v1h-1zM4 49h1v1h-1zM30 49h1v1h-1zM33 49h1v1h-1zM24 55h1v1h-1zM40 55h1v1h-1zM27 57h1v1h-1zM25 59h1v1h-1zM20 60h1v1h-1zM32 60h1v1h-1zM36 65h1v1h-1zM27 66h1v1h-1z"/>
<path fill="#327cfc" d="M9 0h1v1h-1zM6 3h1v1h-1zM2 4h2v1h-2zM6 6h1v1h-1zM34 6h1v1h-1zM1 7h1v1h-1zM11 7h1v1h-1zM38 12h1v1h-1zM13 15h1v1h-1zM20 15h1v1h-1zM1 19h1v1h-1zM6 21h1v1h-1zM10 21h1v1h-1zM17 21h1v1h-1zM16 22h1v1h-1zM20 23h1v1h-1zM16 25h1v1h-1zM2 28h1v1h-1zM13 28h1v1h-1zM21 29h1v1h-1zM34 29h1v1h-1zM25 30h1v1h-1zM28 30h1v1h-1zM1 31h1v1h-1zM26 33h1v1h-1zM31 33h1v1h-1zM17 35h1v1h-1zM33 35h1v1h-1zM40 35h1v1h-1zM1 38h1v1h-1zM35 38h1v1h-1zM5 39h1v1h-1zM20 40h1v1h-1zM7 41h1v1h-1zM38 43h1v1h-1zM12 44h1v1h-1zM26 44h1v1h-1zM15 46h1v1h-1zM32 46h1v1h-1zM21 47h1v1h-1zM29 47h1v1h-1zM2 49h1v1h-1zM12 51h1v1h-1zM11 52h1v1h-1zM35 52h1v1h-1zM27 53h1v1h-1zM13 54h1v1h-1zM25 54h1v1h-1zM9 58h1v1h-1zM23 58h1v1h-1zM30 58h1v1h-1zM39 58h1v1h-1zM33 62h1v1h-1zM37 62h1v1h-1zM12 65h1v1h-1zM6 66h1v1h-1zM10 66h1v1h-1z"/>
<path fill="#2f81fa" d="M1 1h1v1h-1zM5 3h1v1h-1zM6 5h1v1h-1zM17 5h1v1h-1zM10 6h1v1h-1zM14 8h1v1h-1zM29 12h1v1h-1zM40 12h1v1h-1zM20 16h1v1h-1zM8 18h1v1h-1zM8 19h1v1h-1zM36 19h2v1h-2zM13 20h1v1h-1zM15 20h1v1h-1zM11 21h2v1h-2zM10 23h1v1h-1zM7 25h1v1h-1zM23 26h1v1h-1zM27 26h1v1h-1zM1 27h1v1h-1zM11 28h1v1h-1zM18 29h1v1h-1zM13 30h1v1h-1zM3 32h1v1h-1zM7 32h1v1h-1zM6 35h1v1h-1zM19 35h1v1h-1zM36 35h1v1h-1zM12 36h1v1h-1zM24 36h1v1h-1zM11 37h1v1h-1zM16 37h1v1h-1zM40 40h1v1h-1zM8 41h1v1h-1zM29 41h1v1h-1zM6 42h1v1h-1zM1 43h1v1h-1zM16 44h1v1h-1zM24 44h1v1h-1zM37 44h1v1h-1zM37 46h2v1h-2zM40 46h1v1h-1zM23 47h1v1h-1zM37 47h1v1h-1zM40 47h1v1h-1zM35 48h1v1h-1zM6 49h1v1h-1zM22 49h2v1h-2zM35 49h1v1h-1zM37 49h3v1h-3zM34 50h1v1h-1zM28 53h1v1h-1zM34 53h1v1h-1zM5 54h1v1h-1zM26 54h1v1h-1zM29 54h1v1h-1zM35 54h1v1h-1zM35 55h1v1h-1zM12 57h1v1h-1zM24 58h1v1h-1zM32 58h1v1h-1zM24 60h1v1h-1zM32 62h1v1h-1zM6 64h1v1h-1zM2 66h1v1h-1z"/>
<path fill="#2e87f7" d="M8 1h1v1h-1zM11 2h1v1h-1zM8 3h1v1h-1zM6 4h1v1h-1zM11 6h1v1h-1zM0 7h1v1h-1zM27 9h1v1h-1zM9 10h1v1h-1zM2 11h2v1h-2zM35 12h1v1h-1zM7 13h1v1h-1zM11 16h1v1h-1zM36 16h1v1h-1zM36 18h1v1h-1zM7 21h1v1h-1zM14 21h2v1h-2zM12 23h1v1h-1zM12 24h1v1h-1zM32 25h1v1h-1zM9 27h1v1h-1zM33 28h1v1h-1zM19 29h1v1h-1zM18 31h1v1h-1zM39 31h1v1h-1zM10 32h1v1h-1zM20 32h1v1h-1zM11 33h1v1h-1zM18 33h1v1h-1zM20 33h1v1h-1zM10 36h1v1h-1zM14 36h1v1h-1zM30 37h1v1h-1zM17 40h1v1h-1zM24 40h1v1h-1zM35 40h1v1h-1zM38 40h2v1h-2zM20 41h1v1h-1zM37 41h1v1h-1zM32 42h1v1h-1zM34 42h1v1h-1zM20 43h1v1h-1zM35 43h1v1h-1zM0 44h1v1h-1zM31 44h1v1h-1zM31 45h1v1h-1zM40 45h1v1h-1zM36 46h1v1h-1zM39 46h1v1h-1zM20 47h1v1h-1zM30 47h1v1h-1zM20 48h1v1h-1zM22 48h1v1h-1zM32 48h1v1h-1zM25 49h1v1h-1zM29 49h1v1h-1zM34 49h1v1h-1zM40 49h1v1h-1zM39 50h1v1h-1zM28 51h1v1h-1zM34 51h1v1h-1zM23 52h1v1h-1zM20 53h1v1h-1zM25 53h1v1h-1zM11 54h1v1h-1zM24 54h1v1h-1zM32 54h1v1h-1zM19 55h1v1h-1zM27 55h1v1h-1zM30 57h1v1h-1zM21 58h1v1h-1zM38 58h1v1h-1zM40 58h1v1h-1zM16 61h1v1h-1zM12 62h1v1h-1zM39 62h1v1h-1zM15 65h1v1h-1zM25 65h1v1h-1z"/>
<path fill="#2d8cf3" d="M5 1h1v1h-1zM3 2h1v1h-1zM8 4h3v1h-3zM14 6h1v1h-1zM7 7h1v1h-1zM29 7h2v1h-2zM20 9h1v1h-1zM3 10h1v1h-1zM15 14h1v1h-1zM29 15h1v1h-1zM19 16h1v1h-1zM21 17h1v1h-1zM20 19h1v1h-1zM3 20h1v1h-1zM21 20h1v1h-1zM13 21h1v1h-1zM7 23h1v1h-1zM13 25h1v1h-1zM17 25h1v1h-1zM6 26h1v1h-1zM32 26h1v1h-1zM6 27h1v1h-1zM32 28h1v1h-1zM14 29h1v1h-1zM30 29h1v1h-1zM30 30h1v1h-1zM0 31h1v1h-1zM9 31h1v1h-1zM11 31h1v1h-1zM32 33h1v1h-1zM35 33h1v1h-1zM2 34h1v1h-1zM17 34h1v1h-1zM5 35h1v1h-1zM18 35h1v1h-1zM34 37h1v1h-1zM39 38h1v1h-1zM15 39h1v1h-1zM36 40h1v1h-1zM21 41h1v1h-1zM30 41h1v1h-1zM22 42h1v1h-1zM26 42h1v1h-1zM33 42h1v1h-1zM25 47h1v1h-1zM16 48h1v1h-1zM27 49h1v1h-1zM31 49h1v1h-1zM24 50h2v1h-2zM29 50h1v1h-1zM38 50h1v1h-1zM22 51h1v1h-1zM15 54h1v1h-1zM28 58h1v1h-1zM33 58h1v1h-1zM27 59h1v1h-1zM8 62h1v1h-1zM4 65h1v1h-1zM6 65h1v1h-1zM34 65h1v1h-1zM37 65h1v1h-1zM33 66h1v1h-1z"/>
<path fill="#2797eb" d="M17 1h1v1h-1zM13 3h1v1h-1zM23 6h1v1h-1zM31 7h1v1h-1zM36 9h1v1h-1zM40 10h1v1h-1zM33 12h1v1h-1zM37 15h1v1h-1zM40 16h1v1h-1zM17 17h1v1h-1zM18 18h1v1h-1zM20 18h1v1h-1zM25 18h1v1h-1zM28 18h1v1h-1zM26 19h1v1h-1zM38 19h1v1h-1zM4 20h1v1h-1zM6 20h1v1h-1zM34 20h1v1h-1zM5 21h1v1h-1zM32 21h1v1h-1zM20 22h1v1h-1zM30 22h1v1h-1zM30 23h1v1h-1zM37 23h1v1h-1zM8 25h2v1h-2zM34 26h1v1h-1zM39 27h1v1h-1zM40 28h1v1h-1zM15 29h1v1h-1zM34 30h1v1h-1zM40 30h1v1h-1zM36 31h1v1h-1zM21 32h1v1h-1zM28 32h1v1h-1zM40 32h1v1h-1zM28 33h1v1h-1zM5 34h1v1h-1zM40 34h1v1h-1zM21 35h1v1h-1zM23 35h1v1h-1zM34 35h1v1h-1zM39 35h1v1h-1zM1 36h1v1h-1zM13 36h1v1h-1zM21 38h1v1h-1zM3 39h1v1h-1zM12 39h1v1h-1zM37 40h1v1h-1zM27 41h1v1h-1zM31 42h1v1h-1zM17 43h1v1h-1zM22 43h3v1h-3zM30 43h1v1h-1zM33 43h1v1h-1zM40 43h1v1h-1zM23 44h1v1h-1zM34 44h1v1h-1zM20 45h3v1h-3zM26 45h1v1h-1zM32 45h2v1h-2zM37 45h2v1h-2zM28 48h1v1h-1zM36 48h1v1h-1zM28 49h1v1h-1zM32 49h1v1h-1zM25 51h1v1h-1zM1 52h1v1h-1zM9 52h1v1h-1zM20 52h1v1h-1zM30 52h1v1h-1zM40 52h1v1h-1zM7 54h1v1h-1zM1 58h1v1h-1zM5 62h1v1h-1zM24 62h1v1h-1zM10 65h1v1h-1zM33 65h1v1h-1z"/>
<path fill="#259be8" d="M13 2h1v1h-1zM32 4h1v1h-1zM5 7h1v1h-1zM12 7h1v1h-1zM37 9h1v1h-1zM20 10h1v1h-1zM16 11h1v1h-1zM20 11h1v1h-1zM27 11h1v1h-1zM39 15h1v1h-1zM37 16h1v1h-1zM18 17h1v1h-1zM20 17h1v1h-1zM22 17h1v1h-1zM26 17h1v1h-1zM2 18h2v1h-2zM27 19h1v1h-1zM33 19h1v1h-1zM39 20h1v1h-1zM23 22h1v1h-1zM39 22h1v1h-1zM28 24h1v1h-1zM36 24h1v1h-1zM11 25h1v1h-1zM24 26h1v1h-1zM28 26h1v1h-1zM30 26h1v1h-1zM39 26h1v1h-1zM22 28h1v1h-1zM24 28h1v1h-1zM29 28h1v1h-1zM8 29h1v1h-1zM38 30h1v1h-1zM34 32h1v1h-1zM22 35h1v1h-1zM35 35h1v1h-1zM4 36h1v1h-1zM35 36h1v1h-1zM23 38h1v1h-1zM30 38h1v1h-1zM40 38h1v1h-1zM22 40h1v1h-1zM27 40h1v1h-1zM32 40h1v1h-1zM23 41h1v1h-1zM28 41h1v1h-1zM33 41h1v1h-1zM35 41h1v1h-1zM38 41h1v1h-1zM30 42h1v1h-1zM29 43h1v1h-1zM34 43h1v1h-1zM2 44h1v1h-1zM18 44h2v1h-2zM21 44h1v1h-1zM28 44h1v1h-1zM23 45h1v1h-1zM9 46h1v1h-1zM34 46h1v1h-1zM35 47h1v1h-1zM38 47h1v1h-1zM23 48h2v1h-2zM27 48h1v1h-1zM36 49h1v1h-1zM27 50h1v1h-1zM21 52h1v1h-1zM34 52h1v1h-1zM39 52h1v1h-1zM18 54h1v1h-1zM31 54h1v1h-1zM22 55h1v1h-1z"/>
<path fill="#23a0e5" d="M10 0h1v1h-1zM4 3h1v1h-1zM37 7h1v1h-1zM23 8h1v1h-1zM21 9h1v1h-1zM24 9h1v1h-1zM19 11h1v1h-1zM33 15h1v1h-1zM39 16h1v1h-1zM10 18h1v1h-1zM13 19h1v1h-1zM22 19h1v1h-1zM25 22h1v1h-1zM40 23h1v1h-1zM10 24h1v1h-1zM15 24h1v1h-1zM18 24h1v1h-1zM5 25h2v1h-2zM38 26h1v1h-1zM21 28h1v1h-1zM20 29h1v1h-1zM23 30h2v1h-2zM16 34h1v1h-1zM15 35h1v1h-1zM24 35h1v1h-1zM3 36h1v1h-1zM17 36h1v1h-1zM31 36h1v1h-1zM36 36h1v1h-1zM14 37h1v1h-1zM22 37h1v1h-1zM35 37h1v1h-1zM38 37h1v1h-1zM31 38h1v1h-1zM2 39h1v1h-1zM14 39h1v1h-1zM28 39h1v1h-1zM38 39h1v1h-1zM23 40h1v1h-1zM28 40h1v1h-1zM26 41h1v1h-1zM34 41h1v1h-1zM20 42h1v1h-1zM23 42h1v1h-1zM25 42h1v1h-1zM29 42h1v1h-1zM39 43h1v1h-1zM40 44h1v1h-1zM24 45h2v1h-2zM34 45h1v1h-1zM33 46h1v1h-1zM26 47h2v1h-2zM34 47h1v1h-1zM36 47h1v1h-1zM18 48h1v1h-1zM26 48h1v1h-1zM30 48h1v1h-1zM23 51h1v1h-1zM19 52h1v1h-1zM38 52h1v1h-1zM19 54h1v1h-1zM40 54h1v1h-1zM34 58h1v1h-1zM26 62h1v1h-1zM2 65h1v1h-1zM38 65h1v1h-1z"/>
<path fill="#20a5e3" d="M1 0h1v1h-1zM1 3h1v1h-1zM16 3h1v1h-1zM1 4h1v1h-1zM18 4h1v1h-1zM3 5h1v1h-1zM5 5h1v1h-1zM20 6h1v1h-1zM22 9h1v1h-1zM35 9h1v1h-1zM39 9h1v1h-1zM39 11h1v1h-1zM20 13h1v1h-1zM21 15h1v1h-1zM38 15h1v1h-1zM34 16h1v1h-1zM1 18h1v1h-1zM5 18h1v1h-1zM16 18h1v1h-1zM33 18h1v1h-1zM29 19h1v1h-1zM9 20h1v1h-1zM11 20h1v1h-1zM17 20h1v1h-1zM25 20h1v1h-1zM37 21h1v1h-1zM37 22h1v1h-1zM39 24h1v1h-1zM0 25h1v1h-1zM14 25h1v1h-1zM20 26h1v1h-1zM22 26h1v1h-1zM36 26h1v1h-1zM19 28h1v1h-1zM20 30h1v1h-1zM32 30h1v1h-1zM39 30h1v1h-1zM6 31h1v1h-1zM27 32h1v1h-1zM38 32h2v1h-2zM40 33h1v1h-1zM22 34h1v1h-1zM37 34h1v1h-1zM11 36h1v1h-1zM20 36h1v1h-1zM20 37h2v1h-2zM26 37h1v1h-1zM29 37h1v1h-1zM38 38h1v1h-1zM6 39h1v1h-1zM22 39h1v1h-1zM30 39h1v1h-1zM25 40h2v1h-2zM34 40h1v1h-1zM22 41h1v1h-1zM25 41h1v1h-1zM32 41h1v1h-1zM38 42h1v1h-1zM16 43h1v1h-1zM21 43h1v1h-1zM25 43h1v1h-1zM28 43h1v1h-1zM31 43h1v1h-1zM36 43h1v1h-1zM14 44h1v1h-1zM20 44h1v1h-1zM27 45h1v1h-1zM36 45h1v1h-1zM21 46h1v1h-1zM24 46h1v1h-1zM31 46h1v1h-1zM28 47h1v1h-1zM32 47h1v1h-1zM33 48h1v1h-1zM37 48h1v1h-1zM24 49h1v1h-1zM33 50h1v1h-1zM3 52h1v1h-1zM7 52h2v1h-2zM10 52h1v1h-1zM13 52h1v1h-1zM24 52h1v1h-1zM3 54h1v1h-1zM10 58h1v1h-1zM36 58h1v1h-1z"/>
<path fill="#1ca9df" d="M14 0h1v1h-1zM16 0h1v1h-1zM0 2h1v1h-1zM17 3h1v1h-1zM40 3h1v1h-1zM15 5h1v1h-1zM2 7h1v1h-1zM37 8h1v1h-1zM28 10h1v1h-1zM20 12h1v1h-1zM13 13h1v1h-1zM23 13h1v1h-1zM20 14h1v1h-1zM30 14h1v1h-1zM21 16h1v1h-1zM25 19h1v1h-1zM7 20h1v1h-1zM27 20h1v1h-1zM40 20h1v1h-1zM20 21h1v1h-1zM22 22h1v1h-1zM38 22h1v1h-1zM40 22h1v1h-1zM38 23h1v1h-1zM8 24h1v1h-1zM10 25h1v1h-1zM29 26h1v1h-1zM31 26h1v1h-1zM40 26h1v1h-1zM23 27h1v1h-1zM27 28h1v1h-1zM34 28h1v1h-1zM11 29h1v1h-1zM13 29h1v1h-1zM17 29h1v1h-1zM32 29h1v1h-1zM35 29h1v1h-1zM22 30h1v1h-1zM26 30h1v1h-1zM29 30h1v1h-1zM8 31h1v1h-1zM10 31h1v1h-1zM24 32h1v1h-1zM22 33h1v1h-1zM29 33h1v1h-1zM3 34h2v1h-2zM6 34h1v1h-1zM11 34h1v1h-1zM28 35h1v1h-1zM37 35h1v1h-1zM9 36h1v1h-1zM31 37h1v1h-1zM22 38h1v1h-1zM24 38h1v1h-1zM27 38h1v1h-1zM34 38h1v1h-1zM13 39h1v1h-1zM34 39h1v1h-1zM24 42h1v1h-1zM27 42h1v1h-1zM35 42h2v1h-2zM37 43h1v1h-1zM29 44h1v1h-1zM38 44h1v1h-1zM29 46h1v1h-1zM35 46h1v1h-1zM25 48h1v1h-1zM29 48h1v1h-1zM38 48h1v1h-1zM40 48h1v1h-1zM15 52h1v1h-1zM22 52h1v1h-1zM33 52h1v1h-1zM36 52h1v1h-1zM4 54h1v1h-1zM22 54h2v1h-2zM30 54h1v1h-1zM20 62h1v1h-1z"/>
<path fill="#12b1d6" d="M15 0h1v1h-1zM10 2h1v1h-1zM30 4h1v1h-1zM7 5h1v1h-1zM27 6h1v1h-1zM36 6h1v1h-1zM33 8h2v1h-2zM38 8h1v1h-1zM25 9h1v1h-1zM28 9h1v1h-1zM34 9h1v1h-1zM24 10h1v1h-1zM21 12h1v1h-1zM26 12h1v1h-1zM22 14h1v1h-1zM24 14h1v1h-1zM31 14h1v1h-1zM24 15h1v1h-1zM38 16h1v1h-1zM28 17h1v1h-1zM35 17h1v1h-1zM8 20h1v1h-1zM26 20h1v1h-1zM36 20h1v1h-1zM35 21h1v1h-1zM39 21h1v1h-1zM24 22h1v1h-1zM28 22h1v1h-1zM34 22h1v1h-1zM21 23h1v1h-1zM27 23h1v1h-1zM36 23h1v1h-1zM5 24h1v1h-1zM16 24h1v1h-1zM21 24h2v1h-2zM34 25h1v1h-1zM35 28h1v1h-1zM39 28h1v1h-1zM37 29h1v1h-1zM40 29h1v1h-1zM27 30h1v1h-1zM34 31h1v1h-1zM25 32h1v1h-1zM31 32h1v1h-1zM25 33h1v1h-1zM33 33h1v1h-1zM14 34h2v1h-2zM20 34h1v1h-1zM25 34h1v1h-1zM34 34h2v1h-2zM25 35h1v1h-1zM30 35h1v1h-1zM8 36h1v1h-1zM40 36h1v1h-1zM27 37h1v1h-1zM20 38h1v1h-1zM9 39h1v1h-1zM17 39h1v1h-1zM31 39h1v1h-1zM36 41h1v1h-1zM29 45h1v1h-1zM21 48h1v1h-1zM20 54h1v1h-1zM27 54h2v1h-2zM38 61h1v1h-1z"/>
<path fill="#08b5d0" d="M8 2h1v1h-1zM17 2h1v1h-1zM3 3h1v1h-1zM9 5h1v1h-1zM11 5h1v1h-1zM39 5h1v1h-1zM22 6h1v1h-1zM9 7h1v1h-1zM29 8h1v1h-1zM29 10h1v1h-1zM21 13h1v1h-1zM24 13h1v1h-1zM27 13h1v1h-1zM21 14h1v1h-1zM26 14h2v1h-2zM35 14h1v1h-1zM27 15h1v1h-1zM32 15h1v1h-1zM24 17h1v1h-1zM38 17h1v1h-1zM38 18h1v1h-1zM31 21h1v1h-1zM21 22h1v1h-1zM31 23h1v1h-1zM34 23h2v1h-2zM11 24h1v1h-1zM13 24h1v1h-1zM33 24h1v1h-1zM40 25h1v1h-1zM24 27h2v1h-2zM34 27h1v1h-1zM36 27h1v1h-1zM20 28h1v1h-1zM23 29h1v1h-1zM31 29h1v1h-1zM37 30h1v1h-1zM4 31h1v1h-1zM12 31h1v1h-1zM32 31h2v1h-2zM35 32h1v1h-1zM7 34h1v1h-1zM30 34h1v1h-1zM2 36h1v1h-1zM38 36h1v1h-1zM24 37h1v1h-1zM25 38h2v1h-2zM37 38h1v1h-1zM11 39h1v1h-1zM24 39h1v1h-1zM30 40h1v1h-1zM33 40h1v1h-1zM37 42h1v1h-1zM27 43h1v1h-1zM32 43h1v1h-1zM30 44h1v1h-1zM28 45h1v1h-1zM30 45h1v1h-1zM35 45h1v1h-1zM22 47h1v1h-1zM6 52h1v1h-1zM32 52h1v1h-1zM20 58h1v1h-1zM25 58h1v1h-1zM27 58h1v1h-1z"/>
<path fill="#01b8ca" d="M2 2h1v1h-1zM16 2h1v1h-1zM0 3h1v1h-1zM7 4h1v1h-1zM11 4h1v1h-1zM31 4h1v1h-1zM21 6h1v1h-1zM40 6h1v1h-1zM38 7h1v1h-1zM36 8h1v1h-1zM29 9h1v1h-1zM38 9h1v1h-1zM22 10h1v1h-1zM35 10h1v1h-1zM31 11h1v1h-1zM35 11h1v1h-1zM22 12h1v1h-1zM27 12h1v1h-1zM22 13h1v1h-1zM28 13h1v1h-1zM29 14h1v1h-1zM38 14h1v1h-1zM22 15h1v1h-1zM34 15h1v1h-1zM31 16h1v1h-1zM19 17h1v1h-1zM25 17h1v1h-1zM29 17h1v1h-1zM34 17h1v1h-1zM4 18h1v1h-1zM32 18h1v1h-1zM28 19h1v1h-1zM31 19h1v1h-1zM24 20h1v1h-1zM30 20h1v1h-1zM21 21h1v1h-1zM28 21h1v1h-1zM14 24h1v1h-1zM31 25h1v1h-1zM39 25h1v1h-1zM29 27h1v1h-1zM25 28h1v1h-1zM31 28h1v1h-1zM38 28h1v1h-1zM10 29h1v1h-1zM36 30h1v1h-1zM31 31h1v1h-1zM32 32h1v1h-1zM8 34h1v1h-1zM36 34h1v1h-1zM0 36h1v1h-1zM15 36h1v1h-1zM32 37h1v1h-1zM7 39h1v1h-1zM23 39h1v1h-1zM26 39h1v1h-1zM29 39h1v1h-1zM26 43h1v1h-1zM24 47h1v1h-1zM29 52h1v1h-1zM6 54h1v1h-1zM39 54h1v1h-1z"/>
<path fill="#02bac3" d="M18 0h1v1h-1zM4 1h1v1h-1zM16 1h1v1h-1zM12 2h1v1h-1zM19 3h1v1h-1zM40 4h1v1h-1zM0 5h1v1h-1zM3 7h1v1h-1zM29 11h1v1h-1zM34 11h1v1h-1zM40 11h1v1h-1zM28 12h1v1h-1zM31 12h1v1h-1zM36 12h2v1h-2zM39 12h1v1h-1zM25 13h1v1h-1zM34 13h1v1h-1zM32 14h1v1h-1zM34 14h1v1h-1zM23 15h1v1h-1zM36 15h1v1h-1zM40 15h1v1h-1zM22 16h1v1h-1zM23 17h1v1h-1zM27 17h1v1h-1zM39 17h1v1h-1zM19 18h1v1h-1zM27 18h1v1h-1zM12 20h1v1h-1zM20 20h1v1h-1zM29 20h1v1h-1zM27 22h1v1h-1zM29 22h1v1h-1zM35 22h2v1h-2zM23 23h1v1h-1zM32 23h1v1h-1zM3 25h2v1h-2zM22 25h1v1h-1zM28 27h1v1h-1zM38 27h1v1h-1zM37 28h1v1h-1zM33 30h1v1h-1zM35 30h1v1h-1zM38 31h1v1h-1zM23 32h1v1h-1zM36 32h1v1h-1zM36 33h1v1h-1zM10 34h1v1h-1zM18 34h1v1h-1zM24 34h1v1h-1zM39 34h1v1h-1zM18 36h1v1h-1zM28 36h1v1h-1zM34 36h1v1h-1zM21 39h1v1h-1zM32 44h1v1h-1zM39 44h1v1h-1zM27 46h1v1h-1zM24 51h1v1h-1zM27 52h2v1h-2zM31 52h1v1h-1zM37 52h1v1h-1zM33 54h1v1h-1z"/>
<path fill="#0bbdbd" d="M2 3h1v1h-1zM9 3h1v1h-1zM5 4h1v1h-1zM13 4h1v1h-1zM13 5h1v1h-1zM18 5h1v1h-1zM33 6h1v1h-1zM6 7h1v1h-1zM40 7h1v1h-1zM24 8h1v1h-1zM31 8h1v1h-1zM32 9h1v1h-1zM32 10h1v1h-1zM34 10h1v1h-1zM37 10h1v1h-1zM21 11h1v1h-1zM38 11h1v1h-1zM34 12h1v1h-1zM39 13h1v1h-1zM25 14h1v1h-1zM37 14h1v1h-1zM25 15h1v1h-1zM33 16h1v1h-1zM35 16h1v1h-1zM31 17h1v1h-1zM33 17h1v1h-1zM36 17h1v1h-1zM40 17h1v1h-1zM40 18h1v1h-1zM24 19h1v1h-1zM34 19h2v1h-2zM32 20h1v1h-1zM38 20h1v1h-1zM34 21h1v1h-1zM24 23h1v1h-1zM33 25h1v1h-1zM21 26h1v1h-1zM21 27h1v1h-1zM32 27h1v1h-1zM26 28h1v1h-1zM28 28h1v1h-1zM36 28h1v1h-1zM27 29h1v1h-1zM38 29h1v1h-1zM31 30h1v1h-1zM17 31h1v1h-1zM20 31h1v1h-1zM26 31h1v1h-1zM35 31h1v1h-1zM40 31h1v1h-1zM22 32h1v1h-1zM26 32h1v1h-1zM29 32h1v1h-1zM23 33h1v1h-1zM30 33h1v1h-1zM31 34h1v1h-1zM38 34h1v1h-1zM20 35h1v1h-1zM26 35h1v1h-1zM29 35h1v1h-1zM31 35h1v1h-1zM38 35h1v1h-1zM30 36h1v1h-1zM36 37h2v1h-2zM36 38h1v1h-1zM33 39h1v1h-1zM31 40h1v1h-1zM24 41h1v1h-1zM39 41h1v1h-1zM28 42h1v1h-1zM26 46h1v1h-1zM34 48h1v1h-1zM26 50h1v1h-1zM26 51h1v1h-1zM25 52h1v1h-1zM19 58h1v1h-1z"/>
<path fill="#31c69f" d="M7 0h1v1h-1zM6 1h1v1h-1zM39 6h1v1h-1zM26 9h1v1h-1zM31 9h1v1h-1zM38 10h1v1h-1zM23 12h1v1h-1zM35 13h1v1h-1zM26 15h1v1h-1zM30 16h1v1h-1zM24 18h1v1h-1zM32 19h1v1h-1zM31 20h1v1h-1zM27 21h1v1h-1zM26 22h1v1h-1zM28 23h2v1h-2zM0 24h1v1h-1zM3 24h1v1h-1zM19 27h1v1h-1zM30 28h1v1h-1zM2 31h1v1h-1zM5 31h1v1h-1zM37 32h1v1h-1zM13 34h1v1h-1zM21 36h1v1h-1zM37 36h1v1h-1zM29 38h1v1h-1zM27 39h1v1h-1zM32 39h1v1h-1zM26 52h1v1h-1zM26 58h1v1h-1z"/>
<path fill="#37c897" d="M18 2h1v1h-1zM39 4h1v1h-1zM19 5h1v1h-1zM36 7h1v1h-1zM30 9h1v1h-1zM27 10h1v1h-1zM30 13h1v1h-1zM33 13h1v1h-1zM36 13h1v1h-1zM38 13h1v1h-1zM23 14h1v1h-1zM28 14h1v1h-1zM39 14h2v1h-2zM30 15h1v1h-1zM32 16h1v1h-1zM30 17h1v1h-1zM37 17h1v1h-1zM17 18h1v1h-1zM22 18h1v1h-1zM29 21h1v1h-1zM33 23h1v1h-1zM38 24h1v1h-1zM36 29h1v1h-1zM15 31h1v1h-1zM30 32h1v1h-1zM33 32h1v1h-1zM1 34h1v1h-1zM28 37h1v1h-1zM8 39h1v1h-1zM20 39h1v1h-1zM25 44h1v1h-1z"/>
<path fill="#3fca8e" d="M6 0h1v1h-1zM4 2h1v1h-1zM32 6h1v1h-1zM25 12h1v1h-1zM31 13h1v1h-1zM37 13h1v1h-1zM5 20h1v1h-1zM33 20h1v1h-1zM26 27h1v1h-1zM29 29h1v1h-1zM27 35h1v1h-1zM7 36h1v1h-1zM33 36h1v1h-1zM37 39h1v1h-1zM21 54h1v1h-1z"/>
<path fill="#4acb84" d="M9 1h1v1h-1zM40 2h1v1h-1zM14 5h1v1h-1zM20 5h1v1h-1zM23 9h1v1h-1zM40 9h1v1h-1zM21 10h1v1h-1zM32 11h2v1h-2zM37 11h1v1h-1zM14 18h1v1h-1zM33 22h1v1h-1zM25 23h1v1h-1zM12 25h1v1h-1zM20 27h1v1h-1zM27 27h1v1h-1zM33 27h1v1h-1zM35 27h1v1h-1zM40 27h1v1h-1zM16 29h1v1h-1zM14 31h1v1h-1zM29 34h1v1h-1zM19 36h1v1h-1zM39 36h1v1h-1zM23 37h1v1h-1zM28 38h1v1h-1z"/>
<path fill="#57cc7a" d="M38 4h1v1h-1zM2 5h1v1h-1zM26 6h1v1h-1zM35 8h1v1h-1zM33 9h1v1h-1zM32 12h1v1h-1zM33 14h1v1h-1zM28 15h1v1h-1zM31 15h1v1h-1zM17 24h1v1h-1zM1 25h1v1h-1zM37 27h1v1h-1zM22 29h1v1h-1zM26 29h1v1h-1zM28 29h1v1h-1zM26 34h1v1h-1zM5 36h1v1h-1zM39 37h1v1h-1zM19 39h1v1h-1zM39 39h1v1h-1zM35 44h1v1h-1zM4 58h1v1h-1zM35 58h1v1h-1z"/>
<path fill="#9dc943" d="M0 1h1v1h-1zM35 4h1v1h-1zM37 4h1v1h-1zM37 5h1v1h-1zM37 6h1v1h-1zM27 8h1v1h-1zM40 8h1v1h-1zM24 12h1v1h-1zM40 13h1v1h-1zM35 18h1v1h-1zM39 19h1v1h-1zM35 20h1v1h-1zM37 20h1v1h-1zM25 21h1v1h-1zM40 21h1v1h-1zM26 23h1v1h-1zM4 24h1v1h-1zM26 24h1v1h-1zM20 25h1v1h-1zM30 25h1v1h-1zM30 27h1v1h-1zM27 34h1v1h-1zM23 36h1v1h-1z"/>
<path fill="#abc739" d="M1 5h1v1h-1zM28 6h1v1h-1zM38 6h1v1h-1zM10 7h1v1h-1zM34 7h1v1h-1zM30 10h1v1h-1zM26 11h1v1h-1zM28 11h1v1h-1zM36 11h1v1h-1zM26 13h1v1h-1zM29 13h1v1h-1zM32 13h1v1h-1zM40 19h1v1h-1zM26 21h1v1h-1zM35 25h2v1h-2zM31 27h1v1h-1zM23 28h1v1h-1zM25 29h1v1h-1zM25 31h1v1h-1zM29 36h1v1h-1zM25 37h1v1h-1zM1 39h1v1h-1z"/>
<path fill="#b9c431" d="M4 5h1v1h-1zM21 5h1v1h-1zM24 6h2v1h-2zM31 6h1v1h-1zM14 7h1v1h-1zM22 11h1v1h-1zM7 18h1v1h-1zM23 19h1v1h-1zM30 19h1v1h-1zM23 20h1v1h-1zM31 22h1v1h-1zM13 31h1v1h-1zM37 31h1v1h-1zM23 34h1v1h-1zM33 34h1v1h-1zM25 36h1v1h-1z"/>
<path fill="#c5c22a" d="M5 2h1v1h-1zM12 4h1v1h-1zM16 7h1v1h-1zM25 8h1v1h-1zM25 10h1v1h-1zM30 12h1v1h-1zM36 14h1v1h-1zM2 25h1v1h-1zM29 25h1v1h-1zM21 34h1v1h-1zM32 34h1v1h-1zM35 39h1v1h-1zM27 44h1v1h-1z"/>
<path fill="#d1bf27" d="M16 4h1v1h-1zM39 7h1v1h-1zM39 8h1v1h-1zM35 15h1v1h-1zM23 18h1v1h-1zM21 19h1v1h-1zM22 20h1v1h-1zM36 21h1v1h-1zM32 22h1v1h-1zM7 24h1v1h-1zM35 26h1v1h-1zM30 31h1v1h-1zM0 34h1v1h-1zM27 36h1v1h-1zM25 39h1v1h-1z"/>
<path fill="#f0ba36" d="M14 2h1v1h-1zM33 3h1v1h-1zM36 3h2v1h-2zM29 6h1v1h-1zM26 8h1v1h-1zM32 8h1v1h-1zM23 10h1v1h-1zM26 10h1v1h-1zM31 10h1v1h-1zM32 17h1v1h-1zM24 21h1v1h-1zM30 21h1v1h-1zM33 21h1v1h-1zM19 24h1v1h-1zM35 24h1v1h-1zM27 31h1v1h-1zM6 36h1v1h-1z"/>
<path fill="#f8ba3d" d="M0 0h1v1h-1zM38 3h1v1h-1zM35 6h1v1h-1zM19 7h1v1h-1zM30 8h1v1h-1zM33 10h1v1h-1zM25 11h1v1h-1zM21 18h1v1h-1zM22 23h1v1h-1zM6 24h1v1h-1zM39 29h1v1h-1zM21 31h1v1h-1zM16 36h1v1h-1z"/>
<path fill="#febe3c" d="M2 1h1v1h-1zM7 1h1v1h-1zM14 1h1v1h-1zM7 2h1v1h-1zM15 4h1v1h-1zM8 5h1v1h-1zM26 7h1v1h-1zM36 10h1v1h-1zM22 21h1v1h-1zM23 24h1v1h-1zM32 36h1v1h-1z"/>
<path fill="#fec338" d="M3 0h1v1h-1zM19 0h1v1h-1zM24 7h1v1h-1zM27 16h1v1h-1zM0 18h1v1h-1zM34 18h1v1h-1zM39 18h1v1h-1zM2 24h1v1h-1zM28 25h1v1h-1zM22 27h1v1h-1zM24 29h1v1h-1z"/>
<path fill="#fec934" d="M19 1h1v1h-1zM38 1h1v1h-1zM29 5h1v1h-1zM33 7h1v1h-1zM28 8h1v1h-1zM26 18h1v1h-1zM29 18h1v1h-1zM37 18h1v1h-1zM28 20h1v1h-1zM23 21h1v1h-1zM34 24h1v1h-1zM19 25h1v1h-1zM28 31h1v1h-1zM4 39h1v1h-1zM36 39h1v1h-1z"/>
<path fill="#f6ef20" d="M17 0h1v1h-1zM27 0h1v1h-1zM37 0h1v1h-1zM30 1h1v1h-1zM36 1h1v1h-1zM39 1h1v1h-1zM20 2h1v1h-1zM22 2h1v1h-1zM29 2h2v1h-2zM35 2h1v1h-1zM37 2h1v1h-1zM30 3h1v1h-1zM32 3h1v1h-1zM20 4h1v1h-1zM23 4h1v1h-1zM34 4h1v1h-1zM22 5h2v1h-2zM26 5h1v1h-1zM32 5h1v1h-1zM34 5h2v1h-2zM15 7h1v1h-1zM20 7h1v1h-1zM23 11h2v1h-2zM24 24h2v1h-2zM29 24h1v1h-1zM32 24h1v1h-1zM16 31h1v1h-1zM24 31h1v1h-1zM26 36h1v1h-1z"/>
<path fill="#f9fb15" d="M5 0h1v1h-1zM20 0h7v1h-7zM28 0h9v1h-9zM38 0h3v1h-3zM3 1h1v1h-1zM20 1h10v1h-10zM31 1h5v1h-5zM37 1h1v1h-1zM40 1h1v1h-1zM19 2h1v1h-1zM21 2h1v1h-1zM23 2h6v1h-6zM31 2h4v1h-4zM36 2h1v1h-1zM38 2h2v1h-2zM20 3h10v1h-10zM31 3h1v1h-1zM34 3h2v1h-2zM39 3h1v1h-1zM19 4h1v1h-1zM21 4h2v1h-2zM24 4h6v1h-6zM33 4h1v1h-1zM36 4h1v1h-1zM24 5h2v1h-2zM27 5h2v1h-2zM30 5h2v1h-2zM33 5h1v1h-1zM36 5h1v1h-1zM38 5h1v1h-1zM40 5h1v1h-1zM30 6h1v1h-1zM21 7h3v1h-3zM25 7h1v1h-1zM27 7h2v1h-2zM32 7h1v1h-1zM35 7h1v1h-1zM30 11h1v1h-1zM23 16h4v1h-4zM28 16h2v1h-2zM30 18h2v1h-2zM9 24h1v1h-1zM20 24h1v1h-1zM27 24h1v1h-1zM30 24h2v1h-2zM37 24h1v1h-1zM40 24h1v1h-1zM21 25h1v1h-1zM23 25h5v1h-5zM22 31h2v1h-2zM29 31h1v1h-1zM28 34h1v1h-1zM22 36h1v1h-1zM40 39h1v1h-1z"/>
</g>
<line x1="630.1" y1="406" x2="630.1" y2="682" stroke="#fff" stroke-width="3.2" stroke-dasharray="3.6 4.2"/>
<line x1="969.6" y1="405.3" x2="969.6" y2="681.6" stroke="#fff" stroke-width="3.2" stroke-dasharray="3.6 4.2"/>
<line x1="630.1" y1="836" x2="630.1" y2="1112" stroke="#fff" stroke-width="3.2" stroke-dasharray="3.6 4.2"/>
<line x1="969.6" y1="835.3" x2="969.6" y2="1111.6" stroke="#fff" stroke-width="3.2" stroke-dasharray="3.6 4.2"/>
<defs><linearGradient id="tailg" x1="0" y1="0" x2="1" y2="0"><stop offset="0" stop-color="#d7b28a"/><stop offset="1" stop-color="#f6e6d2"/></linearGradient><linearGradient id="earg" x1="0" y1="0" x2="1" y2="1"><stop offset="0" stop-color="#c79a66"/><stop offset="1" stop-color="#f7ece0"/></linearGradient><radialGradient id="braing" cx="0.55" cy="0.5" r="0.6"><stop offset="0" stop-color="#22108e"/><stop offset="0.7" stop-color="#2614a2"/><stop offset="1" stop-color="#2c1ec4"/></radialGradient><radialGradient id="pinkg"><stop offset="0" stop-color="#ff2a78"/><stop offset="0.7" stop-color="#f0206e"/><stop offset="1" stop-color="#b02090" stop-opacity="0.3"/></radialGradient></defs>
<g transform="" stroke-linejoin="round" stroke-linecap="round">
<path d="M141,267 C165,258 190,246 215,245 C232,244.5 245,249 252,254.5 C251.5,257 249,257.5 246,257 C232,253.5 215,251.5 200,253.5 C180,256.5 160,265 142,273 Z" fill="url(#tailg)" stroke="#231815" stroke-width="1.8"/>
<path d="M110,199 C95,203 84,214 80,228 C77,242 80,256 92,266 C98,271 104,273 110,273 L139,273 C144,268 146,262 146.5,254 C147,246 146,240 147.5,235 C149.5,229 152,225 157,221.5 C162,218 166,214 168.5,210.5 C170.5,207 169,203 165,201.5 C160,198 155,195 150,193 C142,190.5 133,190.5 125,193 C119,195 114,197 110,199 Z" fill="#dcdedd" stroke="#231815" stroke-width="2"/>
<path d="M111,206 C106,201 107,190 115,186.5 C122,184 128,187 130,193 C126,198 121,203 118,207 C116,209 113,208.5 111,206 Z" fill="url(#earg)" stroke="#231815" stroke-width="1.8"/>
<ellipse cx="145.5" cy="201.5" rx="2.8" ry="2.2" fill="#231815"/>
<circle cx="146.2" cy="201" r="0.9" fill="#fff"/>
<circle cx="166.3" cy="206.3" r="3.4" fill="#f1d6b8" stroke="#231815" stroke-width="1.4"/>
<path d="M154,216 C157.5,216 161,214.5 164,212" fill="none" stroke="#231815" stroke-width="1.6"/>
<path d="M110.5,239 C116,241.5 122,243 128,244 C131,248 137,250 140,246 C142,242 141,238 139,236" fill="#ead7c0" stroke="#231815" stroke-width="1.7"/>
<path d="M131,243 C133,240 136,239 138,240" fill="none" stroke="#231815" stroke-width="1.3"/>
<path d="M110,266 C107,272 109,279 113,280.5 C118,281.5 124,281 126,279 C122,275 119,271 116,266 Z" fill="#ecd8c0" stroke="#231815" stroke-width="1.7"/>
<path d="M134,271.5 C139,269.5 146,269.5 151,273 C146,275 139,275 134,273.5 Z" fill="#ecd8c0" stroke="#231815" stroke-width="1.6"/>
<path d="M128.5,186.5 L150.5,185.5 L154.5,192.5 C146,193 137,194.5 131,198 Z" fill="#111"/>
<path d="M109.5,180.3 L153.5,178.5 L159.5,180.8 L123.5,187 Z" fill="#8cc63f" stroke="#111" stroke-width="1.2"/>
<path d="M120.4,167.6 L147.6,163.6 L148,179.8 L121,183 Z" fill="#fff" stroke="#111" stroke-width="2.2"/>
<path d="M120.7,174.8 L147.8,171.4" fill="none" stroke="#111" stroke-width="2.2"/>
<path d="M135.4,165 C136,151 141,139 149.5,135.5 C155,133.3 160,133.8 163,136" fill="none" stroke="#111" stroke-width="1.9"/>
</g>
<g transform="translate(1003.97,1562.1) scale(0.59)" stroke-linejoin="round" stroke-linecap="round">
<path d="M141,267 C165,258 190,246 215,245 C232,244.5 245,249 252,254.5 C251.5,257 249,257.5 246,257 C232,253.5 215,251.5 200,253.5 C180,256.5 160,265 142,273 Z" fill="url(#tailg)" stroke="#231815" stroke-width="1.8"/>
<path d="M110,199 C95,203 84,214 80,228 C77,242 80,256 92,266 C98,271 104,273 110,273 L139,273 C144,268 146,262 146.5,254 C147,246 146,240 147.5,235 C149.5,229 152,225 157,221.5 C162,218 166,214 168.5,210.5 C170.5,207 169,203 165,201.5 C160,198 155,195 150,193 C142,190.5 133,190.5 125,193 C119,195 114,197 110,199 Z" fill="#dcdedd" stroke="#231815" stroke-width="2"/>
<path d="M111,206 C106,201 107,190 115,186.5 C122,184 128,187 130,193 C126,198 121,203 118,207 C116,209 113,208.5 111,206 Z" fill="url(#earg)" stroke="#231815" stroke-width="1.8"/>
<ellipse cx="145.5" cy="201.5" rx="2.8" ry="2.2" fill="#231815"/>
<circle cx="146.2" cy="201" r="0.9" fill="#fff"/>
<circle cx="166.3" cy="206.3" r="3.4" fill="#f1d6b8" stroke="#231815" stroke-width="1.4"/>
<path d="M154,216 C157.5,216 161,214.5 164,212" fill="none" stroke="#231815" stroke-width="1.6"/>
<path d="M110.5,239 C116,241.5 122,243 128,244 C131,248 137,250 140,246 C142,242 141,238 139,236" fill="#ead7c0" stroke="#231815" stroke-width="1.7"/>
<path d="M131,243 C133,240 136,239 138,240" fill="none" stroke="#231815" stroke-width="1.3"/>
<path d="M110,266 C107,272 109,279 113,280.5 C118,281.5 124,281 126,279 C122,275 119,271 116,266 Z" fill="#ecd8c0" stroke="#231815" stroke-width="1.7"/>
<path d="M134,271.5 C139,269.5 146,269.5 151,273 C146,275 139,275 134,273.5 Z" fill="#ecd8c0" stroke="#231815" stroke-width="1.6"/>
<path d="M140,192.5 L143.5,184 L147,194" fill="#d9c4a8" stroke="#231815" stroke-width="1.8"/>
</g>
<path d="M132.3,1323.9 L138.7,1319.5 L139.9,1329.1 C141,1333 143,1336.5 146.3,1339.5 L140.5,1340.8 C138.5,1338.5 136.8,1335.5 136.2,1332 Z" fill="#ee1c44"/>
<path d="M174.6,1323.9 L168.2,1319.5 L167,1329.1 C165.9,1333 163.9,1336.5 160.6,1339.5 L166.4,1340.8 C168.4,1338.5 170.1,1335.5 170.7,1332 Z" fill="#ee1c44"/>
<path d="M130,1306 C134,1303.5 142,1303.5 146.5,1305.5 C148.5,1308 147,1311 143,1312.5 C140,1313.5 139,1316 137.5,1319.5 C134.5,1321 131.5,1320 130.5,1318 C131,1315 129.5,1312 129.5,1309 Z" fill="#231815"/>
<path d="M177,1306 C173,1303.5 165,1303.5 160.5,1305.5 C158.5,1308 160,1311 164,1312.5 C167,1313.5 168,1316 169.5,1319.5 C172.5,1321 175.5,1320 176.5,1318 C176,1315 177.5,1312 177.5,1309 Z" fill="#231815"/>
<path d="M142.3,1317.2 C149,1315.5 158,1315.5 164.7,1317.2 C160,1319 156,1320.5 153.5,1322 C150.5,1320.5 146.5,1319 142.3,1317.2 Z" fill="#231815"/>
<path d="M152.7,1290.7 C150,1288 147,1287 143.1,1287.1 C138,1286.8 134,1287 131,1287.5 C124,1289 119,1292.5 115,1296.3 C110,1300.5 107.5,1304 105.4,1307.5 C102.5,1313 100.5,1317 99.8,1321.1 C99,1325 98.8,1328 99,1331.5 C99.5,1335 101,1338 103,1341.1 C105.5,1345 108,1349 111,1352.3 C114,1356 116.5,1358.5 119,1358.8 C122.5,1359.3 125.5,1358.8 128.6,1358 C131.5,1357 134,1355 136.7,1355.2 C139,1355.5 141,1357.5 143.1,1358 C146,1358.8 149.5,1358.8 152.7,1358.8 C156,1358.8 160,1358.2 163.1,1357.2 C165.5,1356.2 167.5,1354.8 169.5,1354.8 C171.5,1354.8 173,1356.6 175.1,1357.2 C178.5,1358.3 182,1359.2 185.5,1358.8 C189,1358.3 191.5,1356.5 194.3,1354 C197.5,1350 200,1346 202.3,1341.1 C204.5,1336.5 206,1333 206.4,1329.1 C207,1324 206.8,1320 205.6,1315.5 C204,1310 202,1306.5 199.1,1302.7 C195.5,1298.5 191.5,1295.5 187.1,1293.1 C182,1290 176.5,1288 171.1,1287.5 C166,1287 162,1287.5 159.1,1288.3 C156.5,1289 154.5,1289.5 152.7,1290.7 Z" fill="none" stroke="#231815" stroke-width="2.1"/>
<path d="M152.2,1342 L153.2,1342 L154,1357.5 L151.4,1357.5 Z" fill="#231815" stroke="#231815" stroke-width="1.2"/>
<rect x="131.5" y="1253" width="9.6" height="2.8" fill="#231815"/>
<rect x="135.10000000000002" y="1255" width="2.4" height="3" fill="#231815"/>
<rect x="133.0" y="1257.5" width="6.6" height="27.5" fill="#fff" stroke="#231815" stroke-width="1.8"/>
<rect x="133.9" y="1268.2" width="4.8" height="16" fill="#ee1c44"/>
<line x1="136.3" y1="1285" x2="136.3" y2="1329" stroke="#231815" stroke-width="1.7"/>
<rect x="164.7" y="1253" width="9.6" height="2.8" fill="#231815"/>
<rect x="168.3" y="1255" width="2.4" height="3" fill="#231815"/>
<rect x="166.2" y="1257.5" width="6.6" height="27.5" fill="#fff" stroke="#231815" stroke-width="1.8"/>
<rect x="167.1" y="1268.2" width="4.8" height="16" fill="#ee1c44"/>
<line x1="169.5" y1="1285" x2="169.5" y2="1329" stroke="#231815" stroke-width="1.7"/>
<rect x="245.8" y="1185.5" width="138.2" height="180.9" fill="#05020f"/>
<path d="M384,1192 C378,1190 372,1189.5 365.2,1189 C359,1188 355,1187.3 350.1,1187.5 C343,1188.5 337,1190.5 330.1,1193 C321,1196 313,1199 305.1,1202 C297,1205.5 291,1208 285.1,1211 C279,1214.5 274.5,1218 270,1222 C266,1226 263,1230 260,1235 C257,1240 254.5,1245 253,1250 C251,1257 250,1263 249.5,1270 C249.2,1277 249.3,1284 250,1290 C251,1296 252.5,1301 255,1305 C258,1309 261,1312.5 265,1315.2 L262,1320.2 C263,1324 264,1327 265,1330.2 C267,1335 269,1339 272,1342.2 C276,1346.5 280,1349.5 285.1,1352.2 C290,1355 295,1357 300.1,1358.2 C305,1359 310,1359 315.1,1358.2 C319,1357.5 322,1356 325.1,1354.2 C329,1351 332,1347 335.1,1344.2 C340,1341.5 345,1340.5 350.1,1340.2 C355,1340 360,1340.5 365.2,1340.2 C369,1339.5 372,1338 375.2,1337.2 L384,1336.2 Z" fill="url(#braing)"/>
<path d="M384,1192 C378,1190 372,1189.5 365.2,1189 C359,1188 355,1187.3 350.1,1187.5 C343,1188.5 337,1190.5 330.1,1193 C321,1196 313,1199 305.1,1202 C297,1205.5 291,1208 285.1,1211 C279,1214.5 274.5,1218 270,1222 C266,1226 263,1230 260,1235 C257,1240 254.5,1245 253,1250 C251,1257 250,1263 249.5,1270 C249.2,1277 249.3,1284 250,1290 C251,1296 252.5,1301 255,1305 C258,1309 261,1312.5 265,1315.2 L262,1320.2 C263,1324 264,1327 265,1330.2 C267,1335 269,1339 272,1342.2 C276,1346.5 280,1349.5 285.1,1352.2 C290,1355 295,1357 300.1,1358.2 C305,1359 310,1359 315.1,1358.2 C319,1357.5 322,1356 325.1,1354.2 C329,1351 332,1347 335.1,1344.2 C340,1341.5 345,1340.5 350.1,1340.2 C355,1340 360,1340.5 365.2,1340.2 C369,1339.5 372,1338 375.2,1337.2 L384,1336.2 Z" fill="none" stroke="#3a2cff" stroke-width="1.6" opacity="0.8"/>
<path d="M337,1240 C339,1233 346,1230 355,1230 C366,1230 376,1229 384,1230 L384,1256 C378,1255 372,1252 367,1249 C360,1247 352,1250 345,1253 C340,1253 336,1248 337,1240 Z" fill="#1c0f8a"/>
<path d="M339,1240 C341,1234 346,1232 352,1232" fill="none" stroke="#3b3bff" stroke-width="1.8"/>
<path d="M370,1248 C374,1247 380,1249 384,1250 L384,1257 C379,1256 374,1253 370,1248 Z" fill="#05020f"/>
<ellipse cx="343.5" cy="1286" rx="8" ry="13.5" transform="rotate(-18 343.5 1286)" fill="url(#pinkg)"/>
<ellipse cx="341.5" cy="1261.5" rx="3.5" ry="5" fill="url(#pinkg)" opacity="0.9"/>
<ellipse cx="359" cy="1256" rx="5" ry="6" fill="#c0307a" opacity="0.35"/>
<circle cx="276.5" cy="1238" r="3.2" fill="none" stroke="#05020f" stroke-width="1.3"/>
<line x1="251.5" y1="1357.7" x2="284.1" y2="1357.7" stroke="#fff" stroke-width="2.2"/>
<g transform="translate(0.0,0)" stroke="#231815" stroke-linejoin="round">
<path d="M152,1436.7 C152,1428 154,1419 159.5,1415" fill="none" stroke-width="1.6"/>
<circle cx="140.8" cy="1451.5" r="4.3" fill="#dcdedd" stroke-width="1.8"/>
<circle cx="163.2" cy="1451.5" r="4.3" fill="#dcdedd" stroke-width="1.8"/>
<ellipse cx="152" cy="1482" rx="14" ry="13" fill="#dcdedd" stroke-width="2"/>
<ellipse cx="152" cy="1457.5" rx="10.6" ry="9" fill="#dcdedd" stroke-width="2"/>
<path d="M143,1465.5 C148,1468 156,1468 161,1465.5 L160,1470 C155,1472 149,1472 144,1470 Z" fill="#231815" stroke-width="1"/>
<rect x="147.7" y="1437.2" width="8.8" height="9.2" fill="#fff" stroke-width="1.9"/>
<circle cx="146.7" cy="1458.1" r="1.7" fill="#231815" stroke="none"/>
<circle cx="157.4" cy="1458.1" r="1.7" fill="#231815" stroke="none"/>
<path d="M135,1463.5 C138,1462.5 141,1462.8 144,1463.5 M137,1469 C139,1467 141.5,1466 144,1466 M169,1463.5 C166,1462.5 163,1462.8 160,1463.5 M167,1469 C165,1467 162.5,1466 160,1466" fill="none" stroke-width="1.4"/>
<ellipse cx="143.5" cy="1477.6" rx="2.3" ry="3.5" fill="#231815" stroke="none"/>
<ellipse cx="160.5" cy="1477.6" rx="2.3" ry="3.5" fill="#231815" stroke="none"/>
<ellipse cx="144.8" cy="1494.5" rx="4" ry="2.1" fill="#fff" stroke-width="1.7"/>
<ellipse cx="159.2" cy="1494.5" rx="4" ry="2.1" fill="#fff" stroke-width="1.7"/>
<g transform="translate(168.4,1496.5) rotate(-38.5)">
<line x1="0" y1="0" x2="14.5" y2="0" stroke-width="1.8"/>
<path d="M13.5,-2.6 L16.5,-3.6 L16.5,3.6 L13.5,2.6 Z" fill="#231815" stroke-width="1"/>
<rect x="16.5" y="-3.6" width="31" height="7.2" fill="#fff" stroke-width="1.8"/>
<line x1="33" y1="-3.6" x2="33" y2="3.6" stroke-width="1.6"/>
<rect x="47.5" y="-2.2" width="2.6" height="4.4" fill="#231815" stroke="none"/>
<rect x="50" y="-6.8" width="3.8" height="13.6" fill="#231815" stroke="none"/>
</g>
</g>
<g transform="translate(185.5,0)" stroke="#231815" stroke-linejoin="round">
<path d="M152,1436.7 C152,1428 154,1419 159.5,1415" fill="none" stroke-width="1.6"/>
<circle cx="140.8" cy="1451.5" r="4.3" fill="#dcdedd" stroke-width="1.8"/>
<circle cx="163.2" cy="1451.5" r="4.3" fill="#dcdedd" stroke-width="1.8"/>
<ellipse cx="152" cy="1482" rx="14" ry="13" fill="#dcdedd" stroke-width="2"/>
<ellipse cx="152" cy="1457.5" rx="10.6" ry="9" fill="#dcdedd" stroke-width="2"/>
<path d="M143,1465.5 C148,1468 156,1468 161,1465.5 L160,1470 C155,1472 149,1472 144,1470 Z" fill="#231815" stroke-width="1"/>
<rect x="147.7" y="1437.2" width="8.8" height="9.2" fill="#fff" stroke-width="1.9"/>
<circle cx="146.7" cy="1458.1" r="1.7" fill="#231815" stroke="none"/>
<circle cx="157.4" cy="1458.1" r="1.7" fill="#231815" stroke="none"/>
<path d="M135,1463.5 C138,1462.5 141,1462.8 144,1463.5 M137,1469 C139,1467 141.5,1466 144,1466 M169,1463.5 C166,1462.5 163,1462.8 160,1463.5 M167,1469 C165,1467 162.5,1466 160,1466" fill="none" stroke-width="1.4"/>
<ellipse cx="143.5" cy="1477.6" rx="2.3" ry="3.5" fill="#231815" stroke="none"/>
<ellipse cx="160.5" cy="1477.6" rx="2.3" ry="3.5" fill="#231815" stroke="none"/>
<ellipse cx="144.8" cy="1494.5" rx="4" ry="2.1" fill="#fff" stroke-width="1.7"/>
<ellipse cx="159.2" cy="1494.5" rx="4" ry="2.1" fill="#fff" stroke-width="1.7"/>
<g transform="translate(168.4,1496.5) rotate(-38.5)">
<line x1="0" y1="0" x2="14.5" y2="0" stroke-width="1.8"/>
<path d="M13.5,-2.6 L16.5,-3.6 L16.5,3.6 L13.5,2.6 Z" fill="#231815" stroke-width="1"/>
<rect x="16.5" y="-3.6" width="31" height="7.2" fill="#fff" stroke-width="1.8"/>
<line x1="33" y1="-3.6" x2="33" y2="3.6" stroke-width="1.6"/>
<rect x="47.5" y="-2.2" width="2.6" height="4.4" fill="#231815" stroke="none"/>
<rect x="50" y="-6.8" width="3.8" height="13.6" fill="#231815" stroke="none"/>
</g>
</g>
<g transform="translate(1059.2,1778) scale(1.0)" stroke="#2ca23c" fill="none" stroke-linecap="round" stroke-linejoin="round">
<circle cx="0" cy="0" r="7.5" fill="#2ca23c" stroke="none"/>
<path d="M0,0 L-21.7,-3.8" stroke-width="3.6"/>
<path d="M-11.9,-2.1 l-6.3,3.0" stroke-width="2.6"/>
<path d="M-11.9,-2.1 l-4.9,-4.9" stroke-width="2.6"/>
<path d="M-21.7,-3.8 l-3.9,1.0" stroke-width="2.4"/>
<path d="M0,0 L-15.3,-12.9" stroke-width="3.6"/>
<path d="M-8.4,-7.1 l-7.0,-0.6" stroke-width="2.6"/>
<path d="M-8.4,-7.1 l-1.8,-6.8" stroke-width="2.6"/>
<path d="M-15.3,-12.9 l-1.7,-3.6" stroke-width="2.4"/>
<path d="M0,0 L-7.5,-20.7" stroke-width="3.6"/>
<path d="M-4.1,-11.4 l-5.7,-4.0" stroke-width="2.6"/>
<path d="M-4.1,-11.4 l1.8,-6.8" stroke-width="2.6"/>
<path d="M-7.5,-20.7 l-2.8,-2.8" stroke-width="2.4"/>
<path d="M0,0 L6.2,-23.2" stroke-width="3.6"/>
<path d="M3.4,-12.8 l-2.4,-6.6" stroke-width="2.6"/>
<path d="M3.4,-12.8 l5.4,-4.5" stroke-width="2.6"/>
<path d="M6.2,-23.2 l2.6,-3.1" stroke-width="2.4"/>
<path d="M0,0 L15.3,-12.9" stroke-width="3.6"/>
<path d="M8.4,-7.1 l1.8,-6.8" stroke-width="2.6"/>
<path d="M8.4,-7.1 l7.0,-0.6" stroke-width="2.6"/>
<path d="M15.3,-12.9 l1.7,-3.6" stroke-width="2.4"/>
<path d="M0,0 L23.9,-2.1" stroke-width="3.6"/>
<path d="M13.1,-1.2 l5.4,-4.5" stroke-width="2.6"/>
<path d="M13.1,-1.2 l6.1,3.5" stroke-width="2.6"/>
<path d="M23.9,-2.1 l3.8,1.4" stroke-width="2.4"/>
<path d="M0,0 L15.6,9.0" stroke-width="3.6"/>
<path d="M8.6,4.9 l7.0,-0.6" stroke-width="2.6"/>
<path d="M8.6,4.9 l3.0,6.3" stroke-width="2.6"/>
<path d="M15.6,9.0 l4.0,0.3" stroke-width="2.4"/>
<path d="M0,0 L9.3,19.9" stroke-width="3.6"/>
<path d="M5.1,11.0 l6.1,3.5" stroke-width="2.6"/>
<path d="M5.1,11.0 l-1.2,6.9" stroke-width="2.6"/>
<path d="M9.3,19.9 l0.0,4.0" stroke-width="2.4"/>
<path d="M0,0 L-3.5,19.7" stroke-width="3.6"/>
<path d="M-1.9,10.8 l3.0,6.3" stroke-width="2.6"/>
<path d="M-1.9,10.8 l-4.9,4.9" stroke-width="2.6"/>
<path d="M-3.5,19.7 l1.0,3.9" stroke-width="2.4"/>
<path d="M0,0 L-15.6,15.6" stroke-width="3.6"/>
<path d="M-8.6,8.6 l-1.2,6.9" stroke-width="2.6"/>
<path d="M-8.6,8.6 l-6.9,1.2" stroke-width="2.6"/>
<path d="M-15.6,15.6 l-3.8,1.4" stroke-width="2.4"/>
<path d="M0,0 L-19.3,5.2" stroke-width="3.6"/>
<path d="M-10.6,2.8 l-4.5,5.4" stroke-width="2.6"/>
<path d="M-10.6,2.8 l-6.6,-2.4" stroke-width="2.6"/>
<path d="M-19.3,5.2 l-3.1,2.6" stroke-width="2.4"/>
</g>
<g stroke="#17a0e6" fill="none" stroke-linecap="round" stroke-linejoin="round">
<circle cx="1108.7" cy="1778" r="5.5" fill="#17a0e6" stroke="none"/>
<path d="M1108.7,1778 L1087.9,1766.0" stroke-width="3.0"/>
<path d="M1098.3,1772.0 l-4.0,-6.9" stroke-width="2.0"/>
<path d="M1108.7,1778 L1097.7,1758.9" stroke-width="3.0"/>
<path d="M1103.2,1768.5 l0.0,-8.0" stroke-width="2.0"/>
<path d="M1108.7,1778 L1106.1,1748.1" stroke-width="3.0"/>
<path d="M1107.4,1763.1 l3.4,-7.3" stroke-width="2.0"/>
<path d="M1108.7,1778 L1117.6,1753.6" stroke-width="3.0"/>
<path d="M1113.1,1765.8 l6.1,-5.1" stroke-width="2.0"/>
<path d="M1108.7,1778 L1121.4,1765.3" stroke-width="3.0"/>
<path d="M1115.1,1771.6 l7.7,-2.1" stroke-width="2.0"/>
<path d="M1108.7,1778 L1089.9,1784.8" stroke-width="3.0"/>
<path d="M1099.3,1781.4 l-7.9,-1.4" stroke-width="2.0"/>
<path d="M1108.7,1778 L1091.7,1795.0" stroke-width="3.0"/>
<path d="M1100.2,1786.5 l-7.7,2.1" stroke-width="2.0"/>
<path d="M1108.7,1778 L1101.2,1798.7" stroke-width="3.0"/>
<path d="M1104.9,1788.3 l-6.1,5.1" stroke-width="2.0"/>
<path d="M1108.7,1778 L1110.3,1795.9" stroke-width="3.0"/>
<path d="M1109.5,1787.0 l-3.4,7.3" stroke-width="2.0"/>
<path d="M1108.7,1778 L1115.7,1790.1" stroke-width="3.0"/>
<path d="M1112.2,1784.1 l0.0,8.0" stroke-width="2.0"/>
<path d="M1108.7,1778 L1092.7,1778.0" stroke-width="3.0"/>
<path d="M1100.7,1778.0 l-6.9,-4.0" stroke-width="2.0"/>
<path d="M1108.7,1779.0 1125.0,1779.5 1140.0,1776.5 1160.0,1776.5 1175.0,1778.5 1186.0,1776.5 1194.0,1775.0" stroke-width="4.2"/>
<path d="M1194,1775 l3.6,-13.5" stroke-width="2.4"/>
<path d="M1194,1775 l10.3,-14.7" stroke-width="2.4"/>
<path d="M1194,1775 l12.1,-7.0" stroke-width="2.4"/>
<path d="M1194,1775 l12.0,0.0" stroke-width="2.4"/>
<path d="M1194,1775 l14.5,6.8" stroke-width="2.4"/>
<path d="M1194,1775 l10.3,12.3" stroke-width="2.4"/>
<path d="M1194,1775 l3.1,11.6" stroke-width="2.4"/>
</g>
<g transform="translate(1315.4,1866.3) scale(0.82)" stroke="#2ca23c" fill="none" stroke-linecap="round" stroke-linejoin="round">
<circle cx="0" cy="0" r="7.5" fill="#2ca23c" stroke="none"/>
<path d="M0,0 L-21.7,-3.8" stroke-width="3.6"/>
<path d="M-11.9,-2.1 l-6.3,3.0" stroke-width="2.6"/>
<path d="M-11.9,-2.1 l-4.9,-4.9" stroke-width="2.6"/>
<path d="M-21.7,-3.8 l-3.9,1.0" stroke-width="2.4"/>
<path d="M0,0 L-15.3,-12.9" stroke-width="3.6"/>
<path d="M-8.4,-7.1 l-7.0,-0.6" stroke-width="2.6"/>
<path d="M-8.4,-7.1 l-1.8,-6.8" stroke-width="2.6"/>
<path d="M-15.3,-12.9 l-1.7,-3.6" stroke-width="2.4"/>
<path d="M0,0 L-7.5,-20.7" stroke-width="3.6"/>
<path d="M-4.1,-11.4 l-5.7,-4.0" stroke-width="2.6"/>
<path d="M-4.1,-11.4 l1.8,-6.8" stroke-width="2.6"/>
<path d="M-7.5,-20.7 l-2.8,-2.8" stroke-width="2.4"/>
<path d="M0,0 L6.2,-23.2" stroke-width="3.6"/>
<path d="M3.4,-12.8 l-2.4,-6.6" stroke-width="2.6"/>
<path d="M3.4,-12.8 l5.4,-4.5" stroke-width="2.6"/>
<path d="M6.2,-23.2 l2.6,-3.1" stroke-width="2.4"/>
<path d="M0,0 L15.3,-12.9" stroke-width="3.6"/>
<path d="M8.4,-7.1 l1.8,-6.8" stroke-width="2.6"/>
<path d="M8.4,-7.1 l7.0,-0.6" stroke-width="2.6"/>
<path d="M15.3,-12.9 l1.7,-3.6" stroke-width="2.4"/>
<path d="M0,0 L23.9,-2.1" stroke-width="3.6"/>
<path d="M13.1,-1.2 l5.4,-4.5" stroke-width="2.6"/>
<path d="M13.1,-1.2 l6.1,3.5" stroke-width="2.6"/>
<path d="M23.9,-2.1 l3.8,1.4" stroke-width="2.4"/>
<path d="M0,0 L15.6,9.0" stroke-width="3.6"/>
<path d="M8.6,4.9 l7.0,-0.6" stroke-width="2.6"/>
<path d="M8.6,4.9 l3.0,6.3" stroke-width="2.6"/>
<path d="M15.6,9.0 l4.0,0.3" stroke-width="2.4"/>
<path d="M0,0 L9.3,19.9" stroke-width="3.6"/>
<path d="M5.1,11.0 l6.1,3.5" stroke-width="2.6"/>
<path d="M5.1,11.0 l-1.2,6.9" stroke-width="2.6"/>
<path d="M9.3,19.9 l0.0,4.0" stroke-width="2.4"/>
<path d="M0,0 L-3.5,19.7" stroke-width="3.6"/>
<path d="M-1.9,10.8 l3.0,6.3" stroke-width="2.6"/>
<path d="M-1.9,10.8 l-4.9,4.9" stroke-width="2.6"/>
<path d="M-3.5,19.7 l1.0,3.9" stroke-width="2.4"/>
<path d="M0,0 L-15.6,15.6" stroke-width="3.6"/>
<path d="M-8.6,8.6 l-1.2,6.9" stroke-width="2.6"/>
<path d="M-8.6,8.6 l-6.9,1.2" stroke-width="2.6"/>
<path d="M-15.6,15.6 l-3.8,1.4" stroke-width="2.4"/>
<path d="M0,0 L-19.3,5.2" stroke-width="3.6"/>
<path d="M-10.6,2.8 l-4.5,5.4" stroke-width="2.6"/>
<path d="M-10.6,2.8 l-6.6,-2.4" stroke-width="2.6"/>
<path d="M-19.3,5.2 l-3.1,2.6" stroke-width="2.4"/>
</g>
<g stroke="#17a0e6" fill="none" stroke-linecap="round" stroke-linejoin="round">
<circle cx="1353.5" cy="1863.7" r="4.675" fill="#17a0e6" stroke="none"/>
<path d="M1353.5,1863.7 L1335.8,1853.5" stroke-width="2.5"/>
<path d="M1344.7,1858.6 l-3.4,-5.9" stroke-width="1.7"/>
<path d="M1353.5,1863.7 L1344.2,1847.5" stroke-width="2.5"/>
<path d="M1348.8,1855.6 l0.0,-6.8" stroke-width="1.7"/>
<path d="M1353.5,1863.7 L1351.3,1838.3" stroke-width="2.5"/>
<path d="M1352.4,1851.0 l2.9,-6.2" stroke-width="1.7"/>
<path d="M1353.5,1863.7 L1361.1,1842.9" stroke-width="2.5"/>
<path d="M1357.3,1853.3 l5.2,-4.4" stroke-width="1.7"/>
<path d="M1353.5,1863.7 L1364.3,1852.9" stroke-width="2.5"/>
<path d="M1358.9,1858.3 l6.6,-1.8" stroke-width="1.7"/>
<path d="M1353.5,1863.7 L1337.5,1869.5" stroke-width="2.5"/>
<path d="M1345.5,1866.6 l-6.7,-1.2" stroke-width="1.7"/>
<path d="M1353.5,1863.7 L1339.1,1878.1" stroke-width="2.5"/>
<path d="M1346.3,1870.9 l-6.6,1.8" stroke-width="1.7"/>
<path d="M1353.5,1863.7 L1347.1,1881.3" stroke-width="2.5"/>
<path d="M1350.3,1872.5 l-5.2,4.4" stroke-width="1.7"/>
<path d="M1353.5,1863.7 L1354.8,1878.9" stroke-width="2.5"/>
<path d="M1354.2,1871.3 l-2.9,6.2" stroke-width="1.7"/>
<path d="M1353.5,1863.7 L1359.5,1874.0" stroke-width="2.5"/>
<path d="M1356.5,1868.9 l0.0,6.8" stroke-width="1.7"/>
<path d="M1353.5,1863.7 L1339.9,1863.7" stroke-width="2.5"/>
<path d="M1346.7,1863.7 l-5.9,-3.4" stroke-width="1.7"/>
<path d="M1353.5,1864.0 1370.0,1865.0 1385.0,1863.0 1400.0,1864.5 1415.0,1866.5 1430.9,1864.5 1438.0,1866.0" stroke-width="3.6"/>
<path d="M1438,1866 l3.1,-11.5" stroke-width="2.0"/>
<path d="M1438,1866 l8.8,-12.5" stroke-width="2.0"/>
<path d="M1438,1866 l10.3,-5.9" stroke-width="2.0"/>
<path d="M1438,1866 l10.2,0.0" stroke-width="2.0"/>
<path d="M1438,1866 l12.3,5.7" stroke-width="2.0"/>
<path d="M1438,1866 l8.7,10.4" stroke-width="2.0"/>
<path d="M1438,1866 l2.6,9.9" stroke-width="2.0"/>
</g>
<circle cx="1048.5" cy="1769.1" r="1.5" fill="#e60c1e"/><path d="M1048.5,1769.1 l0.8,2.1 l-1.2,2.1 l1.2,2.1 l-0.8,2.1" fill="none" stroke="#e60c1e" stroke-width="1.8"/>
<circle cx="1068.8" cy="1780.5" r="1.5" fill="#e60c1e"/><path d="M1068.8,1780.5 l0.8,2.1 l-1.2,2.1 l1.2,2.1 l-0.8,2.1" fill="none" stroke="#e60c1e" stroke-width="1.8"/>
<circle cx="1092.9" cy="1776.1" r="1.5" fill="#e60c1e"/><path d="M1092.9,1776.1 l0.8,2.1 l-1.2,2.1 l1.2,2.1 l-0.8,2.1" fill="none" stroke="#e60c1e" stroke-width="1.8"/>
<circle cx="1122.0" cy="1755.8" r="1.5" fill="#e60c1e"/><path d="M1122.0,1755.8 l0.8,2.1 l-1.2,2.1 l1.2,2.1 l-0.8,2.1" fill="none" stroke="#e60c1e" stroke-width="1.8"/>
<circle cx="1174.0" cy="1785.6" r="1.5" fill="#e60c1e"/><path d="M1174.0,1785.6 l0.8,2.1 l-1.2,2.1 l1.2,2.1 l-0.8,2.1" fill="none" stroke="#e60c1e" stroke-width="1.8"/>
<circle cx="1305.9" cy="1859.9" r="1.5" fill="#e60c1e"/><path d="M1305.9,1859.9 l0.8,2.1 l-1.2,2.1 l1.2,2.1 l-0.8,2.1" fill="none" stroke="#e60c1e" stroke-width="1.8"/>
<circle cx="1319.2" cy="1854.2" r="1.5" fill="#e60c1e"/><path d="M1319.2,1854.2 l0.8,2.1 l-1.2,2.1 l1.2,2.1 l-0.8,2.1" fill="none" stroke="#e60c1e" stroke-width="1.8"/>
<circle cx="1327.5" cy="1863.1" r="1.5" fill="#e60c1e"/><path d="M1327.5,1863.1 l0.8,2.1 l-1.2,2.1 l1.2,2.1 l-0.8,2.1" fill="none" stroke="#e60c1e" stroke-width="1.8"/>
<circle cx="1312.3" cy="1872.0" r="1.5" fill="#e60c1e"/><path d="M1312.3,1872.0 l0.8,2.1 l-1.2,2.1 l1.2,2.1 l-0.8,2.1" fill="none" stroke="#e60c1e" stroke-width="1.8"/>
<circle cx="1320.5" cy="1870.7" r="1.5" fill="#e60c1e"/><path d="M1320.5,1870.7 l0.8,2.1 l-1.2,2.1 l1.2,2.1 l-0.8,2.1" fill="none" stroke="#e60c1e" stroke-width="1.8"/>
<circle cx="1342.7" cy="1863.1" r="1.5" fill="#e60c1e"/><path d="M1342.7,1863.1 l0.8,2.1 l-1.2,2.1 l1.2,2.1 l-0.8,2.1" fill="none" stroke="#e60c1e" stroke-width="1.8"/>
<circle cx="1343.3" cy="1838.3" r="1.5" fill="#e60c1e"/><path d="M1343.3,1838.3 l0.8,2.1 l-1.2,2.1 l1.2,2.1 l-0.8,2.1" fill="none" stroke="#e60c1e" stroke-width="1.8"/>
<circle cx="1363.0" cy="1850.4" r="1.5" fill="#e60c1e"/><path d="M1363.0,1850.4 l0.8,2.1 l-1.2,2.1 l1.2,2.1 l-0.8,2.1" fill="none" stroke="#e60c1e" stroke-width="1.8"/>
<circle cx="1359.2" cy="1870.7" r="1.5" fill="#e60c1e"/><path d="M1359.2,1870.7 l0.8,2.1 l-1.2,2.1 l1.2,2.1 l-0.8,2.1" fill="none" stroke="#e60c1e" stroke-width="1.8"/>
<circle cx="1373.2" cy="1865.6" r="1.5" fill="#e60c1e"/><path d="M1373.2,1865.6 l0.8,2.1 l-1.2,2.1 l1.2,2.1 l-0.8,2.1" fill="none" stroke="#e60c1e" stroke-width="1.8"/>
<circle cx="1381.4" cy="1847.2" r="1.5" fill="#e60c1e"/><path d="M1381.4,1847.2 l0.8,2.1 l-1.2,2.1 l1.2,2.1 l-0.8,2.1" fill="none" stroke="#e60c1e" stroke-width="1.8"/>
<circle cx="1389.0" cy="1855.5" r="1.5" fill="#e60c1e"/><path d="M1389.0,1855.5 l0.8,2.1 l-1.2,2.1 l1.2,2.1 l-0.8,2.1" fill="none" stroke="#e60c1e" stroke-width="1.8"/>
<circle cx="1414.4" cy="1854.2" r="1.5" fill="#e60c1e"/><path d="M1414.4,1854.2 l0.8,2.1 l-1.2,2.1 l1.2,2.1 l-0.8,2.1" fill="none" stroke="#e60c1e" stroke-width="1.8"/>
<path d="M1376.5,1824.5 C1374,1816 1374,1805 1380,1797 C1386,1789.5 1396,1787.5 1405,1788.5 C1414,1790 1421,1796 1424,1805 C1426,1812 1424,1819 1418,1824 C1412,1828 1404,1830 1396,1829.5 C1388,1829 1381,1828 1376.5,1824.5 Z" fill="#e3e4e4" stroke="#231815" stroke-width="2"/>
<path d="M1413.5,1819 L1441,1820.5 L1414.5,1823.5 Z" fill="#231815"/>
<path d="M1414,1821 L1427,1819.5" stroke="#d8c0a0" stroke-width="1"/>
<path d="M1418,1798 L1411.5,1820 M1421,1807 L1412,1819 M1423,1811 L1413,1820 M1405,1808 C1407,1804 1410,1804 1412,1806 M1403,1812 C1404,1815 1405,1817 1406,1818" fill="none" stroke="#231815" stroke-width="1.5"/>
<path d="M1388,1800 L1393,1797 L1391,1804 Z" fill="#231815"/>
<path d="M1431,1792.5 L1437.5,1790.5 L1433,1802 L1439.5,1800" fill="none" stroke="#231815" stroke-width="1.3"/>
<path d="M1440,1789.5 L1446.5,1787.5 L1442,1799 L1448.5,1797" fill="none" stroke="#231815" stroke-width="1.3"/>
<path d="M1449.5,1786 L1456,1784 L1451.5,1795.5 L1458,1793.5" fill="none" stroke="#231815" stroke-width="1.3"/>
</svg></body></html>
